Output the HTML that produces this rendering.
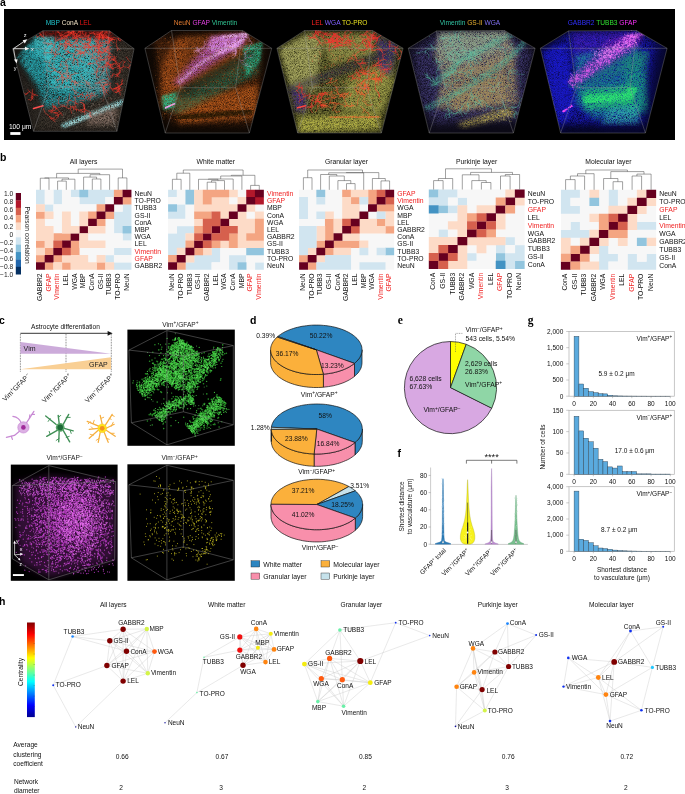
<!DOCTYPE html>
<html><head><meta charset="utf-8"><style>
html,body{margin:0;padding:0;background:#fff;}
body{width:685px;height:794px;overflow:hidden;}
svg{display:block;font-family:"Liberation Sans",sans-serif;opacity:0.999;}
</style></head><body>
<svg width="685" height="794" viewBox="0 0 685 794">
<text x="0" y="5.9" font-size="10.5" font-weight="bold">a</text>
<rect x="4" y="9" width="671" height="131" fill="#000"/>
<defs>
<filter id="b1" x="-20%" y="-20%" width="140%" height="140%"><feGaussianBlur stdDeviation="1"/></filter>
<filter id="b2" x="-20%" y="-20%" width="140%" height="140%"><feGaussianBlur stdDeviation="2"/></filter>
<filter id="b3" x="-30%" y="-30%" width="160%" height="160%"><feGaussianBlur stdDeviation="3.5"/></filter>
<filter id="t1" x="-30%" y="-30%" width="160%" height="160%" color-interpolation-filters="sRGB"><feGaussianBlur in="SourceGraphic" stdDeviation="1.2" result="b"/><feTurbulence type="fractalNoise" baseFrequency="1.6" numOctaves="2" seed="3" result="n"/><feColorMatrix in="n" type="matrix" values="0 0 0 0 1 0 0 0 0 1 0 0 0 0 1 2.2 0 0 0 -0.45" result="m"/><feComposite in="b" in2="m" operator="in"/></filter>
<filter id="t2" x="-10%" y="-10%" width="120%" height="120%" color-interpolation-filters="sRGB"><feGaussianBlur in="SourceGraphic" stdDeviation="2.5" result="b"/><feTurbulence type="fractalNoise" baseFrequency="1.5" numOctaves="2" seed="7" result="n"/><feColorMatrix in="n" type="matrix" values="0 0 0 0 1 0 0 0 0 1 0 0 0 0 1 2.2 0 0 0 -0.45" result="m"/><feComposite in="b" in2="m" operator="in"/></filter>
<filter id="t3" x="-10%" y="-10%" width="120%" height="120%" color-interpolation-filters="sRGB"><feGaussianBlur in="SourceGraphic" stdDeviation="4" result="b"/><feTurbulence type="fractalNoise" baseFrequency="1.4" numOctaves="2" seed="11" result="n"/><feColorMatrix in="n" type="matrix" values="0 0 0 0 1 0 0 0 0 1 0 0 0 0 1 2.0 0 0 0 -0.35" result="m"/><feComposite in="b" in2="m" operator="in"/></filter>
</defs>
<clipPath id="cv0"><polygon points="43.0,30.7 109.4,30.7 134.1,48.7 117.0,131.3 33.5,131.3 12.6,48.7"/></clipPath>
<g clip-path="url(#cv0)"><polygon points="43.0,30.7 109.4,30.7 134.1,48.7 117.0,131.3 33.5,131.3 12.6,48.7" fill="#161310" opacity="1"/>
<polygon points="107.5,36.4 136.0,45.9 122.7,131.3 33.5,131.3 37.3,100.9 111.3,93.3" fill="#3e372f" opacity="1" filter="url(#t3)"/>
<polygon points="16.4,59.2 37.3,87.6 43.0,110.4 35.4,131.3 22.1,100.9" fill="#2e2a25" opacity="1" filter="url(#t3)"/>
<polygon points="33.5,39.2 109.4,37.3 108.4,93.3 84.7,100.9 61.9,104.7 44.9,108.5 37.3,87.6 27.8,72.4 21.1,63.0 22.1,53.5" fill="#2498a2" opacity="1" filter="url(#t2)"/>
<polygon points="77.1,42.1 111.3,40.2 109.4,91.4 84.7,97.1" fill="#7a9ea0" opacity="0.55" filter="url(#t2)"/>
<polygon points="41.1,30.3 111.3,30.3 115.1,39.2 39.2,40.2" fill="#701410" opacity="0.95" filter="url(#t1)"/>
<polygon points="43.0,40.2 96.1,38.3 94.2,81.9 67.6,93.3 48.7,87.6" fill="#38bcc2" opacity="0.9" filter="url(#t2)"/>
<polygon points="33.5,36.4 54.3,36.4 50.5,63.0 35.4,55.4" fill="#46c8cc" opacity="0.8" filter="url(#t1)"/>
<path d="M18.3,57.3 L33.5,42.1" stroke="#2aa8b0" stroke-width="3" fill="none" stroke-linecap="round" stroke-linejoin="round" opacity="0.8" filter="url(#t1)"/>
<path d="M21.7,61.4 L36.1,45.9" stroke="#2aa8b0" stroke-width="3" fill="none" stroke-linecap="round" stroke-linejoin="round" opacity="0.8" filter="url(#t1)"/>
<path d="M25.1,65.6 L38.8,49.7" stroke="#2aa8b0" stroke-width="3" fill="none" stroke-linecap="round" stroke-linejoin="round" opacity="0.8" filter="url(#t1)"/>
<path d="M28.5,69.8 L41.4,53.5" stroke="#2aa8b0" stroke-width="3" fill="none" stroke-linecap="round" stroke-linejoin="round" opacity="0.8" filter="url(#t1)"/>
<path d="M32.0,74.0 L44.1,57.3" stroke="#2aa8b0" stroke-width="3" fill="none" stroke-linecap="round" stroke-linejoin="round" opacity="0.8" filter="url(#t1)"/>
<path d="M35.4,78.1 L46.8,61.1" stroke="#2aa8b0" stroke-width="3" fill="none" stroke-linecap="round" stroke-linejoin="round" opacity="0.8" filter="url(#t1)"/>
<path d="M38.8,82.3 L49.4,64.9" stroke="#2aa8b0" stroke-width="3" fill="none" stroke-linecap="round" stroke-linejoin="round" opacity="0.8" filter="url(#t1)"/>
<path d="M63.8,125.6 L122.7,101.9" stroke="#7cc4c8" stroke-width="5" fill="none" stroke-linecap="round" stroke-linejoin="round" opacity="1" filter="url(#t1)"/>
<path d="M67.6,124.8 L118.9,104.0" stroke="#d0f0f0" stroke-width="1.8" fill="none" stroke-linecap="round" stroke-linejoin="round" opacity="0.8" filter="url(#t1)"/>
<polygon points="86.6,114.2 117.0,105.7 115.1,123.7 88.5,125.6" fill="#a08478" opacity="0.7" filter="url(#t2)"/>
<path d="M77.3 37.1L78.4 36.4L79.3 35.4L80.1 34.4L80.5 33.2L80.4 31.9L80.9 30.6L81.4 29.5L82.0 28.3L82.7 27.2L83.7 26.4L84.5 25.4L85.4 24.5L86.0 23.3M84.5 25.4L85.5 24.6L86.6 23.9L87.3 22.8L88.2 21.8L88.5 20.6L88.3 19.3M88.3 19.3L89.5 18.8L90.3 17.8L91.4 17.1M85.5 24.6L86.5 25.5L87.8 25.8L88.9 26.5M83.7 26.4L83.4 25.2L83.8 23.9L83.6 22.6L82.9 21.6L82.3 20.4L81.3 19.6M82.9 21.6L82.6 20.3L81.7 19.3L80.6 18.6M116.7 39.8L116.6 41.1L116.1 42.3L116.2 43.6L116.6 44.9L116.7 46.2L117.0 47.4M117.0 47.4L118.0 48.3L119.0 49.1L120.0 49.9M118.0 48.3L117.5 49.5L117.5 50.8M105.0 33.5L105.9 34.5L106.3 35.8L106.7 37.0L107.5 38.0L108.4 38.9L108.8 40.2L109.2 41.4L108.9 42.7L108.2 43.7L107.7 45.0L107.7 46.3L108.0 47.5L108.2 48.8L108.4 50.1M108.2 48.8L107.2 49.7L106.0 50.1L104.7 49.9L103.4 49.9L102.3 50.5L101.5 51.5L100.3 52.1M100.3 52.1L99.7 50.9L99.3 49.7L99.6 48.4M101.5 51.5L100.2 51.5L99.0 50.9L98.1 50.0M108.0 47.5L107.1 48.5L106.5 49.7L105.7 50.7L104.5 51.3L103.5 52.0L102.3 52.7L101.1 52.9M101.1 52.9L100.8 54.2L100.4 55.4L100.4 56.7M100.4 56.7L99.4 57.6L98.3 58.1M100.8 54.2L101.2 55.4L101.8 56.6M105.7 50.7L106.6 51.6L107.2 52.7L108.2 53.6M107.7 46.3L106.9 47.3L106.6 48.6L105.8 49.6L104.6 50.2L103.7 51.1L103.1 52.2L102.5 53.4M106.6 48.6L105.3 48.9L104.0 48.7L102.8 48.5M102.8 48.5L101.6 49.2L100.7 50.1M108.9 42.7L107.7 43.0L106.4 43.1L105.2 43.7L104.2 44.5L103.0 45.0L102.1 45.9L101.0 46.6M102.1 45.9L100.8 45.4L99.7 44.9L98.4 44.6M99.7 44.9L98.4 45.3L97.1 45.4M100.8 45.4L99.6 45.9L98.8 46.8M106.7 37.0L107.9 37.6L108.6 38.7L109.2 39.9L109.4 41.1L109.5 42.4L110.0 43.6L109.8 44.9M108.6 38.7L108.2 39.9L108.1 41.2L107.5 42.4M107.9 37.6L108.8 38.6L109.6 39.5L110.5 40.5M110.5 40.5L111.6 39.8L112.9 39.4M78.7 42.1L79.9 41.8L81.2 42.1L82.2 42.9L83.1 43.9L83.9 44.8L84.9 45.7L85.4 46.9L85.4 48.2L85.4 49.5L85.8 50.7L86.2 52.0L87.2 52.9L88.1 53.8L88.7 54.9M83.9 44.8L83.8 46.1L84.4 47.3L85.0 48.5L85.0 49.8L85.1 51.1L84.6 52.3L84.0 53.4M84.0 53.4L82.8 53.0L81.5 53.1L80.2 53.4M81.5 53.1L80.3 52.8L79.0 52.9M82.8 53.0L81.7 53.8L80.6 54.4M85.1 51.1L84.1 51.8L83.0 52.6L81.9 53.3M83.0 52.6L83.6 53.7L84.0 55.0M84.0 55.0L83.3 56.0L82.2 56.7M82.2 42.9L83.4 43.4L84.7 43.5L85.9 43.8L87.2 43.6L88.4 43.2L89.5 42.4L90.6 41.8M90.6 41.8L90.6 40.5L90.4 39.2L90.4 37.9M118.8 40.2L118.6 38.9L118.1 37.7L118.0 36.4L118.5 35.2L119.2 34.1L119.9 33.0L120.5 31.9L120.4 30.6L120.8 29.4L121.2 28.1L121.4 26.8L121.1 25.5L120.2 24.6M119.2 34.1L119.4 32.9L120.0 31.7L120.5 30.5L121.1 29.4L122.0 28.4L123.2 28.0M118.5 35.2L118.5 33.9L118.4 32.6L118.8 31.4L119.6 30.3L120.2 29.2L120.3 27.9M118.6 38.9L119.3 37.8L120.4 37.1L121.6 36.6L122.9 36.3L124.1 36.0L125.4 36.5M120.4 37.1L121.3 38.0L121.6 39.3L122.2 40.4M121.6 39.3L122.9 39.0L124.1 38.6M124.1 38.6L125.4 38.9L126.6 39.1M119.3 37.8L120.4 38.5L121.7 38.6L122.9 39.1M122.9 39.1L124.2 39.1L125.5 39.3M120.4 38.5L120.4 39.8L120.7 41.0M66.7 36.7L65.4 36.8L64.1 36.5L62.9 37.0L62.0 37.9L61.3 39.0L60.6 40.1L60.1 41.3L59.9 42.6L60.1 43.9L60.9 44.9M60.9 44.9L60.3 46.0L59.4 47.0L58.8 48.1L58.3 49.4L57.9 50.6M58.8 48.1L59.0 49.4L58.8 50.7M59.4 47.0L58.3 46.2L57.5 45.2M62.0 37.9L61.0 38.7L59.7 39.1L58.6 39.7L57.3 40.0L56.0 40.3M100.1 32.9L99.6 34.0L99.4 35.3L99.2 36.6L99.4 37.9L99.0 39.1L98.7 40.4L98.5 41.7L98.4 43.0L97.7 44.1M98.5 41.7L99.6 42.4L100.7 43.0L101.4 44.1L102.0 45.3M100.7 43.0L102.0 43.0L103.3 42.7M103.3 42.7L104.6 42.7L105.9 42.7M99.2 36.6L100.4 37.1L101.7 37.0L103.0 37.1L104.2 37.6M103.0 37.1L103.2 38.4L103.2 39.7M99.4 35.3L99.5 36.6L99.7 37.9L99.3 39.2L99.2 40.5M99.6 34.0L99.2 35.3L99.1 36.6L98.8 37.8L99.0 39.1M44.8 38.4L43.9 37.5L42.9 36.7L42.1 35.6L41.1 34.7L40.2 33.8L39.5 32.8L38.3 32.2L37.4 31.2L36.2 30.8M37.4 31.2L36.3 31.8L35.5 32.9L34.8 34.0L34.1 35.1M41.1 34.7L39.9 35.2L38.8 35.9L37.9 36.8L36.7 37.4M37.9 36.8L36.8 36.0L36.1 34.9M42.9 36.7L41.6 36.2L40.7 35.4L40.2 34.1L39.8 32.9M103.9 35.5L102.9 36.4L102.2 37.5L101.5 38.5L100.3 39.2L99.1 39.5L98.0 40.3L96.8 40.6L95.8 41.4M102.9 36.4L101.8 35.7L100.6 35.4L99.3 35.0L98.1 34.6M76.5 40.9L75.4 41.5L74.2 42.0L73.0 42.6L71.7 42.5L70.5 42.0L69.2 41.9L68.0 41.5L67.0 40.6L66.4 39.5L65.7 38.3M67.0 40.6L65.8 41.3L64.8 42.0L64.1 43.1L63.1 43.9L62.6 45.1M63.1 43.9L61.8 44.1L60.6 43.7M60.6 43.7L59.5 44.3L58.8 45.4M69.2 41.9L68.7 40.7L68.4 39.5L67.8 38.3L67.0 37.2L65.9 36.6M70.5 42.0L69.6 42.9L68.6 43.8L67.8 44.8L66.6 45.2L65.7 46.2M65.7 46.2L65.7 47.5L65.0 48.6M68.6 43.8L67.4 43.6L66.1 43.4M67.4 43.6L66.4 42.7L66.0 41.5M97.6 41.0L97.7 42.2L97.3 43.5L96.7 44.6L95.9 45.7L94.7 46.2L93.4 46.4L92.2 46.1L90.9 46.4L89.8 47.0L89.1 48.2L88.3 49.1L87.9 50.4M88.3 49.1L88.8 50.3L89.5 51.5L89.9 52.7L89.9 54.0L90.1 55.3L91.0 56.2M92.2 46.1L91.0 46.8L89.8 47.1L88.5 47.2L87.3 47.6L86.0 48.0L84.8 48.5M88.5 47.2L87.2 47.0L85.9 47.1L84.7 47.5M96.7 44.6L97.0 45.9L97.1 47.2L96.6 48.4L95.8 49.5L95.0 50.5L94.6 51.7M95.0 50.5L95.6 51.7L96.6 52.4L97.8 52.9M77.3 39.0L77.3 40.3L77.0 41.6L76.9 42.9L76.3 44.0L75.6 45.1L75.3 46.3L75.6 47.6L75.2 48.9L75.4 50.2L75.1 51.4L74.7 52.6L73.9 53.7L73.6 54.9L73.2 56.2M73.2 56.2L73.6 57.4L73.9 58.7L74.1 59.9L74.2 61.2L73.9 62.5L73.7 63.8L72.9 64.9M74.1 59.9L73.4 61.0L72.7 62.1L71.9 63.1M73.9 58.7L75.0 59.2L76.3 59.6L77.5 60.0M76.3 59.6L76.9 60.7L78.0 61.5M78.0 61.5L77.7 62.7L77.5 64.0M77.5 64.0L78.2 65.1L78.4 66.4M73.9 53.7L72.6 53.4L71.3 53.3L70.0 53.1L69.0 52.4L67.9 51.7L66.6 51.6L65.3 51.8M69.0 52.4L67.9 53.1L66.6 53.4L65.4 53.9M70.0 53.1L69.0 52.4L67.9 51.7L67.3 50.6M69.0 52.4L68.3 51.3L68.2 50.0M75.6 47.6L76.9 47.5L78.1 47.2L79.2 46.5L80.5 46.5L81.8 46.6L82.9 47.3L83.8 48.3M82.9 47.3L84.1 46.6L85.4 46.5L86.5 47.1M76.9 42.9L77.8 43.8L78.6 44.8L79.0 46.1L79.7 47.2L80.0 48.4L80.8 49.5L81.0 50.7M77.8 43.8L78.4 44.9L79.4 45.7L80.5 46.5M80.5 46.5L81.4 45.6L82.1 44.5M77.3 40.3L76.2 41.0L75.4 42.0L74.2 42.6L73.5 43.7L72.5 44.5L71.3 44.8L70.2 45.5M75.4 42.0L75.3 43.3L74.9 44.5L74.5 45.8M76.2 41.0L75.5 39.9L74.9 38.8L73.9 38.0M55.5 37.6L55.5 38.9L55.3 40.2L55.4 41.5L55.0 42.7L54.9 44.0L54.2 45.1L53.9 46.4L53.2 47.5L52.3 48.4L51.9 49.6L51.5 50.9L51.4 52.1L51.1 53.4M51.4 52.1L50.2 52.7L48.9 52.8L47.6 52.7L46.3 52.8L45.0 52.9L43.7 52.9M51.9 49.6L52.9 50.5L53.6 51.5L53.8 52.8L54.1 54.1L54.9 55.1L55.2 56.4M55.2 56.4L54.4 57.4L53.2 57.9L52.0 58.1M53.8 52.8L54.6 53.8L55.8 54.4L57.0 54.9M57.0 54.9L58.1 54.1L59.2 53.5M59.2 53.5L59.9 54.5L60.6 55.7M53.9 46.4L54.3 47.6L55.1 48.6L55.4 49.9L55.8 51.1L56.6 52.2L57.7 52.8M55.8 51.1L55.6 52.4L55.6 53.7L55.0 54.9M54.2 45.1L53.1 44.5L51.9 43.9L50.6 43.8L49.3 43.5L48.1 43.1L46.8 43.3M46.8 43.3L45.5 42.9L44.2 43.1L43.0 42.7M50.6 43.8L49.4 44.4L48.5 45.3L47.4 46.0M51.9 43.9L51.6 42.7L50.9 41.6L49.8 40.9M74.1 36.1L74.0 34.9L74.1 33.6L73.8 32.3L73.2 31.2L72.4 30.1L72.1 28.8L71.6 27.7L70.7 26.7L69.8 25.8L68.6 25.4L67.4 24.9L66.1 24.9L64.8 25.1L63.6 25.7M69.8 25.8L69.5 24.5L69.3 23.2L68.7 22.1L67.8 21.1L66.7 20.5L65.5 20.1L64.3 19.6M70.7 26.7L69.4 26.4L68.2 26.2L67.1 25.5L66.4 24.3L65.4 23.6L64.7 22.4L64.0 21.4M65.7 38.9L66.2 37.7L67.0 36.7L67.7 35.6L67.9 34.3L68.2 33.0L68.4 31.7L69.1 30.7M90.6 37.8L89.9 38.9L89.4 40.1L89.6 41.4L89.9 42.6L90.7 43.7L91.7 44.4L93.0 44.9L94.2 45.3L95.2 46.2L96.4 46.5L97.6 47.0L98.5 48.0M98.5 48.0L98.4 49.3L98.5 50.6L98.6 51.9L98.8 53.1L98.5 54.4L97.7 55.4M96.4 46.5L97.6 45.9L98.7 45.2L99.7 44.4L100.3 43.2L100.7 42.0L101.0 40.7M95.2 46.2L95.0 47.4L95.2 48.7L95.6 50.0L96.3 51.0L97.4 51.8L98.7 52.0M93.0 44.9L93.6 46.0L94.6 46.8L95.4 47.8L96.5 48.5L97.8 48.8L99.0 49.4M96.5 48.5L97.8 48.4L99.0 47.8L100.2 47.3M99.0 47.8L100.3 48.1L101.3 48.9M97.8 48.4L98.0 47.1L98.7 46.0M98.0 47.1L99.2 46.5L100.5 46.3M93.6 46.0L93.0 47.2L92.3 48.3L92.1 49.6M92.1 49.6L92.6 50.8L93.1 52.0M93.1 52.0L94.3 52.5L95.5 53.0M89.6 41.4L89.3 42.6L88.9 43.9L89.1 45.2L89.9 46.2L91.0 46.9L91.6 48.0M89.1 45.2L88.6 46.4L88.0 47.6L87.9 48.9M89.9 38.9L88.8 38.3L87.5 38.2L86.2 38.4L84.9 38.5L83.8 39.3L82.5 39.4M94.2 33.8L95.5 33.7L96.6 33.0L97.9 32.9L99.1 33.2L100.4 33.3L101.6 33.9L102.3 35.0L102.7 36.2L102.5 37.5L102.5 38.8L102.3 40.1L102.3 41.4L102.5 42.7L102.1 43.9M102.5 37.5L103.7 38.2L104.6 39.1L105.2 40.2L105.7 41.4L106.3 42.6L107.3 43.3L108.6 43.4M108.6 43.4L109.5 42.4L110.1 41.2L111.1 40.5M109.5 42.4L109.5 41.1L110.0 39.9M110.0 39.9L111.3 39.6L112.5 39.1M105.7 41.4L107.0 41.6L108.2 41.7L109.5 41.3M102.3 35.0L101.4 36.0L100.4 36.8L99.4 37.6L98.4 38.4L97.4 39.3L96.3 40.0L95.3 40.9M96.3 40.0L96.9 41.2L97.6 42.3L97.9 43.6M96.9 41.2L96.3 42.3L95.9 43.6M99.4 37.6L98.1 37.9L96.8 38.1L95.6 37.9M97.9 32.9L98.0 34.1L97.7 35.4L96.8 36.3L96.1 37.5L95.6 38.7L94.6 39.5L93.9 40.6M96.8 36.3L97.6 37.3L98.1 38.5L99.0 39.5M107.9 39.5L106.8 38.7L105.7 38.1L104.9 37.1L103.9 36.2L103.1 35.2L101.8 34.8L100.6 34.7M103.1 35.2L104.0 34.4L104.6 33.2L105.2 32.0M105.2 32.0L106.4 32.4L107.6 32.9M106.8 38.7L106.1 37.6L105.1 36.8L103.8 36.6M62.6 34.6L61.4 34.1L60.4 33.3L59.2 32.7L58.0 32.2L57.1 31.3L56.1 30.5L55.6 29.2L55.4 28.0L55.3 26.7L55.7 25.4M58.0 32.2L58.1 30.9L58.1 29.6L58.0 28.3L58.0 27.0L57.4 25.8M64.3 35.7L65.6 35.6L66.9 35.3L68.1 35.5L69.4 35.3L70.6 34.7L71.3 33.6L71.9 32.4L72.6 31.4L73.8 30.8L74.4 29.6M69.4 35.3L70.1 34.2L70.7 33.1L71.5 32.0L72.7 31.5L74.0 31.7M65.6 35.6L66.8 35.1L68.1 34.9L69.2 34.2L70.1 33.3L70.8 32.2M58.9 34.9L60.0 35.5L61.3 35.4L62.6 35.5L63.7 36.2L64.3 37.4L64.4 38.7L64.9 39.8L65.7 40.9L65.9 42.2L66.1 43.5L66.2 44.8L66.9 45.9M66.2 44.8L67.3 45.5L68.6 45.8L69.8 45.5L71.1 45.1L72.3 44.7L73.3 43.8M66.1 43.5L67.3 43.9L68.5 44.2L69.7 44.8L70.5 45.8L71.7 46.3L72.7 47.1M72.7 47.1L74.0 46.8L75.3 46.6L76.6 46.8M71.7 46.3L72.5 45.4L73.4 44.4L74.2 43.4M65.9 42.2L65.3 43.4L64.7 44.5L64.4 45.8L64.4 47.1L64.5 48.4L64.7 49.6M64.7 44.5L65.2 45.7L65.9 46.9L66.1 48.1M65.2 45.7L66.2 46.6L67.4 47.1M66.2 46.6L66.2 47.9L66.7 49.1M66.2 47.9L65.2 48.8L64.0 49.1M106.7 33.1L106.6 31.8L106.4 30.5L105.7 29.4L105.4 28.2L105.2 26.9L104.5 25.8M105.7 29.4L105.6 28.1L105.1 26.9L104.1 26.1M104.1 26.1L102.8 26.5L101.5 26.6M102.8 26.5L101.9 25.5L100.7 25.1M100.1 37.3L101.4 37.2L102.6 37.8L103.9 37.8L105.2 37.8L106.4 37.5L107.7 37.2L109.0 37.2L110.1 37.8L111.0 38.8L111.6 39.9L112.0 41.2L112.8 42.2L114.0 42.7M107.7 37.2L108.8 37.8L110.1 37.9L111.4 37.9L112.6 38.5L113.6 39.4L114.6 40.1M81.8 36.2L80.7 35.4L79.4 35.3L78.2 35.0L77.1 34.3L76.0 33.7L74.8 33.1L73.5 32.9L72.2 33.0M72.2 33.0L71.0 32.4L69.9 31.7L68.6 31.6L67.3 31.7M75.8 37.7L74.9 36.8L74.0 35.8L73.4 34.7L72.4 33.8L71.3 33.2L70.0 33.0L68.9 32.4L67.6 32.4L66.3 32.8L65.1 33.1L64.1 34.0L63.0 34.7M71.3 33.2L71.6 31.9L71.7 30.6L72.1 29.4L73.0 28.4L73.6 27.2L73.5 25.9M73.4 34.7L73.6 33.4L73.4 32.1L72.7 31.1L72.5 29.8L72.8 28.5L73.2 27.3M72.5 29.8L73.4 28.9L74.5 28.1L75.7 27.8M73.4 32.1L73.5 30.8L73.3 29.5L72.8 28.3M71.1 39.0L72.1 38.3L73.4 38.0L74.7 38.4L76.0 38.5L77.3 38.4L78.4 37.8L79.7 37.4L80.9 37.7L82.0 38.5L83.0 39.3L83.9 40.2L84.2 41.5L85.0 42.5L85.8 43.5M85.0 42.5L85.9 43.4L87.1 43.9L88.4 44.1L89.4 44.9L89.9 46.1L90.0 47.4L90.6 48.5M83.0 39.3L84.3 39.4L85.6 39.7L86.6 40.5L87.8 40.7L89.1 40.3L90.3 39.9L91.6 39.9M89.1 40.3L88.7 39.1L88.7 37.8L88.5 36.5M88.7 39.1L87.5 39.7L86.5 40.6M87.8 40.7L88.1 42.0L88.1 43.3L88.4 44.6M86.6 40.5L87.4 39.5L88.0 38.4L88.1 37.1M87.4 39.5L88.7 39.8L90.0 40.1M79.7 37.4L81.0 37.6L82.2 37.1L83.5 37.0L84.5 36.2L85.2 35.1L85.8 34.0L85.9 32.7M76.0 38.5L76.6 37.3L76.7 36.0L76.6 34.7L76.2 33.5L75.4 32.5L74.7 31.4L73.6 30.8M76.7 36.0L78.0 36.2L79.2 35.8L80.2 34.9M78.0 36.2L79.2 35.8L80.5 36.1M73.4 38.0L74.5 37.2L75.2 36.1L76.1 35.2L77.0 34.3L77.5 33.1L78.5 32.2L79.6 31.6M79.6 31.6L80.8 31.3L82.1 31.0L83.4 31.1M78.5 32.2L78.8 31.0L79.7 30.0L81.0 29.6M78.8 31.0L78.0 30.0L77.4 28.8M77.4 28.8L78.6 28.2L79.8 27.8M75.2 36.1L74.4 35.1L74.3 33.8L73.5 32.7M74.5 37.2L75.7 37.7L76.9 38.1L77.8 39.0M77.8 39.0L77.4 40.3L77.1 41.5M75.7 37.7L76.6 36.8L77.0 35.6M89.9 34.9L88.8 35.6L87.6 36.1L86.3 36.1L85.1 35.7L84.1 34.9L83.0 34.1L82.4 33.0L82.5 31.7L82.5 30.4L82.9 29.1L83.5 28.0M88.8 35.6L87.5 35.9L86.5 36.7L85.3 37.1L84.0 37.2L82.7 37.5M107.2 37.2L108.5 37.6L109.6 38.2L110.9 38.6L112.1 38.3L113.3 37.7L114.6 37.5L115.8 37.9L117.1 38.2L118.1 39.0L119.1 39.8L119.7 40.9M69.0 32.9L68.8 34.2L68.1 35.3L67.1 36.1L65.9 36.5L64.8 37.4L64.0 38.4L62.9 38.9L61.6 39.3L60.4 39.8L59.1 39.8L57.9 40.3L56.8 41.0L56.0 42.0M62.9 38.9L61.9 38.1L61.2 37.0L60.8 35.8L60.3 34.6L59.6 33.4L58.5 32.8M80.4 41.2L81.2 42.2L82.0 43.3L83.1 44.0L84.4 44.3L85.7 44.2L87.0 44.3L88.1 45.0L88.7 46.2L89.6 47.1L90.3 48.2L90.7 49.4M84.4 44.3L85.4 45.1L86.3 46.0L87.0 47.1L88.1 47.9L89.3 48.4M86.3 46.0L87.4 45.2L88.6 44.9M87.4 45.2L88.7 45.4L89.7 46.2M112.5 31.6L111.3 31.9L110.0 32.1L108.8 31.8L107.5 31.7L106.4 31.0L105.1 30.7L103.8 31.0L102.6 31.2L101.4 31.8L100.6 32.8L100.3 34.1L99.4 35.1L99.1 36.3M99.1 36.3L97.9 36.7L96.7 36.5L95.5 35.8L94.7 34.8L94.3 33.6L93.4 32.6M100.6 32.8L101.2 34.0L101.9 35.0L102.3 36.3L102.6 37.5L103.2 38.7L103.1 40.0M103.8 31.0L103.5 29.8L102.9 28.6L102.8 27.3L102.1 26.2L101.3 25.3L100.4 24.3M102.1 26.2L102.7 25.1L102.9 23.8L103.2 22.5M102.9 28.6L104.0 27.9L105.0 27.1L106.2 26.8M73.4 38.3L73.0 37.1L72.7 35.9L72.3 34.6L71.6 33.5L70.5 32.8L69.7 31.8L68.7 30.9L67.6 30.3L66.3 30.1L65.2 29.5M115.5 39.2L114.3 39.6L113.0 39.6L111.7 39.4L110.5 38.8L109.4 38.2L108.4 37.3L107.5 36.4L106.3 35.9L105.0 35.6L104.0 34.8L103.1 33.9L102.2 33.0L101.1 32.3M102.2 33.0L102.3 31.7L102.5 30.4L102.8 29.1L102.8 27.8L102.3 26.7L102.0 25.4M102.3 31.7L101.8 30.5L101.0 29.5L100.2 28.4M100.2 28.4L100.4 27.1L100.7 25.9M89.4 33.0L90.6 33.4L91.8 33.8L93.1 33.5L94.4 33.8L95.6 34.3L96.9 34.6L98.2 34.4M90.6 33.4L91.6 32.7L92.9 32.3L94.2 32.0" stroke="#ff3a2e" stroke-width="0.5" fill="none" stroke-linecap="round" stroke-linejoin="round" opacity="0.95"/>
<path d="M105.8 52.2L105.0 51.2L104.6 50.0L103.8 49.0L103.0 47.9L102.3 46.8L101.3 45.9L100.3 45.2L99.2 44.5M99.2 44.5L98.5 43.4L97.5 42.6L96.4 41.9L95.2 41.6M95.2 41.6L94.8 40.4L94.2 39.2M111.0 83.5L109.8 82.9L108.8 82.1L107.8 81.3L106.8 80.4L105.7 79.7L104.5 79.3L103.2 79.6L101.9 79.7L100.8 80.4L99.7 81.1L98.7 82.0L97.6 82.6L96.4 83.0L95.1 83.4M110.3 65.0L109.0 65.2L107.7 64.9L106.4 64.9L105.1 65.1L104.1 65.9L103.0 66.7L101.7 66.9L100.5 67.1L99.2 66.7L98.3 65.8L97.9 64.6L97.2 63.5L96.6 62.3L96.6 61.0M96.6 61.0L95.6 60.2L94.7 59.3L93.8 58.4L93.2 57.2L92.6 56.1L92.2 54.8L92.5 53.5M93.8 58.4L92.6 58.0L91.3 57.9L90.0 58.3M92.6 58.0L91.5 58.7L90.8 59.8M94.7 59.3L95.3 58.2L95.4 56.9L95.9 55.7M96.6 62.3L97.5 61.3L98.6 60.7L99.7 60.1L101.0 60.0L102.3 60.3L103.6 60.0L104.8 59.5M103.6 60.0L104.1 58.8L104.8 57.7L105.6 56.7M105.6 56.7L106.8 56.2L107.8 55.4M106.8 56.2L107.8 57.0L108.3 58.3M97.9 64.6L96.7 64.0L95.7 63.2L94.4 63.0L93.1 62.9L91.9 63.5L90.8 64.2L89.6 64.7M91.9 63.5L90.6 63.3L89.3 63.1L88.0 63.1M89.3 63.1L88.3 63.9L87.5 64.9M90.6 63.3L89.4 63.7L88.4 64.6M99.2 66.7L98.2 67.6L97.5 68.7L97.3 70.0L97.5 71.2L97.1 72.5L96.6 73.6L96.5 74.9M111.5 45.4L110.2 45.7L109.0 46.2L107.8 46.7L106.7 47.4L105.8 48.3L105.3 49.5L104.4 50.4M106.7 47.4L105.5 47.7L104.3 48.3L103.4 49.2M107.8 46.7L107.8 48.0L107.6 49.3L106.8 50.3M109.0 46.2L108.9 47.5L109.3 48.7L109.4 50.0M117.9 68.4L119.1 68.1L120.4 68.1L121.6 67.5L122.8 67.1L124.1 66.7L125.4 67.0L126.7 67.0L127.9 67.5L129.0 68.2L129.7 69.3M127.9 67.5L129.1 67.0L129.9 65.9L130.8 65.0L131.7 64.1L132.4 63.0M131.7 64.1L132.9 64.8L133.6 65.9M129.9 65.9L129.2 64.8L128.3 63.9M122.8 67.1L123.3 65.8L123.2 64.5L123.7 63.4L124.4 62.3L125.5 61.5M124.4 62.3L123.7 61.2L122.8 60.3M109.7 84.6L110.3 85.7L110.5 87.0L111.1 88.2L112.2 88.8L113.5 88.8L114.8 88.6L116.1 88.2L117.2 87.6L118.5 87.3L119.4 86.3M114.8 88.6L115.7 89.5L116.8 90.2L118.1 90.5L119.1 91.3L119.8 92.4M119.8 92.4L120.1 93.7L120.2 95.0M113.5 88.8L114.8 88.3L115.9 87.8L117.2 87.7L118.4 88.2L119.7 88.5M109.4 87.6L110.6 88.0L111.5 89.0L112.3 90.0L113.2 91.0L114.2 91.8L115.4 92.3L116.7 92.3L117.9 91.8L118.8 90.9L119.5 89.8L119.7 88.5L120.4 87.4M119.5 89.8L119.0 88.6L118.9 87.3L119.4 86.1L120.3 85.2L121.4 84.4L122.6 83.8M121.4 84.4L121.5 83.1L121.9 81.9L122.5 80.7M121.9 81.9L122.1 80.6L122.2 79.3M119.4 86.1L120.3 85.1L121.4 84.5L122.5 83.8M116.7 92.3L117.7 91.4L118.2 90.2L118.7 89.0L119.1 87.8L118.9 86.5L118.9 85.2M118.2 90.2L117.3 89.3L116.4 88.3L116.0 87.1M115.4 92.3L116.7 92.0L117.8 91.4L119.1 91.4L120.3 90.8L121.4 90.2L122.4 89.3M112.3 90.0L113.4 89.3L114.7 88.9L115.6 88.0L116.8 87.6L118.0 87.0L119.2 86.5M118.0 87.0L118.0 85.7L117.9 84.4L117.8 83.1M117.9 84.4L116.8 83.8L115.5 83.5M114.7 88.9L115.9 88.8L117.2 89.2L118.5 89.1M118.5 89.1L119.7 88.5L120.6 87.7M112.9 56.6L111.6 56.7L110.3 56.9L109.0 56.7L107.7 57.0L106.7 57.8L106.2 59.0L105.9 60.2L105.8 61.5L106.4 62.7L107.5 63.4L108.7 63.7L110.0 63.9L111.2 64.4M107.5 63.4L107.3 64.7L106.7 65.9L105.7 66.7L104.5 67.2L103.3 67.6L102.0 67.7M104.5 67.2L103.7 68.2L103.6 69.5L104.0 70.8M106.7 65.9L107.9 66.5L108.8 67.5L109.5 68.6M106.2 59.0L104.9 59.1L103.6 59.3L102.3 59.3L101.0 59.2L99.7 59.1L98.4 59.3M102.3 59.3L101.4 60.2L100.3 61.0L99.1 61.5M113.0 68.8L111.9 68.1L111.2 67.0L110.5 65.9L109.5 65.1L108.5 64.2L108.1 62.9L107.8 61.7L107.9 60.4L108.3 59.2L109.3 58.3L110.5 57.9M108.3 59.2L109.4 58.4L110.0 57.3L110.2 56.0L109.6 54.8L109.3 53.6M108.1 62.9L108.7 61.8L109.1 60.5L109.2 59.2L109.8 58.1L110.3 56.9M110.5 65.9L109.9 64.7L108.9 64.0L107.6 63.7L106.4 64.0L105.2 64.6M107.6 63.7L106.9 62.6L105.9 61.8M105.8 63.0L107.1 62.7L108.2 62.0L109.5 61.8L110.5 61.0L111.3 60.0L112.5 59.5L113.8 59.4M113.8 59.4L114.8 58.5L115.7 57.6L116.4 56.5M107.7 84.2L106.4 84.6L105.2 85.2L104.2 85.9L103.6 87.1L103.3 88.3L102.8 89.6L103.0 90.8L103.8 91.9L104.4 93.0L105.3 94.0L106.1 95.0M103.0 90.8L103.6 92.0L103.8 93.3L104.0 94.6L104.2 95.9L103.9 97.1M103.3 88.3L104.5 88.7L105.7 89.1L106.6 90.1L107.9 90.4L108.9 91.3M106.6 90.1L106.2 91.3L106.2 92.6M121.7 61.7L120.6 62.5L119.9 63.6L119.6 64.8L119.4 66.1L119.6 67.4L119.9 68.6L119.9 69.9L120.0 71.2L120.0 72.5L119.5 73.7L118.6 74.6L117.9 75.8M120.0 72.5L118.8 72.9L117.6 73.5L116.6 74.3L115.3 74.5L114.1 74.0L112.8 74.1M112.8 74.1L112.7 75.4L112.2 76.6L111.5 77.7M112.7 75.4L111.4 75.8L110.2 76.1M116.6 74.3L117.2 75.5L118.1 76.3L119.3 76.9M119.9 69.9L120.1 71.2L119.6 72.5L118.8 73.5L117.9 74.4L117.5 75.6L117.2 76.9M117.9 74.4L117.1 75.4L116.1 76.2L114.9 76.8M119.4 66.1L118.2 66.7L116.9 66.9L115.7 67.4L114.5 67.8L113.5 68.6L112.2 69.0M112.2 69.0L111.4 68.0L110.8 66.8L110.1 65.8M110.8 66.8L110.9 65.5L110.3 64.4M111.4 68.0L110.2 67.6L109.0 67.0M113.5 68.6L112.7 67.5L112.7 66.2L111.9 65.1M118.2 66.7L117.2 65.8L116.4 64.9L115.1 64.5M119.9 63.6L118.6 63.2L117.4 62.8L116.4 61.9L115.3 61.2L114.2 60.5L112.9 60.5M114.2 60.5L114.0 59.3L114.2 58.0L113.9 56.7M114.0 59.3L112.8 58.8L111.5 58.6M112.8 58.8L111.7 59.5L110.5 59.9M122.6 69.9L121.7 69.0L120.5 68.4L119.7 67.4L118.9 66.4L118.4 65.2L117.4 64.3L116.5 63.4L116.0 62.2L115.0 61.3L114.1 60.4L113.7 59.2M116.0 62.2L116.1 60.9L115.8 59.6L115.3 58.4L114.5 57.4L114.3 56.1M118.4 65.2L117.6 64.2L116.5 63.5L115.2 63.3L114.0 63.7L112.7 63.8M114.0 63.7L113.0 64.5L112.0 65.3M113.0 64.5L111.7 64.3L110.5 64.8M126.4 57.0L127.2 58.1L127.9 59.2L128.6 60.3L129.5 61.2L130.5 62.0L131.7 62.6L133.0 62.5L134.3 62.8L135.5 63.2L136.6 63.9L137.8 64.4L139.1 64.6M139.1 64.6L139.7 63.5L140.3 62.3L141.4 61.6L142.6 61.2L143.6 60.4L144.2 59.2M143.6 60.4L144.2 59.2L144.4 57.9L144.7 56.7M135.5 63.2L135.9 62.0L136.3 60.7L137.1 59.7L137.5 58.5L137.2 57.2L137.5 55.9M101.1 85.3L101.8 86.4L102.9 87.1L103.7 88.1L104.1 89.4L104.6 90.5L105.7 91.3L106.7 92.0L107.3 93.2L108.1 94.2M112.7 54.9L111.5 54.5L110.5 53.6L109.3 53.3L108.0 53.0L107.0 52.1L105.8 51.8L104.5 51.4M106.3 63.5L105.7 64.7L105.7 66.0L106.4 67.1L106.5 68.4L106.5 69.7L106.6 71.0L106.6 72.3L107.1 73.5L107.4 74.7L108.1 75.8L108.5 77.1L109.1 78.2L109.8 79.3M111.6 48.3L111.0 49.4L110.0 50.2L108.9 50.9L107.8 51.6L106.5 51.5L105.2 51.5L104.0 52.1L102.8 52.6L101.5 52.5L100.3 52.2M101.5 52.5L100.6 51.6L99.8 50.6L99.1 49.5L98.5 48.3L98.1 47.1M98.5 48.3L99.4 47.4L99.7 46.1M99.8 50.6L98.7 51.4L98.0 52.5M98.0 52.5L98.1 53.8L97.5 55.0M108.9 50.9L109.2 52.2L109.0 53.5L108.7 54.7L108.5 56.0L108.8 57.3M109.2 52.2L110.2 53.0L111.1 54.0" stroke="#ff3a2e" stroke-width="0.5" fill="none" stroke-linecap="round" stroke-linejoin="round" opacity="0.95"/>
<path d="M58.0 86.3L58.9 85.4L60.2 85.1L61.3 84.4L62.3 83.5L62.9 82.4L63.2 81.1L63.0 79.8L63.5 78.6L64.4 77.7M62.9 82.4L62.4 81.2L62.1 80.0L61.5 78.8L61.1 77.6M62.3 83.5L62.3 82.2L62.7 81.0L62.4 79.7L62.0 78.5M77.9 73.5L76.6 73.3L75.4 73.0L74.1 73.2L73.1 74.1L71.8 74.4L70.6 74.1L69.4 73.5L68.5 72.6L67.9 71.4L67.5 70.2L67.5 68.9L67.0 67.7L66.5 66.5L65.8 65.4M65.8 65.4L66.3 64.2L66.5 63.0L66.7 61.7L67.1 60.4L68.1 59.6L69.0 58.7L70.1 58.0M68.5 72.6L67.3 73.0L66.1 73.5L64.9 73.9L63.6 74.2L62.3 74.5L61.1 74.0L59.8 74.1M62.3 74.5L61.9 75.7L61.1 76.7L60.9 78.0M61.1 76.7L62.3 77.3L63.1 78.3M61.9 75.7L62.1 77.0L62.8 78.1M67.3 73.0L67.2 74.3L67.6 75.5L68.1 76.8M76.6 73.3L75.4 73.7L74.2 74.3L73.0 74.8L71.8 75.2L70.9 76.2L70.1 77.1L69.6 78.4M71.7 68.0L70.6 67.3L69.6 66.4L68.4 65.9L67.4 65.2L66.2 64.6L65.4 63.5L65.4 62.2L65.5 60.9L66.2 59.9L66.9 58.8M66.9 58.8L68.1 59.3L69.4 59.2L70.5 58.5L71.8 58.2L72.8 57.4M70.5 58.5L71.1 59.7L71.4 60.9M73.7 90.7L72.9 89.8L72.2 88.7L71.4 87.7L70.2 87.1L69.0 86.5L67.8 86.0L66.5 85.8L65.3 86.1L64.2 86.9M85.9 56.9L85.8 55.6L85.4 54.4L84.9 53.2L84.1 52.2L82.9 51.6L81.7 51.4L80.4 51.2L79.1 51.0L78.0 50.3L76.7 50.0M80.4 51.2L79.9 52.4L79.3 53.6L78.2 54.3L77.0 54.7L75.8 55.1M79.9 52.4L80.3 53.6L81.2 54.6M82.9 51.6L81.7 51.4L80.4 51.4L79.1 51.6L77.8 51.4L76.6 50.8M77.8 51.4L77.1 50.3L75.9 49.7M84.1 52.2L82.8 52.4L81.6 52.7L80.3 53.1L79.1 53.5L77.8 53.5M80.7 48.4L80.0 49.6L79.0 50.4L78.7 51.7L78.1 52.9L77.9 54.1L77.3 55.3L76.7 56.5M78.1 52.9L76.9 53.3L75.9 54.1L74.7 54.6M75.9 54.1L75.9 55.4L75.8 56.7M79.0 50.4L77.7 50.4L76.5 50.6L75.4 51.3M97.7 95.5L96.4 95.9L95.1 96.1L93.9 96.4L92.7 97.0L91.4 97.0L90.1 97.3L88.9 97.7M95.1 96.1L94.5 94.9L94.4 93.7L94.8 92.5M72.2 81.1L71.8 82.3L71.4 83.5L71.6 84.8L71.9 86.1L72.7 87.1L72.8 88.4L73.3 89.6L74.0 90.7L74.5 91.9L74.5 93.2M74.5 93.2L75.8 93.5L77.0 94.1L77.7 95.1L78.2 96.3L78.5 97.6M73.3 89.6L74.3 90.4L75.4 91.1L76.3 92.1L77.6 92.5L78.8 92.8M76.3 92.1L75.7 93.2L74.6 93.9M75.4 91.1L76.5 90.3L77.5 89.5M79.8 52.5L80.0 53.8L80.2 55.1L79.9 56.3L79.9 57.6L80.2 58.9L80.8 60.0L81.2 61.3M81.2 61.3L82.3 61.9L83.6 62.3L84.9 62.1M79.9 56.3L79.0 57.3L78.3 58.4L77.7 59.5M96.8 84.1L98.0 83.5L99.1 83.0L100.3 82.3L101.6 82.3L102.8 82.7L104.1 82.5L105.3 82.1L106.5 81.5L107.6 80.8L108.5 80.0L109.4 78.9L110.2 77.9M102.8 82.7L104.1 82.4L105.4 82.6L106.6 83.0L107.7 83.6L109.0 84.1L110.2 84.4M104.1 82.4L105.1 83.2L105.9 84.2L106.5 85.4M99.1 83.0L100.3 83.6L101.3 84.4L102.3 85.2L103.4 85.9L104.2 87.0L104.5 88.2M104.2 87.0L103.9 88.2L104.0 89.5L104.5 90.7M103.4 85.9L104.4 85.1L105.6 84.5L106.9 84.4M105.6 84.5L106.8 84.9L108.1 85.0M104.4 85.1L105.7 85.2L107.0 85.0M101.3 84.4L101.2 85.7L101.4 87.0L102.2 88.0M96.8 76.9L96.5 75.6L96.3 74.3L96.5 73.0L96.3 71.8L96.3 70.5L96.6 69.2L97.5 68.2L98.1 67.1L98.8 66.0L99.4 64.8L99.8 63.6L99.8 62.3M86.7 52.5L88.0 52.6L89.1 53.2L90.2 53.9L91.4 54.4L92.6 54.9L93.5 55.9L94.5 56.7L95.5 57.5L96.8 57.8L98.1 57.7L99.2 57.1L100.4 56.7L101.7 56.9M101.7 56.9L102.6 55.9L103.7 55.2L104.3 54.1L105.2 53.1L105.7 51.9L105.7 50.6M98.1 57.7L98.7 56.6L98.7 55.3L99.1 54.0L98.9 52.8L99.1 51.5L99.6 50.3M99.1 54.0L98.3 53.0L97.4 52.1L96.8 50.9M95.5 57.5L96.8 57.8L97.9 58.5L99.1 58.9L100.4 58.7L101.5 58.0L102.2 56.9M91.4 54.4L92.4 53.6L93.5 52.9L94.6 52.2L95.1 51.0L95.1 49.7L94.9 48.4M54.7 69.0L53.4 68.6L52.2 68.3L51.0 67.8L49.8 67.3L49.1 66.2L48.9 64.9L49.5 63.7L49.7 62.4L50.2 61.2L50.2 59.9L50.4 58.6M49.7 62.4L48.4 62.3L47.3 61.7L46.0 61.3L44.7 61.3L43.5 61.1M103.1 71.9L102.1 72.6L101.3 73.7L100.8 74.9L100.0 75.9L99.1 76.8L98.0 77.5L96.8 78.1M92.3 74.2L93.5 73.9L94.7 73.3L95.5 72.3L96.7 71.8L97.9 71.3L99.1 70.8L100.4 71.0L101.7 71.1L103.0 71.2L104.3 71.1M95.5 72.3L94.7 71.2L94.4 70.0L93.6 69.0L93.3 67.7L92.6 66.6M82.6 85.9L81.3 85.5L80.1 85.1L79.0 84.4L78.0 83.6L76.9 82.9L76.0 81.9L75.0 81.1L74.5 79.9M75.0 81.1L73.7 80.9L72.4 80.9L71.2 81.3L70.1 82.0M78.0 83.6L76.7 83.5L75.5 84.0L74.3 84.6L73.5 85.6M76.7 83.5L75.9 82.5L75.0 81.5M80.1 85.1L78.9 85.8L77.7 86.0L76.4 85.7L75.2 85.3M75.2 85.3L74.8 84.0L74.3 82.9M74.3 82.9L74.8 81.7L75.8 80.8M74.8 84.0L75.5 83.0L75.5 81.7M80.8 74.9L81.3 76.0L82.2 77.0L82.9 78.1L83.5 79.3L84.4 80.2L85.6 80.6L86.6 81.6L87.8 82.0L88.9 82.7L90.2 82.9M88.9 82.7L88.7 84.0L89.1 85.2L89.9 86.3L90.6 87.3L90.7 88.6M85.6 80.6L85.8 81.9L86.4 83.1L87.4 83.9L88.7 84.2L90.0 84.2M86.4 83.1L87.5 83.8L88.2 84.9M86.2 86.2L85.7 85.0L85.2 83.8L84.2 82.9L83.0 82.4L81.8 82.0L80.5 81.9L79.2 81.9L77.9 82.1L76.6 82.4L75.3 82.7L74.1 82.5L72.9 81.8L72.1 80.8L71.7 79.6M74.1 82.5L73.2 81.5L72.1 80.8L71.5 79.7L70.8 78.6L70.4 77.3L70.6 76.0L70.2 74.8M63.3 79.0L63.4 77.7L62.9 76.4L62.2 75.4L61.5 74.2L60.6 73.3L59.5 72.6L58.5 71.8L57.2 71.6L55.9 71.4L54.8 70.7M54.8 70.7L54.6 69.4L53.8 68.4L53.3 67.2L52.7 66.1L52.6 64.8M52.6 64.8L51.8 63.7L51.0 62.7M62.9 76.4L61.7 77.0L60.7 77.7L59.5 78.4L58.8 79.4L57.7 80.1M58.8 79.4L57.5 79.7L56.2 79.7M57.5 79.7L57.8 80.9L58.2 82.2M59.5 78.4L58.5 77.6L57.9 76.5M54.6 68.9L55.2 70.0L56.0 71.1L57.1 71.7L58.2 72.3L59.4 72.8L60.3 73.8L61.3 74.7L62.3 75.5L63.3 76.3L64.0 77.4L64.8 78.4L65.7 79.4L66.6 80.3L67.7 81.0M64.0 77.4L65.2 78.0L66.4 78.1L67.7 78.4L68.9 78.8L70.2 78.8L71.4 78.1L71.9 77.0M67.7 78.4L68.3 77.2L68.3 75.9L68.2 74.6M68.3 77.2L68.0 76.0L67.1 75.0M68.0 76.0L66.7 75.6L65.4 75.6M66.4 78.1L67.1 77.0L67.5 75.8L68.5 74.9M67.1 77.0L68.3 76.6L69.6 76.7M68.3 76.6L69.1 75.6L70.3 75.1M65.2 78.0L66.1 78.9L66.5 80.1L66.6 81.4M59.4 72.8L60.4 71.9L61.1 70.9L61.9 69.8L62.7 68.8L63.8 68.1L65.0 67.9L66.3 68.0M65.0 67.9L65.7 69.0L66.5 70.1L67.6 70.7M58.2 72.3L59.4 71.8L60.7 71.9L61.9 72.5L63.0 73.2L64.2 73.6L65.4 74.0L66.6 74.6M55.2 70.0L54.3 70.9L53.0 71.3L51.8 71.4L50.5 71.7L49.2 71.3L48.0 71.0L46.7 70.6M67.9 64.8L67.4 66.0L67.5 67.3L67.3 68.6L67.3 69.9L66.9 71.1L66.5 72.4L66.0 73.6M66.9 71.1L65.8 71.8L64.9 72.7L63.7 73.4M67.4 66.0L66.1 66.0L64.9 65.4L64.0 64.5M64.0 64.5L64.2 63.2L63.8 61.9M63.8 61.9L62.6 61.5L61.3 61.6M61.3 61.6L61.2 62.9L60.6 64.1M60.6 64.1L60.5 65.4L60.0 66.6M60.5 65.4L61.7 65.8L63.0 66.2M62.6 47.0L63.6 46.1L64.2 45.0L64.8 43.8L65.3 42.6L65.9 41.5L67.1 40.8L68.2 40.3L69.5 40.2L70.8 40.0M67.1 40.8L67.8 41.9L68.3 43.1L69.3 44.0L70.5 44.5M65.3 42.6L66.6 42.8L67.7 43.5L68.9 43.8L70.1 44.4M68.9 43.8L69.8 44.8L70.9 45.5M67.7 43.5L69.0 43.8L70.2 44.1M69.0 43.8L69.8 44.8L70.2 46.0M70.2 46.0L69.9 47.3L70.0 48.6" stroke="#ff5a4a" stroke-width="0.45" fill="none" stroke-linecap="round" stroke-linejoin="round" opacity="0.8"/>
<path d="M37.6 95.5L36.4 95.2L35.2 94.7L33.9 94.4L32.7 94.0L31.8 93.0L30.6 92.5L29.8 91.5L28.8 90.6L27.9 89.7M29.8 91.5L28.6 92.1L27.6 92.9L26.5 93.6L25.4 94.2M25.4 94.2L24.4 93.3L23.4 92.4M27.6 92.9L27.0 94.0L25.9 94.7M32.7 94.0L31.9 95.0L31.7 96.3L31.9 97.6L31.8 98.9M31.9 95.0L32.3 96.3L33.1 97.3M33.9 94.4L33.0 93.5L32.4 92.3L32.3 91.0L32.5 89.7M35.2 94.7L34.2 95.6L33.0 96.1L32.0 97.0L30.8 97.4M32.0 97.0L32.4 98.2L33.1 99.3M32.4 98.2L31.9 99.4L30.8 100.2M30.8 100.2L29.7 99.7L28.4 99.6M48.7 110.6L49.9 110.2L51.2 110.5L52.4 110.8L53.7 110.6L55.0 110.3L56.0 109.4M56.0 109.4L55.8 108.2L55.6 106.9L55.0 105.7M55.6 106.9L54.3 106.7L53.0 106.3M53.0 106.3L52.9 105.0L52.7 103.7M79.8 102.3L81.1 102.4L82.2 102.9L83.4 103.5L84.3 104.4L84.6 105.7L84.6 107.0L84.5 108.3L84.2 109.6L84.2 110.9L84.6 112.1L85.1 113.3L84.8 114.6M84.5 108.3L85.0 109.5L86.0 110.4L87.2 110.8L88.4 111.2L89.4 112.1L90.5 112.6M90.5 112.6L90.0 113.8L89.8 115.1L90.0 116.4M89.8 115.1L90.7 116.0L91.1 117.3M84.3 104.4L83.9 105.7L84.0 107.0L84.6 108.1L85.0 109.4L84.9 110.7L84.2 111.8M84.2 111.8L82.9 111.8L81.7 112.0L80.4 111.8M82.9 111.8L82.1 110.8L81.0 110.2M81.0 110.2L79.7 110.4L78.4 110.7M81.1 102.4L82.3 102.9L83.2 103.8L83.6 105.0L83.9 106.3L84.3 107.5L84.2 108.8M84.2 108.8L83.1 109.4L81.8 109.7L80.5 109.8M75.7 102.4L75.2 103.6L75.0 104.9L75.2 106.2L75.8 107.3L76.3 108.5L76.6 109.8L76.5 111.1M53.8 105.7L53.6 107.0L53.2 108.2L53.0 109.5L52.8 110.8L52.3 112.0L51.5 113.0M53.0 109.5L51.9 110.2L51.2 111.3L51.1 112.6M51.2 111.3L49.9 111.6L48.7 111.2M53.6 107.0L54.8 107.4L55.8 108.3L57.0 108.7M72.5 106.1L72.7 107.4L73.4 108.5L74.5 109.1L75.8 109.5L77.0 109.8L78.3 109.5M80.3 100.3L81.6 100.2L82.8 100.5L84.1 100.2L85.0 99.3L85.5 98.1L85.5 96.8L86.1 95.6L87.1 94.9L87.7 93.7L87.7 92.4M87.1 94.9L87.8 96.0L88.4 97.1L88.6 98.4L89.5 99.4L90.2 100.5M86.1 95.6L87.4 95.4L88.6 95.1L89.8 94.5L90.8 93.7L91.9 93.0M91.9 93.0L92.7 94.0L93.1 95.2M93.1 95.2L91.8 95.6L90.6 96.0M90.6 96.0L90.6 97.3L91.0 98.5M89.8 94.5L90.9 95.0L91.9 95.9M85.5 96.8L84.4 96.1L83.3 95.3L82.2 94.7L81.0 94.2L79.7 94.0M81.0 94.2L80.1 95.1L79.3 96.2M79.3 96.2L78.0 96.3L76.7 96.2M82.2 94.7L82.5 93.4L83.0 92.2M83.3 95.3L82.4 96.3L81.8 97.4M70.1 105.6L70.5 106.9L70.3 108.2L70.4 109.4L70.9 110.7L71.4 111.9L71.5 113.2M70.5 106.9L71.8 106.9L73.1 107.0L74.2 107.7M74.2 107.7L73.9 109.0L73.2 110.1M73.1 107.0L74.3 106.7L75.6 106.5M78.2 104.0L76.9 103.7L75.8 103.1L74.7 102.3L73.6 101.6L72.4 101.2L71.3 100.6L70.0 100.3L68.7 100.6L67.6 101.2L66.6 102.0L65.8 103.0M68.7 100.6L68.1 101.7L67.9 103.0L67.5 104.2L67.2 105.5L66.3 106.5M70.0 100.3L69.7 99.0L69.4 97.7L69.6 96.4L69.8 95.1L69.7 93.9M76.9 103.7L76.0 102.8L75.5 101.6L75.6 100.3L75.2 99.1L75.4 97.8M75.4 97.8L74.7 96.7L73.9 95.7M43.6 108.6L43.7 109.9L44.5 111.0L44.7 112.3L45.6 113.2L46.7 113.9L47.5 114.9L48.7 115.5L49.6 116.4L50.8 117.0L51.8 117.8L52.9 118.5L54.1 119.1L55.3 119.6M49.6 116.4L50.0 117.6L50.7 118.7L51.9 119.3L52.7 120.3L53.9 120.9L55.1 121.5M50.7 118.7L52.0 118.4L53.2 118.0L54.5 117.9M69.5 108.5L68.2 108.4L67.0 107.9L65.8 107.4L64.9 106.4L64.1 105.5L62.8 105.0L61.5 105.1L60.3 104.8L59.2 104.0L58.3 103.1M58.3 103.1L58.5 101.8L58.4 100.5L58.9 99.3L59.2 98.0L59.5 96.7M64.9 106.4L63.7 106.6L62.4 106.5L61.1 106.6L59.9 107.3L58.7 107.6M55.9 107.5L57.0 108.4L57.7 109.4L58.5 110.5L59.3 111.5L60.4 112.2L61.1 113.2L61.8 114.3L62.3 115.5M61.1 113.2L60.1 114.0L58.8 114.3L57.6 113.9L56.7 113.0M57.6 113.9L56.3 113.8L55.0 113.5M58.8 114.3L58.3 115.5L58.2 116.7M58.2 116.7L57.1 117.4L56.3 118.5M58.3 115.5L57.0 115.5L55.8 115.7M59.3 111.5L58.3 112.4L57.0 112.7L55.7 112.7L54.5 112.5M55.7 112.7L54.5 112.6L53.2 112.7" stroke="#ff3a2e" stroke-width="0.5" fill="none" stroke-linecap="round" stroke-linejoin="round" opacity="0.95"/>
<path d="M55.3 79.5h0M72.8 39.5h0M62.2 56.3h0M95.9 86.2h0M106.9 47.1h0M57.4 60.5h0M64.8 49.7h0M94.4 36.7h0M79.7 45.0h0M64.4 55.2h0M74.6 97.0h0M93.3 64.1h0M110.6 52.7h0M55.8 77.4h0M95.6 83.1h0M77.6 83.0h0M65.7 97.6h0M93.5 88.1h0M79.8 95.6h0M75.0 97.8h0M73.3 97.8h0M64.7 69.7h0M81.2 71.9h0M100.6 91.1h0M55.4 81.9h0M78.9 62.5h0M50.9 95.1h0M110.5 83.1h0M82.0 41.7h0M64.9 57.6h0M48.9 60.6h0M68.0 63.0h0M47.7 44.9h0M108.0 72.2h0M58.9 65.4h0M67.8 67.7h0M55.1 84.4h0M106.7 76.9h0M108.5 89.0h0M79.7 70.1h0M90.2 60.1h0M48.2 65.6h0M98.8 79.9h0M45.7 89.7h0M46.2 69.9h0M55.1 55.8h0M58.7 76.1h0M91.5 93.5h0M77.5 40.3h0M45.6 41.9h0M51.7 47.7h0M63.2 46.1h0M101.1 59.6h0M75.7 87.0h0M55.3 68.7h0M45.8 67.7h0M106.4 73.0h0M63.6 77.3h0M77.3 68.5h0M86.4 82.3h0M103.8 99.4h0M108.6 88.7h0M89.6 88.0h0M56.2 49.1h0M100.5 64.5h0M44.4 84.5h0M52.1 54.0h0M105.9 48.6h0M99.4 53.6h0M97.2 61.0h0M81.4 80.5h0M92.0 49.8h0M88.8 47.1h0M59.7 86.6h0M53.4 63.1h0M50.7 74.0h0M54.9 59.7h0M109.8 65.1h0M77.2 38.5h0M60.9 43.2h0M85.3 46.3h0M55.1 45.6h0M93.6 78.5h0M62.9 56.7h0M61.8 71.7h0M81.9 44.9h0M53.4 76.8h0M62.1 79.3h0M55.0 42.7h0M47.7 91.7h0M79.6 37.6h0M67.3 77.1h0M57.9 90.1h0M43.3 70.3h0M82.2 48.6h0M110.4 71.6h0M51.9 85.1h0M44.9 80.4h0M100.0 77.6h0M44.5 40.5h0M99.7 91.0h0M61.4 96.3h0M98.5 43.3h0M103.4 37.3h0M65.1 49.9h0M57.3 68.6h0M46.1 98.7h0M57.3 80.4h0M67.0 95.6h0M81.3 68.4h0M94.9 72.7h0M73.8 47.6h0M97.6 76.9h0M74.6 100.2h0M74.7 84.2h0M54.1 59.6h0M86.1 53.1h0M111.0 100.3h0M87.0 82.8h0M61.5 86.2h0M101.8 66.0h0M81.6 78.6h0M60.0 39.3h0M55.4 70.3h0M86.5 91.6h0M61.3 47.2h0M71.6 46.9h0M60.6 67.9h0M89.7 43.2h0M54.8 66.8h0M78.6 47.7h0M88.1 72.8h0M108.8 97.9h0M85.8 42.1h0M78.6 53.9h0M62.0 41.3h0M90.2 78.7h0M61.7 51.3h0M110.8 72.1h0M90.6 52.3h0M107.3 82.8h0M77.7 43.6h0M72.8 38.0h0M57.3 86.8h0M50.6 49.6h0M66.3 98.8h0M54.2 63.2h0M79.3 39.3h0M81.4 40.9h0M64.8 57.2h0M111.1 64.7h0M63.4 57.6h0M63.5 46.8h0M64.5 81.0h0M67.0 51.2h0M45.6 87.2h0M63.3 53.8h0M100.9 98.9h0M80.6 40.9h0M100.1 85.6h0M44.1 55.0h0M100.0 67.1h0M55.0 99.9h0M57.5 48.0h0M90.4 100.1h0M91.3 37.7h0M44.3 50.2h0M88.4 98.3h0M50.8 79.5h0M89.1 38.3h0M104.6 56.6h0M68.5 87.5h0M80.1 76.8h0M46.9 76.5h0M53.2 89.6h0M95.9 78.3h0M87.0 99.4h0M99.6 82.6h0M67.6 37.2h0M111.3 40.5h0M45.9 74.8h0M110.8 65.1h0M57.2 37.6h0M54.0 59.8h0M66.8 53.7h0M103.0 100.9h0M109.8 49.0h0M90.6 47.0h0M74.5 68.7h0M64.5 87.0h0M58.0 88.2h0M95.3 77.0h0M48.2 44.2h0M98.0 98.2h0M59.3 79.4h0M94.7 92.5h0M52.3 49.6h0M47.2 81.1h0M67.4 81.4h0M54.2 77.6h0M61.6 64.7h0M83.3 97.7h0M56.0 86.9h0M46.4 47.8h0M90.6 41.7h0M100.4 93.7h0M57.9 82.0h0M87.3 99.5h0M76.8 60.1h0M103.0 53.6h0M105.4 59.8h0M70.8 90.3h0M94.7 48.3h0M88.0 100.2h0M70.3 72.4h0M87.8 82.8h0M69.6 60.9h0M55.1 76.8h0M65.5 87.1h0M46.0 85.4h0M53.9 92.4h0M99.2 59.4h0M49.7 50.0h0M57.2 99.5h0M98.1 37.9h0M43.5 72.5h0M74.0 72.0h0M100.4 90.4h0M52.2 98.9h0M74.3 66.7h0M53.3 51.8h0M55.7 54.5h0M80.1 53.0h0M61.4 43.5h0M47.7 95.2h0M72.9 65.6h0M51.9 99.9h0M43.8 87.0h0M45.9 55.0h0M76.2 65.8h0M91.1 73.2h0M90.9 40.7h0M63.0 54.1h0M75.9 63.4h0M50.3 44.7h0M47.1 39.9h0M87.2 98.6h0M83.5 49.1h0M84.7 68.3h0M62.3 88.3h0" stroke="#ff5048" stroke-width="0.6" stroke-linecap="round" opacity="0.7" fill="none"/>
<path d="M33.5,108.5 L43.0,105.7" stroke="#ff5050" stroke-width="1.6" fill="none" stroke-linecap="round" stroke-linejoin="round" opacity="1"/>
<path d="M76.9 106.4h0M64.5 104.5h0M114.5 111.7h0M103.4 112.0h0M77.0 107.9h0M90.9 106.5h0M91.3 97.9h0M84.0 100.6h0M89.2 113.2h0M113.8 123.6h0M112.8 110.6h0M78.7 122.9h0M68.7 108.6h0M65.5 121.8h0M104.4 125.2h0M72.5 122.5h0M101.6 113.7h0M87.2 121.6h0M88.9 125.8h0M114.6 108.3h0M92.6 110.2h0M113.3 123.1h0M84.7 108.3h0M80.0 117.3h0M99.8 116.0h0M91.6 117.5h0M62.3 111.6h0M101.4 119.3h0M108.3 104.0h0M114.7 126.5h0M97.3 122.0h0M73.1 102.8h0M74.3 113.3h0M112.8 107.8h0M115.1 122.3h0M64.5 98.0h0M118.8 112.3h0M106.3 123.3h0M79.2 97.6h0M111.3 125.4h0M84.7 117.2h0M62.6 125.6h0M96.7 126.8h0M101.1 108.0h0M72.2 112.7h0M111.2 113.3h0M92.6 103.8h0M70.3 104.4h0M79.3 111.4h0M115.6 105.4h0M74.9 119.6h0M115.3 104.3h0M78.9 109.7h0M65.4 99.9h0M93.3 104.6h0M75.2 121.6h0M89.4 114.2h0M99.3 119.7h0M114.4 126.6h0M68.3 119.6h0M63.4 100.7h0M76.5 101.1h0M70.6 104.2h0M108.2 121.0h0M90.5 113.8h0M104.5 115.1h0M66.3 111.1h0M73.5 111.4h0M117.6 103.1h0M80.3 114.8h0M99.5 106.4h0M84.4 112.3h0M114.9 98.6h0M112.6 114.0h0M114.1 109.0h0M99.0 97.8h0M74.6 116.8h0M80.7 112.8h0M117.9 114.1h0M100.0 114.3h0M76.3 127.1h0M83.6 97.8h0M86.1 109.7h0M73.7 110.1h0M66.1 125.7h0M91.6 105.8h0M93.1 115.1h0M84.1 121.7h0M87.9 125.1h0M105.6 118.2h0M71.2 118.5h0M117.7 121.8h0M64.4 105.7h0M62.0 117.3h0M112.4 118.0h0M99.7 113.6h0M103.5 113.7h0M107.4 101.9h0M88.7 116.2h0M65.8 114.2h0M114.1 99.8h0M103.7 118.9h0M112.6 126.5h0M98.2 115.3h0M89.0 110.5h0M96.2 107.4h0M107.4 113.7h0M86.7 112.8h0M102.3 122.5h0M108.3 118.6h0M75.8 97.1h0M68.8 99.7h0M90.8 99.5h0M88.9 120.1h0M87.0 123.6h0M82.4 111.8h0M77.0 101.1h0M94.8 100.9h0M70.3 105.9h0M103.4 126.8h0M74.3 104.4h0M117.1 114.7h0M107.3 127.5h0M99.5 104.6h0M117.8 124.2h0M62.1 126.5h0M98.9 104.2h0M88.9 106.3h0M106.1 109.3h0M66.8 124.1h0M80.8 102.4h0M101.8 101.1h0M96.4 110.6h0M68.9 126.1h0M101.4 98.8h0M113.2 116.7h0M108.8 120.6h0M71.6 106.7h0M71.8 121.8h0M115.9 114.5h0M99.9 126.8h0M91.6 110.5h0M77.9 127.1h0M68.9 102.9h0M110.4 97.9h0M73.2 113.2h0M75.4 108.8h0M63.4 117.4h0M66.2 105.9h0M67.7 118.2h0M74.3 114.0h0M63.8 114.3h0M81.4 124.7h0M73.0 106.1h0M111.4 99.0h0M89.9 111.9h0M78.5 102.2h0M90.3 98.0h0M62.5 105.8h0M83.4 105.0h0M102.4 109.7h0M96.6 115.0h0M102.4 125.4h0M93.9 118.2h0M93.6 99.4h0M109.4 113.2h0M64.2 119.7h0M90.5 125.9h0M85.7 111.4h0M112.9 125.3h0M105.8 110.6h0M86.5 119.5h0M113.0 111.0h0M101.9 114.2h0M93.3 103.6h0M78.0 104.9h0M118.0 97.9h0M74.4 103.3h0M108.4 117.5h0M79.5 100.4h0M100.3 119.8h0M98.5 118.8h0M96.0 98.0h0M107.2 123.6h0M71.5 108.7h0M117.9 126.8h0M108.5 122.7h0M70.9 123.7h0M108.8 103.2h0M113.9 121.8h0M114.1 124.4h0M67.2 102.3h0M107.8 102.4h0M81.8 121.1h0M109.2 109.3h0M85.4 118.3h0M118.6 116.2h0M81.7 104.4h0M72.6 115.7h0M102.9 103.9h0" stroke="#d8c8b8" stroke-width="0.6" stroke-linecap="round" opacity="0.5" fill="none"/></g>
<path d="M43.0 30.7L109.4 30.7M43.0 30.7L12.6 48.7M109.4 30.7L134.1 48.7M12.6 48.7L134.1 48.7M12.6 48.7L33.5 131.3M134.1 48.7L117.0 131.3M33.5 131.3L117.0 131.3M43.0 30.7L48.7 87.6M109.4 30.7L101.8 87.6M48.7 87.6L101.8 87.6M48.7 87.6L33.5 131.3M101.8 87.6L117.0 131.3" stroke="#a0a0a0" stroke-width="0.45" opacity="0.75" fill="none"/>
<clipPath id="cv1"><polygon points="171.5,30.5 242.5,30.5 271.7,48.3 249.4,133.0 165.2,133.0 144.9,48.3"/></clipPath>
<g clip-path="url(#cv1)"><polygon points="171.5,30.5 242.5,30.5 271.7,48.3 249.4,133.0 165.2,133.0 144.9,48.3" fill="#0e0804" opacity="1"/>
<polygon points="153.8,36.8 247.4,32.9 261.2,42.7 258.2,119.6 250.4,123.5 175.5,123.5 159.7,107.8 155.8,64.4" fill="#5a2a0e" opacity="1" filter="url(#t3)"/>
<polygon points="155.8,40.8 189.3,36.8 183.4,99.9 161.7,107.8" fill="#a04c18" opacity="1" filter="url(#t2)"/>
<polygon points="175.5,101.9 258.2,84.1 256.3,117.6 179.4,123.5" fill="#aa5218" opacity="1" filter="url(#t2)"/>
<polygon points="189.3,36.8 247.4,32.9 250.4,64.4 199.1,84.1 179.4,84.1" fill="#8a4418" opacity="0.9" filter="url(#t2)"/>
<polygon points="161.7,99.9 250.4,50.6 262.2,42.7 258.2,74.3 179.4,113.7 163.6,109.7" fill="#1e6a50" opacity="0.75" filter="url(#t2)"/>
<polygon points="161.7,95.9 177.4,92.0 173.5,107.8 163.6,109.7" fill="#30b888" opacity="1" filter="url(#t1)"/>
<polygon points="242.5,46.7 262.2,41.8 260.2,60.5 246.4,78.2" fill="#28a078" opacity="1" filter="url(#t1)"/>
<polygon points="247.4,32.9 244.5,43.7 218.8,60.5 181.4,85.1 172.5,84.1 185.3,68.4 203.1,48.6 210.9,36.8" fill="#a850b8" opacity="0.9" filter="url(#t2)"/>
<polygon points="210.9,36.8 247.4,33.3 242.5,44.7 222.8,54.6 207.0,50.6" fill="#d888e8" opacity="0.85" filter="url(#t1)"/>
<path d="M246.4,36.8 L222.8,50.6 L199.1,64.4 L179.4,82.2" stroke="#f0b8f8" stroke-width="3" fill="none" stroke-linecap="round" stroke-linejoin="round" opacity="0.8" filter="url(#t1)"/>
<path d="M234.3 53.5L233.1 53.2L231.8 52.7L230.6 52.3L229.7 51.3L228.7 50.6L227.7 49.8L226.8 48.8L226.1 47.7L225.7 46.5L225.0 45.4L225.0 44.1L225.1 42.8L225.7 41.6L226.2 40.4M226.8 48.8L225.6 49.3L224.7 50.1L223.5 50.6L222.2 50.4L221.1 49.6L220.4 48.5L219.9 47.3M222.2 50.4L221.4 51.5L220.7 52.5L219.7 53.4M224.7 50.1L224.2 51.4L223.4 52.4L222.4 53.1M222.4 53.1L221.2 52.6L219.9 52.4M223.4 52.4L222.1 52.3L220.9 52.1M241.7 46.9L240.4 46.8L239.1 46.8L237.9 46.4L236.6 46.3L235.4 46.0L234.1 46.1L232.8 46.4L231.5 46.6L230.2 46.7L228.9 46.7L227.6 46.7L226.4 46.1L225.4 45.4M237.9 46.4L237.9 45.1L237.8 43.8L238.3 42.6L239.3 41.8L240.5 41.4L241.6 40.7M239.3 41.8L240.6 41.6L241.8 41.3L243.1 41.0M241.8 41.3L242.8 40.4L244.1 40.3M239.1 46.8L237.9 46.5L236.8 45.7L235.5 45.6L234.3 45.7L233.0 46.2L232.0 47.0M234.3 45.7L233.6 46.9L232.6 47.7L231.8 48.8M231.8 48.8L230.6 48.6L229.3 48.7M232.6 47.7L231.3 47.6L230.0 47.8M236.8 45.7L235.7 46.3L234.7 47.1L233.8 48.1M233.8 48.1L234.4 49.2L235.1 50.3M234.7 47.1L234.1 48.3L233.4 49.4M244.0 54.5L244.5 53.3L245.5 52.5L246.3 51.5L247.2 50.6L247.8 49.4L248.7 48.4L249.0 47.2L249.3 45.9L250.1 44.9L251.0 44.0L252.0 43.1M252.0 43.1L251.4 42.0L250.5 41.0L249.7 40.0L249.4 38.8L248.9 37.6M250.5 41.0L249.2 41.3L248.0 40.9M240.1 59.7L240.3 60.9L240.7 62.2L241.5 63.2L242.5 64.0L243.7 64.6L244.8 65.3L246.1 65.3L247.1 66.1L248.4 66.1L249.7 66.2L251.0 66.6M240.2 60.5L241.5 60.5L242.8 60.4L243.9 59.7L244.9 58.8L246.0 58.2L247.2 57.7L248.5 57.5L249.8 57.5L251.1 57.7L252.3 57.4M248.5 57.5L249.1 56.3L250.2 55.7L251.4 55.2L252.5 54.5L253.8 54.5M244.9 58.8L244.8 57.5L245.3 56.3L245.3 55.0L245.1 53.7L245.1 52.4M245.3 55.0L245.8 53.8L246.7 52.8M244.8 57.5L245.6 56.5L246.6 55.7M242.8 60.4L243.5 61.5L244.3 62.5L245.2 63.5L246.3 64.1L247.6 64.2M204.5 41.1L204.5 42.4L205.1 43.5L205.1 44.8L204.6 46.0L204.1 47.2L203.1 48.0L202.2 48.9L201.0 49.5L200.2 50.5L199.0 51.0L197.9 51.7L196.7 52.2M199.0 51.0L199.2 52.3L199.9 53.3L201.0 54.1L202.2 54.5L203.5 54.8L204.8 54.8M203.5 54.8L203.7 56.1L204.1 57.4L204.0 58.7M203.1 48.0L201.8 48.1L200.5 48.3L199.4 49.1L198.3 49.7L197.4 50.6L196.1 51.0M197.4 50.6L196.1 50.6L194.8 50.7L193.5 51.1M196.1 50.6L195.1 51.5L194.4 52.6M199.4 49.1L198.3 48.5L197.1 47.9L195.9 47.6M200.5 48.3L199.5 49.2L198.7 50.2L198.0 51.3M198.7 50.2L197.6 49.4L196.4 49.0M197.6 49.4L197.3 48.2L197.4 46.9M235.7 40.2L235.0 41.3L234.9 42.6L234.8 43.9L234.6 45.2L235.0 46.5L235.4 47.7L235.9 48.9L235.8 50.2L236.0 51.5M236.0 51.5L235.5 52.7L235.5 54.0L235.2 55.3L234.4 56.3M235.8 50.2L234.5 50.5L233.3 50.1L232.0 50.1L230.7 50.2M235.0 46.5L233.9 47.2L233.1 48.2L232.0 48.9L231.2 49.9M234.6 45.2L233.4 45.5L232.2 46.0L231.0 46.6L229.7 46.8M229.7 46.8L228.7 46.0L227.6 45.3M228.7 46.0L227.4 45.9L226.2 46.4M233.4 45.5L232.5 46.5L232.4 47.8M232.5 46.5L233.2 47.6L233.8 48.8M234.9 42.6L235.9 43.5L237.2 43.8L238.2 44.6L239.5 44.8M235.9 43.5L235.0 44.4L234.4 45.6M234.4 45.6L234.8 46.8L235.0 48.1M240.4 42.0L239.1 41.7L237.8 42.0L236.5 42.0L235.3 41.6L234.4 40.7L233.1 40.4M223.9 54.1L223.2 53.0L222.8 51.8L222.7 50.5L222.9 49.2L223.7 48.2L224.6 47.2L225.3 46.1L225.7 44.9L226.2 43.7L226.6 42.5M225.7 44.9L225.4 43.6L224.7 42.5L223.8 41.6L223.3 40.4L222.8 39.2M225.4 43.6L224.3 43.0L223.0 43.0M235.3 46.1L236.0 47.2L236.5 48.4L236.3 49.7L236.3 51.0L236.6 52.2L236.5 53.5L235.8 54.6L235.3 55.8L234.7 56.9L233.6 57.7L232.3 57.9M236.6 52.2L235.5 53.0L234.7 54.0L233.6 54.6L232.5 55.4L231.7 56.4M235.5 53.0L235.5 54.3L236.2 55.4M236.0 47.2L235.6 48.4L235.5 49.7L235.4 51.0L235.0 52.2L235.1 53.5M235.4 51.0L234.2 51.6L232.9 51.6M232.9 51.6L232.4 50.4L231.8 49.3" stroke="#f0b0f8" stroke-width="0.5" fill="none" stroke-linecap="round" stroke-linejoin="round" opacity="0.7"/>
<path d="M165.6,107.8 L174.5,103.8" stroke="#f0a0f0" stroke-width="1.6" fill="none" stroke-linecap="round" stroke-linejoin="round" opacity="1"/>
<path d="M247.4,33.9 L222.8,36.8" stroke="#ffd0ff" stroke-width="2.0" fill="none" stroke-linecap="round" stroke-linejoin="round" opacity="1" filter="url(#t1)"/>
<path d="M179.4,117.6 L250.4,111.7" stroke="#0e0804" stroke-width="6" fill="none" stroke-linecap="round" stroke-linejoin="round" opacity="0.7" filter="url(#b1)"/>
<polygon points="144.9,48.3 171.5,30.5 179.4,32.9 161.7,64.4 157.7,107.8 165.2,133.0" fill="#0a0604" opacity="0.8" filter="url(#t2)"/>
<path d="M179.4,94.0 L214.9,74.3 L250.4,54.6" stroke="#140a06" stroke-width="8" fill="none" stroke-linecap="round" stroke-linejoin="round" opacity="0.6" filter="url(#t2)"/>
<path d="M205.5 98.4h0M231.1 99.1h0M233.6 55.3h0M222.7 105.7h0M232.2 52.3h0M212.1 38.1h0M255.3 93.0h0M180.9 89.0h0M187.8 85.1h0M236.4 111.2h0M256.4 94.0h0M210.9 81.5h0M171.3 39.7h0M246.9 121.3h0M240.8 53.2h0M219.9 53.8h0M188.8 105.4h0M251.2 37.9h0M235.6 98.4h0M227.3 49.6h0M191.7 101.4h0M176.7 51.6h0M204.8 51.6h0M182.7 50.4h0M177.5 45.7h0M198.0 66.2h0M170.1 52.3h0M197.1 43.0h0M186.2 40.7h0M231.5 47.4h0M203.8 48.7h0M225.7 121.2h0M228.0 44.2h0M175.8 51.2h0M246.5 44.1h0M233.9 103.6h0M241.2 73.7h0M198.6 67.3h0M222.7 78.8h0M228.1 74.8h0M242.1 88.8h0M183.5 73.4h0M179.6 116.3h0M160.6 71.6h0M199.8 89.4h0M166.4 95.1h0M169.4 60.9h0M187.8 43.2h0M258.1 42.1h0M248.3 96.3h0M251.0 88.2h0M211.9 75.5h0M212.1 65.5h0M173.9 87.6h0M237.1 121.6h0M248.8 89.3h0M176.7 85.3h0M172.4 111.4h0M233.2 69.4h0M188.9 113.9h0M200.5 43.6h0M224.2 73.4h0M167.8 111.0h0M177.3 53.4h0M209.9 58.4h0M189.9 75.9h0M251.1 88.0h0M200.0 108.9h0M250.8 116.3h0M158.4 106.7h0M235.2 98.6h0M230.3 93.9h0M177.0 117.6h0M237.2 57.7h0M210.4 53.1h0M179.9 91.1h0M170.1 37.5h0M219.1 90.2h0M248.8 39.2h0M187.6 47.2h0M249.5 106.7h0M171.4 77.7h0M226.3 90.6h0M205.2 83.6h0M177.3 42.2h0M171.9 80.9h0M170.5 113.5h0M185.7 37.9h0M222.0 94.4h0M232.0 75.5h0M249.6 95.5h0M251.5 105.8h0M183.8 74.2h0M176.9 91.6h0M195.5 76.8h0M193.4 52.1h0M216.2 99.8h0M191.6 48.0h0M218.8 90.9h0M212.0 108.7h0M252.2 103.0h0M217.1 118.2h0M213.5 81.7h0M176.9 64.8h0M193.1 59.9h0M183.8 52.7h0M166.4 85.1h0M200.4 106.5h0M230.1 117.4h0M249.1 46.4h0M223.2 117.1h0M164.2 48.8h0M157.9 52.3h0M252.8 113.1h0M170.4 37.2h0M166.7 111.9h0M188.9 86.2h0M192.6 73.3h0M220.9 118.4h0M162.4 73.3h0M228.9 105.1h0M220.0 61.2h0M158.5 56.7h0M213.2 114.4h0M216.1 88.6h0M195.0 101.9h0M255.2 78.0h0M221.7 82.9h0M181.8 115.5h0M163.4 73.3h0M250.5 86.5h0M195.7 54.9h0M193.9 101.7h0M225.6 90.6h0M253.1 68.8h0M184.9 90.7h0M251.1 98.1h0M243.6 108.7h0M158.0 92.1h0M181.0 95.9h0M236.5 106.7h0M175.3 69.1h0M171.9 108.6h0M228.0 85.3h0M212.0 100.7h0M202.3 52.4h0M253.5 103.9h0M206.5 85.6h0M177.0 57.1h0M161.3 94.4h0M239.1 59.6h0M175.7 74.3h0M184.8 102.5h0M181.1 59.3h0M197.3 111.3h0M228.8 46.9h0M170.1 41.3h0M224.3 93.5h0M172.8 61.3h0M243.1 41.1h0M230.7 108.7h0M222.8 64.4h0M231.6 116.8h0M212.9 90.7h0M217.4 117.4h0M255.6 94.4h0M205.8 47.6h0M205.7 73.5h0M225.4 78.9h0M180.5 54.1h0M232.6 86.3h0M234.7 53.6h0M201.5 46.9h0M173.5 67.1h0M183.9 119.5h0M166.6 81.3h0M165.3 113.6h0M166.4 111.1h0M188.1 67.9h0M165.8 91.1h0M163.2 94.8h0M210.4 60.7h0M222.4 98.3h0M162.4 116.0h0M245.5 106.1h0M250.4 66.6h0M169.0 74.2h0M249.8 95.7h0M167.0 101.9h0M238.6 76.8h0M222.2 112.4h0M199.2 105.2h0M214.2 104.9h0M242.6 49.6h0M175.1 87.7h0M191.4 62.6h0M155.8 75.3h0M258.0 72.3h0M177.8 69.1h0M217.3 39.1h0M173.2 82.4h0M193.1 97.1h0M169.0 42.3h0M249.3 101.9h0M221.7 89.1h0M175.5 49.7h0M201.4 96.1h0M203.2 80.2h0M163.9 119.1h0M180.3 70.6h0M238.3 118.9h0M193.5 75.9h0M241.8 79.2h0M167.9 55.6h0M190.4 37.1h0M162.3 114.3h0M241.2 108.7h0M186.9 67.0h0M251.9 41.3h0M200.1 68.3h0M232.0 96.2h0M257.6 120.6h0M218.0 116.4h0M217.0 54.7h0M207.9 60.1h0M249.0 106.3h0M166.2 93.1h0M221.8 103.7h0M170.7 87.3h0M167.0 73.8h0M192.8 67.7h0M197.6 81.5h0M167.1 82.6h0M163.5 97.6h0M159.5 78.8h0M156.1 104.6h0M252.4 101.4h0M202.5 76.9h0M233.2 43.5h0M192.2 78.5h0M173.5 76.6h0M191.7 48.9h0M216.1 74.6h0M168.6 83.2h0M178.9 86.1h0M188.5 99.1h0M217.1 37.1h0M190.2 102.6h0M190.3 103.6h0M244.1 117.1h0M232.8 73.8h0M205.0 44.3h0M185.9 59.5h0M237.5 104.9h0M220.4 103.0h0M199.9 92.3h0M192.3 38.0h0M209.4 112.9h0M206.7 115.1h0M195.4 58.8h0M172.1 74.1h0M187.5 46.4h0M187.8 119.5h0M235.7 73.3h0M179.8 79.9h0M189.9 90.5h0M184.5 90.8h0M234.4 61.1h0M178.5 86.0h0M214.5 113.3h0M239.1 76.9h0M206.4 105.1h0M214.7 47.3h0M194.9 46.9h0M224.4 104.5h0M220.9 41.6h0M197.3 38.3h0M225.8 102.1h0M176.3 98.9h0M160.8 49.4h0M250.7 55.6h0M222.3 117.9h0M234.3 76.3h0M199.7 71.7h0M171.6 104.9h0M209.1 103.0h0M204.9 57.3h0M182.2 47.1h0M229.5 80.2h0M195.3 121.4h0M193.1 67.6h0M178.6 60.9h0M181.2 81.2h0M198.8 77.6h0M241.4 67.2h0M218.0 81.2h0M252.9 88.5h0M251.2 68.1h0M175.6 54.8h0M239.7 46.7h0M185.5 110.4h0M162.2 97.8h0M196.0 56.2h0M252.7 111.4h0M177.6 48.3h0M212.6 43.2h0M252.7 65.2h0M188.2 41.6h0M205.8 85.5h0M168.8 97.6h0M208.4 108.0h0M250.0 112.3h0M200.7 66.9h0M221.1 72.1h0M202.4 58.2h0M171.0 45.7h0M220.7 115.9h0M256.4 59.9h0M176.8 44.3h0M166.5 108.0h0M191.2 68.8h0M175.8 97.6h0M175.4 119.5h0M158.2 117.2h0M197.8 75.3h0M207.1 57.4h0M249.7 81.8h0M211.6 112.4h0M223.5 109.5h0M167.9 62.8h0M177.5 81.2h0M182.6 114.6h0M177.2 70.6h0M197.3 64.4h0M228.4 79.5h0M237.3 67.4h0M241.5 109.2h0M197.1 118.1h0M250.8 56.3h0M212.2 112.4h0M179.2 112.1h0M186.8 108.0h0M194.4 118.7h0M245.7 69.7h0M157.1 90.5h0M213.8 62.5h0M249.6 73.1h0M210.0 56.3h0M230.7 83.3h0M170.7 118.3h0M184.2 48.7h0M229.8 73.2h0M238.3 73.7h0M212.6 99.2h0M245.4 51.0h0M167.3 78.5h0M171.5 105.7h0M190.7 67.7h0M164.5 60.5h0M192.9 59.8h0M177.4 61.3h0M230.0 47.5h0M207.5 93.1h0M158.0 107.8h0M233.4 58.1h0M161.8 43.1h0M245.3 40.5h0M218.1 87.6h0M223.2 75.8h0M202.0 77.1h0M233.3 45.6h0M183.3 79.6h0M198.4 89.9h0M196.0 120.8h0M177.7 116.7h0M157.5 107.4h0M166.3 61.8h0M199.3 115.7h0M169.3 81.0h0M236.8 79.1h0M229.8 123.5h0M238.0 58.5h0M189.1 84.4h0M232.7 121.9h0M242.6 104.5h0M218.2 98.5h0M245.1 106.2h0M173.4 56.4h0M197.4 120.5h0M188.0 107.4h0M186.0 98.2h0M245.1 122.6h0M214.3 88.5h0M173.0 110.6h0M177.4 47.8h0M244.0 82.1h0M203.1 53.4h0M250.4 96.4h0M244.4 70.7h0M205.1 81.2h0M165.2 38.5h0M216.7 67.9h0M242.1 103.0h0M224.3 86.7h0M180.5 87.3h0M224.0 59.1h0M203.4 42.9h0M224.7 74.3h0M178.1 98.4h0M237.6 55.7h0M156.5 87.5h0M253.3 44.4h0M238.0 89.4h0M228.0 37.9h0M196.4 40.6h0M252.9 122.5h0M228.8 88.3h0M235.1 48.2h0M256.7 70.3h0M199.7 37.8h0M164.0 117.2h0M175.8 80.4h0M230.1 100.1h0M201.0 96.8h0M241.3 54.5h0M195.2 86.8h0M226.7 86.1h0M159.0 58.0h0M192.4 111.9h0M219.0 60.3h0M213.8 62.5h0M254.9 97.0h0M245.9 70.7h0M169.2 105.2h0M174.3 110.7h0M234.5 111.7h0M214.4 92.6h0M158.7 61.1h0M168.1 42.3h0M210.4 42.2h0M206.5 50.4h0M175.1 106.3h0M256.9 91.6h0M218.7 52.4h0M199.3 114.0h0M163.2 69.7h0M180.7 56.2h0M171.2 100.4h0M190.5 122.3h0M188.7 98.2h0M193.1 103.6h0M161.9 122.1h0M181.2 101.0h0M188.9 38.3h0M211.0 47.7h0M235.9 55.5h0M160.9 83.5h0M215.8 92.5h0M228.9 41.2h0M248.5 106.9h0M232.3 37.3h0M185.6 54.6h0M246.2 60.2h0M196.4 54.9h0M230.7 47.3h0M203.5 102.2h0M192.8 56.4h0M208.3 53.3h0M230.3 107.4h0M179.9 41.2h0M194.0 37.8h0M242.8 119.5h0M216.5 82.2h0M216.1 68.2h0M211.1 90.1h0M242.7 62.5h0M170.8 75.4h0M160.8 63.9h0M208.0 111.0h0M216.1 122.4h0M236.2 122.2h0M246.2 65.3h0M174.2 97.3h0M231.5 72.1h0M239.9 92.7h0M239.7 37.0h0M241.8 113.0h0M179.7 109.7h0M182.8 110.5h0M241.2 108.8h0M165.5 53.7h0M211.9 57.5h0M194.7 120.0h0M249.2 50.9h0M173.0 104.4h0M214.0 37.6h0M254.2 52.7h0M164.5 113.6h0M240.4 45.6h0M214.9 118.6h0M257.8 115.6h0M241.8 118.1h0M196.7 98.4h0M243.4 108.0h0M217.0 109.6h0M233.4 116.8h0M248.7 112.6h0M174.8 66.3h0M206.4 37.2h0M184.8 112.4h0M255.7 79.4h0M208.7 46.5h0M210.8 117.7h0M187.4 93.7h0M239.5 76.3h0M200.0 98.7h0M173.9 66.2h0M179.5 42.4h0M180.7 108.9h0M232.5 71.8h0M167.5 81.3h0M185.1 91.4h0M243.5 68.1h0M189.3 108.5h0M243.6 96.9h0M190.1 117.1h0M162.3 122.5h0M229.8 42.2h0M173.1 105.9h0M251.5 45.4h0M219.2 111.2h0M224.1 117.3h0M245.7 52.2h0M164.5 114.2h0M181.0 112.8h0M253.8 70.4h0M234.3 55.1h0M208.2 47.5h0M220.0 49.2h0M199.4 38.9h0M256.0 90.2h0M190.4 56.3h0M236.1 79.4h0M213.8 40.4h0M193.2 77.3h0M241.9 54.5h0M160.8 83.5h0M178.0 40.1h0M166.9 78.5h0M199.5 59.8h0M227.9 41.2h0M185.9 79.8h0M180.8 120.6h0M190.5 76.4h0M253.2 81.9h0M179.7 78.1h0M257.3 108.9h0M187.6 43.2h0M250.6 62.8h0M164.0 73.2h0M234.0 69.1h0M238.1 118.2h0M224.7 113.3h0M216.1 44.2h0M225.2 59.0h0M238.6 114.6h0M203.5 97.9h0M160.8 86.7h0M223.4 116.5h0M162.9 53.9h0M233.7 90.0h0M201.9 121.1h0M163.0 112.3h0M167.3 57.8h0M223.2 41.3h0M234.2 63.6h0M237.4 88.9h0M182.0 105.4h0M249.9 105.4h0M165.4 75.2h0M162.7 75.7h0M184.7 82.7h0M244.7 101.4h0M237.1 41.7h0M205.5 72.9h0M230.1 113.7h0M156.5 111.6h0M189.7 39.7h0M219.2 83.2h0M254.2 106.5h0M203.8 104.4h0M247.0 81.6h0M188.3 93.5h0M243.0 98.6h0M219.1 51.0h0M230.5 88.8h0M229.9 76.6h0M159.7 58.9h0M216.4 50.3h0M189.1 72.3h0" stroke="#d87a34" stroke-width="0.55" stroke-linecap="round" opacity="0.8" fill="none"/></g>
<path d="M171.5 30.5L242.5 30.5M171.5 30.5L144.9 48.3M242.5 30.5L271.7 48.3M144.9 48.3L271.7 48.3M144.9 48.3L165.2 133.0M271.7 48.3L249.4 133.0M165.2 133.0L249.4 133.0M171.5 30.5L180.4 87.7M242.5 30.5L235.6 87.7M180.4 87.7L235.6 87.7M180.4 87.7L165.2 133.0M235.6 87.7L249.4 133.0" stroke="#a0a0a0" stroke-width="0.45" opacity="0.75" fill="none"/>
<clipPath id="cv2"><polygon points="304.5,30.5 372.5,30.5 403.1,48.3 381.4,133.0 297.6,133.0 276.9,48.3"/></clipPath>
<g clip-path="url(#cv2)"><polygon points="304.5,30.5 372.5,30.5 403.1,48.3 381.4,133.0 297.6,133.0 276.9,48.3" fill="#121206" opacity="1"/>
<polygon points="304.5,30.5 372.5,30.5 403.1,48.3 381.4,133.0 297.6,133.0 276.9,48.3" fill="#6e6e34" opacity="1" filter="url(#t3)"/>
<polygon points="279.9,48.6 311.4,32.9 323.2,40.8 315.4,90.0 291.7,90.0" fill="#a8a862" opacity="1" filter="url(#t2)"/>
<polygon points="321.3,36.8 370.5,32.9 374.5,54.6 331.1,64.4" fill="#909048" opacity="1" filter="url(#t2)"/>
<polygon points="297.6,117.6 380.4,111.7 379.4,129.5 297.6,132.4" fill="#b0ae44" opacity="1" filter="url(#t2)"/>
<polygon points="346.9,80.2 390.2,60.5 394.2,84.1 382.4,111.7 341.0,111.7" fill="#9a9a46" opacity="1" filter="url(#t2)"/>
<polygon points="290.7,88.1 306.5,92.0 305.5,111.7 295.6,111.7" fill="#40248a" opacity="0.9" filter="url(#t2)"/>
<polygon points="376.5,36.8 398.1,44.7 390.2,76.2 378.4,68.4" fill="#32247a" opacity="0.9" filter="url(#t2)"/>
<path d="M289.7,90.0 L331.1,74.3 L382.4,54.6" stroke="#2a2444" stroke-width="9" fill="none" stroke-linecap="round" stroke-linejoin="round" opacity="0.7" filter="url(#t2)"/>
<path d="M320.4 35.3L319.1 35.5L317.9 35.0L316.9 34.1L316.5 32.9L315.7 31.8L315.3 30.6M317.9 35.0L318.1 33.7L318.1 32.4L317.6 31.2M319.1 35.5L318.3 34.4L318.2 33.1L318.0 31.8M328.3 31.6L327.4 32.6L326.2 33.2L325.0 33.7L324.2 34.7L323.4 35.7L323.0 37.0L323.1 38.3L323.5 39.5L324.3 40.6L325.3 41.3L326.0 42.4L326.7 43.5M326.2 33.2L324.9 33.0L323.7 33.4L322.5 33.9L321.6 34.8L321.1 36.0L321.1 37.3M316.4 34.1L315.2 34.7L314.0 35.1L313.0 35.9L312.3 37.0L311.2 37.8L310.2 38.6L308.9 38.8M323.1 45.5L322.1 44.7L321.3 43.7L320.2 42.9L319.5 41.8L318.9 40.7L318.2 39.5L317.1 38.9L316.0 38.2L315.2 37.2L314.6 36.0L313.6 35.2L312.6 34.4L312.0 33.2M314.6 36.0L314.3 34.8L314.6 33.5L315.4 32.4L315.7 31.2L315.9 29.9L315.7 28.6M315.4 32.4L315.9 31.2L316.6 30.1L317.5 29.2M317.5 29.2L317.3 27.9L316.6 26.8M316.6 26.8L316.6 25.5L317.1 24.3M315.9 31.2L317.1 30.7L318.4 30.6M318.4 30.6L319.1 31.6L319.9 32.7M319.9 32.7L321.2 33.0L322.5 33.1M314.6 33.5L315.9 33.3L317.2 33.0L318.0 32.0M315.9 33.3L317.0 34.0L318.2 34.7M315.2 37.2L314.1 37.8L312.8 37.8L311.5 37.7L310.3 37.1L309.2 36.5L308.0 36.0M314.1 37.8L312.8 37.7L311.5 37.6L310.2 38.0M333.6 33.9L333.2 35.1L333.2 36.4L333.3 37.7L334.0 38.8L334.1 40.1L334.7 41.2L335.9 41.8L337.1 42.2L338.4 41.9L339.4 41.1L340.4 40.2M334.7 41.2L333.6 41.8L332.4 42.2L331.1 42.5L329.8 42.4L328.5 42.0M328.5 42.0L328.6 40.7L328.5 39.4M334.1 40.1L333.0 40.9L331.9 41.5L331.2 42.6L330.4 43.7L329.8 44.8M333.2 36.4L332.1 37.0L331.2 37.9L330.4 39.0L329.7 40.1L328.9 41.1M329.7 40.1L328.6 39.5L327.3 39.3M330.4 39.0L331.5 39.7L332.8 39.9M332.8 39.9L333.1 41.1L333.5 42.4M331.5 39.7L330.8 40.8L330.2 41.9M330.8 40.8L329.5 40.9L328.2 40.6M350.0 41.6L349.4 40.4L348.9 39.2L348.2 38.1L347.0 37.5L345.9 36.9L344.7 36.4M349.4 40.4L348.1 40.3L346.8 40.3L345.5 40.2M354.8 43.6L355.2 44.9L355.3 46.1L356.0 47.3L357.0 48.1L358.1 48.7L359.3 49.2L360.6 49.6L361.7 50.2L362.9 50.7L364.2 50.6L365.4 50.1L366.5 49.5L367.5 48.6L368.2 47.5M357.0 48.1L358.0 47.2L358.7 46.2L359.6 45.2L360.5 44.3L361.2 43.2L362.1 42.3L363.0 41.4M362.1 42.3L363.3 42.8L364.2 43.7L365.1 44.7M374.5 44.2L375.4 43.3L376.2 42.3L376.7 41.1L376.9 39.8L377.0 38.5L377.7 37.4L378.7 36.6L379.7 35.7L380.7 35.0M377.0 38.5L376.1 37.6L374.9 37.2L373.6 37.5L372.4 37.1M373.6 37.5L373.0 38.7L373.1 40.0M315.0 36.3L315.4 37.6L316.2 38.6L317.2 39.5L317.9 40.6L318.9 41.4L319.9 42.3L320.8 43.2M319.9 42.3L319.4 43.4L318.5 44.4L317.4 45.2M365.8 39.1L367.0 39.7L367.7 40.8L368.2 42.0L368.9 43.1L369.1 44.4L369.2 45.6L369.9 46.8L370.8 47.7L371.3 48.9L372.2 49.8L373.4 50.4M373.4 50.4L374.7 50.3L376.0 50.1L377.2 49.6L378.5 49.6L379.8 49.6M379.8 49.6L380.9 50.4L381.6 51.4M374.7 50.3L375.8 49.7L377.1 49.3M369.9 46.8L371.1 47.2L372.4 47.4L373.6 46.9L374.8 46.5L376.1 46.3M373.6 46.9L373.8 45.6L374.2 44.4M374.2 44.4L375.2 43.6L376.1 42.7M369.2 45.6L370.4 46.2L371.3 47.2L371.9 48.3L371.9 49.6L371.3 50.8M367.7 40.8L368.3 42.0L369.0 43.0L369.7 44.1L369.9 45.4L370.7 46.4M368.3 42.0L369.4 42.5L370.3 43.4M369.4 42.5L370.2 41.4L371.3 40.7M349.5 44.9L348.4 44.2L347.1 43.8L346.1 43.0L345.3 42.0L344.4 41.1L343.3 40.3L342.1 39.7L341.2 38.9L340.4 37.8L339.4 37.0L338.5 36.1L337.2 35.7M341.2 38.9L340.7 37.7L339.7 36.8L338.5 36.2L337.3 35.7L336.2 35.1L335.2 34.2M337.3 35.7L336.1 35.9L334.8 36.1L333.7 36.9M339.7 36.8L338.6 37.4L337.9 38.5L337.5 39.8M338.6 37.4L338.3 38.7L337.7 39.8M347.1 43.8L345.8 43.9L344.6 43.4L343.3 43.2L342.3 42.3L341.1 41.9L339.8 41.8M342.3 42.3L341.1 42.6L339.8 42.3L338.9 41.4M338.9 41.4L339.1 40.1L339.5 38.9M341.1 42.6L340.1 41.8L338.9 41.4M321.0 35.7L321.9 36.7L323.1 37.1L324.1 37.9L325.3 38.5L326.6 38.6L327.8 38.9L329.1 39.2L330.4 39.0L331.5 38.3L332.2 37.2L333.0 36.1L334.0 35.4L335.2 34.8M359.7 35.7L360.2 36.8L361.1 37.8L361.9 38.8L362.5 40.0L362.6 41.3L363.0 42.5L363.4 43.8L364.1 44.9L365.2 45.6L366.4 46.1M366.4 46.1L367.6 45.7L368.8 45.1L370.0 44.6L371.2 44.2L372.5 44.1M368.0 34.6L367.8 35.9L368.3 37.1L369.3 37.9L369.8 39.1L370.2 40.3L370.1 41.6L370.2 42.9L370.2 44.2L369.7 45.4M370.2 40.3L371.5 40.2L372.8 40.0L374.1 39.7L375.4 39.7M369.3 37.9L370.6 38.1L371.8 38.6L373.0 38.8L374.3 38.6M374.3 38.6L374.8 37.4L375.7 36.4M375.7 36.4L376.3 35.2L376.4 33.9M374.8 37.4L376.1 37.6L377.3 38.1M377.3 38.1L377.3 39.4L377.7 40.6M377.3 39.4L376.9 40.6L377.2 41.9M376.1 37.6L377.4 37.7L378.7 37.9M368.3 37.1L369.6 36.8L370.8 36.5L371.9 35.8L372.6 34.7M370.8 36.5L372.1 36.7L373.2 37.4M373.2 37.4L374.4 37.9L375.3 38.9M333.3 39.3L334.3 40.0L335.1 41.1L336.0 42.0L337.0 42.9L337.9 43.8L339.1 44.3L340.3 44.8L341.6 44.9L342.7 45.6L344.0 45.6L345.3 45.6L346.5 45.1M346.5 45.1L347.6 45.8L348.4 46.8L349.2 47.8L350.3 48.5L351.6 48.9L352.5 49.8M332.4 41.3L331.2 41.0L329.9 41.1L328.8 41.8L327.7 42.5L326.4 42.6L325.1 43.1L323.8 43.0L322.6 42.6M329.9 41.1L329.1 40.1L327.9 39.6L326.6 39.2L325.3 39.0M360.6 34.3L361.8 34.7L363.1 34.5L364.3 34.0L365.6 34.2L366.7 35.0L367.2 36.2L367.6 37.4L368.2 38.6L368.8 39.7L368.9 41.0L368.8 42.3M368.8 42.3L369.5 43.4L370.2 44.5L371.3 45.2L372.0 46.3L372.8 47.3M367.6 37.4L366.9 38.5L365.9 39.4L364.8 40.0L363.7 40.7L362.6 41.3M365.9 39.4L364.6 39.5L363.4 39.3M366.9 38.5L366.5 39.8L365.6 40.7M364.3 34.0L365.3 33.2L365.8 32.0L366.7 31.1L367.7 30.2L368.6 29.3M366.7 31.1L367.3 29.9L368.3 29.1M368.3 29.1L368.6 27.8L369.3 26.7M369.3 26.7L369.0 25.4L368.3 24.3M362.7 35.7L364.0 35.3L365.2 34.9L366.1 33.9L366.5 32.6L367.3 31.7L368.5 31.1L369.8 30.9L371.1 30.6L372.0 29.7L372.5 28.5L373.3 27.5L374.4 26.8L375.6 26.3L376.9 26.4M374.4 26.8L374.2 25.5L373.6 24.3L373.4 23.0L373.0 21.8L372.4 20.7L371.5 19.7L370.4 19.1M374.2 25.5L373.3 24.5L372.9 23.3L372.7 22.0M373.3 24.5L374.1 23.5L375.2 22.8M373.3 27.5L373.5 26.2L374.1 25.0L375.2 24.3L375.9 23.2L377.1 22.7L378.4 22.3L379.4 21.5M378.4 22.3L379.1 21.2L380.3 20.6L381.4 19.9M379.1 21.2L379.5 20.0L380.1 18.8M379.5 20.0L380.4 19.1L381.7 18.7M375.2 24.3L376.5 24.4L377.7 24.9L378.7 25.7M369.8 30.9L370.2 29.7L370.5 28.4L371.2 27.3L371.6 26.1L371.5 24.8L370.9 23.6L370.8 22.3M367.3 31.7L368.3 32.6L369.1 33.6L370.3 34.0L371.5 34.6L372.6 35.2L373.9 35.7L375.1 35.5M371.5 34.6L372.6 34.0L373.4 33.0L374.2 31.9M370.3 34.0L371.0 35.1L371.4 36.3L371.7 37.6M371.0 35.1L372.3 35.3L373.6 35.1M373.6 35.1L374.2 36.2L374.9 37.3M372.3 35.3L372.8 36.5L372.6 37.8M359.9 46.0L358.8 45.4L357.5 45.0L356.4 44.4L355.2 43.8L354.2 43.0L353.0 42.6L352.1 41.7L351.0 41.0L350.0 40.1M350.0 40.1L348.7 40.1L347.5 40.6L346.6 41.6L345.6 42.4M346.6 41.6L347.6 42.5L348.8 42.9M348.8 42.9L349.6 43.9L350.5 44.9M347.5 40.6L346.4 41.3L345.3 42.0M351.0 41.0L351.3 39.7L352.2 38.8L352.7 37.5L352.5 36.3M330.7 34.6L329.5 35.2L328.2 35.3L327.0 34.8L325.8 34.3L324.7 33.7L323.7 32.8L322.6 32.2L321.3 32.0L320.0 32.1M320.0 32.1L319.2 31.1L318.7 29.9L318.0 28.8L316.9 28.1M318.0 28.8L318.8 27.8L320.0 27.2M327.9 41.9L329.2 42.2L330.4 42.4L331.7 42.6L333.0 42.6L334.2 43.2L335.5 43.4L336.8 43.7L338.0 43.8L339.1 44.5L340.4 45.0L341.6 44.7L342.8 44.1L343.7 43.1L344.9 42.8M341.6 44.7L342.0 43.4L342.6 42.3L342.6 41.0L341.9 39.9L341.0 39.0L340.1 38.0L339.8 36.7M336.8 43.7L337.4 42.5L338.0 41.4L339.1 40.7L340.4 40.6L341.5 40.0L342.8 39.9L344.0 39.4M344.0 39.4L344.4 38.2L344.8 36.9L345.8 36.0M341.5 40.0L342.2 38.9L342.7 37.6L343.6 36.7M343.6 36.7L344.9 37.0L346.0 37.7M337.4 42.5L336.8 41.4L336.4 40.2L335.5 39.3M336.8 41.4L336.5 40.1L336.6 38.8M336.5 40.1L337.1 39.0L337.5 37.8M331.7 42.6L332.5 41.5L332.7 40.2L332.5 38.9L332.3 37.6L332.7 36.4L333.1 35.1L333.9 34.2M332.7 36.4L333.6 35.4L334.4 34.4L335.6 33.9M335.6 33.9L336.9 34.1L338.2 34.0M332.5 41.5L332.4 40.2L332.4 38.9L332.4 37.6M329.2 42.2L329.1 43.5L329.7 44.7L329.7 46.0L329.1 47.2L329.0 48.5L329.5 49.7L329.3 51.0M320.4 31.7L320.5 30.4L320.3 29.1L320.6 27.8L321.1 26.6L322.1 25.8L323.3 25.2L324.6 25.2L325.8 25.4L327.1 25.0L327.9 24.0M327.1 25.0L326.9 23.7L327.3 22.5L327.7 21.2L328.7 20.4L329.7 19.6M328.7 20.4L329.3 19.2L330.1 18.1M320.6 27.8L319.9 26.7L318.7 26.1L317.8 25.1L316.9 24.2L316.1 23.2M317.8 25.1L317.5 23.9L317.7 22.6M362.3 37.1L363.4 37.9L364.3 38.8L364.7 40.0L365.0 41.3L365.9 42.2L366.8 43.1L367.8 44.0L369.0 44.5M366.8 43.1L367.0 44.4L366.5 45.7L366.5 47.0L366.3 48.2M367.0 44.4L366.2 45.5L365.3 46.4M366.2 45.5L366.6 46.7L367.5 47.7M367.5 47.7L368.6 47.0L369.9 46.8M369.9 46.8L370.6 45.8L370.9 44.5M370.6 45.8L371.9 45.7L373.1 46.3M371.9 45.7L372.4 46.9L372.4 48.2M365.0 41.3L366.3 41.6L367.5 41.9L368.8 42.4L370.0 42.7M316.3 32.4L315.6 31.3L315.4 30.0L315.0 28.8L314.2 27.8L314.0 26.5L313.2 25.5L312.8 24.2L312.1 23.1L311.2 22.2L310.0 21.8L308.8 21.3L307.7 20.5L306.8 19.6L305.9 18.6M315.4 30.0L316.0 28.9L317.2 28.2L318.3 27.6L319.2 26.6L319.5 25.4L319.2 24.1L318.4 23.1M323.4 34.9L324.7 34.6L325.9 34.2L327.2 33.9L328.5 33.8L329.8 33.7L330.9 33.0L332.1 32.9L333.4 32.9L334.6 33.4L335.9 33.4L337.2 33.0L338.5 32.8L339.7 32.3M334.6 33.4L335.2 34.6L335.8 35.7L335.9 37.0L336.5 38.2L337.0 39.4L337.4 40.6M337.4 40.6L337.1 41.9L337.6 43.2L338.2 44.3M336.5 38.2L335.8 39.2L335.5 40.5L336.0 41.7M335.8 35.7L337.1 35.9L338.4 36.0L339.6 36.3M337.1 35.9L338.3 36.3L339.6 36.6M333.4 32.9L334.0 34.1L335.0 34.9L335.6 36.1L336.4 37.1L337.1 38.2L337.4 39.5M337.1 38.2L336.3 39.2L335.8 40.4L334.8 41.3M334.8 41.3L333.5 41.5L332.3 41.2M332.3 41.2L331.4 40.2L330.8 39.0M333.5 41.5L332.9 40.4L332.7 39.1M332.7 39.1L331.5 38.5L330.8 37.4M335.6 36.1L334.7 37.0L334.0 38.1L333.4 39.2M334.0 34.1L334.3 35.3L334.5 36.6L335.2 37.7M324.7 34.6L325.9 35.1L327.1 35.6L328.4 35.6L329.6 35.1L330.9 35.1L332.1 35.6M366.7 35.2L367.8 35.8L368.9 36.5L369.8 37.4L370.4 38.6L370.7 39.8L370.6 41.1L370.9 42.4M351.9 32.2L350.6 32.7L349.7 33.6L348.8 34.5L348.1 35.6L348.0 36.9L347.7 38.2L347.3 39.4M348.1 35.6L346.9 35.3L345.6 35.3L344.3 35.2M350.6 32.7L350.0 31.5L349.1 30.6L348.0 30.0M349.1 30.6L347.9 30.3L346.6 30.7M346.6 30.7L345.9 31.8L344.8 32.5M344.8 32.5L345.0 33.8L344.8 35.1M370.6 38.9L371.9 38.8L373.2 38.6L374.5 38.8L375.8 38.9L376.9 38.3L377.9 37.4L379.0 36.8L380.1 36.2L380.9 35.1L381.8 34.2L383.0 33.6L383.9 32.7L384.7 31.7M383.9 32.7L383.5 31.5L383.4 30.2L383.2 28.9L382.4 27.9L382.0 26.7L381.8 25.4M371.9 38.8L372.3 37.6L373.0 36.5L373.3 35.2L373.9 34.0L374.8 33.1L376.0 32.6M373.9 34.0L374.8 33.1L375.4 31.9L375.4 30.6M354.7 40.1L353.4 40.5L352.2 41.0L351.0 41.4L349.7 41.6L348.4 41.9L347.2 42.4L346.0 42.7L344.7 43.2M349.7 41.6L349.8 42.9L350.3 44.1L350.2 45.4L350.7 46.6M349.8 42.9L350.8 43.7L351.7 44.7M342.8 45.8L341.5 45.9L340.3 45.5L339.0 45.4L337.7 45.2L336.6 44.5L335.3 44.2L334.0 44.1L332.8 44.6L331.6 45.0L330.5 45.8M334.0 44.1L332.9 43.5L331.7 42.9L330.6 42.3L329.4 41.7L328.1 41.8M340.3 45.5L339.0 45.8L337.8 46.2L336.5 46.5L335.2 46.3L333.9 46.6M341.5 45.9L340.3 45.6L339.0 45.2L337.7 45.2L336.4 45.0L335.2 45.4M335.2 45.4L335.0 46.7L334.5 47.9M335.0 46.7L333.7 46.9L332.6 47.5M332.6 47.5L331.9 48.6L331.5 49.9M337.7 45.2L336.8 46.1L335.7 46.8M335.7 46.8L335.4 48.0L334.7 49.1M336.8 46.1L337.8 47.0L338.8 47.8" stroke="#ff3030" stroke-width="0.5" fill="none" stroke-linecap="round" stroke-linejoin="round" opacity="0.95"/>
<path d="M364.0 59.2L362.7 59.1L361.4 59.2L360.2 59.8L359.0 60.1L357.8 60.6L356.5 60.8L355.2 60.6L354.1 59.8L353.3 58.9L352.2 58.1L351.4 57.1M352.2 58.1L351.0 58.4L349.9 59.2L348.9 60.0L348.2 61.1L347.4 62.1M357.8 60.6L356.9 59.7L356.0 58.7L355.6 57.5L354.9 56.3L354.8 55.1M354.8 55.1L353.5 55.3L352.2 55.2M387.3 49.4L386.2 50.0L384.9 50.1L383.6 50.0L382.3 50.1L381.0 50.1L379.7 50.1L378.5 49.6L377.5 48.8M381.0 50.1L380.0 49.2L379.3 48.1L378.6 47.1L377.6 46.1M389.0 46.8L390.2 46.1L391.5 46.1L392.8 46.2L394.0 46.3L395.2 46.9L396.3 47.6L397.6 47.9L398.7 48.6L399.6 49.4L400.2 50.6L401.2 51.4L401.9 52.5M401.2 51.4L401.6 52.6L401.3 53.9L401.1 55.2L400.9 56.5L401.4 57.7L401.3 59.0M401.3 59.0L402.4 59.8L402.9 61.0L402.9 62.3M402.9 62.3L403.5 63.4L404.6 64.1M401.4 57.7L400.3 58.4L399.0 58.5L397.8 59.0M400.9 56.5L400.1 57.4L399.3 58.5L398.4 59.4M396.3 47.6L397.2 46.7L398.4 46.1L399.2 45.2L399.8 44.0L400.0 42.7L399.6 41.5M395.2 46.9L395.1 48.2L395.3 49.5L395.6 50.7L396.4 51.8L396.9 53.0L397.3 54.2M397.3 54.2L397.8 55.4L398.4 56.5L399.4 57.4M395.6 50.7L394.5 51.5L393.2 51.6L392.0 51.4M395.3 49.5L395.3 50.8L395.3 52.1L395.4 53.4M365.4 75.1L364.8 74.0L364.7 72.7L364.1 71.6L363.1 70.7L362.6 69.5L362.3 68.2L361.7 67.1L360.6 66.4L359.8 65.3L359.2 64.2L358.3 63.3L357.2 62.6M364.8 74.0L363.6 74.3L362.3 74.5L361.2 75.2L360.2 75.9L358.9 76.3L357.9 77.1M358.9 76.3L357.8 75.7L357.0 74.6L356.0 73.8M389.3 68.2L388.2 68.9L387.1 69.7L386.4 70.8L385.9 72.0L385.1 73.0L384.0 73.7L382.7 73.9L381.6 74.6L380.9 75.7M372.2 65.4L373.4 64.9L374.7 64.7L375.8 64.0L377.0 63.7L378.2 63.2L379.3 62.5L380.2 61.5L380.7 60.3L381.4 59.3M378.2 63.2L378.3 61.9L378.5 60.6L378.4 59.3L378.5 58.0M374.7 64.7L375.8 65.4L377.0 65.5L378.3 65.4L379.6 65.5M379.6 65.5L380.2 64.3L381.0 63.3M360.2 72.4L361.5 72.3L362.7 72.7L363.9 73.0L365.2 73.1L366.4 73.8L367.7 73.9L368.9 74.1L370.2 73.7L371.5 73.5L372.7 73.2L374.0 72.8M368.9 74.1L369.0 75.4L368.6 76.7L368.9 77.9L369.0 79.2L369.6 80.4M368.9 77.9L367.9 78.8L367.3 79.9M365.2 73.1L366.3 72.4L367.2 71.5L368.3 70.7L369.1 69.7L369.9 68.7M367.2 71.5L368.4 71.0L369.5 70.2M368.4 71.0L369.6 71.5L370.6 72.3M362.7 72.7L363.6 71.7L364.7 71.0L365.5 69.9L366.1 68.8L366.2 67.5M366.2 67.5L367.4 66.9L368.2 65.9M364.7 71.0L366.0 71.0L367.2 71.5M361.5 72.3L362.4 73.2L363.6 73.6L364.9 73.4L366.2 73.4L367.5 73.5M364.9 73.4L365.7 74.4L366.7 75.3M381.8 62.7L381.5 64.0L381.4 65.3L381.7 66.5L382.1 67.8L382.2 69.0L382.0 70.3L381.3 71.4L380.8 72.7L380.8 74.0L380.5 75.2L380.2 76.5L379.6 77.6L379.0 78.8L378.7 80.0M380.2 76.5L379.6 77.6L379.5 78.9L379.1 80.2L378.7 81.4L378.6 82.7L378.0 83.8L378.0 85.1M379.6 77.6L378.5 78.3L377.2 78.7L376.0 78.4M382.2 69.0L383.3 69.7L384.6 69.8L385.9 69.7L387.2 69.4L388.4 68.9L389.7 69.1L391.0 69.1M389.7 69.1L390.7 68.3L391.3 67.1L392.3 66.3M387.2 69.4L387.8 70.5L387.8 71.8L387.7 73.1M384.6 69.8L385.4 68.7L386.5 68.1L387.7 67.7M383.3 69.7L384.6 69.9L385.9 69.5L386.9 68.8M381.7 66.5L383.0 66.9L384.0 67.8L384.5 69.0L384.5 70.3L384.0 71.5L383.1 72.5L382.3 73.5M381.5 64.0L380.4 64.6L379.1 64.9L378.0 65.6L376.8 66.1L375.5 66.2L374.2 66.1L373.1 65.4M360.3 75.4L359.0 75.2L358.0 74.4L357.6 73.2L356.7 72.2L356.2 71.0L356.1 69.7M359.9 79.1L358.6 79.0L357.3 78.8L356.1 78.3L354.8 78.2L353.8 77.5L352.8 76.6L351.7 75.9M351.7 75.9L350.5 76.5L349.2 76.7L348.0 77.1M386.3 60.1L385.2 59.5L383.9 59.4L382.7 59.8L381.6 60.5L380.3 60.7L379.1 61.1L378.1 62.0L377.3 63.0L376.9 64.2L376.0 65.2L375.1 66.0L373.9 66.5L372.6 67.0L371.6 67.8M377.3 63.0L378.2 63.9L379.2 64.6L379.8 65.8L379.7 67.1L380.0 68.4L380.6 69.5L380.7 70.8M383.9 59.4L383.3 58.3L383.1 57.0L382.6 55.8L382.8 54.5L382.8 53.2L382.3 52.0L381.3 51.2M382.6 55.8L383.6 54.9L384.8 54.4L385.9 53.7M373.1 73.0L374.2 73.6L375.3 74.4L376.1 75.4L376.9 76.5L377.2 77.7L377.0 79.0L376.6 80.2L376.3 81.5L375.8 82.7L375.4 84.0L375.0 85.2L375.2 86.5L375.5 87.7L375.5 89.0M375.5 89.0L376.3 90.1L376.9 91.2L377.9 92.0L378.5 93.1L379.1 94.3L379.1 95.6L379.6 96.8M377.9 92.0L378.4 93.2L379.1 94.3L379.3 95.6M379.3 95.6L379.1 96.8L378.8 98.1M366.3 79.4L365.0 79.6L363.9 80.3L363.2 81.4L362.3 82.3L361.7 83.4L361.1 84.6L360.8 85.8L360.4 87.1L360.0 88.3L359.3 89.4L358.8 90.6L358.3 91.8L357.9 93.1L357.5 94.3M361.7 83.4L362.8 84.1L363.7 85.0L364.9 85.4L366.1 86.1L367.0 87.0L368.2 87.5L369.5 87.6M368.2 87.5L368.5 88.8L368.5 90.1L367.9 91.3M366.1 86.1L366.1 87.4L365.6 88.6L364.7 89.6M366.1 87.4L367.4 87.6L368.7 87.6M381.8 82.5L381.6 81.2L381.5 79.9L381.8 78.7L382.1 77.4L382.9 76.3L383.3 75.1L384.1 74.1L385.3 73.6M382.9 76.3L384.1 76.8L385.4 76.8L386.5 77.4L387.2 78.5M381.5 79.9L380.2 79.8L379.1 79.2L377.8 78.8L376.7 78.3M383.1 64.4L384.4 64.5L385.7 64.6L387.0 64.4L388.3 64.4L389.6 64.7L390.9 64.6M390.9 64.6L391.2 63.4L390.9 62.1L390.4 60.9M359.3 73.1L358.8 74.3L357.9 75.2L356.7 75.8L355.8 76.7L355.3 77.9L354.3 78.7L353.0 78.9L351.9 79.6L350.8 80.2M367.5 49.3L366.2 49.4L365.0 49.6L363.7 49.6L362.4 49.7L361.1 50.0L360.1 50.8L359.1 51.6L357.9 52.3L356.8 52.9L355.9 53.9L355.5 55.1L355.7 56.4L356.2 57.6L356.5 58.9M389.6 49.0L389.7 47.7L389.6 46.4L390.0 45.1L390.3 43.9L390.2 42.6L390.2 41.3L389.8 40.1L389.6 38.8M389.6 38.8L388.8 37.8L387.6 37.3L386.3 37.4L385.0 37.1M385.0 37.1L384.3 36.0L383.1 35.5M389.6 46.4L389.2 45.2L389.3 43.9L389.1 42.6L389.0 41.3M358.0 80.6L359.1 79.8L359.9 78.8L360.2 77.6L360.0 76.3L359.3 75.2L358.7 74.0L357.9 73.0L356.7 72.5M356.7 72.5L355.4 72.7L354.4 73.5L353.6 74.5L352.8 75.5M352.8 75.5L352.8 76.8L352.6 78.1M352.6 78.1L353.8 78.7L355.0 79.1M357.9 73.0L358.4 71.8L359.4 71.0L360.6 70.4L361.9 70.1M360.6 70.4L361.3 71.5L361.4 72.8M359.4 71.0L359.2 69.7L358.4 68.7M358.6 63.2L359.9 63.5L361.1 63.6L362.4 63.2L363.6 63.0L364.9 63.0L366.2 63.0M362.4 63.2L363.6 63.7L364.9 63.6L366.1 64.1M361.1 63.6L361.8 62.5L362.5 61.4L363.0 60.2M361.8 62.5L363.1 62.7L364.4 62.5M359.9 63.5L360.5 64.6L361.1 65.8L361.0 67.1" stroke="#ff3a30" stroke-width="0.5" fill="none" stroke-linecap="round" stroke-linejoin="round" opacity="0.95"/>
<path d="M330.7 107.7L329.5 107.2L328.3 106.9L327.0 106.8L325.7 107.2L324.4 107.3L323.2 107.0M359.0 97.8L358.6 99.0L357.9 100.1L357.6 101.4L357.6 102.7L357.6 104.0L357.1 105.1M322.1 95.1L322.1 96.4L321.7 97.6L321.7 98.9L321.4 100.2L320.7 101.3L320.0 102.4L319.2 103.4L318.4 104.5L317.9 105.6L317.5 106.9M317.9 105.6L318.1 106.9L318.0 108.2L317.2 109.2L316.5 110.3L316.0 111.5M362.4 100.5L363.3 101.4L364.4 102.1L365.4 103.0L366.1 104.1L367.1 104.8L368.4 105.0L369.7 105.3L371.0 105.1L372.2 104.5M364.6 81.1L365.1 82.3L365.1 83.6L365.0 84.9L364.7 86.2L364.9 87.5L364.7 88.8L364.7 90.1M364.7 86.2L363.5 86.7L362.3 87.1L361.0 86.9M363.5 99.5L364.0 98.3L364.8 97.3L364.9 96.0L364.8 94.7L365.0 93.4L365.6 92.3M364.8 94.7L363.5 94.4L362.2 94.7L361.0 94.5M361.0 94.5L359.8 93.9L358.8 93.1M363.5 94.4L362.8 93.3L361.9 92.3M362.8 93.3L361.6 92.8L360.6 92.0M364.9 96.0L364.0 95.1L363.0 94.2L361.8 93.8M336.8 96.9L335.6 97.5L334.6 98.2L333.3 98.4L332.1 98.9L331.1 99.8L330.4 100.8L330.2 102.1L329.8 103.4L329.0 104.4L328.1 105.3L326.9 105.9L325.6 105.9L324.4 105.5M326.9 105.9L325.6 105.6L324.4 105.8L323.1 105.6L321.8 105.3L320.5 105.6L319.2 105.8M321.8 105.3L321.0 104.3L320.1 103.4L318.9 102.8M325.6 105.6L324.3 105.6L323.1 105.1L321.9 104.6M324.3 105.6L323.7 104.5L322.8 103.5M323.7 104.5L322.4 104.5L321.2 105.1M334.6 98.2L333.4 97.6L332.1 97.4L330.9 97.9L329.6 98.2L328.5 98.8L327.3 99.2M328.5 98.8L327.2 99.0L325.9 98.6L325.0 97.7M325.9 98.6L325.1 99.6L324.6 100.8M324.6 100.8L323.3 100.7L322.0 100.7M332.1 97.4L331.5 96.3L330.7 95.3L329.8 94.4M329.8 94.4L328.5 94.6L327.4 95.3M335.6 97.5L334.5 96.9L333.5 96.0L332.6 95.1L331.9 94.0L331.7 92.7L331.9 91.4M354.0 87.0L354.5 88.2L355.3 89.2L356.1 90.3L356.8 91.4L358.0 92.0L359.3 92.0L360.4 92.6M324.5 92.4L325.8 92.4L327.1 92.7L328.3 92.7L329.6 92.2L330.9 92.1L332.1 91.6M348.0 93.1L347.0 93.9L345.9 94.6L344.6 94.8L343.3 94.7L342.0 95.1L340.8 94.8L339.6 94.3L338.3 94.0L337.0 94.2L336.0 95.0L334.8 95.3L333.5 95.0M338.3 94.0L337.8 92.8L337.6 91.5L337.4 90.2L336.9 89.0L336.7 87.7L336.7 86.4M336.7 87.7L335.7 86.9L334.6 86.3L333.8 85.3M336.9 89.0L337.8 88.1L338.9 87.5L339.8 86.5M339.6 94.3L338.7 93.4L337.6 92.6L337.0 91.5L335.9 90.8L334.7 90.3L333.7 89.5M347.0 93.9L345.8 93.3L344.5 93.2L343.2 93.3L342.1 94.0L341.0 94.5L339.9 95.2M341.0 94.5L340.4 95.7L339.8 96.8L338.8 97.7M342.1 94.0L341.5 95.1L341.0 96.3L340.0 97.2M344.5 93.2L344.1 94.4L343.3 95.5L342.5 96.5M342.5 96.5L341.2 96.5L339.9 96.6M329.2 103.8L330.2 103.0L331.5 102.7L332.7 102.4L334.0 102.6L335.2 103.1L336.2 103.9L337.5 104.1L338.8 104.0L340.1 104.2L341.4 104.1L342.6 104.5L343.7 105.2L344.7 106.1L345.9 106.7M344.7 106.1L345.9 105.8L347.2 105.5L348.5 105.6L349.7 106.1L350.9 106.4L352.2 105.9L353.4 105.6M350.9 106.4L351.5 105.2L351.6 103.9L351.8 102.6M351.5 105.2L352.8 105.3L354.1 105.6M336.2 103.9L336.4 105.2L335.9 106.4L335.3 107.6L334.8 108.8L334.9 110.1L335.6 111.2L336.4 112.2M336.4 112.2L337.6 111.9L338.9 111.8L340.1 111.2M332.7 102.4L333.6 103.4L334.2 104.6L334.1 105.9L334.0 107.2L333.4 108.3L333.3 109.6L332.6 110.7M330.2 103.0L331.5 103.2L332.8 102.9L334.1 102.9L335.4 102.9L336.6 103.2L337.9 103.2L339.2 103.2M370.5 90.1L369.4 89.5L368.6 88.4L368.1 87.2L367.5 86.1L367.6 84.8L368.3 83.7L368.8 82.5L368.7 81.2M361.2 107.0L362.3 107.8L363.2 108.7L364.3 109.4L364.9 110.5L365.7 111.5L366.7 112.4L367.9 112.7M367.9 112.7L368.6 113.9L369.1 115.0L369.6 116.2M369.6 116.2L369.0 117.4L368.5 118.6M364.3 109.4L363.8 110.6L363.5 111.8L362.6 112.8M363.1 80.5L364.3 80.2L365.6 79.8L366.8 80.0L368.1 79.6L369.2 79.0L370.0 78.0L370.8 76.9L371.5 75.8L371.7 74.5L371.9 73.2L372.7 72.2L373.3 71.1L373.7 69.8L374.2 68.6M371.9 73.2L373.2 73.0L374.4 72.4L375.6 71.9L376.7 71.2L377.9 70.9L379.0 70.2L379.7 69.1M374.4 72.4L375.6 72.9L376.4 73.9L377.4 74.7M376.4 73.9L376.1 75.1L375.5 76.3M370.8 76.9L370.1 75.7L369.1 74.9L367.9 74.3L366.7 73.9L365.4 74.2L364.1 74.1L363.1 73.4M363.1 73.4L363.1 72.1L363.2 70.8L362.9 69.6M370.0 78.0L371.2 78.6L372.5 78.8L373.6 79.3L374.9 79.2L376.1 79.7L377.4 79.7L378.7 80.0M374.9 79.2L375.4 78.0L376.1 76.9L376.2 75.6M372.5 78.8L373.8 78.8L374.9 78.2L375.8 77.2M374.9 78.2L376.2 78.0L377.5 78.3M369.2 79.0L370.5 79.3L371.8 79.4L373.0 79.0L374.3 79.0L375.6 79.4L376.9 79.4L378.1 78.9M378.1 78.9L378.8 80.0L380.0 80.5L381.1 81.3M374.3 79.0L375.1 80.1L375.3 81.4L375.1 82.6M373.0 79.0L374.3 79.2L375.5 79.6L376.4 80.6M374.3 79.2L374.7 80.4L375.5 81.4M375.5 81.4L376.8 81.7L378.0 82.1M376.8 81.7L377.0 80.4L376.6 79.1M350.9 106.4L349.6 106.5L348.4 106.2L347.2 105.6L346.5 104.5L346.4 103.2L345.7 102.1L345.3 100.9L344.5 99.9L344.2 98.6L343.5 97.5L342.7 96.5L342.4 95.2M343.5 97.5L344.6 96.8L345.2 95.7L346.1 94.7L347.2 94.1L348.0 93.0L348.8 92.0M347.2 94.1L348.0 95.0L349.2 95.6L350.5 95.7M350.5 95.7L350.6 94.4L351.0 93.2M344.6 96.8L345.8 97.2L347.1 96.9L348.4 97.0M327.3 103.7L326.0 103.7L324.7 104.1L323.5 103.8L322.4 103.0L321.2 102.6L319.9 102.4L318.8 101.7L317.7 101.0M317.7 101.0L317.5 99.7L317.6 98.4L317.5 97.2L317.1 95.9M317.5 99.7L316.2 99.8L314.9 99.5M316.2 99.8L315.7 101.0L315.0 102.1M319.9 102.4L319.1 101.4L318.4 100.3L318.2 99.0L317.5 97.9M317.5 97.9L318.1 96.7L318.1 95.4M318.1 96.7L319.4 97.1L320.5 97.7M326.0 103.7L324.9 104.4L324.2 105.5L323.5 106.6L322.5 107.5M327.6 93.6L326.5 94.2L325.2 94.3L323.9 94.6L322.6 94.8L321.4 95.1L320.2 95.6M323.9 94.6L322.8 94.0L321.7 93.3L320.7 92.5M321.7 93.3L320.4 93.4L319.1 93.6M320.4 93.4L319.5 94.4L318.6 95.3M326.5 94.2L325.3 93.7L324.0 93.6L322.8 93.2M322.8 93.2L321.6 93.8L320.5 94.5M363.6 89.6L364.2 88.5L364.5 87.2L364.6 85.9L365.0 84.7L364.8 83.4L364.2 82.3L363.2 81.4M363.2 81.4L362.0 81.8L361.0 82.6L360.0 83.5M364.6 85.9L365.6 85.1L366.8 84.7L368.1 84.8M366.8 84.7L367.8 85.5L368.7 86.4M364.5 87.2L365.4 86.3L366.0 85.1L366.6 84.0M365.4 86.3L365.1 85.0L365.2 83.7M361.3 87.6L362.3 88.4L363.6 88.6L364.9 88.5L366.2 88.7L367.3 89.3L368.6 89.6M367.3 89.3L367.5 90.6L368.3 91.7L368.4 93.0M368.4 93.0L367.2 93.4L366.0 93.8M362.3 88.4L363.6 88.2L364.9 88.5L366.1 88.1M360.7 94.1L361.4 93.0L361.8 91.8L361.6 90.5L361.5 89.2L360.8 88.1L359.9 87.1L359.5 85.9L358.9 84.7L357.9 84.0L357.0 83.0L356.4 81.9M356.4 92.1L356.4 90.8L356.6 89.5L356.5 88.2L356.6 86.9L357.4 85.9L358.3 84.9L359.4 84.4L360.5 83.6L361.7 83.1L362.7 82.3L363.7 81.4M326.3 83.5L327.6 83.5L328.7 82.8L330.0 82.6L331.3 82.6L332.5 82.2L333.7 81.6L334.9 81.2L336.1 80.7L337.3 80.1M330.0 82.6L330.2 81.3L330.9 80.2L331.3 79.0L332.2 78.1M330.9 80.2L331.4 79.0L332.3 78.1M331.4 79.0L330.2 78.3L328.9 78.3" stroke="#ff5a30" stroke-width="0.5" fill="none" stroke-linecap="round" stroke-linejoin="round" opacity="0.95"/>
<path d="M302.9 109.0L304.0 108.3L305.1 107.6L306.4 107.5L307.6 107.9L308.9 107.6L310.1 107.4L311.4 107.2L312.6 106.7L313.5 105.8L314.6 105.0L315.5 104.1L316.4 103.1M307.3 95.3L308.2 96.3L309.0 97.3L309.4 98.5L310.2 99.6L311.3 100.3L312.6 100.5L313.8 101.0L314.9 101.7L316.1 102.0L317.4 101.8L318.7 101.7L320.0 101.4M318.7 101.7L319.7 102.5L320.6 103.5L321.0 104.7L321.0 106.0L321.3 107.3L322.2 108.3M321.0 106.0L322.3 106.1L323.6 106.4L324.9 106.2M321.0 104.7L322.1 105.3L323.4 105.3L324.7 105.5M300.6 100.2L301.8 99.9L302.7 98.9L303.6 97.9L303.8 96.6L303.5 95.4L302.8 94.3L302.2 93.2L301.8 91.9L302.0 90.6L302.3 89.3L302.2 88.0M302.2 88.0L301.0 87.7L299.7 87.6L298.6 86.8L297.4 86.5L296.1 86.7M301.8 91.9L301.7 90.6L301.8 89.3L301.9 88.0L302.0 86.7L301.8 85.4M303.8 96.6L305.1 96.5L306.2 95.9L307.4 95.3L308.7 95.2L309.8 94.6M306.2 95.9L305.7 94.7L304.7 93.9M304.7 93.9L303.5 94.2L302.3 94.8M299.3 102.3L299.9 101.1L299.8 99.8L300.1 98.5L299.9 97.3L299.6 96.0L299.1 94.8L298.9 93.5L298.3 92.3L297.3 91.5L296.6 90.4M296.6 90.4L297.8 89.8L298.8 88.9L299.2 87.7L299.4 86.4L298.9 85.2M298.9 85.2L299.6 84.1L300.0 82.9M299.2 87.7L300.5 87.6L301.7 87.3M298.8 88.9L298.3 87.7L297.9 86.5M314.8 96.3L314.4 97.5L313.4 98.4L313.0 99.6L312.3 100.7L312.0 102.0L311.3 103.1L310.9 104.3M311.3 103.1L311.7 104.3L312.5 105.4L313.2 106.5M311.7 104.3L310.9 105.4L310.5 106.6M307.2 98.2L308.5 98.1L309.7 97.4L310.6 96.5L311.7 95.8L313.0 95.6L314.2 95.4L315.5 95.0M310.6 96.5L310.4 95.2L309.8 94.1L308.8 93.3M312.0 105.5L311.6 106.8L311.6 108.1L311.1 109.3L311.0 110.6L311.6 111.7L312.6 112.5M311.6 106.8L310.4 107.0L309.1 106.9L307.9 106.3M315.2 104.0L315.3 102.7L316.0 101.6L316.8 100.6L317.5 99.5L317.7 98.2L317.9 96.9L318.4 95.7L318.4 94.4L319.0 93.2M318.4 95.7L319.6 95.1L320.7 94.5L321.9 94.0L323.2 93.9M323.2 93.9L324.2 93.1L325.1 92.1M317.9 96.9L316.7 96.5L315.4 96.7L314.2 97.2L313.4 98.3M317.5 99.5L318.8 99.5L320.0 99.0L321.2 98.4L321.9 97.3M321.9 97.3L321.2 96.1L320.8 94.9M321.2 96.1L322.4 95.5L323.6 95.0M323.6 95.0L323.1 93.8L322.3 92.8M323.1 93.8L324.1 93.0L325.4 92.5M325.4 92.5L326.2 93.5L327.3 94.3M316.0 101.6L317.3 101.6L318.6 101.5L319.9 101.3L321.2 101.3" stroke="#ff3030" stroke-width="0.5" fill="none" stroke-linecap="round" stroke-linejoin="round" opacity="0.95"/>
<path d="M371.1 74.3h0M336.6 59.8h0M370.9 68.5h0M311.6 76.5h0M333.3 84.0h0M312.2 60.0h0M316.1 39.4h0M348.7 38.8h0M312.7 61.5h0M348.3 75.5h0M355.1 96.2h0M377.8 68.0h0M315.6 47.3h0M340.1 50.6h0M381.7 79.3h0M338.5 65.0h0M337.5 37.0h0M355.8 54.0h0M326.5 45.9h0M362.3 69.0h0M364.1 35.5h0M347.2 63.8h0M354.7 64.1h0M321.7 105.6h0M377.5 58.5h0M329.0 63.8h0M334.8 65.1h0M341.3 61.1h0M381.2 34.9h0M343.4 35.2h0M370.1 89.5h0M330.3 93.8h0M321.9 85.8h0M381.2 44.6h0M322.8 95.4h0M354.6 88.9h0M366.1 101.5h0M336.8 79.8h0M349.9 61.8h0M343.0 81.0h0M359.3 96.2h0M371.8 69.6h0M315.0 56.4h0M333.9 65.3h0M320.0 53.2h0M366.1 47.7h0M355.0 96.7h0M336.4 57.7h0M314.6 86.7h0M364.1 90.6h0M319.5 99.0h0M319.3 93.8h0M345.2 72.3h0M344.4 98.0h0M336.7 81.9h0M347.9 67.2h0M380.0 85.3h0M367.4 37.4h0M317.7 36.7h0M374.9 37.5h0M342.4 34.6h0M368.8 36.8h0M330.7 84.2h0M359.9 39.0h0M355.6 102.3h0M370.3 66.9h0M380.4 72.0h0M378.7 77.9h0M353.4 75.1h0M374.9 70.4h0M360.3 67.8h0M332.6 59.6h0M381.2 35.8h0M363.2 46.7h0M361.3 69.9h0M340.8 96.9h0M381.7 40.4h0M327.7 57.7h0M327.9 97.3h0M324.3 102.6h0M321.8 38.3h0M343.7 55.4h0M374.8 60.5h0M320.3 54.2h0M348.3 79.8h0M342.2 92.9h0M363.5 53.7h0M327.4 99.2h0M376.7 75.4h0M364.6 45.2h0M339.6 56.2h0M354.1 62.6h0M331.2 53.4h0M368.4 41.3h0M369.2 85.1h0M364.8 80.7h0M325.6 79.5h0M339.8 59.9h0M325.0 41.4h0M363.7 96.8h0M380.0 48.5h0M379.8 40.9h0M355.7 106.7h0M337.4 83.1h0M321.5 75.5h0M320.8 56.4h0M366.2 44.6h0M347.8 35.1h0M367.8 101.0h0M348.8 45.6h0M333.4 63.4h0M356.6 91.2h0M318.6 34.4h0M357.5 52.0h0M336.1 84.5h0M359.1 43.6h0M357.7 63.8h0M323.7 49.0h0M315.4 35.0h0M344.8 43.2h0M347.9 58.3h0M320.2 72.9h0M315.7 101.9h0M360.8 106.4h0M331.6 64.7h0M319.5 85.0h0M364.0 40.4h0M355.8 85.0h0M351.0 57.3h0M373.7 77.5h0M343.9 98.5h0M381.2 78.6h0M357.4 86.0h0M375.4 90.9h0M351.7 67.0h0M355.8 64.7h0M341.0 56.7h0M370.2 67.0h0M348.3 59.3h0M369.2 72.1h0M370.1 94.7h0M316.8 85.5h0M318.9 63.2h0M323.4 36.1h0M373.6 97.6h0M329.2 68.4h0M333.6 55.9h0M369.7 51.4h0M364.8 53.4h0M350.3 59.6h0M378.1 67.5h0M350.0 76.3h0M312.1 98.4h0M348.4 93.2h0M363.0 64.0h0M365.1 100.6h0M366.0 102.7h0M326.1 35.9h0M367.0 105.7h0M371.3 104.6h0M373.7 37.8h0M372.6 62.3h0M369.7 48.4h0M339.9 74.8h0M335.2 59.1h0M374.9 89.2h0M377.9 36.1h0M334.9 106.9h0M380.9 101.5h0M325.3 66.4h0M382.0 57.8h0M337.6 89.6h0M376.9 52.5h0M338.9 42.2h0M359.7 84.5h0M351.5 94.0h0M344.8 106.7h0M357.0 38.5h0M337.1 38.8h0M342.6 38.8h0M322.3 83.7h0M367.5 62.5h0M374.5 62.8h0M332.0 72.3h0M371.4 41.6h0M381.9 37.8h0M332.2 47.6h0M378.1 69.1h0M346.7 87.3h0M381.5 49.8h0M346.1 83.5h0M346.9 103.7h0M361.7 83.9h0M318.8 59.1h0M315.4 38.6h0M343.5 102.5h0M379.5 103.8h0M316.0 100.9h0M381.5 51.8h0M342.1 68.4h0M329.3 47.3h0M322.6 92.0h0M345.1 93.4h0M379.8 78.8h0M349.5 57.1h0M313.9 37.9h0M382.3 51.6h0M316.3 37.8h0M364.9 88.4h0M372.0 67.1h0M376.3 107.6h0M348.8 34.6h0M380.7 64.9h0M351.9 59.6h0M366.4 80.0h0M319.2 51.7h0M362.7 61.1h0M373.0 39.0h0M372.6 51.1h0M343.5 82.3h0M334.5 97.7h0M371.9 98.5h0M324.9 67.8h0M314.9 55.6h0M359.5 82.0h0M352.0 69.3h0M354.5 34.1h0M313.2 91.2h0M344.0 46.7h0M340.8 72.0h0M359.6 90.2h0M314.1 77.9h0M339.3 58.1h0M373.6 78.3h0M363.7 68.4h0M361.8 63.2h0M348.8 48.2h0M318.7 33.5h0M331.5 66.0h0M317.5 99.6h0M353.6 53.2h0M368.0 48.2h0M357.5 93.9h0M369.7 85.7h0M352.9 105.4h0M314.5 37.6h0M333.1 54.9h0M351.8 81.0h0M375.6 38.6h0M344.0 97.1h0" stroke="#ff4a30" stroke-width="0.6" stroke-linecap="round" opacity="0.7" fill="none"/>
<path d="M297.6,107.8 L305.5,105.8" stroke="#ff4040" stroke-width="1.6" fill="none" stroke-linecap="round" stroke-linejoin="round" opacity="1"/>
<path d="M331.1,117.6 L378.4,116.6" stroke="#ff6030" stroke-width="3" fill="none" stroke-linecap="round" stroke-linejoin="round" opacity="0.8" filter="url(#t1)"/>
<path d="M335.0 48.7h0M327.8 50.1h0M280.7 64.9h0M295.7 72.1h0M379.8 96.5h0M350.2 131.3h0M345.7 81.9h0M364.6 73.3h0M306.5 84.5h0M340.6 63.9h0M372.0 71.5h0M358.5 43.2h0M331.0 66.8h0M302.3 69.8h0M351.8 73.5h0M386.5 98.2h0M302.7 58.0h0M373.2 60.8h0M383.5 63.3h0M291.3 83.6h0M349.8 105.7h0M296.6 89.3h0M356.8 53.6h0M316.2 118.9h0M391.8 44.2h0M382.4 60.6h0M350.7 111.0h0M365.0 115.3h0M361.2 116.0h0M356.5 76.0h0M379.2 97.7h0M311.1 37.5h0M375.3 129.6h0M365.8 107.1h0M380.5 126.9h0M350.6 123.2h0M340.3 81.3h0M377.9 114.6h0M390.1 71.7h0M371.9 128.4h0M367.8 54.3h0M305.9 113.5h0M339.6 52.0h0M382.6 49.6h0M283.7 72.5h0M315.2 121.7h0M317.6 94.6h0M385.2 42.2h0M299.2 105.2h0M384.2 71.3h0M386.6 95.8h0M352.1 50.5h0M367.3 78.4h0M297.2 49.6h0M306.1 82.6h0M292.2 55.1h0M368.7 111.4h0M374.6 95.5h0M350.4 53.4h0M370.1 113.8h0M347.5 87.6h0M287.1 40.6h0M320.2 123.7h0M319.1 122.8h0M387.4 62.0h0M333.1 117.2h0M353.6 91.5h0M309.1 49.0h0M343.8 86.5h0M361.9 57.6h0M332.5 53.9h0M357.4 99.1h0M312.5 52.4h0M286.6 37.1h0M389.0 105.6h0M330.7 115.1h0M294.5 128.6h0M302.8 96.8h0M344.6 85.0h0M302.7 88.1h0M392.7 106.5h0M351.2 123.9h0M306.5 41.9h0M305.3 65.1h0M349.5 116.8h0M360.1 105.3h0M352.8 87.4h0M302.2 90.1h0M299.3 54.2h0M341.5 52.5h0M334.2 92.5h0M308.4 123.5h0M335.5 40.2h0M293.7 53.5h0M347.6 111.5h0M297.4 66.7h0M378.8 117.0h0M363.1 99.5h0M392.3 108.2h0M302.7 82.9h0M390.2 60.3h0M377.4 108.7h0M355.9 47.5h0M280.3 97.3h0M371.5 85.5h0M303.0 121.8h0M346.1 57.4h0M369.3 97.0h0M357.9 74.0h0M313.8 72.1h0M356.2 96.2h0M322.3 54.0h0M320.2 88.9h0M292.3 53.6h0M379.1 69.2h0M326.8 45.2h0M340.1 51.8h0M285.1 86.6h0M334.8 93.0h0M325.0 58.9h0M379.7 117.3h0M293.6 121.1h0M361.4 120.4h0M340.1 58.0h0M379.8 105.2h0M305.9 64.8h0M299.6 72.9h0M393.1 78.3h0M338.0 117.4h0M327.6 64.4h0M334.8 69.2h0M311.5 95.2h0M280.4 54.2h0M286.9 64.3h0M334.1 55.0h0M280.8 93.6h0M392.3 47.8h0M328.0 56.9h0M342.5 85.5h0M374.9 49.9h0M331.9 46.1h0M347.6 61.8h0M352.6 91.6h0M311.0 128.7h0M369.7 123.6h0M363.9 60.8h0M324.5 85.1h0M366.5 89.0h0M387.7 86.8h0M281.0 119.3h0M353.0 128.2h0M368.4 79.6h0M334.3 50.4h0M332.1 116.4h0M326.6 73.2h0M389.6 54.3h0M289.7 47.2h0M355.6 98.6h0M380.3 94.5h0M388.5 38.6h0M299.0 107.7h0M320.0 110.5h0M289.6 62.5h0M298.7 60.1h0M300.9 62.8h0M349.2 129.3h0M372.6 117.9h0M282.0 66.2h0M341.1 109.1h0M389.1 44.4h0M352.3 82.6h0M357.4 74.7h0M289.3 60.5h0M390.8 53.8h0M388.5 127.8h0M335.0 50.7h0M383.4 70.9h0M304.9 48.3h0M322.5 114.4h0M380.4 48.9h0M360.1 62.8h0M368.9 59.2h0M382.3 52.5h0M304.0 46.5h0M318.2 125.1h0M358.2 96.1h0M326.3 125.8h0M328.4 119.7h0M297.9 91.4h0M323.6 106.0h0M296.2 43.7h0M359.6 41.3h0M310.4 107.7h0M370.8 107.7h0M307.4 129.8h0M311.7 109.8h0M364.9 43.4h0M313.4 87.1h0M387.7 77.3h0M314.1 128.3h0M391.3 44.9h0M378.3 102.7h0M339.7 78.1h0M315.9 63.2h0M306.4 38.0h0M286.8 61.2h0M295.3 84.1h0M298.3 77.0h0M314.2 51.0h0M333.3 106.5h0M310.4 70.6h0M314.0 77.3h0M302.0 54.7h0M321.8 68.6h0M366.9 74.0h0M373.9 56.0h0M350.4 70.2h0M295.6 91.5h0M316.4 81.4h0M363.4 65.3h0M347.6 123.9h0M382.0 41.9h0M357.1 99.2h0M376.8 110.6h0M287.3 125.2h0M341.7 120.7h0M384.4 56.4h0M289.1 44.1h0M377.3 69.3h0M308.6 49.0h0M303.1 96.4h0M305.1 96.0h0M362.6 53.6h0M310.1 69.0h0M331.5 90.3h0M343.5 101.1h0M335.5 79.7h0M334.8 83.3h0M286.7 106.8h0M316.4 128.5h0M345.7 51.3h0M392.9 126.0h0M346.9 36.9h0M394.2 119.8h0M330.2 85.7h0M380.1 39.4h0M294.6 44.9h0M365.8 54.8h0M387.1 64.6h0M309.0 128.2h0M331.1 55.2h0M355.0 80.5h0M355.5 54.5h0M333.8 52.5h0M299.9 54.5h0M375.4 60.8h0M289.8 65.5h0M324.9 102.5h0M362.6 89.7h0M340.8 89.1h0M331.6 56.5h0M283.1 67.4h0M356.8 41.3h0M318.8 130.6h0M327.9 57.4h0M343.3 40.5h0M298.2 87.2h0M355.4 71.6h0M326.4 53.0h0M288.9 79.3h0M364.8 55.1h0M363.2 115.2h0M386.9 49.7h0M392.2 41.7h0M341.1 103.7h0M331.2 61.0h0M352.4 43.1h0M301.5 112.2h0M319.2 80.6h0M376.7 83.4h0M334.7 125.2h0M340.7 82.3h0M327.5 88.3h0M295.1 130.9h0M287.1 53.8h0M376.5 100.7h0M393.4 103.5h0M375.2 71.2h0M368.9 82.7h0M280.8 64.8h0M330.4 119.9h0M384.9 130.8h0M335.3 93.4h0M377.4 54.7h0M287.9 72.0h0M347.3 66.7h0M294.2 85.2h0M340.6 121.2h0M387.9 127.9h0M285.7 47.9h0M327.5 41.2h0M330.0 74.4h0M384.5 126.0h0M386.6 70.2h0M303.6 82.1h0M352.8 39.6h0M287.2 62.2h0M325.1 62.2h0M352.6 101.2h0M308.1 47.4h0M343.4 94.1h0M371.8 62.0h0M316.3 98.6h0M288.2 62.1h0M350.5 87.5h0M377.2 75.8h0M324.1 47.2h0M381.7 122.1h0M286.4 128.7h0M343.1 71.5h0M324.0 50.2h0M344.6 87.2h0M358.8 72.3h0M288.9 110.2h0M336.4 94.1h0M367.9 70.8h0M386.9 108.8h0M376.4 81.6h0M322.7 52.4h0M373.3 118.8h0M347.6 115.3h0M335.2 128.5h0M289.5 125.3h0M366.3 45.6h0M362.1 96.9h0M372.0 52.2h0M296.9 78.9h0M347.7 73.5h0M387.2 76.8h0M322.7 67.9h0M317.8 115.0h0M370.2 42.4h0M295.9 70.8h0M328.4 52.9h0M336.8 81.0h0M376.9 82.3h0M285.2 41.6h0M377.8 124.8h0M354.7 102.4h0M311.8 92.5h0M283.3 124.2h0M349.9 126.0h0M356.2 128.4h0M380.9 75.9h0M300.6 107.3h0M296.9 46.4h0M339.3 119.4h0M369.1 116.4h0M384.0 120.9h0M294.7 74.0h0M313.6 91.7h0M327.8 70.0h0M351.0 38.1h0M339.6 114.0h0M294.2 46.6h0M359.7 100.4h0M328.1 121.9h0M370.8 52.2h0M353.7 79.6h0M358.1 51.9h0M349.4 125.7h0M370.1 47.7h0M314.4 41.5h0M360.5 116.3h0M344.7 40.9h0M296.5 114.5h0M344.6 77.7h0M301.0 67.5h0M348.1 129.0h0M322.0 42.1h0M364.4 46.2h0M313.2 126.7h0M382.6 44.9h0M352.4 70.9h0M330.4 107.6h0M298.1 68.4h0M286.3 99.9h0M313.5 43.5h0M282.3 96.6h0M325.8 91.4h0M329.8 43.9h0M342.7 82.1h0M310.7 64.2h0M291.0 112.2h0M370.5 79.4h0M338.6 63.7h0M320.0 102.3h0M379.0 45.7h0M393.7 63.6h0M362.2 99.9h0M315.0 113.9h0M385.7 97.4h0M367.6 122.5h0M379.0 47.6h0M284.1 49.8h0M296.8 42.5h0M341.3 76.3h0M291.4 51.2h0M309.3 130.0h0M351.6 104.6h0M383.9 128.7h0M305.7 120.0h0M349.7 106.5h0M300.6 98.1h0M351.2 105.2h0M298.1 44.8h0M332.4 125.7h0M315.3 129.5h0M305.5 92.8h0M358.9 60.8h0M306.8 68.7h0M386.8 109.1h0M301.7 117.5h0M290.9 110.5h0M359.8 45.9h0M312.5 130.9h0M389.3 55.7h0M366.6 68.9h0M336.4 118.2h0M300.9 65.2h0M390.0 57.1h0M315.4 112.3h0M378.9 111.2h0M283.0 45.4h0M375.2 83.3h0M332.3 82.5h0M386.6 62.2h0M342.1 121.0h0M357.7 128.9h0M295.4 55.9h0M280.0 61.1h0M345.2 61.4h0M390.6 87.2h0M380.8 104.8h0M304.5 92.9h0M391.4 110.1h0M317.3 129.4h0M385.8 113.4h0M331.1 68.9h0M377.5 83.3h0M330.0 37.0h0M296.0 50.4h0M361.7 61.4h0M319.6 41.0h0M353.0 125.4h0M377.6 126.0h0M373.9 52.1h0M314.5 55.6h0M393.8 60.2h0M343.6 80.3h0M374.7 98.7h0M392.1 71.3h0M356.1 118.7h0M280.9 104.7h0M325.8 80.8h0M317.2 79.5h0M391.9 93.9h0M282.4 66.7h0M348.8 64.5h0M337.1 79.7h0M339.7 44.5h0M314.8 105.7h0M336.2 120.3h0M382.1 50.5h0M391.8 73.0h0M332.4 120.5h0M375.5 66.0h0M375.4 49.7h0M372.0 92.9h0M289.2 103.0h0M383.6 60.2h0M378.3 55.2h0M347.4 105.1h0M332.4 102.8h0M380.0 102.0h0M382.5 59.2h0M366.7 76.4h0M289.0 114.7h0M280.0 69.4h0M292.9 82.5h0M380.5 81.3h0M374.1 80.4h0M352.9 55.9h0M294.9 88.2h0M305.8 109.1h0M297.9 71.0h0M348.6 73.7h0M291.5 100.6h0M313.0 126.4h0M374.6 50.4h0" stroke="#c0c060" stroke-width="0.5" stroke-linecap="round" opacity="0.6" fill="none"/></g>
<path d="M304.5 30.5L372.5 30.5M304.5 30.5L276.9 48.3M372.5 30.5L403.1 48.3M276.9 48.3L403.1 48.3M276.9 48.3L297.6 133.0M403.1 48.3L381.4 133.0M297.6 133.0L381.4 133.0M304.5 30.5L312.4 87.7M372.5 30.5L366.2 87.7M312.4 87.7L366.2 87.7M312.4 87.7L297.6 133.0M366.2 87.7L381.4 133.0" stroke="#a0a0a0" stroke-width="0.45" opacity="0.75" fill="none"/>
<clipPath id="cv3"><polygon points="436.5,30.9 504.5,30.5 535.1,48.3 513.4,133.0 429.2,133.0 408.3,48.3"/></clipPath>
<g clip-path="url(#cv3)"><polygon points="436.5,30.9 504.5,30.5 535.1,48.3 513.4,133.0 429.2,133.0 408.3,48.3" fill="#0c0a16" opacity="1"/>
<polygon points="411.9,50.6 437.5,32.9 506.5,30.9 532.1,50.6 522.2,119.6 433.6,123.5 419.8,103.8" fill="#3a3468" opacity="1" filter="url(#t3)"/>
<polygon points="439.5,32.9 506.5,31.9 518.3,56.5 486.8,74.3 443.4,76.2 433.6,54.6" fill="#9a9274" opacity="1" filter="url(#t2)"/>
<polygon points="443.4,72.3 514.4,54.6 518.3,103.8 463.1,111.7 435.5,107.8" fill="#9a8660" opacity="1" filter="url(#t2)"/>
<polygon points="449.3,90.0 502.5,74.3 506.5,99.9 455.2,111.7" fill="#a08a5c" opacity="0.9" filter="url(#t2)"/>
<polygon points="457.2,123.5 510.4,106.8 515.4,114.7 463.1,127.1" fill="#b0a048" opacity="1" filter="url(#t2)"/>
<polygon points="439.5,32.9 506.5,31.9 492.7,52.6 453.3,64.4 439.5,54.6" fill="#8aa890" opacity="0.8" filter="url(#t2)"/>
<path d="M433.6,84.1 L463.1,58.5 L512.4,33.9" stroke="#50b898" stroke-width="6" fill="none" stroke-linecap="round" stroke-linejoin="round" opacity="0.55" filter="url(#t1)"/>
<path d="M427.6,107.8 L463.1,90.0 L502.5,64.4 L524.2,42.7" stroke="#48b49a" stroke-width="6" fill="none" stroke-linecap="round" stroke-linejoin="round" opacity="0.55" filter="url(#t1)"/>
<path d="M438.2 46.6L437.5 47.7L436.4 48.5L435.4 49.3L434.2 49.7L432.9 50.0L431.6 50.2L430.4 49.8L429.1 49.8L427.8 49.6L426.6 50.0L425.8 51.0L425.4 52.3L425.1 53.6M425.4 52.3L426.6 52.9L427.7 53.5L428.6 54.4L428.8 55.7L429.0 57.0L428.5 58.2M425.8 51.0L424.6 51.6L423.3 51.9L422.0 51.7L420.8 52.1L419.7 52.8L418.5 53.3M419.7 52.8L418.4 52.9L417.1 52.9L415.8 52.9M436.4 48.5L435.1 48.6L433.8 48.8L432.6 48.5L431.3 48.7L430.0 48.8L428.7 48.8M428.7 48.8L427.4 48.3L426.1 48.3L424.9 48.7M435.1 48.6L434.2 47.7L432.9 47.5L431.7 47.0M431.7 47.0L430.8 46.0L430.1 44.9M432.9 47.5L432.2 46.4L431.3 45.4M432.2 46.4L431.7 45.2L431.2 44.0M434.2 47.7L434.8 46.6L435.8 45.8M477.5 91.2L477.2 92.4L476.4 93.4L475.7 94.5L475.2 95.8L474.4 96.7L473.3 97.4L472.2 98.2L471.1 98.8L470.0 99.6L469.0 100.3L468.2 101.3L467.6 102.5L467.3 103.8L467.2 105.1M467.2 105.1L468.5 105.1L469.8 105.3L471.1 105.6L472.4 105.4L473.4 104.6L474.5 103.9L475.8 103.6M467.3 103.8L468.0 104.9L468.4 106.1L468.2 107.4L468.4 108.7L468.0 109.9L467.4 111.1L466.7 112.2M468.4 106.1L469.5 106.8L470.8 106.9L472.0 107.5M468.0 104.9L468.3 106.1L468.3 107.4L468.1 108.7M468.1 108.7L468.7 109.9L468.9 111.2M471.1 98.8L471.7 100.0L472.5 101.0L473.6 101.7L474.9 101.8L475.9 102.6L477.1 103.1L478.4 103.5M473.3 97.4L472.6 96.3L471.6 95.4L471.0 94.2L470.7 93.0L471.1 91.7L471.6 90.5L472.5 89.6M472.6 96.3L472.6 95.0L472.1 93.8L471.1 93.0M472.6 95.0L471.3 94.9L470.1 95.3M475.2 95.8L475.8 97.0L476.7 97.8L477.4 98.9L478.1 100.0L479.2 100.7L480.5 101.0L481.7 101.5M479.2 100.7L479.2 102.0L479.2 103.3L478.7 104.5M476.7 97.8L477.9 97.3L478.7 96.3L479.6 95.3M459.1 72.7L460.2 72.2L461.5 72.2L462.8 72.5L464.1 72.7L465.4 72.5L466.6 72.0L467.4 71.0L468.5 70.3L469.7 69.8M468.5 70.3L469.8 70.5L471.0 70.7L472.3 70.4L473.6 70.3M437.2 82.7L436.0 82.3L434.7 82.1L433.5 81.6L432.2 81.2L431.2 80.5L430.5 79.4L429.6 78.4L428.4 77.9L427.1 77.7M427.1 77.7L426.8 76.5L426.1 75.4L425.3 74.3L424.4 73.5M428.4 77.9L428.2 76.7L427.7 75.5L427.4 74.2L426.8 73.0M427.7 75.5L426.5 74.9L425.8 73.8M430.5 79.4L429.6 78.5L428.3 78.1L427.1 77.6L425.9 77.2M431.2 80.5L430.4 79.4L429.8 78.3L428.7 77.5L427.7 76.7M429.8 78.3L430.0 77.0L430.2 75.7M433.5 81.6L433.5 80.3L433.1 79.1L432.8 77.8L433.2 76.6M434.7 82.1L434.5 80.9L433.7 79.8L433.1 78.7L432.2 77.6M475.7 48.0L475.5 49.3L475.5 50.6L475.3 51.9L474.8 53.1L474.1 54.2L473.7 55.4L473.1 56.6L473.0 57.9L472.4 59.0L471.5 60.0M472.4 59.0L471.1 58.9L469.8 58.9L468.6 59.5L467.3 59.5L466.1 59.0M466.1 59.0L465.5 57.8L464.8 56.8M473.7 55.4L474.0 56.7L474.6 57.8L474.8 59.1L474.7 60.4L474.0 61.5M474.0 61.5L474.7 62.6L475.8 63.3M474.7 62.6L474.8 63.9L475.4 65.0M474.1 54.2L475.2 54.9L476.2 55.7L476.9 56.8L478.0 57.5L479.0 58.3M478.0 57.5L479.1 56.8L480.3 56.5M480.3 56.5L480.6 57.8L481.2 59.0M481.2 59.0L480.2 59.8L479.7 61.0M480.2 59.8L481.2 60.7L482.2 61.5M474.8 53.1L475.7 54.0L476.9 54.4L478.2 54.4L479.4 53.9L480.2 52.9M475.5 50.6L474.3 51.2L473.4 52.1L472.1 52.4L470.8 52.7L469.9 53.6M470.8 52.7L469.8 52.0L469.2 50.8M474.3 51.2L474.2 52.5L474.0 53.8M474.0 53.8L474.8 54.8L475.8 55.7M464.3 68.8L465.2 67.8L465.9 66.8L466.8 65.8L467.3 64.6L467.4 63.3L468.2 62.3L468.5 61.0L469.0 59.8L469.1 58.5L468.6 57.3L468.6 56.0L468.4 54.7L467.6 53.7L466.6 52.9M466.6 52.9L465.4 53.3L464.1 53.1L462.8 53.4L461.7 54.0L460.5 54.4L459.2 54.4L458.0 53.9M460.5 54.4L459.2 54.0L458.0 53.6L456.7 53.3M468.6 57.3L469.3 56.3L469.6 55.0L470.3 53.9L470.4 52.6L469.9 51.4L469.4 50.2L468.9 49.0M468.2 62.3L469.4 61.9L470.5 61.2L471.7 60.8L472.7 60.0L474.0 59.6L475.3 59.8L476.4 60.4M476.4 60.4L476.6 61.7L477.2 62.9L478.2 63.7M477.2 62.9L478.5 63.3L479.6 63.9M471.7 60.8L472.3 59.6L473.2 58.7L474.3 58.0M472.3 59.6L472.0 58.3L471.5 57.2M472.0 58.3L470.9 57.7L469.9 56.9M470.9 57.7L471.4 56.5L471.3 55.2M471.3 55.2L470.3 54.3L469.5 53.3M469.4 61.9L470.0 63.1L470.8 64.2L471.6 65.2M471.6 65.2L470.9 66.3L469.8 67.0M470.8 64.2L470.6 65.4L470.6 66.7M446.7 101.6L446.7 102.9L446.8 104.2L447.0 105.5L447.9 106.5L448.1 107.8L448.7 108.9L448.8 110.2L449.0 111.5L449.2 112.8L449.7 114.0L449.7 115.3L449.2 116.5L448.8 117.7M449.0 111.5L447.7 112.0L446.7 112.8L446.0 113.9L445.7 115.1L445.0 116.2L444.9 117.5M445.7 115.1L446.3 116.3L446.3 117.6L446.8 118.8M446.0 113.9L447.1 114.5L448.4 114.7L449.6 115.1M449.6 115.1L450.1 116.3L450.2 117.6M448.4 114.7L449.2 113.6L450.3 112.9M446.7 102.9L447.6 103.7L448.7 104.6L449.4 105.6L450.3 106.6L451.5 107.1L452.3 108.1M448.7 104.6L449.8 104.0L451.0 103.6L452.3 103.5M447.6 103.7L448.5 102.8L449.1 101.6L449.6 100.4M482.3 106.5L481.2 106.0L480.2 105.1L479.3 104.2L478.1 103.6L477.3 102.6L476.0 102.2L474.9 101.5L474.1 100.5L473.1 99.6L472.3 98.6L471.5 97.6L471.0 96.4L470.1 95.5M478.1 103.6L477.2 104.5L476.0 105.0L475.2 106.0L474.5 107.1L473.7 108.1L472.9 109.1M476.0 105.0L475.4 103.9L475.1 102.6L475.4 101.3M481.2 106.0L480.9 104.7L480.9 103.4L480.5 102.2L479.9 101.0L479.3 99.9L479.0 98.6M480.9 103.4L479.9 102.6L479.1 101.5L478.4 100.4M458.4 44.8L457.9 46.0L457.2 47.1L456.1 47.8L454.9 48.3L454.1 49.3L453.5 50.5L452.6 51.4L451.3 51.8L450.4 52.7L449.6 53.7L448.5 54.3L447.8 55.5L447.2 56.6L446.0 57.3M446.0 57.3L445.5 58.5L444.4 59.2L443.9 60.4L443.1 61.4L441.9 62.0L440.6 61.9L439.4 62.3M441.9 62.0L441.1 61.0L440.3 60.0L439.9 58.7M450.4 52.7L450.9 53.9L451.7 54.9L452.3 56.1L452.9 57.2L452.8 58.5L452.3 59.7L451.9 61.0M452.8 58.5L453.1 59.8L453.6 61.0L453.8 62.3M453.8 62.3L455.0 62.7L455.9 63.7M455.9 63.7L456.8 62.8L457.8 61.9M457.8 61.9L459.1 61.8L460.3 62.2M453.1 59.8L454.4 59.9L455.7 60.0M451.7 54.9L453.0 54.6L454.0 53.9L454.7 52.7M453.0 54.6L453.8 55.7L454.3 56.8M451.3 51.8L450.9 53.0L450.1 54.0L449.6 55.2L449.2 56.5L448.8 57.7L448.9 59.0L448.9 60.3M448.8 57.7L449.5 58.8L449.8 60.1L450.3 61.3M449.5 58.8L450.8 58.9L452.1 59.0M454.1 49.3L454.5 50.5L455.0 51.8L455.6 52.9L456.0 54.2L456.9 55.1L458.1 55.6L459.3 56.1M459.3 56.1L459.4 57.4L460.2 58.4L461.1 59.5M505.7 109.4L505.0 108.3L504.8 107.0L504.3 105.8L504.1 104.5L503.6 103.4L503.2 102.1L503.1 100.8L502.5 99.7L501.8 98.6M505.0 108.3L504.7 107.0L504.4 105.8L503.8 104.6L503.9 103.3M480.8 100.2L482.0 100.6L483.3 100.8L484.4 101.5L485.2 102.5L486.0 103.5L486.7 104.6L487.0 105.9L487.0 107.2L486.7 108.5L486.3 109.7L485.4 110.7M487.0 105.9L488.2 106.4L489.3 107.0L490.6 107.4L491.9 107.4L493.2 107.4M491.9 107.4L492.7 108.4L493.2 109.6M488.2 106.4L489.5 106.1L490.7 106.5M458.9 93.3L457.7 92.7L456.4 92.8L455.1 92.5L454.0 91.9L453.2 90.8L453.0 89.5L452.6 88.3L452.4 87.0L452.5 85.7L452.3 84.4L452.8 83.2L453.6 82.2L454.4 81.1L455.6 80.7M455.2 41.1L455.1 39.8L454.8 38.5L455.0 37.2L455.3 36.0L455.1 34.7L454.3 33.6L454.0 32.4L453.9 31.1L453.5 29.9L453.4 28.6L453.0 27.3M452.1 72.9L453.1 73.7L454.2 74.3L455.4 74.9L456.6 75.3L457.6 76.1L458.9 76.5M511.3 82.5L510.5 81.5L509.4 80.8L508.5 79.9L507.9 78.7L507.8 77.4L508.1 76.1L508.0 74.8L508.5 73.6L508.6 72.3L509.1 71.2L510.2 70.4L511.4 69.9L512.4 69.1L513.2 68.1M509.1 71.2L510.4 70.8L511.7 70.8L513.0 70.8L514.3 70.8L515.6 70.7L516.9 71.0L517.9 71.8M503.7 104.2L503.1 105.3L502.6 106.5L501.5 107.3L500.3 107.5L499.1 108.0L497.9 108.7L496.6 108.7L495.4 108.3M448.2 55.3L447.8 54.0L447.7 52.7L447.1 51.6L446.3 50.5L445.7 49.4L445.6 48.1L445.2 46.8L445.2 45.5M454.1 51.8L455.3 52.2L456.6 52.0L457.9 51.6L459.1 51.4L460.4 51.0L461.7 50.8L463.0 50.8L464.1 50.2L465.4 50.1L466.7 50.3M464.1 50.2L465.1 51.0L466.4 51.3L467.7 51.6L468.9 51.3L470.2 51.3M470.2 51.3L470.9 52.4L471.8 53.3M471.8 53.3L471.8 54.6L471.2 55.8M471.8 54.6L471.1 55.7L471.1 57.0M461.7 50.8L462.7 50.0L463.2 48.8L463.2 47.5L462.7 46.3L461.6 45.6M462.7 50.0L463.0 48.8L463.5 47.6M457.9 51.6L458.8 50.7L459.5 49.6L459.7 48.3L460.4 47.2L460.6 46.0M479.1 75.7L480.1 74.9L481.4 74.6L482.6 74.1L483.9 74.0L485.2 74.1L486.4 74.4L487.7 74.4L489.0 74.7L490.1 75.4M490.1 75.4L489.6 76.6L489.0 77.8L488.1 78.6L487.1 79.5M489.6 76.6L490.4 77.6L490.6 78.9M490.4 77.6L491.7 77.8L493.0 77.6M493.0 77.6L494.1 78.2L495.4 78.3M495.4 78.3L496.0 77.2L496.5 76.0M494.1 78.2L495.2 77.5L496.4 76.9M480.1 74.9L481.4 74.5L482.7 74.6L483.9 75.0L485.0 75.6M457.1 52.5L456.8 53.7L456.5 55.0L456.7 56.3L457.2 57.5L457.2 58.8L457.7 60.0L458.6 60.9L459.4 61.9L460.3 62.8M463.5 59.1L462.4 59.9L461.2 60.2L460.1 60.9L459.1 61.8L458.5 62.9L457.5 63.8L457.0 65.0L456.5 66.2L455.9 67.3L455.7 68.6L455.1 69.8L454.4 70.8L453.2 71.4L452.3 72.4M453.2 71.4L452.9 72.7L453.3 74.0L453.5 75.2L454.0 76.5L454.1 77.7L454.5 79.0L454.8 80.2M454.8 80.2L456.1 80.3L457.4 80.5L458.7 80.8M457.4 80.5L458.5 79.8L459.8 79.7M459.8 79.7L461.0 80.2L462.2 80.6M452.9 72.7L451.6 72.8L450.4 73.0L449.1 73.1M449.1 73.1L448.3 74.2L447.9 75.4M447.9 75.4L446.7 76.1L445.4 76.1M446.7 76.1L445.8 75.1L444.7 74.4M444.7 74.4L443.5 74.9L442.2 75.1M455.1 69.8L455.9 70.8L456.7 71.9L457.8 72.4L459.1 72.5L460.3 72.0L461.3 71.1L462.5 70.8M455.9 70.8L456.0 72.1L455.8 73.4L455.2 74.5M455.7 68.6L454.8 69.5L453.7 70.2L452.7 71.1L451.8 72.0L451.0 73.0L450.9 74.3L450.7 75.6M453.7 70.2L452.6 69.5L451.8 68.4L451.1 67.4M454.8 69.5L453.6 70.1L452.3 70.1L451.1 69.7M451.1 69.7L450.7 68.4L451.0 67.1M458.5 62.9L457.3 63.5L456.3 64.4L455.8 65.5L455.4 66.8L455.4 68.1L455.6 69.4L456.0 70.6M456.0 70.6L454.8 71.1L453.9 72.0L453.3 73.2M453.9 72.0L452.6 72.3L451.6 73.1M452.6 72.3L451.5 71.7L450.2 71.2M465.5 80.1L465.4 81.4L465.1 82.7L464.3 83.7L463.6 84.8L462.7 85.8L462.1 86.9L461.8 88.2M487.9 82.4L489.0 83.2L489.7 84.2L490.9 84.9L491.9 85.7L493.0 86.4L493.7 87.5L493.8 88.8L494.3 90.0L494.4 91.3L495.0 92.4M494.4 91.3L493.1 91.6L491.8 91.8L490.5 91.6L489.3 91.1L488.4 90.2M491.8 91.8L491.2 90.6L490.7 89.4M493.0 86.4L494.3 86.4L495.5 85.9L496.7 85.7L497.7 84.8L498.8 84.1M497.7 84.8L498.4 83.7L498.8 82.5M498.8 82.5L500.1 82.7L501.4 82.5M496.7 85.7L497.6 86.7L498.7 87.2M434.3 85.0L435.2 84.2L436.5 83.7L437.6 83.1L438.6 82.3L439.7 81.5L440.9 81.2L442.1 80.6L443.1 79.8L444.0 78.9L444.6 77.8M439.7 81.5L440.8 82.2L442.0 82.7L443.1 83.4L444.1 84.2L445.3 84.7M436.5 83.7L437.0 82.5L437.3 81.3L437.1 80.0L436.5 78.8L436.5 77.5M435.2 84.2L436.5 84.3L437.7 85.0L438.9 85.4L440.0 86.1L441.0 86.8M446.6 46.6L447.2 45.4L448.3 44.7L449.2 43.7L449.5 42.5L450.1 41.3L450.3 40.0L450.6 38.8L451.4 37.7L452.5 37.0L453.7 36.5L454.6 35.6L455.6 34.7M450.6 38.8L449.5 38.2L448.3 37.7L447.0 37.7L445.7 37.6L444.4 38.0L443.3 38.6M443.3 38.6L442.0 38.9L440.8 38.7L439.5 38.3M444.4 38.0L443.3 37.3L442.1 36.8L440.8 36.6M445.7 37.6L444.7 38.4L443.4 38.5L442.1 38.5M450.3 40.0L450.2 38.7L450.6 37.5L450.4 36.2L449.6 35.2L449.4 33.9L449.3 32.6M450.1 41.3L451.3 41.8L452.3 42.7L452.9 43.8L453.0 45.1L453.8 46.2L454.3 47.4M452.9 43.8L452.5 45.1L451.6 46.0L450.5 46.8M451.6 46.0L450.3 45.7L449.0 45.5M461.6 105.8L461.6 107.1L461.6 108.4L461.1 109.6L460.4 110.7L459.6 111.8L458.5 112.3L457.2 112.5L456.1 113.3L454.9 113.7L453.6 113.7L452.3 114.1M457.2 112.5L456.6 113.7L455.6 114.6L454.5 115.2L453.7 116.2L452.6 116.8M459.6 111.8L458.4 112.3L457.2 112.8L456.0 113.3L454.7 113.4L453.5 113.7M453.5 113.7L452.4 112.9L451.2 112.4M451.2 112.4L451.2 111.1L450.5 110.0M450.5 110.0L449.3 110.3L448.0 110.0M449.3 110.3L448.5 109.2L447.4 108.6M447.4 108.6L446.3 109.4L445.2 110.0M452.4 112.9L451.1 113.1L449.9 113.5M460.4 110.7L461.1 111.7L461.3 113.0L461.4 114.3L462.0 115.5L462.7 116.6M461.1 111.7L460.2 112.6L459.8 113.9M461.1 109.6L461.9 110.6L462.8 111.6L463.9 112.3L464.6 113.4L465.6 114.2M464.6 113.4L465.8 113.7L467.1 114.0M511.6 72.5L512.9 73.0L514.1 73.3L515.3 73.8L516.5 74.2L517.8 74.2L519.1 74.5L520.4 74.2L521.7 74.3L523.0 74.4L524.2 74.2M463.8 90.5L463.4 91.8L462.5 92.8L461.4 93.4L460.1 93.3L458.8 93.4L457.7 94.0L456.4 94.2L455.1 94.6L453.9 94.2L452.8 93.5L452.1 92.4L451.0 91.7L449.8 91.3M504.2 59.5L503.2 60.4L502.4 61.5L501.4 62.3L500.2 62.6L499.1 63.3L497.9 63.9L497.1 64.9L495.9 65.4M520.6 104.7L520.9 106.0L521.6 107.0L522.1 108.2L522.2 109.5L522.8 110.7L522.9 112.0L522.4 113.2L521.6 114.2L521.5 115.5L522.0 116.7M522.4 113.2L521.1 113.3L519.8 113.2L518.5 113.1L517.3 112.6L516.0 112.2M516.0 112.2L515.0 112.9L514.0 113.8M522.8 110.7L522.0 111.7L520.8 112.3L520.1 113.3L519.2 114.3L518.0 114.8M519.2 114.3L517.9 114.3L516.7 113.8M516.7 113.8L515.4 114.0L514.1 113.7M515.4 114.0L514.4 114.8L513.1 115.0M514.4 114.8L514.3 116.0L513.9 117.3M514.3 116.0L514.7 117.3L515.3 118.5M522.0 111.7L521.8 112.9L521.6 114.2M522.1 108.2L523.2 108.9L524.4 109.5L525.3 110.4L526.3 111.2L527.5 111.6M523.2 108.9L523.5 110.2L523.1 111.4M456.9 38.9L456.2 37.8L455.7 36.6L455.1 35.5L455.2 34.2L455.8 33.0L456.4 31.8L457.4 31.0L458.4 30.2L459.5 29.5M458.4 30.2L458.4 28.9L458.9 27.7L459.7 26.7L460.7 25.8M459.7 26.7L461.0 27.1L462.3 27.0M458.4 28.9L459.1 27.8L460.0 26.8M462.5 43.2L461.2 43.1L460.2 42.4L459.4 41.3L458.5 40.4L458.1 39.1L458.3 37.9L458.9 36.7L458.9 35.4L458.4 34.2M458.4 34.2L459.3 33.3L459.9 32.1L460.7 31.1L461.7 30.3M460.7 31.1L461.9 30.7L463.2 30.4M463.2 30.4L464.0 31.4L464.5 32.6M458.9 36.7L460.2 37.0L461.5 37.0L462.7 37.5L463.7 38.2M460.2 42.4L459.8 41.1L459.1 40.0L458.4 38.9L458.5 37.6M474.8 68.8L473.5 68.9L472.3 69.3L471.4 70.2L470.9 71.4L471.2 72.7L471.0 74.0L471.6 75.2L471.9 76.4L472.7 77.5M472.7 77.5L473.2 78.7L474.1 79.6L475.2 80.2L476.3 80.9M473.2 78.7L474.4 78.8L475.7 79.0M474.4 78.8L475.5 79.5L476.8 79.9M471.2 72.7L470.5 73.8L469.8 74.9L468.6 75.4L467.3 75.6M467.3 75.6L466.4 74.6L465.8 73.4M436.3 79.5L437.2 78.5L437.7 77.3L437.7 76.0L437.2 74.8L436.5 73.7L436.2 72.4L436.6 71.2L437.2 70.1L438.0 69.0L438.2 67.7L438.8 66.6L439.4 65.4L439.9 64.2M439.4 65.4L438.4 64.6L437.4 63.8L436.4 62.9L436.0 61.7L436.2 60.4L435.9 59.1M436.4 62.9L436.7 61.6L436.9 60.4L436.7 59.1M436.7 59.1L435.8 58.2L435.1 57.1M436.7 61.6L437.9 61.4L439.2 61.6M439.2 61.6L440.0 62.6L440.7 63.7M438.0 69.0L438.4 67.8L439.3 66.8L440.3 66.0L441.0 64.9L442.1 64.2L443.3 63.6M437.2 70.1L438.5 70.2L439.8 69.9L441.1 70.1L442.4 70.4L443.6 70.1L444.7 69.4M465.7 76.3L466.8 76.9L468.1 77.1L469.2 77.8L470.5 78.2L471.7 78.0L473.0 78.3L474.0 79.1M473.0 78.3L474.0 77.5L474.5 76.3L475.4 75.3M468.1 77.1L468.3 75.8L468.5 74.5L468.2 73.3M449.5 91.5L448.4 90.8L447.3 90.0L446.5 89.0L446.2 87.8L445.7 86.5L445.0 85.5L444.5 84.3L444.5 83.0L444.3 81.7L444.0 80.4L443.9 79.1L443.7 77.9M443.7 77.9L444.9 77.5L445.9 76.6L447.0 76.0L448.2 75.4L449.5 75.0L450.7 75.1M445.9 76.6L447.2 76.5L448.4 76.1L449.5 75.4M449.5 75.4L448.9 74.3L448.9 73.0M448.9 74.3L447.6 74.1L446.6 73.3M447.2 76.5L447.7 75.3L448.0 74.1M444.9 77.5L445.9 78.4L447.0 79.0L448.0 79.9M444.5 84.3L445.6 83.7L446.7 82.9L448.0 82.7L449.0 82.0L450.1 81.2L450.8 80.1M450.1 81.2L449.2 80.3L448.7 79.1L447.6 78.3M449.2 80.3L449.4 79.0L450.0 77.8M450.0 77.8L449.3 76.7L449.0 75.5M445.0 85.5L445.8 84.5L447.1 84.1L448.3 84.4L449.6 84.4L450.8 83.8L451.5 82.7M511.9 46.0L512.4 47.2L512.6 48.5L513.1 49.7L514.1 50.6L515.2 51.1L516.5 51.0L517.7 50.4L518.8 49.8M518.8 49.8L519.6 48.8L520.7 48.1L521.5 47.1L522.0 45.8M506.9 56.3L506.5 55.1L505.6 54.2L504.8 53.1L504.4 51.9L504.6 50.6L504.6 49.3L504.2 48.1L503.2 47.3L502.0 46.8L500.7 46.4L499.4 46.2L498.1 46.1L497.0 46.7L496.1 47.7M499.4 46.2L499.1 45.0L499.2 43.7L498.7 42.5L497.7 41.6L496.8 40.6L495.7 40.1L494.4 39.9M495.7 40.1L494.4 40.2L493.1 39.8L492.0 39.0M494.4 40.2L493.4 39.4L492.4 38.5M503.2 47.3L501.9 47.4L500.6 47.6L499.3 47.4L498.0 47.6L497.0 48.3L495.8 49.0L494.6 49.4M501.9 47.4L501.2 48.5L500.6 49.6L500.4 50.9M505.6 54.2L505.6 52.9L505.8 51.6L505.9 50.3L506.6 49.2L507.6 48.4L508.5 47.5L509.7 46.9M509.7 46.9L510.5 45.9L511.2 44.8L512.4 44.2M511.2 44.8L512.4 44.2L513.1 43.1M457.8 111.0L458.8 110.3L460.0 109.7L460.8 108.7L461.8 107.8L462.6 106.8L462.8 105.5L463.6 104.5L464.6 103.6L465.6 102.8M521.4 98.5L520.9 99.7L520.0 100.7L519.7 102.0L519.1 103.1L518.8 104.4L518.4 105.6L517.5 106.6L516.5 107.3L515.2 107.8L514.0 108.0L512.7 107.8L511.4 108.1M516.5 107.3L515.2 107.2L513.9 107.2L512.6 107.4L511.3 107.2L510.0 107.4L508.8 107.9M518.4 105.6L519.0 106.7L519.9 107.6L520.8 108.6L521.5 109.7L522.5 110.6L523.7 111.0M521.5 109.7L522.7 110.1L524.0 110.5L525.0 111.2M520.8 108.6L520.6 109.9L519.8 110.9L518.9 111.8" stroke="#60d0b0" stroke-width="0.45" fill="none" stroke-linecap="round" stroke-linejoin="round" opacity="0.7"/>
<path d="M511.7 71.5h0M487.0 50.5h0M442.5 102.1h0M489.3 65.6h0M447.4 86.4h0M473.0 97.4h0M516.8 80.4h0M428.8 85.0h0M491.7 36.2h0M507.8 100.2h0M496.4 65.9h0M497.3 36.5h0M462.7 106.0h0M498.3 91.2h0M453.1 104.0h0M467.7 36.1h0M519.8 97.8h0M459.7 72.4h0M471.9 92.4h0M507.7 104.7h0M513.8 40.3h0M511.8 106.4h0M521.3 57.5h0M490.4 108.4h0M470.4 80.7h0M465.4 48.4h0M460.9 89.3h0M512.4 102.6h0M453.0 40.2h0M496.9 107.3h0M512.8 73.8h0M446.8 86.7h0M446.0 78.3h0M454.6 67.3h0M477.3 36.4h0M429.0 47.2h0M513.9 92.0h0M468.8 58.3h0M472.6 66.8h0M470.2 73.1h0M439.4 40.0h0M517.2 54.4h0M490.7 67.9h0M502.6 37.4h0M521.0 78.1h0M500.9 62.2h0M438.2 52.0h0M438.4 62.4h0M470.7 80.1h0M481.7 85.5h0M516.5 90.9h0M498.2 73.6h0M482.2 108.7h0M444.9 35.0h0M450.8 72.6h0M495.2 63.5h0M440.5 83.9h0M442.9 60.1h0M496.1 72.3h0M467.9 103.4h0M460.4 92.9h0M506.9 62.8h0M437.0 59.1h0M455.0 107.2h0M479.8 89.9h0M493.0 53.7h0M504.2 94.3h0M437.9 97.5h0M460.0 44.0h0M458.4 107.2h0M503.5 47.9h0M455.3 108.6h0M461.3 42.4h0M492.3 109.2h0M501.7 61.6h0M449.2 53.0h0M507.6 86.9h0M489.2 52.6h0M478.6 37.3h0M443.9 41.6h0M485.1 35.7h0M444.5 98.5h0M500.9 58.2h0M438.1 41.6h0M465.3 89.9h0M512.6 51.5h0M491.8 45.7h0M448.5 40.7h0M462.7 63.3h0M498.3 93.9h0M429.0 43.4h0M520.7 86.1h0M502.7 61.6h0M506.8 101.2h0M460.3 96.6h0M451.5 69.5h0M507.0 90.2h0M505.2 59.2h0M460.2 50.7h0M467.5 38.5h0M506.4 59.1h0M502.9 59.9h0M476.2 77.6h0M449.6 85.6h0M464.7 50.6h0M463.2 59.5h0M521.7 105.8h0M438.2 97.7h0M481.4 88.2h0M521.7 41.8h0M434.9 89.7h0M464.5 76.0h0M482.8 44.8h0M502.8 50.7h0M441.7 49.2h0M485.4 39.4h0M443.2 39.3h0M463.7 44.8h0M519.7 64.2h0M472.4 51.6h0M434.0 111.6h0M458.5 37.9h0M437.8 67.1h0M471.3 71.8h0M479.0 88.6h0M505.0 56.1h0M441.7 106.9h0M489.6 66.2h0M431.0 80.7h0M501.9 55.4h0M498.6 111.1h0M445.3 47.4h0M521.7 47.0h0M508.0 68.9h0M433.4 101.7h0M519.8 103.8h0M517.8 51.1h0M503.4 76.2h0M500.9 69.4h0M501.3 101.7h0M448.9 68.4h0M481.4 94.8h0M445.2 80.4h0M433.7 42.2h0M487.6 97.7h0M439.3 69.6h0M484.6 90.4h0M514.0 104.7h0M446.3 66.4h0M508.0 85.5h0M486.6 46.2h0M495.4 64.0h0M455.4 95.1h0M430.1 90.0h0M519.9 44.6h0M432.5 109.3h0M455.8 108.4h0M497.8 104.9h0M434.4 65.4h0M476.6 35.2h0M432.9 85.5h0M488.5 47.1h0M505.7 62.7h0M493.6 39.6h0M474.0 47.2h0M511.0 65.6h0M517.1 61.7h0M446.3 65.1h0M454.0 38.3h0M520.3 81.2h0M467.3 56.1h0M496.4 102.2h0M505.7 86.6h0M459.9 64.5h0M486.0 42.2h0M480.7 59.8h0M437.7 53.5h0M515.6 51.9h0M453.0 37.9h0M497.1 82.9h0M445.2 53.3h0M468.8 103.4h0M473.3 97.5h0M451.7 93.6h0M515.8 107.3h0M480.5 71.3h0M510.7 43.4h0M436.1 96.2h0M473.4 48.5h0M464.8 73.4h0M438.8 39.0h0M518.1 37.8h0M515.7 64.0h0M502.1 51.8h0M452.9 50.6h0M486.5 105.1h0M504.0 75.4h0M455.5 44.4h0M483.6 50.2h0M484.0 70.6h0M436.8 72.8h0M435.8 83.8h0M430.2 83.2h0M516.9 52.0h0M448.6 59.5h0M482.4 52.0h0M448.7 86.3h0M428.4 51.2h0M463.9 103.6h0M494.9 100.7h0M490.4 41.6h0M500.0 50.2h0M501.2 62.8h0M468.7 56.9h0M457.2 89.1h0M499.7 89.4h0M493.4 93.0h0M497.8 38.2h0M429.5 36.5h0M510.2 91.2h0M460.8 90.1h0M493.6 60.6h0M486.4 64.6h0M449.3 96.4h0M432.3 108.6h0M516.4 55.7h0M464.8 74.5h0M485.6 37.7h0M502.5 102.6h0M496.3 76.4h0M445.5 64.1h0M507.3 49.5h0M432.6 61.4h0M517.1 52.3h0M496.7 36.6h0M511.8 74.8h0M455.5 37.9h0M513.8 69.6h0M483.6 39.6h0M445.8 56.5h0M482.4 112.9h0M502.4 107.2h0M468.4 85.3h0M442.9 46.3h0M499.6 49.6h0M511.6 96.0h0M504.5 60.3h0M445.2 88.2h0M514.0 110.7h0M520.9 56.0h0M497.9 113.5h0M506.6 73.1h0M482.6 81.8h0M458.4 109.6h0M498.8 40.8h0M463.5 78.3h0M517.2 70.0h0M451.9 51.8h0M475.0 105.0h0M476.1 84.9h0M490.0 43.3h0M519.6 111.5h0M444.6 86.2h0M509.0 73.1h0M508.5 77.1h0M465.6 73.8h0M506.5 68.2h0M434.2 55.9h0M482.0 96.3h0M521.9 83.7h0M521.6 51.1h0M519.7 53.7h0M445.2 92.7h0M491.0 35.7h0M488.9 77.1h0M516.1 92.0h0M437.2 94.9h0M493.2 51.2h0M447.4 79.0h0M515.0 70.7h0M479.7 37.4h0M434.2 107.3h0M470.1 102.2h0M483.2 103.2h0M509.2 83.2h0M468.7 95.0h0M491.2 41.3h0M459.5 67.4h0M441.0 91.7h0M470.7 66.2h0M458.4 53.9h0M520.1 82.0h0M463.0 69.8h0M477.9 36.4h0M488.0 87.4h0M474.1 81.4h0M436.8 84.9h0M474.0 77.1h0M439.8 54.6h0M457.7 78.6h0M504.9 87.7h0M473.8 37.5h0M494.9 72.0h0M506.8 85.6h0M475.1 83.9h0M499.5 86.4h0M512.8 106.3h0M461.5 101.9h0M458.4 97.7h0M476.2 97.0h0M517.1 72.6h0M467.6 92.6h0M516.0 96.1h0M506.7 107.0h0M486.6 103.9h0M446.6 60.9h0M484.4 75.9h0M471.3 85.2h0M487.3 62.1h0M443.6 110.7h0M459.8 72.8h0M440.4 59.0h0M483.5 50.7h0M505.1 111.5h0M480.0 42.8h0M438.9 90.6h0M494.5 81.7h0M486.1 36.8h0M461.4 99.4h0M510.7 37.1h0M465.5 83.8h0M487.3 46.3h0M457.5 42.6h0M483.1 37.5h0M455.3 83.1h0M513.9 78.8h0M461.3 91.8h0M514.1 90.9h0M515.6 111.5h0M455.9 88.2h0M470.0 103.3h0M450.0 100.2h0M491.6 95.2h0M454.2 42.5h0M463.2 100.8h0M436.5 49.9h0M479.7 73.7h0M498.5 56.3h0M445.7 73.5h0M461.0 104.2h0" stroke="#58c8a8" stroke-width="0.6" stroke-linecap="round" opacity="0.7" fill="none"/>
<path d="M483.7 110.9h0M509.0 115.4h0M488.6 117.7h0M504.1 113.5h0M503.8 119.0h0M494.3 113.1h0M505.9 114.1h0M503.1 111.8h0M504.9 115.5h0M507.2 110.0h0M508.7 114.7h0M491.6 110.3h0M510.5 116.7h0M498.0 110.1h0M501.6 119.9h0M492.2 111.9h0M484.1 116.4h0M504.0 111.9h0M503.9 117.5h0M504.9 114.9h0M505.8 112.4h0M508.5 111.2h0M511.8 116.4h0M509.3 121.1h0M501.2 110.5h0M490.9 118.8h0M484.0 115.8h0M494.2 111.9h0M485.2 119.5h0M492.8 109.9h0M512.0 117.9h0M506.0 114.0h0M502.5 115.9h0M502.0 111.0h0M490.8 118.8h0M495.0 119.4h0M504.9 119.3h0M502.1 111.5h0M485.5 120.6h0M487.4 120.0h0M485.2 121.0h0M497.1 117.5h0M506.1 120.4h0M494.2 109.8h0M483.0 120.7h0M492.1 114.3h0M499.3 121.2h0M503.4 110.3h0M511.9 111.3h0M499.2 115.7h0M511.0 121.3h0M495.2 115.0h0M498.8 115.4h0M504.0 120.3h0M503.2 119.7h0M502.6 111.0h0M511.7 114.1h0M493.6 120.5h0M487.7 113.4h0M507.5 116.5h0" stroke="#e0d070" stroke-width="0.7" stroke-linecap="round" opacity="0.9" fill="none"/></g>
<path d="M436.5 30.9L504.5 30.5M436.5 30.9L408.3 48.3M504.5 30.5L535.1 48.3M408.3 48.3L535.1 48.3M408.3 48.3L429.2 133.0M535.1 48.3L513.4 133.0M429.2 133.0L513.4 133.0M436.5 30.9L444.4 87.7M504.5 30.5L498.2 87.7M444.4 87.7L498.2 87.7M444.4 87.7L429.2 133.0M498.2 87.7L513.4 133.0" stroke="#a0a0a0" stroke-width="0.45" opacity="0.75" fill="none"/>
<clipPath id="cv4"><polygon points="568.5,30.9 636.5,30.5 667.1,48.3 645.4,133.0 560.6,133.0 540.3,48.3"/></clipPath>
<g clip-path="url(#cv4)"><polygon points="568.5,30.9 636.5,30.5 667.1,48.3 645.4,133.0 560.6,133.0 540.3,48.3" fill="#06062a" opacity="1"/>
<polygon points="547.8,48.6 569.5,32.9 638.5,30.9 662.1,48.6 646.4,123.5 565.6,125.5 551.8,103.8" fill="#1818b0" opacity="1" filter="url(#t3)"/>
<polygon points="541.9,50.6 565.6,44.7 575.4,103.8 561.6,131.4 547.8,103.8" fill="#1a1ad0" opacity="0.9" filter="url(#t2)"/>
<polygon points="571.5,32.9 638.5,30.9 634.5,48.6 575.4,64.4" fill="#4a20c0" opacity="0.7" filter="url(#t2)"/>
<polygon points="575.4,54.6 638.5,44.7 646.4,107.8 595.1,119.6 575.4,103.8" fill="#1a8a9a" opacity="0.9" filter="url(#t2)"/>
<polygon points="622.7,60.5 646.4,50.6 648.3,111.7 628.6,117.6" fill="#1aa07a" opacity="0.8" filter="url(#t2)"/>
<polygon points="581.3,90.0 630.6,84.1 634.5,107.8 585.3,109.7" fill="#20c070" opacity="1" filter="url(#t2)"/>
<path d="M587.2,99.9 L628.6,95.9 L632.6,90.0" stroke="#30f070" stroke-width="9" fill="none" stroke-linecap="round" stroke-linejoin="round" opacity="0.9" filter="url(#t1)"/>
<polygon points="610.9,107.8 638.5,105.8 638.5,123.5 601.0,123.5" fill="#30b0a8" opacity="0.9" filter="url(#t2)"/>
<path d="M575.4,84.1 L642.4,54.6" stroke="#207a7a" stroke-width="18" fill="none" stroke-linecap="round" stroke-linejoin="round" opacity="0.6" filter="url(#t2)"/>
<polygon points="643.4,32.9 638.5,46.7 575.4,86.1 567.5,82.2 587.2,62.4 610.9,38.8" fill="#8020b0" opacity="0.75" filter="url(#t2)"/>
<path d="M597.5 61.1h0M570.0 83.2h0M582.8 71.0h0M591.4 73.1h0M583.9 74.0h0M627.0 35.7h0M613.3 58.5h0M618.0 50.8h0M613.6 49.1h0M593.7 69.2h0M626.8 43.0h0M618.7 49.8h0M624.3 39.8h0M571.8 77.8h0M578.6 75.4h0M618.4 47.1h0M577.4 86.3h0M617.7 44.5h0M577.6 78.9h0M571.9 85.2h0M592.2 69.3h0M570.7 73.6h0M606.6 61.6h0M619.5 47.2h0M596.7 62.7h0M604.1 57.0h0M598.5 61.4h0M630.0 44.4h0M614.1 51.9h0M619.4 47.2h0M576.4 75.0h0M608.2 60.7h0M611.6 52.1h0M583.0 67.6h0M576.3 78.1h0M590.1 68.2h0M599.6 62.5h0M575.8 75.3h0M596.6 60.2h0M580.9 81.3h0M601.7 67.2h0M582.4 76.0h0M587.3 71.5h0M572.9 84.8h0M596.8 68.8h0M609.4 62.7h0M607.1 58.1h0M590.1 61.9h0M606.3 49.0h0M598.6 66.1h0M605.0 58.0h0M590.1 63.5h0M610.4 55.9h0M608.7 60.8h0M616.7 51.4h0M621.7 44.4h0M591.0 75.1h0M615.1 59.2h0M600.6 63.8h0M637.2 37.7h0M586.3 74.3h0M588.8 69.8h0M596.9 60.5h0M610.1 56.3h0M621.3 50.5h0M582.9 77.0h0M616.9 53.6h0M616.8 54.4h0M599.3 59.1h0M636.9 38.1h0M570.0 81.9h0M592.7 70.0h0M581.9 79.8h0M617.6 50.1h0M634.2 35.3h0M630.6 46.3h0M630.7 37.5h0M590.6 73.3h0M571.3 78.4h0M605.3 52.0h0M575.1 84.3h0M616.8 52.1h0M613.1 54.6h0M616.4 54.0h0M634.1 39.6h0M600.9 62.3h0M635.7 40.7h0M592.7 67.8h0M630.3 41.5h0M613.6 52.2h0M627.6 49.2h0M605.7 53.6h0M579.1 78.4h0M586.6 74.6h0M616.1 52.5h0M635.1 36.7h0M629.6 35.9h0M605.3 65.4h0M634.7 37.7h0M588.9 71.5h0M625.3 42.6h0M598.0 61.5h0M617.0 49.1h0M616.0 49.6h0M593.9 71.9h0M608.3 61.2h0M616.5 53.2h0M603.6 62.0h0M587.5 61.8h0M587.4 70.5h0M617.6 48.0h0M615.8 58.2h0M609.2 60.6h0M581.2 82.9h0M629.3 41.8h0M601.6 61.0h0M614.4 48.3h0M596.0 66.5h0M581.6 80.5h0M578.1 75.2h0M628.0 48.3h0M580.7 76.3h0M603.5 68.1h0M590.8 65.3h0M604.6 55.4h0M586.3 64.9h0M570.5 84.2h0M632.5 40.4h0M579.6 87.4h0M638.0 36.0h0M572.9 79.4h0M604.9 51.8h0M636.4 42.7h0M614.6 55.5h0M629.2 40.1h0M619.1 47.1h0M600.4 65.2h0M618.7 48.5h0M617.9 51.3h0M617.1 49.8h0M605.9 59.8h0M617.3 48.8h0M633.4 39.6h0M575.9 80.0h0M610.5 56.3h0M601.3 69.0h0M613.8 57.3h0M577.2 81.7h0M610.5 51.4h0M624.1 46.5h0M588.8 68.4h0M599.5 63.6h0M626.2 40.5h0M570.7 80.1h0M598.3 62.6h0M576.5 72.7h0M612.4 47.3h0M623.8 46.8h0M572.1 85.1h0M634.5 41.3h0M606.5 54.4h0M614.3 48.3h0M569.4 80.0h0M630.7 34.8h0M630.8 44.5h0M583.1 75.3h0M597.0 67.2h0M576.1 77.0h0M576.1 79.7h0M585.1 75.7h0M611.1 50.9h0M574.8 80.1h0M599.9 61.3h0M580.1 75.1h0M586.4 68.1h0M584.9 71.2h0M592.9 64.6h0M621.0 47.6h0M597.6 68.3h0M576.1 79.8h0M620.5 47.2h0M571.4 80.6h0M630.5 41.0h0M590.5 67.0h0M631.6 30.5h0M626.0 46.7h0M603.6 57.4h0M632.2 44.1h0M587.0 70.6h0M610.7 57.7h0M619.2 57.7h0M587.1 74.3h0M590.4 64.3h0M582.1 77.9h0M638.0 37.4h0M626.8 41.6h0M584.9 70.2h0M614.0 57.9h0M589.1 71.4h0M614.4 50.4h0M628.4 46.3h0M595.2 65.9h0M637.1 44.5h0M593.7 71.2h0M632.8 34.4h0M586.7 70.4h0M611.1 52.4h0M623.4 41.9h0M580.6 78.9h0M572.8 87.5h0M571.7 79.9h0M619.9 54.8h0M595.2 64.2h0M630.3 39.5h0M586.7 71.7h0M609.3 61.0h0M608.3 63.9h0M581.4 77.6h0M617.1 49.4h0M592.4 74.6h0M629.1 45.7h0M586.3 71.4h0M600.3 64.7h0M573.0 80.9h0M630.3 44.6h0M631.3 42.7h0M600.5 65.1h0M626.9 47.1h0M579.0 78.7h0M630.2 45.6h0M572.2 85.7h0M609.8 64.2h0M617.5 43.6h0M569.8 80.5h0M575.7 77.0h0M619.4 53.7h0M636.2 34.6h0M573.1 80.3h0M604.1 57.0h0M583.3 71.5h0M628.1 52.7h0M623.5 44.7h0M609.0 61.2h0M576.7 76.4h0M597.4 65.1h0M573.0 85.4h0M627.3 42.3h0M615.3 51.4h0M610.5 57.6h0M603.9 57.1h0M589.2 71.2h0M619.0 50.7h0M577.2 76.9h0M629.4 38.4h0M606.0 62.7h0M613.9 55.8h0M604.7 61.5h0M602.6 60.7h0M603.0 59.1h0M636.5 37.0h0M622.8 49.1h0M582.0 75.0h0M605.9 59.3h0M582.0 81.6h0M590.3 74.9h0M597.1 67.3h0M583.0 79.9h0M572.8 86.8h0M619.2 50.1h0M616.9 49.0h0M594.4 66.3h0M575.6 78.5h0M615.4 55.8h0M579.9 74.5h0M577.7 77.5h0M626.8 40.9h0M627.2 38.4h0M608.8 51.0h0M617.5 54.4h0M619.1 47.7h0M607.3 59.6h0M621.4 47.0h0M599.5 56.9h0M626.4 41.6h0M634.6 40.0h0M598.9 63.8h0M601.5 59.4h0M589.0 65.3h0M601.4 64.9h0M632.1 44.9h0M602.7 65.8h0M620.4 51.4h0M625.6 41.7h0M574.4 78.1h0M584.9 71.4h0M635.0 37.7h0M573.2 87.8h0M585.6 75.5h0M629.2 41.9h0M584.7 67.8h0M623.3 47.7h0M576.5 75.2h0M623.2 44.9h0M620.3 50.3h0M592.7 69.3h0M611.6 56.4h0M625.0 41.6h0M582.9 88.1h0M622.6 53.5h0M610.7 51.8h0M623.5 40.0h0M603.7 56.4h0M609.7 56.8h0M595.8 64.3h0M606.8 51.9h0M621.8 53.7h0M613.3 51.9h0M604.0 57.0h0M606.3 62.1h0M630.9 46.4h0M611.5 54.9h0M628.5 45.4h0M585.2 76.9h0M600.6 62.5h0M624.5 44.6h0M634.0 41.6h0M629.3 42.2h0M635.6 33.0h0M580.9 70.9h0M618.9 51.4h0M578.9 80.3h0M619.8 45.6h0M585.4 64.3h0M603.4 63.1h0M612.7 60.8h0M591.9 70.6h0M633.6 43.2h0M587.0 74.2h0M629.2 40.4h0M587.5 66.4h0M637.7 35.0h0M632.3 37.3h0M600.8 60.0h0M608.1 56.7h0M592.8 62.7h0M612.5 55.4h0M639.3 39.6h0M629.6 43.6h0M588.3 72.5h0M578.4 78.6h0M610.2 56.8h0M631.3 36.5h0M592.7 65.8h0M598.4 61.8h0M618.5 56.9h0M624.3 52.7h0M600.6 67.4h0M593.1 72.7h0M615.0 50.0h0M575.7 78.8h0M584.1 70.5h0M625.9 52.7h0M620.2 48.6h0M581.0 68.6h0M579.3 79.7h0M569.8 83.4h0M592.8 72.3h0M628.4 38.9h0M584.9 66.7h0M613.9 46.2h0M609.2 57.1h0M612.3 56.6h0M617.1 47.3h0M621.2 51.1h0M603.8 53.6h0M633.8 36.7h0M624.5 37.8h0M613.3 51.0h0M592.6 59.2h0M635.9 35.9h0M627.9 35.8h0M594.4 57.4h0M629.5 50.7h0M577.9 74.1h0M588.0 76.8h0M585.8 75.6h0M576.8 78.5h0M625.1 50.9h0M633.7 43.7h0M620.3 47.3h0M627.4 41.2h0M606.4 57.2h0M634.2 41.2h0M589.8 70.1h0M597.7 62.7h0M628.3 41.2h0M596.6 67.9h0M610.9 59.1h0M635.2 42.6h0M617.1 49.4h0M635.8 37.1h0M627.0 47.5h0M572.3 84.6h0M599.3 59.1h0M609.2 66.6h0M619.2 43.8h0M621.8 47.5h0M575.0 84.7h0M597.4 64.9h0M618.9 56.4h0M572.5 75.0h0M587.8 73.8h0M611.1 53.5h0M590.6 67.4h0M588.1 70.4h0M614.7 57.3h0M570.7 78.5h0M627.9 46.8h0M589.1 77.5h0M609.7 55.2h0M594.7 63.1h0M594.3 66.1h0M577.3 76.5h0M618.3 45.7h0M632.5 35.4h0M608.0 54.3h0M570.3 76.4h0M631.2 44.9h0M588.7 67.9h0M605.9 59.7h0M606.9 51.1h0M570.4 80.3h0M581.2 80.8h0M570.3 81.7h0M603.7 53.4h0M584.1 75.4h0M609.6 53.7h0M586.9 69.0h0M589.3 69.9h0M584.9 76.6h0M629.1 40.9h0M593.2 59.0h0M603.8 62.7h0M608.8 57.5h0M630.7 39.4h0M600.0 67.1h0M593.5 72.6h0M632.4 46.7h0M634.2 36.7h0M571.6 81.2h0M612.6 54.4h0M604.2 60.9h0M608.8 49.5h0M604.4 50.7h0M632.9 44.2h0M638.8 37.8h0M600.8 60.9h0M632.1 44.2h0M573.5 77.0h0M610.0 55.0h0M621.7 53.2h0M578.6 67.0h0M620.0 41.4h0M602.8 65.1h0M621.1 48.9h0M596.2 62.4h0M614.3 51.7h0M623.6 42.0h0M617.6 47.7h0M588.9 74.6h0M617.0 49.8h0M588.3 70.7h0M633.1 41.7h0M634.5 36.5h0M610.7 56.8h0M573.5 82.2h0M631.8 39.2h0M622.0 44.7h0M596.2 60.3h0M571.6 74.6h0M578.5 81.1h0M577.4 74.3h0M587.8 72.1h0M586.6 76.9h0M626.6 52.7h0M622.7 52.8h0M575.3 82.2h0M629.0 39.6h0M601.2 56.6h0M612.3 57.7h0M599.6 64.9h0M622.2 51.4h0M588.5 70.2h0M600.7 60.3h0M618.0 52.1h0M587.8 75.0h0M607.9 61.4h0M603.5 52.1h0M634.4 45.1h0M574.0 72.4h0M611.8 57.9h0M582.1 71.9h0M630.8 44.7h0M610.7 51.6h0M588.5 63.2h0M627.6 43.5h0M586.3 70.4h0M578.1 78.2h0M576.3 75.1h0M572.2 81.0h0M581.8 74.9h0M620.3 47.0h0M571.3 77.6h0M598.8 54.8h0M614.0 54.1h0M612.8 54.5h0M591.5 64.6h0M617.2 50.2h0M627.9 44.4h0M602.1 57.2h0M581.3 82.0h0M568.2 81.5h0M624.1 42.5h0M614.7 53.1h0M631.3 42.1h0M635.0 40.8h0M593.0 72.1h0M609.8 60.0h0M587.1 71.1h0M600.8 58.9h0M586.3 69.0h0M590.0 72.7h0M632.9 41.2h0M606.3 64.8h0M581.5 75.9h0M604.3 60.7h0M609.3 52.0h0M618.0 49.2h0M601.5 62.4h0M606.0 60.7h0M585.9 79.8h0M576.7 78.1h0M616.6 48.7h0M591.2 70.7h0M580.1 69.7h0M618.9 40.2h0M592.1 72.1h0M610.9 62.3h0M576.4 79.8h0M628.1 45.5h0M622.5 55.6h0M607.1 48.8h0M575.5 82.3h0M623.0 46.9h0M584.6 75.3h0M582.9 75.2h0M601.3 58.4h0M608.4 62.3h0M608.6 59.0h0M632.3 39.6h0M609.0 62.3h0M639.0 41.1h0M600.6 63.7h0M579.1 75.9h0M622.2 48.3h0M632.2 37.4h0M631.1 40.1h0M629.7 44.4h0M608.0 52.9h0M605.4 57.4h0M614.1 51.3h0M593.0 76.6h0M609.7 53.0h0M605.7 56.1h0M586.9 73.2h0M635.0 38.1h0M598.3 66.3h0M572.5 81.2h0M629.9 45.3h0M632.3 33.2h0M594.5 70.8h0M632.1 36.4h0M611.2 52.4h0M587.5 66.0h0M586.1 73.2h0M593.3 62.6h0M630.1 41.2h0M586.0 73.9h0M580.5 80.0h0M596.2 70.0h0M581.4 79.6h0M576.9 71.4h0M618.9 41.7h0M577.7 78.8h0M616.0 54.7h0M595.7 65.6h0M638.8 39.1h0M602.3 62.3h0M606.4 59.2h0M568.4 82.1h0M618.2 50.4h0M586.5 76.5h0M574.2 85.5h0M586.1 68.0h0M628.6 49.3h0M589.8 69.3h0M572.2 75.8h0M595.8 69.1h0M592.4 64.4h0M584.3 73.8h0M619.0 52.5h0M588.4 77.0h0M573.5 77.2h0M588.1 69.0h0M578.0 70.4h0M623.1 47.1h0M635.2 38.5h0M588.9 62.2h0M630.2 47.5h0M577.1 79.1h0M573.7 89.0h0M630.5 53.0h0M590.5 69.7h0M619.1 51.5h0M622.0 42.4h0M610.5 57.9h0M628.0 44.1h0M584.3 77.5h0M597.6 68.5h0M608.3 55.7h0M611.8 55.3h0M613.0 48.5h0M604.6 61.4h0M601.6 63.0h0M630.6 35.9h0M576.7 81.3h0M629.8 43.8h0M596.9 69.5h0M591.6 65.1h0M618.8 45.6h0M609.7 63.0h0M618.4 51.8h0M633.6 38.7h0M619.5 51.1h0M629.1 44.1h0M621.9 49.3h0M587.0 69.6h0M591.5 64.5h0M606.0 60.7h0M576.9 81.9h0" stroke="#f060f8" stroke-width="0.9" stroke-linecap="round" opacity="0.85" fill="none"/>
<path d="M627.9 42.4h0M615.6 49.1h0M615.1 45.7h0M607.4 51.3h0M631.8 42.4h0M601.4 53.8h0M613.3 47.2h0M605.5 46.4h0M636.1 43.0h0M605.2 57.9h0M599.0 58.5h0M606.5 50.3h0M624.6 41.0h0M610.2 46.7h0M633.6 37.5h0M598.7 49.2h0M625.9 38.7h0M600.6 55.3h0M617.6 45.0h0M609.9 57.9h0M613.4 47.8h0M627.0 42.7h0M621.9 46.5h0M604.7 48.5h0M625.9 35.6h0M598.8 54.3h0M627.7 42.5h0M607.8 55.8h0M622.4 45.2h0M606.4 61.3h0M625.7 42.0h0M600.2 58.4h0M606.7 55.4h0M595.7 55.6h0M625.7 41.6h0M606.7 54.4h0M613.4 50.0h0M622.9 45.4h0M619.2 42.6h0M604.5 51.0h0M610.2 57.2h0M626.3 43.1h0M611.9 47.4h0M632.0 34.8h0M611.8 54.3h0M618.2 56.6h0M625.5 46.7h0M627.0 44.4h0M607.0 50.7h0M632.2 37.1h0M611.6 52.0h0M610.2 49.6h0M611.4 50.6h0M637.6 46.0h0M610.7 55.7h0M622.6 41.7h0M605.5 49.2h0M618.7 44.9h0M612.5 48.6h0M615.3 56.7h0M601.8 50.3h0M599.6 51.2h0M602.5 50.9h0M618.0 53.3h0M615.5 54.5h0M629.9 38.0h0M617.1 47.1h0M594.7 53.5h0M613.8 52.7h0M602.4 47.0h0M630.4 43.7h0M630.2 40.6h0M609.1 49.6h0M598.2 60.3h0M607.1 57.2h0M634.6 41.1h0M627.3 35.0h0M617.3 48.0h0M606.6 46.9h0M634.3 45.8h0M629.7 41.5h0M626.2 43.2h0M618.4 44.5h0M604.7 58.1h0M629.8 38.4h0M598.9 54.0h0M604.9 53.5h0M614.2 46.3h0M599.1 55.9h0M609.0 52.1h0M626.1 41.9h0M601.8 49.9h0M627.7 35.2h0M615.7 46.0h0M594.4 54.6h0M628.8 34.0h0M602.8 50.1h0M602.8 50.6h0M636.3 42.5h0M614.1 47.5h0M631.1 40.4h0M604.8 56.0h0M613.9 49.4h0M605.2 55.7h0M614.9 48.9h0M607.6 55.7h0M605.1 53.7h0M603.9 53.1h0M595.7 53.4h0M631.8 40.1h0M625.6 44.0h0M604.5 57.8h0M607.2 47.9h0M602.9 58.4h0M618.7 44.8h0M609.1 55.5h0M627.5 46.0h0M619.0 45.1h0M595.0 51.5h0M623.6 44.0h0M609.6 52.8h0M629.2 45.7h0M615.5 41.9h0M609.0 50.3h0M609.0 56.0h0M614.3 50.3h0M601.5 63.0h0M629.2 42.8h0M608.4 52.7h0M601.9 57.4h0M597.0 61.4h0M615.0 45.0h0M603.8 55.2h0M628.0 45.8h0M628.2 36.0h0M620.1 50.9h0M627.1 40.6h0M609.9 51.2h0M635.7 42.3h0M613.0 52.4h0M628.7 35.9h0M614.0 51.1h0M624.9 39.3h0M624.4 43.6h0M599.7 49.6h0M595.9 58.6h0M594.7 52.8h0M621.1 47.8h0M622.0 44.5h0M624.8 44.7h0M608.9 46.4h0M627.5 46.7h0M611.1 57.0h0M605.3 53.7h0M630.9 36.7h0M628.3 35.7h0M605.0 52.6h0M605.8 47.7h0M616.7 46.9h0M611.9 46.4h0M615.1 48.0h0M611.6 54.7h0M608.6 49.6h0M624.2 52.3h0M623.0 43.7h0M597.2 60.2h0M609.2 49.7h0M603.5 45.0h0M629.9 40.1h0M606.8 50.4h0M609.7 49.7h0M610.3 55.5h0M625.8 43.3h0M598.5 52.6h0M614.2 47.8h0M608.9 55.3h0M601.0 55.3h0M624.7 50.5h0M627.3 40.4h0M633.4 37.1h0M600.5 53.4h0M604.3 52.5h0M601.8 58.7h0M635.1 40.1h0M604.7 55.7h0M616.3 49.3h0M601.6 50.9h0M617.7 46.5h0M619.2 42.4h0M602.8 52.8h0M619.8 47.3h0M625.1 37.3h0M629.5 44.1h0M608.7 48.2h0M599.8 54.8h0M624.9 42.0h0M608.5 54.7h0M605.8 55.8h0M601.8 55.3h0M635.5 42.3h0M624.2 47.3h0M628.4 45.5h0M614.6 45.0h0M608.8 51.9h0M625.5 43.8h0M610.0 51.5h0M626.2 47.1h0M626.5 39.1h0M606.4 49.4h0M597.3 55.9h0M603.0 56.3h0M615.4 44.5h0M599.8 54.9h0M616.4 44.8h0M605.8 56.1h0M613.3 58.1h0M620.1 41.8h0M631.0 34.1h0M623.8 48.4h0M619.9 48.1h0M633.1 41.0h0M619.6 45.3h0M614.5 46.9h0M615.5 45.4h0M601.2 55.7h0M600.5 58.1h0M606.1 51.9h0M615.5 43.1h0M623.8 48.8h0M631.4 36.5h0M633.9 37.6h0M606.1 57.5h0M621.9 48.9h0M604.2 51.4h0M596.0 60.2h0M618.5 43.7h0M609.4 40.3h0M622.2 39.6h0M611.9 51.4h0M607.5 50.7h0M602.5 59.7h0M603.4 56.6h0M608.4 54.3h0M591.6 50.8h0M608.8 50.3h0M621.5 49.9h0M596.4 51.3h0M632.8 35.4h0M611.4 54.2h0M621.2 41.9h0M627.9 33.0h0M622.3 45.5h0M598.2 62.6h0M593.2 49.4h0M597.9 60.9h0M607.2 54.9h0M629.2 45.2h0M605.0 53.0h0M623.4 51.0h0M607.6 47.6h0M636.2 44.2h0M606.2 51.4h0M615.7 48.7h0M609.3 48.2h0M620.4 47.6h0M624.7 39.2h0M617.5 49.3h0M631.9 46.9h0M610.2 57.8h0M611.0 44.8h0M633.1 40.5h0M609.2 55.5h0M624.6 34.3h0M613.4 46.9h0M612.6 49.5h0M616.0 46.6h0M622.5 49.0h0M620.1 38.3h0M627.3 46.0h0M630.4 51.4h0M615.6 57.6h0M630.1 46.5h0M632.6 43.3h0M619.5 42.9h0M599.5 55.3h0M628.6 43.2h0M612.7 52.1h0M595.1 55.4h0M626.4 43.6h0M596.3 51.9h0M603.9 58.0h0M599.8 51.8h0M631.0 35.3h0M632.9 47.2h0M606.8 43.3h0M620.9 50.2h0M633.2 39.2h0M610.3 50.6h0M613.0 47.5h0M623.7 42.3h0" stroke="#ff90ff" stroke-width="0.8" stroke-linecap="round" opacity="0.8" fill="none"/>
<path d="M642.4,33.9 L622.7,38.8" stroke="#ff70ff" stroke-width="3" fill="none" stroke-linecap="round" stroke-linejoin="round" opacity="0.9" filter="url(#t1)"/>
<path d="M570.4 107.5h0M568.6 107.8h0M563.7 112.0h0M565.1 110.8h0M571.4 105.1h0M564.8 111.3h0M570.3 106.9h0M565.9 109.9h0M568.8 107.4h0M564.8 110.4h0M563.8 111.4h0M565.1 109.4h0M571.6 106.3h0M562.8 111.6h0M564.6 110.2h0M564.4 111.6h0M563.5 110.7h0M570.6 107.2h0M563.5 111.0h0M563.9 111.3h0M572.6 106.1h0M566.8 109.2h0M568.7 107.7h0M571.9 106.6h0M566.2 109.0h0M564.2 110.8h0M571.9 106.6h0M571.6 105.9h0M566.7 109.5h0M562.6 111.1h0M570.3 106.4h0M569.6 107.1h0M563.5 111.1h0M565.3 109.6h0M571.6 105.6h0M563.6 111.0h0M565.9 110.9h0M565.8 109.9h0M567.8 109.1h0M567.2 109.0h0" stroke="#ff50ff" stroke-width="0.9" stroke-linecap="round" opacity="0.9" fill="none"/>
<polygon points="654.2,46.7 668.0,48.3 646.4,133.0 642.4,127.5" fill="#04041a" opacity="0.7" filter="url(#t3)"/>
<polygon points="561.6,123.5 601.0,127.5 601.0,133.0 560.6,133.0" fill="#04041a" opacity="0.6" filter="url(#t2)"/></g>
<path d="M568.5 30.9L636.5 30.5M568.5 30.9L540.3 48.3M636.5 30.5L667.1 48.3M540.3 48.3L667.1 48.3M540.3 48.3L560.6 133.0M667.1 48.3L645.4 133.0M560.6 133.0L645.4 133.0M568.5 30.9L576.4 87.7M636.5 30.5L630.2 87.7M576.4 87.7L630.2 87.7M576.4 87.7L560.6 133.0M630.2 87.7L645.4 133.0" stroke="#a0a0a0" stroke-width="0.45" opacity="0.75" fill="none"/>
<text x="68.5" y="24.9" font-size="6.6" text-anchor="middle"><tspan fill="#20c4cc">MBP</tspan> <tspan fill="#eadcc0">ConA</tspan> <tspan fill="#e81414">LEL</tspan></text>
<text x="205.5" y="24.9" font-size="6.6" text-anchor="middle"><tspan fill="#e07a30">NeuN</tspan> <tspan fill="#e040e0">GFAP</tspan> <tspan fill="#30c090">Vimentin</tspan></text>
<text x="339.5" y="24.9" font-size="6.6" text-anchor="middle"><tspan fill="#ff2020">LEL</tspan> <tspan fill="#8060ff">WGA</tspan> <tspan fill="#e8e020">TO-PRO</tspan></text>
<text x="470" y="24.9" font-size="6.6" text-anchor="middle"><tspan fill="#30c0a0">Vimentin</tspan> <tspan fill="#e8b030">GS-II</tspan> <tspan fill="#8070f0">WGA</tspan></text>
<text x="602.3" y="24.9" font-size="6.6" text-anchor="middle"><tspan fill="#3030ff">GABBR2</tspan> <tspan fill="#30e030">TUBB3</tspan> <tspan fill="#ff30ff">GFAP</tspan></text>
<g stroke="#f4f4f4" stroke-width="0.75"><line x1="13.5" y1="48.7" x2="26" y2="48.7"/><line x1="13.5" y1="48.7" x2="24.5" y2="41"/><line x1="13.5" y1="48.7" x2="15.6" y2="60.5"/></g>
<g fill="#f4f4f4"><polygon points="29.2,48.7 25,46.8 25,50.6"/><polygon points="27.3,39.2 22.6,40.2 24.8,43.5"/><polygon points="16.7,63.4 14,59.6 17.6,59.2"/></g>
<text x="32.30" y="50.60" font-size="5.6" text-anchor="middle" fill="#eee" >x</text><text x="25.20" y="37.40" font-size="5.6" text-anchor="middle" fill="#eee" >z</text><text x="15.20" y="70.30" font-size="5.6" text-anchor="middle" fill="#eee" >y</text>
<text x="8.90" y="129.40" font-size="6.7" text-anchor="start" fill="#fff" >100 μm</text>
<rect x="10.3" y="132.1" width="10.2" height="2.8" fill="#fff"/>
<text x="0.1" y="161.1" font-size="10.5" font-weight="bold">b</text>
<rect x="15.8" y="193.00" width="5.2" height="7.68" fill="#67001f"/>
<rect x="15.8" y="200.38" width="5.2" height="7.68" fill="#b2182b"/>
<rect x="15.8" y="207.76" width="5.2" height="7.68" fill="#d6604d"/>
<rect x="15.8" y="215.15" width="5.2" height="7.68" fill="#f4a582"/>
<rect x="15.8" y="222.53" width="5.2" height="7.68" fill="#fddbc7"/>
<rect x="15.8" y="229.91" width="5.2" height="7.68" fill="#f7f7f7"/>
<rect x="15.8" y="237.29" width="5.2" height="7.68" fill="#d1e5f0"/>
<rect x="15.8" y="244.67" width="5.2" height="7.68" fill="#92c5de"/>
<rect x="15.8" y="252.05" width="5.2" height="7.68" fill="#4393c3"/>
<rect x="15.8" y="259.44" width="5.2" height="7.68" fill="#2166ac"/>
<rect x="15.8" y="266.82" width="5.2" height="7.68" fill="#053061"/>
<text x="13.30" y="196.10" font-size="6.7" text-anchor="end" fill="#222" >1.0</text>
<text x="13.30" y="204.22" font-size="6.7" text-anchor="end" fill="#222" >0.8</text>
<text x="13.30" y="212.34" font-size="6.7" text-anchor="end" fill="#222" >0.6</text>
<text x="13.30" y="220.46" font-size="6.7" text-anchor="end" fill="#222" >0.4</text>
<text x="13.30" y="228.58" font-size="6.7" text-anchor="end" fill="#222" >0.2</text>
<text x="13.30" y="236.70" font-size="6.7" text-anchor="end" fill="#222" >0</text>
<text x="13.30" y="244.82" font-size="6.7" text-anchor="end" fill="#222" >−0.2</text>
<text x="13.30" y="252.94" font-size="6.7" text-anchor="end" fill="#222" >−0.4</text>
<text x="13.30" y="261.06" font-size="6.7" text-anchor="end" fill="#222" >−0.6</text>
<text x="13.30" y="269.18" font-size="6.7" text-anchor="end" fill="#222" >−0.8</text>
<text x="13.30" y="277.30" font-size="6.7" text-anchor="end" fill="#222" >−1.0</text>
<text transform="translate(24.6,235) rotate(90)" font-size="6.6" text-anchor="middle" fill="#222">Pearson correlation</text>
<path d="M36.00 189.80h8.90v7.49h-8.90zM53.31 189.80h8.90v7.49h-8.90zM70.62 189.80h8.90v7.49h-8.90zM87.93 189.80h8.90v7.49h-8.90zM96.58 189.80h8.90v7.49h-8.90zM105.24 189.80h8.90v7.49h-8.90zM36.00 197.04h8.90v7.49h-8.90zM53.31 197.04h8.90v7.49h-8.90zM79.27 197.04h8.90v7.49h-8.90zM87.93 197.04h8.90v7.49h-8.90zM96.58 197.04h8.90v7.49h-8.90zM44.65 204.27h8.90v7.49h-8.90zM122.55 204.27h8.90v7.49h-8.90zM113.89 211.51h8.90v7.49h-8.90zM122.55 211.51h8.90v7.49h-8.90zM113.89 218.75h8.90v7.49h-8.90zM122.55 218.75h8.90v7.49h-8.90zM113.89 225.98h8.90v7.49h-8.90zM122.55 233.22h8.90v7.49h-8.90zM113.89 247.69h8.90v7.49h-8.90zM122.55 247.69h8.90v7.49h-8.90zM105.24 254.93h8.90v7.49h-8.90zM113.89 262.16h8.90v7.49h-8.90zM122.55 262.16h8.90v7.49h-8.90z" fill="#d1e5f0"/>
<path d="M44.65 189.80h8.90v7.49h-8.90zM61.96 189.80h8.90v7.49h-8.90zM44.65 197.04h8.90v7.49h-8.90zM61.96 197.04h8.90v7.49h-8.90zM70.62 197.04h8.90v7.49h-8.90zM105.24 197.04h8.90v7.49h-8.90zM53.31 204.27h8.90v7.49h-8.90zM61.96 204.27h8.90v7.49h-8.90zM70.62 204.27h8.90v7.49h-8.90zM79.27 204.27h8.90v7.49h-8.90zM87.93 204.27h8.90v7.49h-8.90zM113.89 204.27h8.90v7.49h-8.90zM53.31 211.51h8.90v7.49h-8.90zM70.62 211.51h8.90v7.49h-8.90zM44.65 218.75h8.90v7.49h-8.90zM53.31 218.75h8.90v7.49h-8.90zM70.62 218.75h8.90v7.49h-8.90zM105.24 218.75h8.90v7.49h-8.90zM53.31 225.98h8.90v7.49h-8.90zM105.24 225.98h8.90v7.49h-8.90zM87.93 233.22h8.90v7.49h-8.90zM96.58 233.22h8.90v7.49h-8.90zM105.24 233.22h8.90v7.49h-8.90zM113.89 233.22h8.90v7.49h-8.90zM105.24 240.45h8.90v7.49h-8.90zM113.89 240.45h8.90v7.49h-8.90zM122.55 240.45h8.90v7.49h-8.90zM79.27 247.69h8.90v7.49h-8.90zM87.93 247.69h8.90v7.49h-8.90zM96.58 247.69h8.90v7.49h-8.90zM105.24 247.69h8.90v7.49h-8.90zM87.93 254.93h8.90v7.49h-8.90zM113.89 254.93h8.90v7.49h-8.90zM122.55 254.93h8.90v7.49h-8.90z" fill="#f7f7f7"/>
<path d="M79.27 189.80h8.90v7.49h-8.90zM122.55 225.98h8.90v7.49h-8.90z" fill="#92c5de"/>
<path d="M113.89 189.80h8.90v7.49h-8.90zM122.55 197.04h8.90v7.49h-8.90zM96.58 204.27h8.90v7.49h-8.90zM36.00 211.51h8.90v7.49h-8.90zM87.93 211.51h8.90v7.49h-8.90zM105.24 211.51h8.90v7.49h-8.90zM96.58 218.75h8.90v7.49h-8.90zM53.31 233.22h8.90v7.49h-8.90zM61.96 233.22h8.90v7.49h-8.90zM36.00 240.45h8.90v7.49h-8.90zM70.62 240.45h8.90v7.49h-8.90zM44.65 247.69h8.90v7.49h-8.90zM70.62 247.69h8.90v7.49h-8.90zM36.00 254.93h8.90v7.49h-8.90zM53.31 254.93h8.90v7.49h-8.90zM44.65 262.16h8.90v7.49h-8.90zM61.96 262.16h8.90v7.49h-8.90zM96.58 262.16h8.90v7.49h-8.90z" fill="#f4a582"/>
<path d="M122.55 189.80h8.90v7.49h-8.90zM113.89 197.04h8.90v7.49h-8.90zM105.24 204.27h8.90v7.49h-8.90zM96.58 211.51h8.90v7.49h-8.90zM87.93 218.75h8.90v7.49h-8.90zM79.27 225.98h8.90v7.49h-8.90zM70.62 233.22h8.90v7.49h-8.90zM61.96 240.45h8.90v7.49h-8.90zM53.31 247.69h8.90v7.49h-8.90zM44.65 254.93h8.90v7.49h-8.90zM36.00 262.16h8.90v7.49h-8.90z" fill="#67001f"/>
<path d="M36.00 204.27h8.90v7.49h-8.90zM44.65 211.51h8.90v7.49h-8.90zM61.96 211.51h8.90v7.49h-8.90zM79.27 211.51h8.90v7.49h-8.90zM36.00 218.75h8.90v7.49h-8.90zM61.96 218.75h8.90v7.49h-8.90zM79.27 218.75h8.90v7.49h-8.90zM36.00 225.98h8.90v7.49h-8.90zM44.65 225.98h8.90v7.49h-8.90zM61.96 225.98h8.90v7.49h-8.90zM70.62 225.98h8.90v7.49h-8.90zM87.93 225.98h8.90v7.49h-8.90zM96.58 225.98h8.90v7.49h-8.90zM36.00 233.22h8.90v7.49h-8.90zM44.65 233.22h8.90v7.49h-8.90zM79.27 233.22h8.90v7.49h-8.90zM44.65 240.45h8.90v7.49h-8.90zM79.27 240.45h8.90v7.49h-8.90zM87.93 240.45h8.90v7.49h-8.90zM96.58 240.45h8.90v7.49h-8.90zM36.00 247.69h8.90v7.49h-8.90zM61.96 254.93h8.90v7.49h-8.90zM70.62 254.93h8.90v7.49h-8.90zM79.27 254.93h8.90v7.49h-8.90zM96.58 254.93h8.90v7.49h-8.90zM53.31 262.16h8.90v7.49h-8.90zM70.62 262.16h8.90v7.49h-8.90zM79.27 262.16h8.90v7.49h-8.90zM87.93 262.16h8.90v7.49h-8.90zM105.24 262.16h8.90v7.49h-8.90z" fill="#fddbc7"/>
<path d="M53.31 240.45h8.90v7.49h-8.90zM61.96 247.69h8.90v7.49h-8.90z" fill="#d6604d"/>
<text x="134.60" y="195.82" font-size="6.8" text-anchor="start" fill="#111" >NeuN</text>
<text x="134.60" y="203.05" font-size="6.8" text-anchor="start" fill="#111" >TO-PRO</text>
<text x="134.60" y="210.29" font-size="6.8" text-anchor="start" fill="#111" >TUBB3</text>
<text x="134.60" y="217.53" font-size="6.8" text-anchor="start" fill="#111" >GS-II</text>
<text x="134.60" y="224.76" font-size="6.8" text-anchor="start" fill="#111" >ConA</text>
<text x="134.60" y="232.00" font-size="6.8" text-anchor="start" fill="#111" >MBP</text>
<text x="134.60" y="239.24" font-size="6.8" text-anchor="start" fill="#111" >WGA</text>
<text x="134.60" y="246.47" font-size="6.8" text-anchor="start" fill="#111" >LEL</text>
<text x="134.60" y="253.71" font-size="6.8" text-anchor="start" fill="#f02222" >Vimentin</text>
<text x="134.60" y="260.95" font-size="6.8" text-anchor="start" fill="#f02222" >GFAP</text>
<text x="134.60" y="268.18" font-size="6.8" text-anchor="start" fill="#111" >GABBR2</text>
<text transform="translate(42.13,273.40) rotate(-90)" font-size="6.8" text-anchor="end" fill="#111">GABBR2</text>
<text transform="translate(50.78,273.40) rotate(-90)" font-size="6.8" text-anchor="end" fill="#f02222">GFAP</text>
<text transform="translate(59.44,273.40) rotate(-90)" font-size="6.8" text-anchor="end" fill="#f02222">Vimentin</text>
<text transform="translate(68.09,273.40) rotate(-90)" font-size="6.8" text-anchor="end" fill="#111">LEL</text>
<text transform="translate(76.75,273.40) rotate(-90)" font-size="6.8" text-anchor="end" fill="#111">WGA</text>
<text transform="translate(85.40,273.40) rotate(-90)" font-size="6.8" text-anchor="end" fill="#111">MBP</text>
<text transform="translate(94.05,273.40) rotate(-90)" font-size="6.8" text-anchor="end" fill="#111">ConA</text>
<text transform="translate(102.71,273.40) rotate(-90)" font-size="6.8" text-anchor="end" fill="#111">GS-II</text>
<text transform="translate(111.36,273.40) rotate(-90)" font-size="6.8" text-anchor="end" fill="#111">TUBB3</text>
<text transform="translate(120.02,273.40) rotate(-90)" font-size="6.8" text-anchor="end" fill="#111">TO-PRO</text>
<text transform="translate(128.67,273.40) rotate(-90)" font-size="6.8" text-anchor="end" fill="#111">NeuN</text>
<text x="83.60" y="163.80" font-size="6.8" text-anchor="middle" fill="#111" >All layers</text>
<path d="M168.10 189.80h8.93v7.49h-8.93zM176.78 204.27h8.93v7.49h-8.93zM168.10 211.51h8.93v7.49h-8.93zM176.78 211.51h8.93v7.49h-8.93zM176.78 225.98h8.93v7.49h-8.93zM185.46 225.98h8.93v7.49h-8.93zM168.10 233.22h8.93v7.49h-8.93zM176.78 233.22h8.93v7.49h-8.93zM168.10 240.45h8.93v7.49h-8.93zM176.78 240.45h8.93v7.49h-8.93zM168.10 247.69h8.93v7.49h-8.93zM211.51 247.69h8.93v7.49h-8.93zM194.15 254.93h8.93v7.49h-8.93zM202.83 254.93h8.93v7.49h-8.93zM211.51 254.93h8.93v7.49h-8.93zM228.87 254.93h8.93v7.49h-8.93zM237.55 254.93h8.93v7.49h-8.93zM185.46 262.16h8.93v7.49h-8.93zM194.15 262.16h8.93v7.49h-8.93zM202.83 262.16h8.93v7.49h-8.93zM228.87 262.16h8.93v7.49h-8.93zM254.92 262.16h8.93v7.49h-8.93z" fill="#d1e5f0"/>
<path d="M176.78 189.80h8.93v7.49h-8.93zM237.55 189.80h8.93v7.49h-8.93zM168.10 197.04h8.93v7.49h-8.93zM176.78 197.04h8.93v7.49h-8.93zM228.87 197.04h8.93v7.49h-8.93zM185.46 204.27h8.93v7.49h-8.93zM254.92 204.27h8.93v7.49h-8.93zM185.46 211.51h8.93v7.49h-8.93zM246.24 211.51h8.93v7.49h-8.93zM168.10 218.75h8.93v7.49h-8.93zM176.78 218.75h8.93v7.49h-8.93zM185.46 218.75h8.93v7.49h-8.93zM168.10 225.98h8.93v7.49h-8.93zM220.19 247.69h8.93v7.49h-8.93zM228.87 247.69h8.93v7.49h-8.93zM237.55 247.69h8.93v7.49h-8.93zM220.19 254.93h8.93v7.49h-8.93zM246.24 254.93h8.93v7.49h-8.93zM254.92 254.93h8.93v7.49h-8.93zM211.51 262.16h8.93v7.49h-8.93zM220.19 262.16h8.93v7.49h-8.93zM246.24 262.16h8.93v7.49h-8.93z" fill="#f7f7f7"/>
<path d="M185.46 189.80h8.93v7.49h-8.93zM185.46 197.04h8.93v7.49h-8.93zM168.10 204.27h8.93v7.49h-8.93zM246.24 247.69h8.93v7.49h-8.93zM254.92 247.69h8.93v7.49h-8.93zM237.55 262.16h8.93v7.49h-8.93z" fill="#92c5de"/>
<path d="M194.15 189.80h8.93v7.49h-8.93zM228.87 189.80h8.93v7.49h-8.93zM194.15 197.04h8.93v7.49h-8.93zM211.51 197.04h8.93v7.49h-8.93zM220.19 197.04h8.93v7.49h-8.93zM237.55 197.04h8.93v7.49h-8.93zM194.15 204.27h8.93v7.49h-8.93zM202.83 204.27h8.93v7.49h-8.93zM211.51 204.27h8.93v7.49h-8.93zM220.19 204.27h8.93v7.49h-8.93zM228.87 204.27h8.93v7.49h-8.93zM246.24 204.27h8.93v7.49h-8.93zM220.19 211.51h8.93v7.49h-8.93zM237.55 211.51h8.93v7.49h-8.93zM254.92 211.51h8.93v7.49h-8.93zM194.15 218.75h8.93v7.49h-8.93zM228.87 218.75h8.93v7.49h-8.93zM237.55 218.75h8.93v7.49h-8.93zM246.24 218.75h8.93v7.49h-8.93zM237.55 225.98h8.93v7.49h-8.93zM246.24 225.98h8.93v7.49h-8.93zM185.46 233.22h8.93v7.49h-8.93zM237.55 233.22h8.93v7.49h-8.93zM220.19 240.45h8.93v7.49h-8.93zM237.55 240.45h8.93v7.49h-8.93zM246.24 240.45h8.93v7.49h-8.93zM254.92 240.45h8.93v7.49h-8.93zM176.78 247.69h8.93v7.49h-8.93zM202.83 247.69h8.93v7.49h-8.93zM185.46 254.93h8.93v7.49h-8.93z" fill="#fddbc7"/>
<path d="M202.83 189.80h8.93v7.49h-8.93zM211.51 189.80h8.93v7.49h-8.93zM220.19 189.80h8.93v7.49h-8.93zM202.83 197.04h8.93v7.49h-8.93zM194.15 211.51h8.93v7.49h-8.93zM202.83 211.51h8.93v7.49h-8.93zM254.92 218.75h8.93v7.49h-8.93zM194.15 225.98h8.93v7.49h-8.93zM254.92 225.98h8.93v7.49h-8.93zM228.87 233.22h8.93v7.49h-8.93zM246.24 233.22h8.93v7.49h-8.93zM254.92 233.22h8.93v7.49h-8.93zM185.46 240.45h8.93v7.49h-8.93zM211.51 240.45h8.93v7.49h-8.93zM228.87 240.45h8.93v7.49h-8.93zM194.15 247.69h8.93v7.49h-8.93zM168.10 254.93h8.93v7.49h-8.93zM176.78 262.16h8.93v7.49h-8.93z" fill="#f4a582"/>
<path d="M246.24 189.80h8.93v7.49h-8.93zM254.92 197.04h8.93v7.49h-8.93z" fill="#b2182b"/>
<path d="M254.92 189.80h8.93v7.49h-8.93zM246.24 197.04h8.93v7.49h-8.93zM237.55 204.27h8.93v7.49h-8.93zM228.87 211.51h8.93v7.49h-8.93zM220.19 218.75h8.93v7.49h-8.93zM211.51 225.98h8.93v7.49h-8.93zM202.83 233.22h8.93v7.49h-8.93zM194.15 240.45h8.93v7.49h-8.93zM185.46 247.69h8.93v7.49h-8.93zM176.78 254.93h8.93v7.49h-8.93zM168.10 262.16h8.93v7.49h-8.93z" fill="#67001f"/>
<path d="M211.51 211.51h8.93v7.49h-8.93zM202.83 218.75h8.93v7.49h-8.93zM211.51 218.75h8.93v7.49h-8.93zM202.83 225.98h8.93v7.49h-8.93zM220.19 225.98h8.93v7.49h-8.93zM228.87 225.98h8.93v7.49h-8.93zM194.15 233.22h8.93v7.49h-8.93zM211.51 233.22h8.93v7.49h-8.93zM220.19 233.22h8.93v7.49h-8.93zM202.83 240.45h8.93v7.49h-8.93z" fill="#d6604d"/>
<text x="267.00" y="195.82" font-size="6.8" text-anchor="start" fill="#f02222" >Vimentin</text>
<text x="267.00" y="203.05" font-size="6.8" text-anchor="start" fill="#f02222" >GFAP</text>
<text x="267.00" y="210.29" font-size="6.8" text-anchor="start" fill="#111" >MBP</text>
<text x="267.00" y="217.53" font-size="6.8" text-anchor="start" fill="#111" >ConA</text>
<text x="267.00" y="224.76" font-size="6.8" text-anchor="start" fill="#111" >WGA</text>
<text x="267.00" y="232.00" font-size="6.8" text-anchor="start" fill="#111" >LEL</text>
<text x="267.00" y="239.24" font-size="6.8" text-anchor="start" fill="#111" >GABBR2</text>
<text x="267.00" y="246.47" font-size="6.8" text-anchor="start" fill="#111" >GS-II</text>
<text x="267.00" y="253.71" font-size="6.8" text-anchor="start" fill="#111" >TUBB3</text>
<text x="267.00" y="260.95" font-size="6.8" text-anchor="start" fill="#111" >TO-PRO</text>
<text x="267.00" y="268.18" font-size="6.8" text-anchor="start" fill="#111" >NeuN</text>
<text transform="translate(174.24,273.40) rotate(-90)" font-size="6.8" text-anchor="end" fill="#111">NeuN</text>
<text transform="translate(182.92,273.40) rotate(-90)" font-size="6.8" text-anchor="end" fill="#111">TO-PRO</text>
<text transform="translate(191.60,273.40) rotate(-90)" font-size="6.8" text-anchor="end" fill="#111">TUBB3</text>
<text transform="translate(200.29,273.40) rotate(-90)" font-size="6.8" text-anchor="end" fill="#111">GS-II</text>
<text transform="translate(208.97,273.40) rotate(-90)" font-size="6.8" text-anchor="end" fill="#111">GABBR2</text>
<text transform="translate(217.65,273.40) rotate(-90)" font-size="6.8" text-anchor="end" fill="#111">LEL</text>
<text transform="translate(226.33,273.40) rotate(-90)" font-size="6.8" text-anchor="end" fill="#111">WGA</text>
<text transform="translate(235.01,273.40) rotate(-90)" font-size="6.8" text-anchor="end" fill="#111">ConA</text>
<text transform="translate(243.70,273.40) rotate(-90)" font-size="6.8" text-anchor="end" fill="#111">MBP</text>
<text transform="translate(252.38,273.40) rotate(-90)" font-size="6.8" text-anchor="end" fill="#f02222">GFAP</text>
<text transform="translate(261.06,273.40) rotate(-90)" font-size="6.8" text-anchor="end" fill="#f02222">Vimentin</text>
<text x="215.85" y="163.80" font-size="6.8" text-anchor="middle" fill="#111" >White matter</text>
<path d="M299.10 189.80h8.87v7.49h-8.87zM307.72 189.80h8.87v7.49h-8.87zM324.95 189.80h8.87v7.49h-8.87zM333.57 189.80h8.87v7.49h-8.87zM307.72 197.04h8.87v7.49h-8.87zM324.95 197.04h8.87v7.49h-8.87zM333.57 197.04h8.87v7.49h-8.87zM307.72 204.27h8.87v7.49h-8.87zM316.34 204.27h8.87v7.49h-8.87zM324.95 204.27h8.87v7.49h-8.87zM333.57 204.27h8.87v7.49h-8.87zM359.43 204.27h8.87v7.49h-8.87zM307.72 211.51h8.87v7.49h-8.87zM333.57 211.51h8.87v7.49h-8.87zM368.05 211.51h8.87v7.49h-8.87zM299.10 218.75h8.87v7.49h-8.87zM307.72 218.75h8.87v7.49h-8.87zM316.34 218.75h8.87v7.49h-8.87zM359.43 233.22h8.87v7.49h-8.87zM368.05 233.22h8.87v7.49h-8.87zM376.66 233.22h8.87v7.49h-8.87zM385.28 233.22h8.87v7.49h-8.87zM368.05 240.45h8.87v7.49h-8.87zM376.66 240.45h8.87v7.49h-8.87zM385.28 240.45h8.87v7.49h-8.87zM350.81 247.69h8.87v7.49h-8.87zM368.05 247.69h8.87v7.49h-8.87zM350.81 254.93h8.87v7.49h-8.87zM359.43 254.93h8.87v7.49h-8.87zM368.05 254.93h8.87v7.49h-8.87zM376.66 254.93h8.87v7.49h-8.87zM385.28 254.93h8.87v7.49h-8.87zM350.81 262.16h8.87v7.49h-8.87zM385.28 262.16h8.87v7.49h-8.87z" fill="#f7f7f7"/>
<path d="M316.34 189.80h8.87v7.49h-8.87zM385.28 247.69h8.87v7.49h-8.87z" fill="#92c5de"/>
<path d="M342.19 189.80h8.87v7.49h-8.87zM368.05 189.80h8.87v7.49h-8.87zM350.81 197.04h8.87v7.49h-8.87zM368.05 197.04h8.87v7.49h-8.87zM376.66 204.27h8.87v7.49h-8.87zM385.28 204.27h8.87v7.49h-8.87zM324.95 218.75h8.87v7.49h-8.87zM376.66 218.75h8.87v7.49h-8.87zM324.95 225.98h8.87v7.49h-8.87zM385.28 225.98h8.87v7.49h-8.87zM324.95 233.22h8.87v7.49h-8.87zM316.34 240.45h8.87v7.49h-8.87zM333.57 240.45h8.87v7.49h-8.87zM342.19 240.45h8.87v7.49h-8.87zM350.81 240.45h8.87v7.49h-8.87zM324.95 247.69h8.87v7.49h-8.87zM299.10 254.93h8.87v7.49h-8.87zM307.72 262.16h8.87v7.49h-8.87z" fill="#f4a582"/>
<path d="M350.81 189.80h8.87v7.49h-8.87zM359.43 189.80h8.87v7.49h-8.87zM342.19 197.04h8.87v7.49h-8.87zM342.19 204.27h8.87v7.49h-8.87zM350.81 204.27h8.87v7.49h-8.87zM324.95 211.51h8.87v7.49h-8.87zM342.19 211.51h8.87v7.49h-8.87zM350.81 211.51h8.87v7.49h-8.87zM385.28 211.51h8.87v7.49h-8.87zM333.57 218.75h8.87v7.49h-8.87zM359.43 218.75h8.87v7.49h-8.87zM368.05 218.75h8.87v7.49h-8.87zM385.28 218.75h8.87v7.49h-8.87zM316.34 225.98h8.87v7.49h-8.87zM333.57 225.98h8.87v7.49h-8.87zM359.43 225.98h8.87v7.49h-8.87zM368.05 225.98h8.87v7.49h-8.87zM376.66 225.98h8.87v7.49h-8.87zM316.34 233.22h8.87v7.49h-8.87zM342.19 233.22h8.87v7.49h-8.87zM350.81 233.22h8.87v7.49h-8.87zM359.43 240.45h8.87v7.49h-8.87zM307.72 247.69h8.87v7.49h-8.87zM333.57 247.69h8.87v7.49h-8.87zM342.19 247.69h8.87v7.49h-8.87zM316.34 254.93h8.87v7.49h-8.87z" fill="#fddbc7"/>
<path d="M376.66 189.80h8.87v7.49h-8.87zM385.28 197.04h8.87v7.49h-8.87zM342.19 218.75h8.87v7.49h-8.87zM350.81 225.98h8.87v7.49h-8.87z" fill="#d6604d"/>
<path d="M385.28 189.80h8.87v7.49h-8.87zM376.66 197.04h8.87v7.49h-8.87zM368.05 204.27h8.87v7.49h-8.87zM359.43 211.51h8.87v7.49h-8.87zM350.81 218.75h8.87v7.49h-8.87zM342.19 225.98h8.87v7.49h-8.87zM333.57 233.22h8.87v7.49h-8.87zM324.95 240.45h8.87v7.49h-8.87zM316.34 247.69h8.87v7.49h-8.87zM307.72 254.93h8.87v7.49h-8.87zM299.10 262.16h8.87v7.49h-8.87z" fill="#67001f"/>
<path d="M299.10 197.04h8.87v7.49h-8.87zM316.34 197.04h8.87v7.49h-8.87zM359.43 197.04h8.87v7.49h-8.87zM299.10 204.27h8.87v7.49h-8.87zM299.10 211.51h8.87v7.49h-8.87zM316.34 211.51h8.87v7.49h-8.87zM376.66 211.51h8.87v7.49h-8.87zM299.10 225.98h8.87v7.49h-8.87zM307.72 225.98h8.87v7.49h-8.87zM299.10 233.22h8.87v7.49h-8.87zM307.72 233.22h8.87v7.49h-8.87zM299.10 240.45h8.87v7.49h-8.87zM307.72 240.45h8.87v7.49h-8.87zM299.10 247.69h8.87v7.49h-8.87zM359.43 247.69h8.87v7.49h-8.87zM376.66 247.69h8.87v7.49h-8.87zM324.95 254.93h8.87v7.49h-8.87zM333.57 254.93h8.87v7.49h-8.87zM342.19 254.93h8.87v7.49h-8.87zM316.34 262.16h8.87v7.49h-8.87zM324.95 262.16h8.87v7.49h-8.87zM333.57 262.16h8.87v7.49h-8.87zM342.19 262.16h8.87v7.49h-8.87zM359.43 262.16h8.87v7.49h-8.87zM368.05 262.16h8.87v7.49h-8.87zM376.66 262.16h8.87v7.49h-8.87z" fill="#d1e5f0"/>
<text x="397.30" y="195.82" font-size="6.8" text-anchor="start" fill="#f02222" >GFAP</text>
<text x="397.30" y="203.05" font-size="6.8" text-anchor="start" fill="#f02222" >Vimentin</text>
<text x="397.30" y="210.29" font-size="6.8" text-anchor="start" fill="#111" >WGA</text>
<text x="397.30" y="217.53" font-size="6.8" text-anchor="start" fill="#111" >MBP</text>
<text x="397.30" y="224.76" font-size="6.8" text-anchor="start" fill="#111" >LEL</text>
<text x="397.30" y="232.00" font-size="6.8" text-anchor="start" fill="#111" >GABBR2</text>
<text x="397.30" y="239.24" font-size="6.8" text-anchor="start" fill="#111" >ConA</text>
<text x="397.30" y="246.47" font-size="6.8" text-anchor="start" fill="#111" >GS-II</text>
<text x="397.30" y="253.71" font-size="6.8" text-anchor="start" fill="#111" >TUBB3</text>
<text x="397.30" y="260.95" font-size="6.8" text-anchor="start" fill="#111" >TO-PRO</text>
<text x="397.30" y="268.18" font-size="6.8" text-anchor="start" fill="#111" >NeuN</text>
<text transform="translate(305.21,273.40) rotate(-90)" font-size="6.8" text-anchor="end" fill="#111">NeuN</text>
<text transform="translate(313.83,273.40) rotate(-90)" font-size="6.8" text-anchor="end" fill="#111">TO-PRO</text>
<text transform="translate(322.45,273.40) rotate(-90)" font-size="6.8" text-anchor="end" fill="#111">TUBB3</text>
<text transform="translate(331.06,273.40) rotate(-90)" font-size="6.8" text-anchor="end" fill="#111">GS-II</text>
<text transform="translate(339.68,273.40) rotate(-90)" font-size="6.8" text-anchor="end" fill="#111">ConA</text>
<text transform="translate(348.30,273.40) rotate(-90)" font-size="6.8" text-anchor="end" fill="#111">GABBR2</text>
<text transform="translate(356.92,273.40) rotate(-90)" font-size="6.8" text-anchor="end" fill="#111">LEL</text>
<text transform="translate(365.54,273.40) rotate(-90)" font-size="6.8" text-anchor="end" fill="#111">MBP</text>
<text transform="translate(374.15,273.40) rotate(-90)" font-size="6.8" text-anchor="end" fill="#111">WGA</text>
<text transform="translate(382.77,273.40) rotate(-90)" font-size="6.8" text-anchor="end" fill="#f02222">Vimentin</text>
<text transform="translate(391.39,273.40) rotate(-90)" font-size="6.8" text-anchor="end" fill="#f02222">GFAP</text>
<text x="346.50" y="163.80" font-size="6.8" text-anchor="middle" fill="#111" >Granular layer</text>
<path d="M428.80 189.50h9.81v8.18h-9.81zM438.36 205.36h9.81v8.18h-9.81zM495.72 252.94h9.81v8.18h-9.81zM514.84 260.87h9.81v8.18h-9.81z" fill="#92c5de"/>
<path d="M438.36 189.50h9.81v8.18h-9.81zM447.92 189.50h9.81v8.18h-9.81zM428.80 197.43h9.81v8.18h-9.81zM438.36 197.43h9.81v8.18h-9.81zM457.48 197.43h9.81v8.18h-9.81zM447.92 205.36h9.81v8.18h-9.81zM438.36 229.15h9.81v8.18h-9.81zM505.28 237.08h9.81v8.18h-9.81zM495.72 245.01h9.81v8.18h-9.81zM514.84 245.01h9.81v8.18h-9.81zM467.04 252.94h9.81v8.18h-9.81zM505.28 252.94h9.81v8.18h-9.81zM514.84 252.94h9.81v8.18h-9.81zM505.28 260.87h9.81v8.18h-9.81z" fill="#d1e5f0"/>
<path d="M457.48 189.50h9.81v8.18h-9.81zM467.04 189.50h9.81v8.18h-9.81zM476.60 189.50h9.81v8.18h-9.81zM486.16 189.50h9.81v8.18h-9.81zM495.72 189.50h9.81v8.18h-9.81zM447.92 197.43h9.81v8.18h-9.81zM467.04 197.43h9.81v8.18h-9.81zM476.60 197.43h9.81v8.18h-9.81zM486.16 197.43h9.81v8.18h-9.81zM467.04 205.36h9.81v8.18h-9.81zM514.84 205.36h9.81v8.18h-9.81zM428.80 213.29h9.81v8.18h-9.81zM438.36 213.29h9.81v8.18h-9.81zM447.92 213.29h9.81v8.18h-9.81zM505.28 213.29h9.81v8.18h-9.81zM514.84 213.29h9.81v8.18h-9.81zM428.80 221.22h9.81v8.18h-9.81zM438.36 221.22h9.81v8.18h-9.81zM505.28 221.22h9.81v8.18h-9.81zM514.84 221.22h9.81v8.18h-9.81zM428.80 229.15h9.81v8.18h-9.81zM447.92 229.15h9.81v8.18h-9.81zM495.72 229.15h9.81v8.18h-9.81zM505.28 229.15h9.81v8.18h-9.81zM514.84 229.15h9.81v8.18h-9.81zM514.84 237.08h9.81v8.18h-9.81zM467.04 245.01h9.81v8.18h-9.81zM486.16 245.01h9.81v8.18h-9.81zM505.28 245.01h9.81v8.18h-9.81zM476.60 252.94h9.81v8.18h-9.81zM486.16 252.94h9.81v8.18h-9.81zM467.04 260.87h9.81v8.18h-9.81zM476.60 260.87h9.81v8.18h-9.81zM486.16 260.87h9.81v8.18h-9.81z" fill="#f7f7f7"/>
<path d="M505.28 189.50h9.81v8.18h-9.81zM514.84 197.43h9.81v8.18h-9.81zM457.48 205.36h9.81v8.18h-9.81zM476.60 205.36h9.81v8.18h-9.81zM486.16 205.36h9.81v8.18h-9.81zM457.48 213.29h9.81v8.18h-9.81zM495.72 213.29h9.81v8.18h-9.81zM447.92 221.22h9.81v8.18h-9.81zM457.48 221.22h9.81v8.18h-9.81zM495.72 221.22h9.81v8.18h-9.81zM457.48 229.15h9.81v8.18h-9.81zM428.80 237.08h9.81v8.18h-9.81zM438.36 237.08h9.81v8.18h-9.81zM447.92 237.08h9.81v8.18h-9.81zM467.04 237.08h9.81v8.18h-9.81zM476.60 237.08h9.81v8.18h-9.81zM486.16 237.08h9.81v8.18h-9.81zM495.72 237.08h9.81v8.18h-9.81zM428.80 245.01h9.81v8.18h-9.81zM457.48 245.01h9.81v8.18h-9.81zM476.60 245.01h9.81v8.18h-9.81zM457.48 252.94h9.81v8.18h-9.81zM447.92 260.87h9.81v8.18h-9.81zM457.48 260.87h9.81v8.18h-9.81z" fill="#fddbc7"/>
<path d="M514.84 189.50h9.81v8.18h-9.81zM505.28 197.43h9.81v8.18h-9.81zM495.72 205.36h9.81v8.18h-9.81zM486.16 213.29h9.81v8.18h-9.81zM476.60 221.22h9.81v8.18h-9.81zM467.04 229.15h9.81v8.18h-9.81zM457.48 237.08h9.81v8.18h-9.81zM447.92 245.01h9.81v8.18h-9.81zM438.36 252.94h9.81v8.18h-9.81zM428.80 260.87h9.81v8.18h-9.81z" fill="#67001f"/>
<path d="M495.72 197.43h9.81v8.18h-9.81zM505.28 205.36h9.81v8.18h-9.81zM467.04 213.29h9.81v8.18h-9.81zM486.16 229.15h9.81v8.18h-9.81z" fill="#f4a582"/>
<path d="M428.80 205.36h9.81v8.18h-9.81zM495.72 260.87h9.81v8.18h-9.81z" fill="#4393c3"/>
<path d="M476.60 213.29h9.81v8.18h-9.81zM467.04 221.22h9.81v8.18h-9.81zM486.16 221.22h9.81v8.18h-9.81zM476.60 229.15h9.81v8.18h-9.81zM438.36 245.01h9.81v8.18h-9.81zM428.80 252.94h9.81v8.18h-9.81zM447.92 252.94h9.81v8.18h-9.81zM438.36 260.87h9.81v8.18h-9.81z" fill="#d6604d"/>
<text x="527.80" y="195.87" font-size="6.8" text-anchor="start" fill="#111" >NeuN</text>
<text x="527.80" y="203.80" font-size="6.8" text-anchor="start" fill="#111" >TO-PRO</text>
<text x="527.80" y="211.72" font-size="6.8" text-anchor="start" fill="#f02222" >GFAP</text>
<text x="527.80" y="219.66" font-size="6.8" text-anchor="start" fill="#111" >LEL</text>
<text x="527.80" y="227.59" font-size="6.8" text-anchor="start" fill="#f02222" >Vimentin</text>
<text x="527.80" y="235.52" font-size="6.8" text-anchor="start" fill="#111" >WGA</text>
<text x="527.80" y="243.45" font-size="6.8" text-anchor="start" fill="#111" >GABBR2</text>
<text x="527.80" y="251.38" font-size="6.8" text-anchor="start" fill="#111" >TUBB3</text>
<text x="527.80" y="259.31" font-size="6.8" text-anchor="start" fill="#111" >GS-II</text>
<text x="527.80" y="267.24" font-size="6.8" text-anchor="start" fill="#111" >ConA</text>
<text transform="translate(435.38,272.80) rotate(-90)" font-size="6.8" text-anchor="end" fill="#111">ConA</text>
<text transform="translate(444.94,272.80) rotate(-90)" font-size="6.8" text-anchor="end" fill="#111">GS-II</text>
<text transform="translate(454.50,272.80) rotate(-90)" font-size="6.8" text-anchor="end" fill="#111">TUBB3</text>
<text transform="translate(464.06,272.80) rotate(-90)" font-size="6.8" text-anchor="end" fill="#111">GABBR2</text>
<text transform="translate(473.62,272.80) rotate(-90)" font-size="6.8" text-anchor="end" fill="#111">WGA</text>
<text transform="translate(483.18,272.80) rotate(-90)" font-size="6.8" text-anchor="end" fill="#f02222">Vimentin</text>
<text transform="translate(492.74,272.80) rotate(-90)" font-size="6.8" text-anchor="end" fill="#111">LEL</text>
<text transform="translate(502.30,272.80) rotate(-90)" font-size="6.8" text-anchor="end" fill="#f02222">GFAP</text>
<text transform="translate(511.86,272.80) rotate(-90)" font-size="6.8" text-anchor="end" fill="#111">TO-PRO</text>
<text transform="translate(521.42,272.80) rotate(-90)" font-size="6.8" text-anchor="end" fill="#111">NeuN</text>
<text x="476.60" y="163.80" font-size="6.8" text-anchor="middle" fill="#111" >Purkinje layer</text>
<path d="M560.90 189.80h9.75v8.23h-9.75zM570.40 189.80h9.75v8.23h-9.75zM608.40 189.80h9.75v8.23h-9.75zM560.90 197.78h9.75v8.23h-9.75zM608.40 197.78h9.75v8.23h-9.75zM560.90 205.76h9.75v8.23h-9.75zM570.40 205.76h9.75v8.23h-9.75zM570.40 221.72h9.75v8.23h-9.75zM636.90 221.72h9.75v8.23h-9.75zM646.40 221.72h9.75v8.23h-9.75zM560.90 229.70h9.75v8.23h-9.75zM570.40 229.70h9.75v8.23h-9.75zM579.90 229.70h9.75v8.23h-9.75zM598.90 245.66h9.75v8.23h-9.75zM598.90 253.64h9.75v8.23h-9.75zM608.40 253.64h9.75v8.23h-9.75zM627.40 253.64h9.75v8.23h-9.75zM646.40 253.64h9.75v8.23h-9.75zM598.90 261.62h9.75v8.23h-9.75zM627.40 261.62h9.75v8.23h-9.75zM636.90 261.62h9.75v8.23h-9.75zM646.40 261.62h9.75v8.23h-9.75z" fill="#d1e5f0"/>
<path d="M579.90 189.80h9.75v8.23h-9.75zM598.90 189.80h9.75v8.23h-9.75zM617.90 189.80h9.75v8.23h-9.75zM627.40 189.80h9.75v8.23h-9.75zM570.40 197.78h9.75v8.23h-9.75zM579.90 197.78h9.75v8.23h-9.75zM598.90 197.78h9.75v8.23h-9.75zM617.90 197.78h9.75v8.23h-9.75zM579.90 205.76h9.75v8.23h-9.75zM589.40 205.76h9.75v8.23h-9.75zM598.90 205.76h9.75v8.23h-9.75zM646.40 205.76h9.75v8.23h-9.75zM560.90 213.74h9.75v8.23h-9.75zM570.40 213.74h9.75v8.23h-9.75zM579.90 213.74h9.75v8.23h-9.75zM636.90 213.74h9.75v8.23h-9.75zM646.40 213.74h9.75v8.23h-9.75zM560.90 221.72h9.75v8.23h-9.75zM579.90 221.72h9.75v8.23h-9.75zM589.40 221.72h9.75v8.23h-9.75zM627.40 229.70h9.75v8.23h-9.75zM636.90 229.70h9.75v8.23h-9.75zM646.40 229.70h9.75v8.23h-9.75zM570.40 237.68h9.75v8.23h-9.75zM608.40 237.68h9.75v8.23h-9.75zM627.40 237.68h9.75v8.23h-9.75zM608.40 245.66h9.75v8.23h-9.75zM617.90 245.66h9.75v8.23h-9.75zM627.40 245.66h9.75v8.23h-9.75zM636.90 245.66h9.75v8.23h-9.75zM646.40 245.66h9.75v8.23h-9.75zM589.40 253.64h9.75v8.23h-9.75zM617.90 253.64h9.75v8.23h-9.75zM636.90 253.64h9.75v8.23h-9.75zM608.40 261.62h9.75v8.23h-9.75zM617.90 261.62h9.75v8.23h-9.75z" fill="#f7f7f7"/>
<path d="M589.40 189.80h9.75v8.23h-9.75zM636.90 189.80h9.75v8.23h-9.75zM627.40 197.78h9.75v8.23h-9.75zM646.40 197.78h9.75v8.23h-9.75zM608.40 205.76h9.75v8.23h-9.75zM617.90 205.76h9.75v8.23h-9.75zM636.90 205.76h9.75v8.23h-9.75zM589.40 213.74h9.75v8.23h-9.75zM627.40 213.74h9.75v8.23h-9.75zM627.40 221.72h9.75v8.23h-9.75zM589.40 229.70h9.75v8.23h-9.75zM560.90 237.68h9.75v8.23h-9.75zM579.90 237.68h9.75v8.23h-9.75zM598.90 237.68h9.75v8.23h-9.75zM617.90 237.68h9.75v8.23h-9.75zM646.40 237.68h9.75v8.23h-9.75zM560.90 245.66h9.75v8.23h-9.75zM589.40 245.66h9.75v8.23h-9.75zM579.90 261.62h9.75v8.23h-9.75zM589.40 261.62h9.75v8.23h-9.75z" fill="#fddbc7"/>
<path d="M646.40 189.80h9.75v8.23h-9.75zM636.90 197.78h9.75v8.23h-9.75zM627.40 205.76h9.75v8.23h-9.75zM617.90 213.74h9.75v8.23h-9.75zM608.40 221.72h9.75v8.23h-9.75zM598.90 229.70h9.75v8.23h-9.75zM589.40 237.68h9.75v8.23h-9.75zM579.90 245.66h9.75v8.23h-9.75zM570.40 253.64h9.75v8.23h-9.75zM560.90 261.62h9.75v8.23h-9.75z" fill="#67001f"/>
<path d="M589.40 197.78h9.75v8.23h-9.75zM636.90 237.68h9.75v8.23h-9.75z" fill="#92c5de"/>
<path d="M598.90 213.74h9.75v8.23h-9.75zM598.90 221.72h9.75v8.23h-9.75zM608.40 229.70h9.75v8.23h-9.75zM617.90 229.70h9.75v8.23h-9.75zM570.40 245.66h9.75v8.23h-9.75zM560.90 253.64h9.75v8.23h-9.75zM579.90 253.64h9.75v8.23h-9.75zM570.40 261.62h9.75v8.23h-9.75z" fill="#f4a582"/>
<path d="M608.40 213.74h9.75v8.23h-9.75zM617.90 221.72h9.75v8.23h-9.75z" fill="#d6604d"/>
<text x="659.30" y="196.19" font-size="6.8" text-anchor="start" fill="#111" >NeuN</text>
<text x="659.30" y="204.17" font-size="6.8" text-anchor="start" fill="#111" >TO-PRO</text>
<text x="659.30" y="212.15" font-size="6.8" text-anchor="start" fill="#f02222" >GFAP</text>
<text x="659.30" y="220.13" font-size="6.8" text-anchor="start" fill="#111" >LEL</text>
<text x="659.30" y="228.11" font-size="6.8" text-anchor="start" fill="#f02222" >Vimentin</text>
<text x="659.30" y="236.09" font-size="6.8" text-anchor="start" fill="#111" >WGA</text>
<text x="659.30" y="244.07" font-size="6.8" text-anchor="start" fill="#111" >GABBR2</text>
<text x="659.30" y="252.05" font-size="6.8" text-anchor="start" fill="#111" >TUBB3</text>
<text x="659.30" y="260.03" font-size="6.8" text-anchor="start" fill="#111" >GS-II</text>
<text x="659.30" y="268.01" font-size="6.8" text-anchor="start" fill="#111" >ConA</text>
<text transform="translate(567.45,273.60) rotate(-90)" font-size="6.8" text-anchor="end" fill="#111">ConA</text>
<text transform="translate(576.95,273.60) rotate(-90)" font-size="6.8" text-anchor="end" fill="#111">GS-II</text>
<text transform="translate(586.45,273.60) rotate(-90)" font-size="6.8" text-anchor="end" fill="#111">TUBB3</text>
<text transform="translate(595.95,273.60) rotate(-90)" font-size="6.8" text-anchor="end" fill="#111">GABBR2</text>
<text transform="translate(605.45,273.60) rotate(-90)" font-size="6.8" text-anchor="end" fill="#111">WGA</text>
<text transform="translate(614.95,273.60) rotate(-90)" font-size="6.8" text-anchor="end" fill="#f02222">Vimentin</text>
<text transform="translate(624.45,273.60) rotate(-90)" font-size="6.8" text-anchor="end" fill="#111">LEL</text>
<text transform="translate(633.95,273.60) rotate(-90)" font-size="6.8" text-anchor="end" fill="#f02222">GFAP</text>
<text transform="translate(643.45,273.60) rotate(-90)" font-size="6.8" text-anchor="end" fill="#111">TO-PRO</text>
<text transform="translate(652.95,273.60) rotate(-90)" font-size="6.8" text-anchor="end" fill="#111">NeuN</text>
<text x="608.40" y="163.80" font-size="6.8" text-anchor="middle" fill="#111" >Molecular layer</text>
<path d="M40.3 189.8V178.2H49.0V189.8M57.6 189.8V181.1H66.3V189.8M62.0 181.1V179.2H74.9V189.8M44.7 178.2V177.9H68.5V179.2M92.3 189.8V179.0H100.9V189.8M83.6 189.8V177.1H96.6V179.0M90.1 177.1V174.7H109.6V189.8M56.6 177.9V173.4H99.8V174.7M118.2 189.8V177.9H126.9V189.8M78.2 173.4V169.1H122.5V177.9" stroke="#444" stroke-width="0.5" fill="none"/>
<path d="M172.4 189.8V179.3H181.1V189.8M176.8 179.3V173.2H189.8V189.8M207.2 189.8V182.2H215.9V189.8M211.5 182.2V180.6H224.5V189.8M198.5 189.8V179.3H218.0V180.6M208.3 179.3V179.0H233.2V189.8M220.7 179.0V176.0H241.9V189.8M250.6 189.8V185.4H259.3V189.8M231.3 176.0V175.3H254.9V185.4M183.3 173.2V170.0H243.1V175.3" stroke="#444" stroke-width="0.5" fill="none"/>
<path d="M303.4 189.8V177.7H312.0V189.8M346.5 189.8V183.6H355.1V189.8M337.9 189.8V180.6H350.8V183.6M329.3 189.8V176.0H344.3V180.6M320.6 189.8V174.5H336.8V176.0M328.7 174.5V172.8H363.7V189.8M381.0 189.8V180.9H389.6V189.8M372.4 189.8V178.5H385.3V180.9M346.2 172.8V172.6H378.8V178.5M307.7 177.7V170.0H362.5V172.6" stroke="#444" stroke-width="0.5" fill="none"/>
<path d="M433.6 189.5V180.6H443.1V189.5M438.4 180.6V178.5H452.7V189.5M481.4 189.5V182.5H490.9V189.5M471.8 189.5V180.6H486.2V182.5M462.3 189.5V174.8H479.0V180.6M500.5 189.5V176.0H510.1V189.5M505.3 176.0V174.5H519.6V189.5M470.6 174.8V172.4H512.5V174.5M445.5 178.5V168.8H491.5V172.4" stroke="#444" stroke-width="0.5" fill="none"/>
<path d="M565.6 189.8V179.6H575.1V189.8M570.4 179.6V176.0H584.6V189.8M577.5 176.0V173.7H594.1V189.8M613.1 189.8V181.7H622.6V189.8M603.6 189.8V178.5H617.9V181.7M632.1 189.8V176.0H641.6V189.8M636.9 176.0V174.1H651.1V189.8M610.8 178.5V171.6H644.0V174.1M585.8 173.7V170.0H627.4V171.6" stroke="#444" stroke-width="0.5" fill="none"/>
<text x="-0.9" y="324" font-size="10.5" font-weight="bold">c</text>
<text x="65.50" y="329.20" font-size="6.6" text-anchor="middle" fill="#111" >Astrocyte differentiation</text>
<line x1="20.4" y1="333.3" x2="109" y2="333.3" stroke="#111" stroke-width="0.85"/>
<polygon points="112.6,333.3 107.6,330.9 107.6,335.7" fill="#111"/>
<line x1="20.4" y1="334" x2="20.4" y2="372" stroke="#222" stroke-width="0.6" stroke-dasharray="0.8,0.8"/>
<line x1="66" y1="334" x2="66" y2="372" stroke="#222" stroke-width="0.6" stroke-dasharray="0.8,0.8"/>
<line x1="111.3" y1="334" x2="111.3" y2="372" stroke="#222" stroke-width="0.6" stroke-dasharray="0.8,0.8"/>
<polygon points="20.4,342 111,353.8 20.4,353.8" fill="#c9a6d8" opacity="0.95"/>
<polygon points="20.4,369.3 111,357.2 111,369.3" fill="#f9cf94"/>
<text x="23.60" y="351.40" font-size="7" text-anchor="start" fill="#222" >Vim</text>
<text x="107.80" y="367.40" font-size="7" text-anchor="end" fill="#222" >GFAP</text>
<text transform="translate(30.6,376.4) rotate(-45)" font-size="6.9" text-anchor="end" fill="#222">Vim<tspan font-size="4.97" dy="-2.35">+</tspan><tspan dy="2.35">GFAP</tspan><tspan font-size="4.97" dy="-2.35">−</tspan></text>
<text transform="translate(71.6,376.4) rotate(-45)" font-size="6.9" text-anchor="end" fill="#222">Vim<tspan font-size="4.97" dy="-2.35">+</tspan><tspan dy="2.35">/GFAP</tspan><tspan font-size="4.97" dy="-2.35">+</tspan></text>
<text transform="translate(114.6,376.4) rotate(-45)" font-size="6.9" text-anchor="end" fill="#222">Vim<tspan font-size="4.97" dy="-2.35">−</tspan><tspan dy="2.35">/GFAP</tspan><tspan font-size="4.97" dy="-2.35">+</tspan></text>
<path d="M25.4,424.4 L29.4,418.4 L33.9,411.4" stroke="#c88ad4" stroke-width="1.25" fill="none" stroke-linecap="round" stroke-linejoin="round"/>
<path d="M29.4,418.4 L29.9,414.9" stroke="#c88ad4" stroke-width="1.25" fill="none" stroke-linecap="round" stroke-linejoin="round"/>
<path d="M31.9,414.4 L34.4,414.4" stroke="#c88ad4" stroke-width="1.25" fill="none" stroke-linecap="round" stroke-linejoin="round"/>
<path d="M21.4,423.4 Q19.4,417.4 12.899999999999999,416.4" stroke="#c88ad4" stroke-width="1.25" fill="none" stroke-linecap="round" stroke-linejoin="round"/>
<path d="M20.4,430.4 L14.399999999999999,435.4 L6.399999999999999,437.4" stroke="#c88ad4" stroke-width="1.25" fill="none" stroke-linecap="round" stroke-linejoin="round"/>
<path d="M11.399999999999999,436.4 L12.399999999999999,439.4" stroke="#c88ad4" stroke-width="1.25" fill="none" stroke-linecap="round" stroke-linejoin="round"/>
<circle cx="23.4" cy="427.4" r="5.6" fill="#dcb0e4" stroke="#c88ad4" stroke-width="0.7"/>
<circle cx="23.4" cy="427.4" r="2.3" fill="#a02a9a"/>
<path d="M56.2,424.4 L45.7,415.9" stroke="#3f8f55" stroke-width="1.35" stroke-linecap="round"/>
<path d="M59.2,423.4 L58.2,415.4" stroke="#3f8f55" stroke-width="1.35" stroke-linecap="round"/>
<path d="M63.2,424.4 L68.7,414.4" stroke="#3f8f55" stroke-width="1.35" stroke-linecap="round"/>
<path d="M64.2,428.4 L73.2,430.9" stroke="#3f8f55" stroke-width="1.35" stroke-linecap="round"/>
<path d="M63.2,430.4 L69.7,441.9" stroke="#3f8f55" stroke-width="1.35" stroke-linecap="round"/>
<path d="M59.2,431.4 L58.7,441.9" stroke="#3f8f55" stroke-width="1.35" stroke-linecap="round"/>
<path d="M57.2,430.4 L46.7,436.4" stroke="#3f8f55" stroke-width="1.35" stroke-linecap="round"/>
<path d="M50.2,418.4 L48.2,421.4" stroke="#3f8f55" stroke-width="0.95" stroke-linecap="round"/>
<path d="M66.2,417.4 L70.2,417.4" stroke="#3f8f55" stroke-width="0.95" stroke-linecap="round"/>
<path d="M70.2,430.4 L71.2,433.4" stroke="#3f8f55" stroke-width="0.95" stroke-linecap="round"/>
<path d="M66.2,437.4 L69.2,436.4" stroke="#3f8f55" stroke-width="0.95" stroke-linecap="round"/>
<path d="M59.2,438.4 L56.2,440.4" stroke="#3f8f55" stroke-width="0.95" stroke-linecap="round"/>
<path d="M50.2,434.4 L49.2,431.4" stroke="#3f8f55" stroke-width="0.95" stroke-linecap="round"/>
<path d="M58.7,417.4 L60.7,415.4" stroke="#3f8f55" stroke-width="0.95" stroke-linecap="round"/>
<circle cx="60.2" cy="427.4" r="4.4" fill="#5aa46a"/>
<circle cx="60.2" cy="427.4" r="2.8" fill="#1c6a36"/>
<path d="M99.2,426.3 L87.2,421.3" stroke="#f6ae3e" stroke-width="1.25" stroke-linecap="round"/>
<path d="M102.2,424.3 L100.2,415.3" stroke="#f6ae3e" stroke-width="1.25" stroke-linecap="round"/>
<path d="M105.2,425.3 L112.2,414.3" stroke="#f6ae3e" stroke-width="1.25" stroke-linecap="round"/>
<path d="M106.2,428.3 L114.2,424.3" stroke="#f6ae3e" stroke-width="1.25" stroke-linecap="round"/>
<path d="M106.2,430.3 L115.2,436.3" stroke="#f6ae3e" stroke-width="1.25" stroke-linecap="round"/>
<path d="M104.2,432.3 L108.2,442.3" stroke="#f6ae3e" stroke-width="1.25" stroke-linecap="round"/>
<path d="M100.2,432.3 L98.2,442.3" stroke="#f6ae3e" stroke-width="1.25" stroke-linecap="round"/>
<path d="M98.2,430.3 L89.2,438.3" stroke="#f6ae3e" stroke-width="1.25" stroke-linecap="round"/>
<path d="M98.2,428.3 L89.2,429.3" stroke="#f6ae3e" stroke-width="1.25" stroke-linecap="round"/>
<path d="M93.2,423.3 L94.2,420.3" stroke="#f6ae3e" stroke-width="0.95" stroke-linecap="round"/>
<path d="M101.2,418.3 L103.7,417.3" stroke="#f6ae3e" stroke-width="0.95" stroke-linecap="round"/>
<path d="M109.2,418.3 L111.2,419.3" stroke="#f6ae3e" stroke-width="0.95" stroke-linecap="round"/>
<path d="M111.2,426.3 L113.2,422.3" stroke="#f6ae3e" stroke-width="0.95" stroke-linecap="round"/>
<path d="M111.2,433.3 L114.2,433.3" stroke="#f6ae3e" stroke-width="0.95" stroke-linecap="round"/>
<path d="M106.2,438.3 L109.2,439.3" stroke="#f6ae3e" stroke-width="0.95" stroke-linecap="round"/>
<path d="M99.2,438.3 L96.2,440.3" stroke="#f6ae3e" stroke-width="0.95" stroke-linecap="round"/>
<path d="M93.2,435.3 L90.2,434.3" stroke="#f6ae3e" stroke-width="0.95" stroke-linecap="round"/>
<path d="M93.2,428.8 L91.2,426.8" stroke="#f6ae3e" stroke-width="0.95" stroke-linecap="round"/>
<path d="M90.2,421.8 L88.2,423.8" stroke="#f6ae3e" stroke-width="0.95" stroke-linecap="round"/>
<path d="M112.2,415.3 L114.2,416.3" stroke="#f6ae3e" stroke-width="0.95" stroke-linecap="round"/>
<circle cx="102.2" cy="428.3" r="4.4" fill="#ffe41a" stroke="#f6c030" stroke-width="0.4"/>
<circle cx="102.2" cy="428.3" r="2.4" fill="#f39020"/>
<text x="180.40" y="326.60" font-size="6.6" text-anchor="middle" fill="#222" >Vim<tspan font-size="4.75" dy="-2.24">+</tspan><tspan dy="2.24">/GFAP</tspan><tspan font-size="4.75" dy="-2.24">+</tspan></text>
<text x="64.60" y="459.80" font-size="6.6" text-anchor="middle" fill="#222" >Vim<tspan font-size="4.75" dy="-2.24">+</tspan><tspan dy="2.24">/GFAP</tspan><tspan font-size="4.75" dy="-2.24">−</tspan></text>
<text x="179.60" y="459.80" font-size="6.6" text-anchor="middle" fill="#222" >Vim<tspan font-size="4.75" dy="-2.24">−</tspan><tspan dy="2.24">/GFAP</tspan><tspan font-size="4.75" dy="-2.24">+</tspan></text>
<rect x="127.4" y="329.6" width="107.4" height="116.2" fill="#000"/>
<rect x="10.8" y="464.6" width="106.8" height="116.2" fill="#000"/>
<rect x="127.4" y="464.3" width="107.4" height="116.5" fill="#000"/>
<path d="M156.5 378.4h0M160.5 365.0h0M160.6 377.1h0M152.0 381.6h0M162.0 367.0h0M137.3 382.7h0M152.5 382.1h0M159.0 384.7h0M140.1 392.2h0M167.3 375.7h0M163.6 379.5h0M147.6 394.8h0M156.7 379.0h0M163.8 373.7h0M146.9 389.8h0M171.9 384.4h0M150.9 390.5h0M157.4 376.4h0M149.2 393.1h0M164.7 369.3h0M163.5 371.9h0M146.6 391.9h0M145.6 391.8h0M157.2 380.5h0M138.2 390.2h0M145.6 382.1h0M159.7 371.2h0M153.1 382.1h0M166.5 387.0h0M142.7 395.1h0M160.6 376.5h0M160.9 374.6h0M149.2 383.7h0M140.4 390.6h0M146.2 390.5h0M159.9 375.2h0M167.9 375.7h0M148.3 383.1h0M154.2 381.1h0M158.9 374.2h0M162.1 375.8h0M165.2 371.1h0M139.6 387.0h0M168.4 377.1h0M152.1 389.1h0M146.3 383.0h0M148.7 385.9h0M144.5 390.1h0M160.3 379.7h0M140.6 390.8h0M164.0 367.2h0M145.3 386.0h0M157.4 381.3h0M148.2 379.1h0M141.5 391.5h0M152.7 380.9h0M166.0 378.5h0M169.4 376.5h0M157.3 379.0h0M150.1 380.9h0M144.8 390.5h0M149.9 379.6h0M172.1 377.2h0M145.5 373.7h0M152.5 381.0h0M144.1 381.3h0M152.3 385.7h0M169.3 374.1h0M163.8 368.4h0M146.3 381.4h0M141.1 389.0h0M168.7 380.4h0M150.5 385.8h0M153.8 370.6h0M158.1 378.1h0M156.2 373.3h0M142.1 379.2h0M159.1 377.9h0M151.5 391.0h0M154.1 377.7h0M137.5 388.7h0M157.4 376.8h0M154.0 384.4h0M157.7 369.9h0M146.0 380.5h0M158.7 369.4h0M152.4 388.8h0M153.6 370.7h0M170.1 375.9h0M153.1 379.4h0M147.5 393.1h0M146.7 373.9h0M157.8 376.1h0M139.4 382.0h0M157.3 370.3h0M148.9 380.2h0M157.4 379.6h0M155.3 371.2h0M141.7 393.5h0M160.2 381.7h0M143.8 385.1h0M136.6 385.9h0M152.6 382.1h0M144.0 390.3h0M149.0 386.2h0M142.0 393.4h0M149.4 378.1h0M158.6 383.1h0M146.0 386.9h0M150.6 383.2h0M145.8 384.3h0M163.4 375.4h0M153.7 389.2h0M142.8 391.1h0M152.5 377.6h0M169.4 376.1h0M157.5 368.3h0M159.9 381.8h0M152.1 387.4h0M158.2 384.1h0M170.1 377.0h0M148.3 383.4h0M165.7 374.9h0M155.1 379.9h0M159.1 382.4h0M167.5 377.4h0M147.9 381.4h0M148.3 386.9h0M161.1 364.1h0M170.0 379.5h0M155.5 378.6h0M161.5 392.4h0M147.3 378.3h0M160.7 391.7h0M145.8 383.8h0M156.9 379.0h0M150.3 380.7h0M167.4 381.0h0M137.3 388.5h0M165.0 371.5h0M161.3 375.5h0M145.9 391.7h0M165.9 369.6h0M156.5 387.0h0M153.5 373.1h0M139.6 385.4h0M159.4 374.3h0M152.1 389.4h0M144.4 381.3h0M148.8 383.4h0M159.5 375.3h0M145.9 385.9h0M157.4 389.4h0M151.5 376.2h0M140.2 392.3h0M152.3 375.6h0M156.8 373.9h0M162.3 369.3h0M145.6 377.8h0M148.4 392.5h0M148.1 386.3h0M161.8 373.0h0M156.5 374.3h0M162.1 376.7h0M166.9 375.5h0M157.3 383.8h0M152.4 380.3h0M157.2 381.5h0M164.0 377.3h0M163.1 375.8h0M161.1 374.7h0M159.0 375.9h0M171.3 377.4h0M140.6 390.7h0M163.7 375.2h0M170.1 377.4h0M160.9 379.0h0M166.8 375.0h0M141.1 385.6h0M141.8 385.8h0M158.1 380.6h0M150.3 384.4h0M144.9 395.1h0M161.4 378.0h0M166.0 376.1h0M150.4 388.3h0M149.2 370.0h0M150.2 384.6h0M140.3 389.9h0M155.4 376.4h0M156.6 385.4h0M154.7 376.1h0M144.5 383.4h0M159.6 375.1h0M155.2 382.9h0M151.3 386.2h0M161.9 379.0h0M161.8 383.7h0M141.0 389.2h0M141.6 387.7h0M156.4 379.9h0M158.7 389.7h0M148.5 385.3h0M158.9 375.7h0M145.0 396.3h0M164.3 385.4h0M151.4 395.0h0M163.2 384.9h0M164.9 378.1h0M152.4 388.6h0M143.8 384.2h0M152.6 389.2h0M153.7 388.6h0M161.6 383.8h0M156.6 367.9h0M156.1 384.1h0M151.6 373.6h0M148.2 380.7h0M143.9 392.4h0M140.8 391.5h0M159.3 366.5h0M139.9 392.6h0M155.6 386.1h0M148.7 379.3h0M153.7 383.9h0M144.7 389.8h0M145.2 377.9h0M147.5 394.0h0M146.1 386.1h0M149.0 388.1h0M145.1 385.9h0M165.3 372.5h0M153.8 389.6h0M156.5 375.4h0M153.9 383.8h0M157.5 377.1h0M145.3 382.8h0M139.6 382.8h0M147.0 390.4h0M141.8 390.6h0M153.3 387.1h0M147.5 384.7h0M151.4 380.7h0M164.1 383.0h0M144.1 388.7h0M170.0 377.9h0M150.1 368.6h0M142.8 396.2h0M141.5 391.3h0M137.6 386.9h0M158.2 385.0h0M148.8 384.2h0M147.6 397.4h0M155.8 385.1h0M167.6 374.9h0M141.4 391.7h0M152.5 386.3h0M151.5 384.4h0M148.6 386.4h0M166.8 371.7h0M163.0 367.1h0M177.8 359.9h0M165.7 374.1h0M181.1 361.8h0M178.2 339.6h0M163.1 365.3h0M158.3 372.0h0M177.4 357.5h0M167.3 360.0h0M180.9 342.1h0M161.6 359.3h0M174.0 373.1h0M166.6 373.2h0M186.7 354.0h0M184.2 349.6h0M169.7 377.4h0M176.5 373.9h0M182.6 361.1h0M179.7 376.4h0M169.5 378.9h0M168.4 370.1h0M173.0 378.9h0M171.4 360.8h0M188.2 366.5h0M181.6 343.5h0M170.7 352.2h0M179.6 365.9h0M180.8 339.8h0M181.7 352.5h0M180.7 347.3h0M175.9 366.3h0M170.6 373.4h0M169.1 367.4h0M161.8 372.3h0M182.7 351.4h0M165.5 375.7h0M160.4 367.7h0M198.3 353.5h0M181.0 358.0h0M180.3 370.7h0M181.2 373.0h0M186.3 350.8h0M189.4 358.4h0M173.3 375.4h0M169.0 343.8h0M189.7 355.0h0M162.1 369.6h0M188.8 371.9h0M165.9 355.9h0M192.2 349.5h0M186.3 366.3h0M165.7 373.2h0M183.6 349.4h0M190.5 346.0h0M159.3 372.0h0M183.8 346.0h0M175.7 365.5h0M174.6 374.8h0M172.6 354.2h0M178.8 375.9h0M173.8 366.3h0M203.4 363.1h0M181.7 346.0h0M164.1 369.9h0M184.1 348.8h0M169.1 372.3h0M164.5 372.5h0M156.9 361.3h0M180.8 348.1h0M194.9 355.4h0M182.4 358.5h0M159.3 373.2h0M174.3 358.2h0M172.5 363.3h0M178.0 371.2h0M175.3 365.8h0M175.0 360.6h0M183.7 340.6h0M193.7 357.0h0M177.4 352.2h0M180.1 361.3h0M174.2 353.8h0M177.0 351.4h0M166.0 374.7h0M161.9 371.1h0M190.3 357.4h0M177.9 350.3h0M184.9 378.8h0M192.1 361.0h0M186.2 358.9h0M196.4 351.7h0M180.3 345.6h0M180.2 350.8h0M175.1 358.6h0M188.6 348.9h0M195.1 372.4h0M180.8 369.4h0M169.3 372.0h0M192.1 364.4h0M172.3 351.3h0M181.8 370.5h0M184.7 363.9h0M173.9 347.1h0M179.2 377.7h0M171.5 366.9h0M196.0 354.4h0M161.9 366.9h0M162.6 364.4h0M155.7 367.7h0M182.3 345.0h0M177.6 349.3h0M181.3 362.7h0M186.1 346.5h0M184.8 361.3h0M189.8 346.1h0M169.0 375.0h0M175.9 356.7h0M167.1 369.7h0M174.1 353.7h0M175.7 347.9h0M154.7 366.9h0M190.1 346.8h0M178.0 371.2h0M181.1 341.5h0M166.6 367.2h0M165.7 353.5h0M168.5 375.4h0M170.4 377.3h0M166.4 371.1h0M182.0 351.1h0M187.9 356.7h0M172.7 346.4h0M196.4 353.4h0M186.9 343.9h0M169.1 375.7h0M171.3 372.0h0M165.2 358.5h0M185.9 354.9h0M160.5 370.2h0M178.6 368.7h0M162.8 370.2h0M178.6 352.5h0M191.6 372.3h0M163.1 372.8h0M183.1 351.8h0M162.6 370.1h0M170.7 357.2h0M196.0 353.3h0M172.6 363.7h0M189.3 359.9h0M180.2 348.1h0M170.9 364.8h0M184.3 348.1h0M175.1 363.6h0M169.5 369.0h0M169.5 367.2h0M149.6 361.2h0M180.9 361.7h0M176.9 366.8h0M172.6 365.1h0M195.7 358.8h0M174.2 366.1h0M165.1 377.2h0M181.2 370.2h0M181.9 363.7h0M190.8 346.5h0M173.4 361.1h0M172.2 368.9h0M186.1 343.9h0M159.3 370.9h0M175.8 365.6h0M173.3 353.1h0M182.3 343.7h0M158.7 371.4h0M166.1 377.6h0M180.6 343.9h0M190.8 354.3h0M187.0 342.2h0M186.6 354.7h0M182.3 350.2h0M194.8 378.5h0M166.7 368.0h0M174.5 363.1h0M178.8 373.5h0M184.3 357.7h0M178.9 364.6h0M157.0 368.0h0M196.0 355.1h0M181.1 380.0h0M190.4 346.8h0M182.8 360.1h0M191.5 349.8h0M192.3 349.5h0M176.3 364.1h0M171.6 369.0h0M178.4 347.5h0M152.0 360.1h0M180.6 353.0h0M173.7 380.0h0M179.9 369.6h0M166.0 359.4h0M190.3 346.5h0M166.4 366.5h0M176.5 358.1h0M187.9 357.0h0M187.8 358.3h0M165.7 378.2h0M171.2 356.2h0M180.7 357.9h0M175.4 359.6h0M161.4 373.3h0M168.9 379.9h0M163.7 361.4h0M190.9 349.1h0M164.6 358.2h0M186.7 345.2h0M194.0 350.2h0M168.5 372.0h0M194.3 351.3h0M186.5 355.7h0M167.4 352.1h0M181.2 374.7h0M180.3 360.7h0M170.7 363.9h0M173.4 358.4h0M174.5 361.4h0M171.0 379.5h0M171.3 375.3h0M188.8 345.3h0M189.5 355.5h0M182.6 352.5h0M192.1 365.8h0M171.4 362.5h0M168.0 366.5h0M174.8 339.4h0M174.1 375.7h0M177.7 380.5h0M182.2 361.6h0M175.9 385.9h0M180.3 363.7h0M194.7 354.9h0M169.7 375.4h0M176.5 348.9h0M164.9 366.3h0M190.5 347.5h0M183.5 356.1h0M173.2 379.5h0M183.9 358.3h0M186.9 347.8h0M178.7 354.7h0M193.6 355.4h0M178.3 374.6h0M182.6 375.8h0M177.9 360.7h0M184.1 345.1h0M170.9 371.2h0M175.3 372.0h0M165.6 373.8h0M179.3 370.4h0M183.5 359.5h0M182.7 357.3h0M180.1 363.7h0M174.6 349.2h0M190.5 349.4h0M167.6 372.4h0M185.4 365.4h0M179.1 341.4h0M172.3 361.5h0M187.2 353.7h0M163.0 370.9h0M163.2 363.0h0M181.4 376.7h0M170.9 349.4h0M155.8 364.9h0M182.8 351.1h0M183.2 358.6h0M184.4 348.4h0M188.4 344.7h0M168.0 360.1h0M163.9 363.5h0M173.7 363.2h0M168.7 377.5h0M172.4 346.0h0M172.9 380.8h0M178.6 372.5h0M198.1 361.6h0M184.6 345.8h0M175.1 363.9h0M178.2 376.2h0M173.4 369.2h0M153.2 363.4h0M187.7 345.5h0M184.9 368.7h0M173.9 378.8h0M194.0 371.9h0M187.5 366.7h0M174.7 362.4h0M197.1 351.3h0M177.4 365.0h0M195.1 352.7h0M165.2 358.1h0M162.7 359.2h0M182.0 348.3h0M165.4 375.6h0M182.0 341.6h0M189.4 348.3h0M174.2 354.9h0M183.6 353.0h0M161.0 361.5h0M181.9 359.1h0M170.8 375.5h0M192.2 360.4h0M170.6 376.9h0M168.9 372.2h0M158.9 368.7h0M189.3 351.4h0M167.9 371.7h0M176.7 356.4h0M169.8 368.5h0M184.6 355.0h0M168.3 374.1h0M174.2 353.9h0M168.5 347.1h0M188.9 347.9h0M165.5 363.6h0M178.9 381.7h0M160.9 352.8h0M176.5 380.1h0M181.8 356.3h0M154.8 370.2h0M184.1 342.9h0M192.6 364.3h0M180.2 367.5h0M165.5 360.5h0M173.6 346.1h0M180.0 357.1h0M188.8 354.3h0M170.7 382.4h0M186.3 352.7h0M154.2 367.5h0M175.2 357.7h0M170.2 371.4h0M192.1 347.5h0M182.1 347.5h0M174.6 351.1h0M176.3 374.6h0M180.6 375.5h0M180.0 358.9h0M177.0 348.1h0M172.3 367.5h0M177.6 348.9h0M189.8 357.1h0M175.1 362.4h0M169.3 367.6h0M187.3 350.8h0M166.7 378.6h0M189.5 356.4h0M180.0 366.4h0M177.7 345.5h0M166.4 377.8h0M185.8 352.1h0M177.4 343.5h0M177.7 355.4h0M168.7 348.3h0M179.0 387.7h0M157.5 361.7h0M164.8 374.5h0M176.4 367.3h0M167.0 374.9h0M176.1 363.9h0M171.5 367.2h0M162.9 367.7h0M196.3 351.7h0M164.4 366.2h0M168.9 359.8h0M167.2 378.4h0M177.3 363.4h0M177.2 342.0h0M183.0 355.8h0M175.6 337.9h0M187.0 356.5h0M191.6 366.8h0M193.2 356.5h0M173.1 377.2h0M180.6 375.7h0M197.4 365.4h0M169.9 374.7h0M179.9 373.2h0M171.9 381.2h0M173.8 380.1h0M181.9 378.6h0M183.1 372.5h0M180.1 386.8h0M196.2 354.8h0M188.9 355.8h0M182.5 389.8h0M177.6 382.6h0M187.4 366.6h0M184.1 356.2h0M184.6 372.3h0M191.3 353.2h0M173.7 378.6h0M176.2 367.3h0M180.9 380.9h0M180.4 377.2h0M184.3 367.7h0M175.2 377.3h0M170.3 380.1h0M187.6 360.1h0M195.5 359.5h0M189.5 359.1h0M181.1 386.5h0M190.2 372.9h0M197.8 358.1h0M192.7 368.8h0M185.3 371.8h0M185.3 373.2h0M186.2 373.5h0M173.0 383.2h0M177.1 375.0h0M171.8 381.4h0M188.4 383.2h0M169.5 379.4h0M182.6 389.4h0M182.5 376.3h0M189.7 375.5h0M177.3 385.0h0M186.7 361.8h0M184.6 372.2h0M177.2 378.3h0M178.9 376.6h0M192.2 375.2h0M173.4 369.4h0M186.2 367.4h0M180.6 369.3h0M178.0 369.7h0M185.9 374.5h0M197.2 359.6h0M176.5 373.8h0M191.1 369.9h0M170.8 376.3h0M175.7 386.8h0M175.5 383.2h0M165.6 378.0h0M172.3 382.2h0M186.4 363.0h0M171.1 383.8h0M181.3 376.0h0M181.8 357.8h0M192.7 358.2h0M189.2 367.0h0M182.2 369.3h0M179.0 374.9h0M192.9 356.1h0M183.6 375.7h0M186.4 348.5h0M190.5 379.8h0M165.2 374.5h0M190.3 361.2h0M175.0 374.1h0M169.0 375.1h0M187.2 376.7h0M175.7 375.8h0M184.7 364.0h0M183.5 371.3h0M193.7 360.1h0M188.9 364.8h0M191.4 370.7h0M190.5 373.9h0M176.1 373.4h0M179.1 374.0h0M194.0 354.4h0M170.5 382.7h0M185.5 369.1h0M175.6 386.5h0M203.6 369.0h0M177.0 378.5h0M175.8 382.7h0M180.7 382.7h0M178.3 378.1h0M184.1 391.8h0M199.0 368.0h0M198.7 358.5h0M172.9 373.7h0M176.5 380.8h0M178.3 381.8h0M189.6 362.2h0M180.1 376.5h0M197.2 361.1h0M185.4 358.4h0M191.3 353.5h0M185.3 366.5h0M182.5 379.4h0M184.5 371.9h0M178.1 384.5h0M183.0 375.4h0M188.5 349.2h0M191.4 362.2h0M185.4 365.6h0M183.9 378.6h0M192.4 368.6h0M174.3 372.7h0M181.5 385.4h0M178.4 379.2h0M171.8 385.7h0M180.3 381.7h0M186.1 362.4h0M188.9 361.1h0M179.4 381.0h0M186.1 366.2h0M189.3 362.7h0M189.4 354.2h0M187.4 365.2h0M175.6 379.3h0M182.3 369.8h0M190.3 361.5h0M176.3 371.5h0M193.9 359.2h0M175.0 372.8h0M186.7 363.3h0M179.4 375.6h0M191.7 369.8h0M191.2 367.2h0M189.5 370.3h0M184.6 385.5h0M178.5 389.9h0M184.5 369.8h0M180.1 378.3h0M169.5 376.0h0M179.6 387.7h0M179.3 373.5h0M167.9 382.0h0M176.5 377.8h0M191.6 377.9h0M174.4 374.7h0M176.8 382.0h0M188.1 363.8h0M181.3 365.4h0M196.7 364.8h0M172.2 384.0h0M183.1 368.4h0M186.3 361.6h0M177.5 371.3h0M185.4 361.6h0M193.6 354.6h0M183.8 358.7h0M174.1 375.8h0M170.4 381.9h0M191.7 362.0h0M190.0 372.5h0M190.7 362.8h0M191.2 352.0h0M172.3 363.6h0M175.6 372.1h0M191.7 364.0h0M191.2 360.4h0M181.8 359.9h0M191.9 356.7h0M170.7 377.7h0M190.2 363.7h0M198.5 356.5h0M167.1 379.3h0M191.2 378.4h0M186.2 357.8h0M181.3 375.9h0M184.1 360.8h0M192.3 368.4h0M191.7 350.8h0M178.9 365.9h0M186.6 368.0h0M177.1 387.4h0M183.9 369.3h0M176.9 387.6h0M187.8 383.6h0M181.0 377.5h0M186.2 362.4h0M190.1 370.3h0M177.9 373.6h0M178.9 377.9h0M175.5 382.6h0M173.5 379.7h0M201.9 359.8h0M181.3 374.8h0M191.3 368.1h0M187.9 373.3h0M182.4 380.0h0M176.5 382.1h0M181.5 370.6h0M183.6 355.4h0M178.2 374.4h0M203.8 361.0h0M185.2 374.1h0M171.9 386.0h0M201.9 371.4h0M190.8 362.2h0M179.7 376.1h0M191.2 376.4h0M171.6 378.2h0M193.6 351.4h0M173.5 383.0h0M178.7 369.2h0M179.6 375.8h0M192.5 352.6h0M192.2 361.1h0M176.9 377.2h0M179.3 379.3h0M193.5 350.8h0M185.8 361.7h0M185.3 361.4h0M175.7 381.3h0M176.2 387.7h0M175.6 388.3h0M187.6 363.0h0M182.7 377.9h0M186.6 371.6h0M191.9 376.0h0M181.4 389.6h0M191.0 370.4h0M179.4 376.7h0M193.2 356.1h0M194.9 354.9h0M181.9 371.6h0M190.8 357.1h0M176.8 377.7h0M171.6 382.6h0M183.1 371.5h0M198.3 359.5h0M189.1 358.5h0M183.3 387.6h0M181.8 368.6h0M179.5 340.7h0M181.8 356.7h0M185.3 344.9h0M174.5 340.2h0M171.0 353.4h0M185.7 345.6h0M181.5 347.6h0M175.6 350.7h0M173.4 353.1h0M178.5 352.6h0M168.6 346.5h0M181.5 349.6h0M180.6 345.0h0M181.3 342.5h0M173.4 355.0h0M184.1 348.1h0M174.2 342.8h0M176.7 349.6h0M173.4 352.5h0M172.5 355.6h0M184.8 343.7h0M175.1 348.6h0M174.8 351.7h0M169.9 350.0h0M182.4 343.3h0M176.1 348.3h0M171.9 350.5h0M172.6 349.2h0M172.1 348.7h0M174.8 346.5h0M172.9 340.0h0M177.3 349.8h0M183.8 346.9h0M176.5 345.4h0M180.1 343.6h0M174.2 347.7h0M176.7 356.3h0M175.4 350.9h0M174.5 352.0h0M179.1 345.7h0M171.6 346.8h0M183.5 343.7h0M180.9 346.5h0M180.8 359.3h0M176.6 345.7h0M180.0 341.1h0M177.9 346.2h0M179.6 342.2h0M171.2 348.2h0M171.8 348.0h0M170.5 348.2h0M185.3 351.4h0M173.0 345.3h0M172.6 350.1h0M174.4 356.3h0M180.4 348.6h0M179.1 338.1h0M179.4 338.1h0M174.3 345.8h0M176.8 351.1h0M178.9 343.3h0M181.9 341.1h0M177.2 347.6h0M174.7 343.9h0M178.9 347.9h0M180.7 345.6h0M178.4 353.1h0M183.5 347.6h0M179.1 343.4h0M181.0 345.2h0M171.4 350.3h0M170.6 348.1h0M166.9 351.6h0M175.5 344.6h0M183.5 341.7h0M180.4 352.6h0M177.3 346.4h0M179.3 348.9h0M181.3 349.2h0M175.0 346.3h0M200.5 377.2h0M214.0 361.4h0M198.2 377.4h0M215.2 355.5h0M210.4 364.8h0M207.7 371.8h0M194.0 383.4h0M193.3 378.1h0M202.3 380.7h0M218.4 348.1h0M199.7 368.3h0M218.7 360.1h0M198.8 386.8h0M211.3 363.4h0M202.9 380.2h0M215.4 367.7h0M205.4 362.8h0M216.6 349.6h0M190.9 383.1h0M187.1 387.0h0M204.1 369.4h0M215.3 360.8h0M207.1 362.8h0M190.1 386.3h0M191.5 385.9h0M197.7 380.4h0M191.3 387.4h0M201.2 374.8h0M189.2 389.3h0M215.3 357.9h0M199.4 374.8h0M208.5 364.3h0M213.5 360.3h0M202.0 371.9h0M199.2 377.8h0M200.2 368.1h0M197.0 384.0h0M203.4 373.5h0M191.8 382.0h0M190.6 384.0h0M187.3 378.9h0M200.0 373.8h0M192.3 384.8h0M219.8 355.5h0M195.5 381.0h0M214.7 362.3h0M206.4 361.8h0M215.3 358.4h0M185.6 388.3h0M214.9 357.2h0M198.1 380.7h0M195.9 375.6h0M213.4 361.3h0M214.8 358.8h0M207.1 375.3h0M214.4 352.9h0M189.7 386.8h0M215.7 351.4h0M208.3 360.0h0M192.6 383.6h0M187.9 389.5h0M207.9 367.9h0M215.8 355.8h0M213.6 353.9h0M199.8 378.6h0M213.0 359.6h0M214.7 353.1h0M217.3 350.5h0M203.4 370.5h0M208.1 356.4h0M186.4 379.7h0M215.5 359.9h0M194.0 391.3h0M204.5 367.3h0M202.9 371.4h0M204.7 360.6h0M191.3 385.9h0M223.0 352.3h0M214.2 361.7h0M200.0 371.9h0M226.4 353.3h0M187.2 387.3h0M198.7 378.3h0M189.6 392.6h0M196.6 383.8h0M188.0 387.0h0M204.0 373.1h0M199.5 377.3h0M195.4 361.3h0M190.1 392.8h0M187.4 387.3h0M209.5 362.7h0M194.4 384.4h0M218.7 353.6h0M211.9 358.4h0M194.6 378.8h0M213.2 355.4h0M214.1 351.8h0M195.3 385.7h0M200.2 382.2h0M196.3 379.2h0M205.8 362.4h0M205.7 363.2h0M195.0 383.0h0M198.1 373.7h0M200.5 372.0h0M193.8 381.2h0M206.6 362.9h0M210.3 371.9h0M197.7 371.7h0M213.5 361.7h0M213.6 353.5h0M204.7 362.3h0M189.8 383.4h0M192.1 387.6h0M203.3 373.1h0M200.8 370.6h0M201.5 367.1h0M219.0 360.7h0M197.5 373.9h0M209.8 362.2h0M198.9 368.8h0M213.6 363.2h0M199.2 374.4h0M192.9 386.8h0M199.8 370.2h0M198.2 376.3h0M187.5 385.3h0M217.3 355.6h0M206.1 370.6h0M205.7 367.4h0M186.6 387.1h0M217.8 348.4h0M205.5 361.6h0M213.7 356.0h0M221.0 363.2h0M203.5 383.7h0M195.6 369.2h0M190.9 386.3h0M207.2 368.0h0M196.3 377.4h0M186.0 389.0h0M189.8 387.4h0M197.8 378.4h0M186.2 389.0h0M209.9 370.2h0M196.9 372.8h0M220.3 353.0h0M212.9 351.8h0M190.0 388.4h0M213.6 352.6h0M204.4 364.6h0M204.9 367.6h0M190.2 377.6h0M198.7 380.9h0M206.6 364.2h0M206.5 369.1h0M185.5 386.5h0M191.2 379.9h0M190.2 380.4h0M205.2 359.4h0M222.8 354.9h0M201.7 376.3h0M200.6 369.9h0M194.9 387.2h0M216.6 362.3h0M194.9 382.7h0M192.5 381.2h0M200.6 372.0h0M199.4 364.9h0M195.9 374.8h0M202.8 371.5h0M203.1 372.0h0M184.9 386.2h0M197.5 377.9h0M196.4 371.2h0M209.8 365.0h0M196.3 382.8h0M207.1 364.1h0M217.4 357.5h0M206.6 359.5h0M183.2 386.9h0M206.7 365.8h0M186.8 379.7h0M214.0 359.8h0M214.3 352.1h0M215.2 358.4h0M215.8 354.2h0M202.1 375.2h0M182.9 384.2h0M198.8 377.0h0M205.7 359.4h0M194.4 387.5h0M193.6 378.4h0M197.0 377.8h0M218.5 357.0h0M208.1 363.5h0M211.9 360.7h0M215.3 365.5h0M213.8 354.5h0M215.8 351.3h0M195.9 378.6h0M207.5 369.0h0M211.3 365.7h0M201.6 360.8h0M194.4 377.8h0M217.0 351.9h0M199.8 366.4h0M195.4 379.7h0M194.1 383.9h0M212.0 355.0h0M190.0 379.9h0M213.9 363.9h0M208.7 358.8h0M204.8 366.1h0M188.6 387.8h0M188.7 383.9h0M214.7 357.1h0M203.7 364.7h0M196.8 368.3h0M194.9 386.0h0M188.0 388.1h0M216.5 353.4h0M196.3 369.2h0M190.1 377.6h0M200.4 374.1h0M196.9 381.2h0M210.6 362.6h0M189.8 387.5h0M199.2 375.4h0M188.8 391.5h0M207.6 369.4h0M201.6 376.6h0M191.8 387.7h0M189.8 384.8h0M200.2 381.7h0M216.6 358.6h0M214.3 357.2h0M187.8 387.6h0M188.0 379.5h0M205.9 364.3h0M198.8 375.3h0M198.7 379.8h0M213.3 353.4h0M197.7 375.3h0M206.0 375.6h0M199.6 370.9h0M207.3 365.6h0M213.7 347.3h0M195.0 374.8h0M203.7 373.6h0M203.9 378.9h0M211.6 370.7h0M184.2 384.8h0M214.9 353.9h0M212.7 365.7h0M197.9 378.0h0M198.1 368.6h0M196.2 368.9h0M186.3 386.7h0M167.9 406.4h0M161.9 420.1h0M164.1 408.9h0M163.3 416.2h0M156.5 415.5h0M160.2 416.3h0M162.3 413.8h0M172.5 404.8h0M159.4 419.3h0M157.3 414.9h0M162.8 411.3h0M165.3 410.5h0M155.9 416.9h0M173.3 409.8h0M155.4 410.8h0M164.6 416.9h0M158.7 416.5h0M166.4 418.0h0M170.0 411.8h0M158.8 414.1h0M163.3 410.1h0M168.6 411.9h0M171.2 403.4h0M167.3 404.1h0M165.9 412.2h0M164.0 417.6h0M158.3 413.1h0M158.9 419.4h0M164.9 415.8h0M162.0 412.3h0M163.2 410.8h0M160.8 409.8h0M165.4 409.4h0M166.6 415.7h0M166.2 406.3h0M162.3 418.1h0M164.1 410.9h0M158.8 416.4h0M164.4 412.1h0M166.3 402.0h0M170.9 408.3h0M158.9 415.7h0M159.3 416.6h0M160.5 412.2h0M160.2 417.5h0M159.7 413.9h0M166.0 409.6h0M165.4 409.3h0M162.8 408.0h0M168.5 406.0h0M171.0 407.9h0M156.0 415.9h0M167.2 414.8h0M164.9 411.9h0M170.3 409.6h0M164.8 405.1h0M161.6 412.9h0M157.3 411.7h0M168.0 403.1h0M160.3 415.8h0M166.5 402.6h0M170.6 406.9h0M163.0 408.6h0M159.3 413.4h0M169.9 407.5h0M157.0 417.3h0M166.2 413.7h0M163.3 414.5h0M161.0 415.2h0M168.6 402.1h0M157.7 413.0h0M171.0 409.5h0M164.3 413.0h0M167.7 412.3h0M169.7 401.9h0M166.7 402.7h0M159.6 407.6h0M168.0 407.8h0M164.4 413.9h0M164.6 417.6h0M160.9 414.4h0M170.2 412.6h0M169.5 402.7h0M169.5 404.3h0M153.7 410.3h0M158.8 409.7h0M159.6 416.4h0M168.7 408.2h0M165.0 414.2h0M153.6 413.7h0M161.5 413.7h0M158.9 419.5h0M159.6 413.2h0M167.1 412.9h0M173.2 405.3h0M171.7 406.2h0M159.6 412.1h0M170.5 405.1h0M170.7 404.1h0M162.3 412.5h0M166.3 406.5h0M162.4 411.8h0M154.5 413.6h0M165.1 415.2h0M165.8 413.4h0M166.2 415.5h0M163.1 413.0h0M156.3 415.1h0M166.9 409.1h0M161.5 412.5h0M190.4 396.3h0M175.3 403.2h0M177.2 396.8h0M185.6 397.1h0M192.7 398.0h0M179.9 402.9h0M180.6 403.3h0M191.8 399.7h0M191.6 400.2h0M193.4 399.9h0M175.9 402.5h0M177.5 405.1h0M171.9 398.8h0M174.4 405.0h0M183.8 405.1h0M192.6 403.3h0M190.5 397.8h0M187.5 400.0h0M174.1 404.1h0M190.7 396.9h0M178.5 402.4h0M176.7 399.3h0M182.5 399.9h0M184.2 402.0h0M183.5 400.4h0M184.8 398.2h0M176.2 400.8h0M189.0 399.6h0M176.5 402.8h0M179.1 403.6h0M184.0 401.5h0M191.7 400.9h0M179.2 403.1h0M191.0 402.7h0M189.0 403.3h0M179.0 400.1h0M184.2 405.8h0M190.6 401.3h0M192.3 401.4h0M188.5 396.0h0M178.3 400.9h0M192.1 398.5h0M184.3 405.3h0M187.6 408.7h0M177.6 405.4h0M184.8 397.3h0M190.8 398.5h0M185.1 403.4h0M176.6 401.9h0M175.9 399.7h0M175.7 405.5h0M192.6 402.7h0M189.9 402.2h0M188.6 396.7h0M178.4 397.9h0M179.2 407.6h0M185.4 399.9h0M184.4 400.7h0M189.9 402.3h0M190.9 397.3h0M174.3 407.7h0M189.0 397.3h0M180.8 396.9h0M176.5 399.9h0M176.4 403.3h0M175.8 396.6h0M183.4 398.6h0M190.3 399.5h0M178.6 403.2h0M174.9 400.2h0M193.0 399.9h0M173.5 405.1h0M180.4 404.0h0M192.4 399.4h0M177.8 402.3h0M172.3 402.0h0M174.1 409.5h0M183.5 406.9h0M178.9 407.0h0M179.5 403.7h0M175.2 398.7h0M180.2 404.2h0M184.7 402.6h0M174.4 407.5h0M192.9 402.9h0M182.1 399.9h0M180.9 402.0h0M186.5 396.3h0M180.9 397.8h0M177.1 406.0h0M179.8 402.4h0M191.2 401.6h0M179.1 402.4h0M191.8 398.3h0M182.4 401.6h0M184.9 399.5h0M189.5 399.5h0M180.9 403.4h0M188.8 400.1h0M179.1 401.3h0M191.7 399.0h0M191.1 400.8h0M188.7 395.3h0M188.7 401.7h0M190.6 401.5h0M193.1 403.8h0M188.4 396.9h0M193.0 398.5h0M193.7 400.1h0M190.5 396.0h0M201.2 418.4h0M198.6 422.8h0M190.6 427.2h0M199.4 426.9h0M201.3 424.9h0M189.9 421.3h0M202.6 417.7h0M202.4 423.1h0M200.1 414.2h0M201.5 420.1h0M190.9 422.4h0M187.1 426.4h0M193.7 431.0h0M194.0 423.0h0M200.1 419.4h0M195.4 426.5h0M199.2 419.3h0M188.3 428.1h0M205.5 419.8h0M201.9 421.6h0M202.4 418.0h0M198.7 419.1h0M196.2 418.5h0M196.1 421.6h0M197.4 423.6h0M195.2 433.2h0M191.0 428.7h0M201.9 419.1h0M191.2 426.2h0M197.2 424.8h0M199.6 423.8h0M206.2 421.2h0M192.4 428.8h0M192.9 430.6h0M195.4 436.1h0M189.3 428.3h0M200.5 418.7h0M201.8 418.8h0M189.7 426.7h0M197.5 419.1h0M195.1 429.4h0M196.6 429.5h0M198.5 422.9h0M199.7 420.9h0M201.6 415.8h0M196.2 428.1h0M202.6 419.8h0M198.1 425.3h0M195.0 423.5h0M202.5 418.3h0M194.9 420.8h0M192.8 432.4h0M203.8 420.0h0M195.0 423.2h0M192.1 431.6h0M193.0 416.9h0M199.7 413.7h0M202.6 420.9h0M200.7 416.3h0M191.2 430.7h0M205.7 421.4h0M200.0 424.6h0M191.5 427.1h0M191.6 431.9h0M193.3 422.7h0M202.1 424.4h0M204.5 420.0h0M197.5 421.6h0M200.1 422.2h0M193.6 425.0h0M196.8 420.7h0M200.1 430.1h0M204.0 426.3h0M205.6 420.6h0M201.5 416.1h0M207.2 422.1h0M194.3 432.2h0M205.3 419.8h0M192.1 431.8h0M194.1 421.6h0M189.6 425.8h0M192.8 427.8h0M202.6 419.2h0M197.5 421.3h0M203.9 429.2h0M200.3 416.9h0M189.8 428.5h0M201.2 421.8h0M192.6 430.9h0M196.5 419.6h0M205.6 421.4h0M196.4 419.8h0M197.2 423.1h0M192.8 427.9h0M197.8 419.7h0M203.1 421.3h0M195.0 425.0h0M198.0 415.9h0M191.5 425.4h0M196.8 421.5h0M191.9 430.0h0M202.5 422.4h0M199.0 418.4h0M198.2 427.1h0M197.4 423.6h0M205.4 420.8h0M203.2 420.4h0M202.9 420.6h0M194.5 422.9h0M196.4 420.5h0M205.1 421.9h0M197.1 431.1h0M190.4 428.6h0M203.7 423.3h0M199.5 424.8h0M195.1 425.4h0M195.4 420.3h0M195.4 422.2h0M192.2 430.0h0M187.5 425.4h0M223.2 408.0h0M215.0 407.5h0M210.3 415.8h0M216.2 408.5h0M213.8 409.8h0M213.2 405.7h0M210.3 415.6h0M205.1 418.1h0M213.4 424.5h0M211.5 414.5h0M214.5 401.5h0M209.1 416.5h0M223.2 402.6h0M225.4 411.5h0M226.9 409.6h0M220.5 411.7h0M211.1 405.2h0M220.2 399.3h0M223.7 401.7h0M212.5 408.7h0M219.0 408.3h0M223.2 410.4h0M203.5 416.1h0M224.4 406.4h0M221.5 398.8h0M219.7 413.6h0M209.7 412.7h0M204.4 420.6h0M212.5 412.6h0M210.2 414.8h0M205.8 417.8h0M224.2 402.4h0M208.1 408.6h0M219.2 398.0h0M224.4 408.6h0M214.5 402.3h0M218.0 400.2h0M212.5 416.7h0M219.6 399.9h0M219.1 427.0h0M209.0 412.8h0M202.8 411.7h0M206.3 418.7h0M211.2 408.2h0M215.8 399.6h0M205.9 416.9h0M217.7 397.5h0M207.6 409.3h0M215.3 404.2h0M210.8 414.0h0M220.0 406.9h0M212.9 403.9h0M216.4 396.3h0M200.9 408.2h0M219.9 402.3h0M210.4 404.1h0M206.5 417.2h0M220.4 402.0h0M207.8 409.3h0M218.1 400.2h0M214.2 402.0h0M209.7 418.6h0M224.8 404.4h0M218.7 414.6h0M207.3 418.9h0M215.8 406.0h0M211.1 418.1h0M224.2 405.8h0M218.3 399.9h0M201.7 412.9h0M220.5 397.8h0M206.6 423.1h0M205.4 410.2h0M210.2 411.1h0M214.3 416.4h0M210.0 413.2h0M201.6 414.6h0M220.6 408.1h0M213.8 414.6h0M217.2 410.6h0M214.9 412.9h0M212.3 408.8h0M204.3 420.6h0M207.6 417.5h0M211.0 421.5h0M218.4 412.2h0M210.0 407.7h0M218.9 401.5h0M216.6 404.5h0M202.6 420.1h0M202.9 419.0h0M210.7 410.1h0M211.1 407.7h0M223.1 402.7h0M221.7 400.7h0M217.8 397.0h0M216.7 405.9h0M206.9 418.5h0M201.3 414.6h0M209.1 418.3h0M202.3 416.5h0M222.9 405.0h0M221.3 402.9h0M216.9 401.2h0M204.8 411.0h0M205.2 413.3h0M212.8 408.5h0M212.4 420.4h0M218.2 404.3h0M211.5 411.4h0M218.6 400.6h0M210.8 408.0h0M207.7 411.9h0M203.6 414.4h0M224.0 401.3h0M209.2 413.8h0M205.8 409.9h0M204.3 415.6h0M218.6 402.7h0M203.9 414.6h0M200.4 413.4h0M216.5 405.1h0M211.4 419.3h0M207.1 405.5h0M206.9 419.6h0M207.9 422.7h0M214.8 407.2h0M204.7 416.3h0M201.8 409.6h0M220.6 406.0h0M213.9 415.7h0M206.6 416.2h0M210.4 416.3h0M209.3 410.9h0M216.8 407.3h0M213.8 407.5h0M216.6 407.5h0M210.0 414.1h0M206.7 410.5h0M208.3 399.1h0M217.9 418.1h0M211.1 410.9h0M210.4 409.0h0M215.2 406.7h0M212.8 401.6h0M221.2 402.2h0M212.6 405.0h0M211.4 399.4h0M218.5 417.6h0M202.0 416.3h0M225.5 402.8h0M220.6 412.2h0M216.7 402.7h0M207.9 418.3h0M206.2 418.8h0M220.1 404.5h0M218.7 414.5h0M204.4 404.2h0M207.1 417.5h0M211.8 408.6h0M221.0 404.5h0M217.1 408.4h0M207.6 421.2h0M209.8 405.0h0M221.7 407.9h0M217.6 413.4h0M211.4 413.4h0M200.2 416.0h0M220.1 409.5h0M207.6 416.3h0M206.6 407.5h0M217.4 409.2h0M210.1 413.4h0M208.8 423.7h0M213.5 407.5h0M198.7 415.2h0M200.7 414.9h0M211.0 403.0h0M221.2 399.1h0M218.6 397.6h0M209.4 417.3h0M204.8 421.2h0M211.9 406.5h0M214.2 407.2h0M210.1 408.8h0M213.4 398.8h0M219.3 409.2h0M218.1 408.7h0M203.8 413.4h0M210.4 417.0h0M203.3 417.5h0M220.9 407.3h0M225.8 403.6h0M217.0 394.9h0M212.1 409.0h0M216.4 404.9h0M216.9 400.7h0M207.6 421.3h0M218.3 398.0h0M208.2 416.8h0M214.9 424.6h0M178.8 387.7h0M168.9 403.1h0M195.1 415.4h0M147.7 386.0h0M222.7 344.9h0M195.6 375.1h0M155.4 368.5h0M222.2 361.2h0M183.7 417.2h0M154.9 344.7h0M193.8 396.3h0M149.2 414.7h0M206.8 393.9h0M165.4 422.0h0M163.7 428.6h0M189.7 420.8h0M189.3 394.8h0M220.5 380.3h0M171.0 425.8h0M224.7 353.7h0M214.0 408.1h0M162.8 362.8h0M150.9 414.6h0M152.7 414.6h0M209.0 427.5h0M155.1 412.3h0M152.8 352.3h0M213.0 354.8h0M204.4 427.5h0M184.3 379.0h0M216.9 397.4h0M223.9 402.1h0M181.5 346.7h0M216.6 407.5h0M157.2 402.1h0M167.6 380.5h0M158.8 349.9h0M183.1 404.1h0M202.3 415.8h0M218.2 406.8h0M166.0 409.3h0M204.2 352.7h0M147.4 421.0h0M159.8 417.5h0M220.9 378.8h0M187.9 349.0h0M152.3 415.8h0M195.4 365.0h0M161.4 349.3h0M206.6 366.1h0M150.5 413.5h0M171.0 357.3h0M190.9 374.3h0M187.7 382.1h0M188.9 365.7h0M185.8 424.8h0M162.9 378.7h0M182.7 381.4h0M173.3 396.7h0" stroke="#2a9a2a" stroke-width="1.6" stroke-linecap="round" opacity="0.9" fill="none"/>
<path d="M167.3 374.7h0M169.3 374.7h0M138.3 390.5h0M150.8 377.7h0M159.6 376.5h0M158.3 379.8h0M160.3 362.2h0M155.6 383.6h0M155.7 374.0h0M153.2 372.5h0M158.0 376.7h0M161.8 370.4h0M152.2 373.5h0M148.9 384.5h0M147.7 389.1h0M148.3 382.9h0M154.6 377.7h0M146.9 386.1h0M162.9 378.6h0M144.9 392.9h0M144.6 394.4h0M152.0 381.4h0M143.2 392.8h0M168.3 376.3h0M162.7 368.3h0M147.5 390.0h0M164.3 376.5h0M146.6 390.4h0M162.1 379.1h0M146.2 381.8h0M169.0 378.0h0M151.1 389.0h0M164.5 372.4h0M169.1 381.9h0M149.2 386.8h0M145.4 395.6h0M153.9 377.6h0M146.3 395.1h0M158.2 376.8h0M163.4 381.8h0M141.8 385.5h0M162.7 382.9h0M167.1 376.9h0M149.6 385.2h0M161.4 369.7h0M143.7 388.5h0M151.4 382.1h0M157.4 379.3h0M161.5 369.6h0M165.7 375.7h0M170.8 378.1h0M143.2 386.4h0M146.6 380.4h0M165.8 381.3h0M163.4 376.2h0M168.8 373.3h0M146.2 381.2h0M157.6 374.4h0M141.7 394.8h0M152.7 369.2h0M148.4 383.5h0M159.0 373.1h0M157.6 369.6h0M156.0 373.6h0M164.9 381.1h0M162.0 368.9h0M160.9 379.1h0M165.8 374.0h0M144.9 394.2h0M139.7 384.3h0M163.7 372.6h0M146.9 381.9h0M155.6 373.9h0M160.5 370.2h0M152.9 391.4h0M157.1 366.0h0M151.6 382.8h0M153.9 388.1h0M160.1 380.6h0M143.1 391.6h0M141.4 387.4h0M164.9 379.7h0M152.4 387.5h0M163.9 368.7h0M147.9 383.8h0M163.0 377.3h0M159.1 383.8h0M159.6 374.3h0M144.9 389.8h0M144.1 387.2h0M173.7 380.0h0M170.3 375.2h0M136.5 384.4h0M169.0 374.8h0M157.0 383.9h0M158.5 373.9h0M140.1 388.9h0M157.8 374.4h0M150.4 390.1h0M146.3 387.7h0M156.6 385.4h0M145.6 387.4h0M145.7 379.3h0M149.7 377.6h0M150.3 381.6h0M164.0 381.5h0M149.2 391.1h0M150.0 390.6h0M159.3 374.3h0M148.5 384.0h0M167.6 375.1h0M163.5 365.9h0M168.4 372.7h0M147.4 373.5h0M162.7 370.9h0M173.6 380.4h0M166.6 380.4h0M157.2 376.1h0M142.2 389.2h0M163.3 371.3h0M165.3 379.5h0M143.7 381.5h0M150.1 371.2h0M156.4 379.8h0M149.7 381.8h0M152.1 371.8h0M147.7 381.5h0M138.9 385.2h0M149.0 389.0h0M145.2 393.2h0M159.3 374.0h0M158.1 375.9h0M166.0 381.6h0M153.5 383.2h0M168.0 377.7h0M159.5 372.4h0M144.2 387.5h0M155.7 370.0h0M152.2 382.7h0M146.8 392.1h0M156.0 375.6h0M157.7 370.4h0M143.2 380.3h0M153.7 374.2h0M143.6 387.4h0M150.5 388.6h0M157.0 375.5h0M167.3 373.8h0M158.2 383.1h0M140.9 387.1h0M141.8 391.1h0M141.0 389.8h0M155.3 378.3h0M149.3 385.3h0M157.2 381.4h0M148.6 389.9h0M156.4 385.2h0M157.9 372.6h0M163.5 376.4h0M162.3 374.8h0M148.0 374.7h0M149.3 390.4h0M154.1 383.6h0M136.8 384.5h0M149.2 389.8h0M147.3 379.4h0M158.4 365.0h0M145.9 384.7h0M156.3 378.7h0M157.9 378.2h0M152.5 379.4h0M153.2 386.1h0M161.7 384.7h0M164.8 370.7h0M149.5 387.7h0M163.1 374.5h0M142.6 390.4h0M152.4 363.3h0M154.6 383.7h0M150.0 395.0h0M132.9 382.9h0M168.1 372.1h0M156.9 385.3h0M152.4 383.7h0M155.5 375.2h0M165.3 376.7h0M161.6 375.1h0M144.2 395.8h0M157.5 386.8h0M150.5 384.1h0M163.6 369.9h0M160.4 375.8h0M145.8 377.7h0M148.9 381.2h0M156.5 383.9h0M142.1 391.3h0M151.2 378.7h0M149.6 384.5h0M145.2 399.1h0M146.1 382.8h0M166.6 370.4h0M144.4 380.7h0M161.4 380.4h0M147.3 376.3h0M164.8 374.9h0M171.9 378.0h0M142.7 393.9h0M162.0 382.7h0M149.9 397.8h0M167.9 372.2h0M169.3 378.7h0M153.6 385.0h0M148.1 382.1h0M154.8 389.3h0M144.8 389.6h0M151.3 383.2h0M152.8 367.5h0M160.6 368.6h0M160.9 368.4h0M157.9 376.1h0M158.7 380.8h0M155.4 386.6h0M149.6 376.8h0M156.5 379.4h0M153.7 392.8h0M168.5 386.9h0M149.6 389.2h0M144.0 378.8h0M147.4 386.1h0M146.8 387.3h0M168.9 378.1h0M165.8 370.3h0M133.3 380.8h0M144.4 383.2h0M172.9 382.9h0M185.0 344.0h0M170.8 378.1h0M179.6 343.6h0M181.2 373.9h0M174.9 367.6h0M170.2 373.7h0M182.3 359.3h0M187.7 354.5h0M187.8 352.1h0M167.5 367.1h0M183.4 349.0h0M184.2 362.0h0M184.6 357.7h0M174.9 373.1h0M169.7 380.5h0M170.0 378.8h0M188.8 353.3h0M179.4 342.0h0M191.8 355.1h0M191.0 346.6h0M196.8 355.1h0M194.8 361.5h0M187.3 354.6h0M182.3 359.8h0M165.5 378.1h0M176.4 357.6h0M184.2 348.8h0M180.3 368.2h0M177.6 373.8h0M172.7 372.7h0M177.7 382.5h0M176.5 374.4h0M188.8 360.6h0M176.3 364.1h0M189.3 347.7h0M188.1 363.9h0M189.1 352.5h0M173.4 373.7h0M174.6 362.2h0M182.6 368.5h0M181.8 352.0h0M181.6 352.7h0M183.0 367.6h0M174.3 367.7h0M193.3 347.6h0M198.6 354.9h0M189.9 379.1h0M177.2 347.3h0M176.9 364.7h0M160.9 373.2h0M187.4 346.7h0M178.4 355.0h0M190.9 367.1h0M180.0 356.1h0M160.3 363.1h0M186.2 348.5h0M173.2 345.2h0M180.4 377.5h0M186.8 346.4h0M167.5 365.0h0M201.9 353.6h0M185.4 356.9h0M182.5 362.8h0M160.8 374.4h0M195.0 352.1h0M185.4 357.3h0M184.2 346.8h0M170.1 370.5h0M179.9 376.5h0M164.3 376.9h0M178.8 354.9h0M154.2 364.4h0M174.8 363.5h0M180.5 379.1h0M168.1 355.4h0M183.5 353.3h0M171.6 371.3h0M180.6 358.5h0M164.9 370.6h0M171.9 367.6h0M189.4 357.2h0M173.6 365.4h0M179.0 340.6h0M185.5 362.7h0M177.5 358.8h0M171.4 372.4h0M191.8 353.6h0M182.1 343.6h0M174.5 368.1h0M160.4 344.7h0M187.0 358.6h0M167.5 361.0h0M186.3 343.8h0M171.0 372.9h0M169.9 361.1h0M165.7 376.5h0M176.8 373.1h0M184.5 359.6h0M182.1 362.5h0M175.0 357.6h0M169.3 367.7h0M187.9 355.0h0M166.6 374.8h0M193.3 353.3h0M189.1 345.7h0M181.2 359.2h0M164.2 376.3h0M183.1 347.7h0M184.9 352.5h0M168.2 380.4h0M193.0 360.3h0M171.4 355.9h0M166.0 365.2h0M170.4 363.7h0M181.6 349.2h0M185.4 345.3h0M169.2 366.3h0M173.8 353.8h0M167.2 378.7h0M172.4 363.2h0M191.9 346.6h0M188.8 355.5h0M181.0 354.3h0M183.1 354.0h0M191.3 360.0h0M175.2 354.7h0M170.1 368.0h0M166.5 362.3h0M169.9 370.9h0M171.9 380.3h0M186.9 348.1h0M189.5 349.6h0M173.9 372.7h0M166.3 378.9h0M190.8 360.8h0M160.4 365.4h0M181.6 352.6h0M182.2 355.1h0M165.4 371.5h0M174.0 346.7h0M186.3 356.0h0M182.8 351.0h0M181.3 343.0h0M170.3 346.8h0M174.7 367.4h0M159.2 355.4h0M159.9 364.2h0M179.1 373.6h0M182.2 366.0h0M173.2 359.1h0M184.0 362.0h0M165.3 369.9h0M178.1 361.2h0M172.8 357.8h0M187.8 353.3h0M155.0 358.0h0M171.3 363.6h0M172.4 361.6h0M178.0 346.8h0M187.9 348.8h0M183.9 367.6h0M173.7 360.6h0M168.8 366.2h0M166.0 365.9h0M174.4 369.5h0M184.8 343.3h0M163.5 371.8h0M174.4 351.8h0M161.1 372.7h0M182.4 359.4h0M174.1 349.8h0M170.2 363.4h0M187.3 354.9h0M176.5 347.6h0M170.3 366.6h0M197.1 351.3h0M174.4 369.0h0M193.0 357.2h0M181.3 352.5h0M176.6 376.1h0M186.4 348.4h0M160.7 373.4h0M177.3 378.4h0M160.5 374.1h0M195.0 355.5h0M159.2 363.7h0M177.2 347.2h0M176.5 353.3h0M171.9 368.8h0M175.9 356.7h0M180.0 376.4h0M182.8 358.8h0M196.2 355.3h0M175.1 338.8h0M175.0 378.4h0M173.3 363.7h0M172.0 380.5h0M165.4 359.4h0M170.2 358.6h0M183.5 343.6h0M177.0 343.1h0M174.3 366.5h0M165.0 362.9h0M181.2 355.1h0M180.9 352.6h0M203.4 357.1h0M178.6 366.0h0M183.0 342.8h0M185.5 359.2h0M173.3 368.5h0M182.2 373.4h0M162.0 374.5h0M196.0 363.0h0M159.8 367.0h0M168.6 371.6h0M194.4 357.2h0M183.2 350.5h0M175.0 364.4h0M196.1 355.7h0M195.8 362.9h0M205.0 360.9h0M183.0 355.5h0M171.3 376.7h0M167.1 338.4h0M163.5 367.7h0M171.6 364.1h0M195.9 361.3h0M178.3 349.9h0M174.9 364.7h0M165.6 372.5h0M170.3 353.6h0M192.6 353.3h0M173.8 379.1h0M166.9 366.1h0M180.8 344.2h0M166.6 367.4h0M176.8 371.5h0M178.6 352.9h0M189.9 355.7h0M162.5 372.1h0M169.2 359.6h0M177.4 364.3h0M185.8 356.1h0M172.9 367.0h0M184.8 360.0h0M181.4 353.7h0M175.0 362.5h0M179.8 367.5h0M184.0 371.3h0M181.6 346.3h0M186.9 349.1h0M162.8 373.3h0M172.2 377.8h0M176.2 353.0h0M201.7 358.1h0M168.7 378.8h0M191.2 360.8h0M161.3 363.1h0M203.7 358.3h0M169.1 362.0h0M165.8 344.1h0M182.7 369.5h0M178.6 352.9h0M190.4 349.9h0M167.3 376.4h0M181.3 375.9h0M172.2 364.4h0M173.4 352.8h0M176.1 368.3h0M188.1 347.0h0M178.0 355.9h0M186.1 344.8h0M168.1 377.8h0M173.0 355.8h0M187.6 359.3h0M169.3 358.4h0M174.0 354.9h0M179.0 361.5h0M186.5 359.0h0M190.1 347.8h0M177.4 363.7h0M191.8 348.9h0M177.3 355.1h0M167.3 376.0h0M186.5 344.8h0M171.6 364.4h0M172.8 378.0h0M174.1 366.2h0M178.1 363.4h0M186.2 350.4h0M160.1 367.9h0M176.1 362.5h0M193.9 353.7h0M162.9 366.2h0M174.5 362.0h0M177.6 384.0h0M163.6 365.6h0M175.0 340.1h0M175.9 370.1h0M171.9 380.4h0M165.3 376.1h0M164.5 366.0h0M199.3 353.3h0M173.9 370.4h0M191.9 346.6h0M180.3 364.8h0M181.6 363.7h0M170.3 349.1h0M173.8 361.2h0M182.7 347.3h0M159.5 368.7h0M170.6 365.6h0M199.1 358.2h0M181.1 353.4h0M162.1 375.0h0M161.9 371.6h0M191.5 346.1h0M163.3 371.7h0M165.7 368.9h0M188.4 353.1h0M170.7 356.9h0M159.5 367.7h0M181.1 343.7h0M186.9 351.6h0M184.3 344.3h0M167.6 375.3h0M190.4 360.0h0M173.6 351.0h0M168.5 359.5h0M164.0 375.0h0M190.8 359.9h0M163.6 355.6h0M176.6 354.5h0M174.5 360.1h0M175.8 366.6h0M182.6 340.2h0M181.1 355.6h0M166.2 366.9h0M179.6 361.5h0M180.6 363.2h0M164.0 358.2h0M193.3 351.0h0M175.0 380.0h0M169.6 383.6h0M183.5 380.7h0M173.7 380.8h0M178.3 379.5h0M184.2 369.5h0M185.9 361.1h0M184.9 379.3h0M193.8 369.0h0M188.5 364.6h0M169.5 380.9h0M170.6 377.5h0M172.0 384.3h0M195.1 365.6h0M191.5 355.1h0M184.6 370.3h0M184.7 368.1h0M193.1 363.3h0M173.9 366.7h0M173.3 384.7h0M184.2 346.7h0M199.7 362.2h0M196.0 356.5h0M176.0 373.7h0M178.4 371.2h0M197.1 357.5h0M192.2 362.7h0M183.4 355.3h0M178.2 380.8h0M185.9 383.7h0M181.8 377.9h0M182.6 362.6h0M179.8 377.9h0M176.9 383.5h0M177.0 372.0h0M192.1 373.2h0M182.8 376.7h0M180.4 375.7h0M191.6 363.1h0M190.4 365.5h0M189.5 354.8h0M175.4 367.9h0M178.4 375.2h0M183.3 370.3h0M197.3 355.2h0M193.4 358.5h0M194.2 355.9h0M178.9 384.6h0M170.9 384.5h0M198.4 366.7h0M177.0 383.0h0M194.8 360.4h0M190.0 364.1h0M187.1 366.0h0M184.4 366.3h0M196.3 360.4h0M182.5 358.1h0M188.1 356.1h0M187.1 366.3h0M193.9 360.2h0M195.9 361.0h0M183.5 382.5h0M201.4 357.5h0M180.3 385.6h0M187.8 368.4h0M185.1 362.4h0M172.1 380.9h0M169.8 366.1h0M186.6 371.5h0M185.4 362.8h0M184.4 360.8h0M175.7 383.2h0M185.7 374.2h0M181.3 377.5h0M172.9 383.8h0M191.9 362.7h0M179.4 378.3h0M176.9 369.7h0M190.9 361.6h0M195.0 355.6h0M186.3 377.0h0M170.0 375.1h0M175.2 377.1h0M180.0 383.8h0M199.1 354.8h0M196.0 371.1h0M184.8 384.6h0M174.8 365.2h0M187.9 353.1h0M186.2 378.8h0M191.3 358.3h0M175.8 373.1h0M192.3 350.1h0M192.0 357.4h0M189.3 361.9h0M184.5 389.0h0M189.8 354.8h0M170.6 379.8h0M188.4 358.1h0M195.5 359.2h0M174.6 387.8h0M191.4 349.9h0M194.4 358.0h0M174.5 378.3h0M186.0 378.9h0M186.4 358.7h0M188.9 370.4h0M189.1 379.3h0M178.3 376.3h0M183.8 366.5h0M174.7 380.0h0M176.5 367.9h0M182.1 365.4h0M183.7 369.2h0M180.5 376.3h0M190.4 360.2h0M193.0 356.1h0M198.1 360.3h0M175.3 371.7h0M176.1 375.7h0M176.8 387.0h0M174.4 377.9h0M167.2 379.1h0M177.2 381.0h0M191.6 376.2h0M174.9 373.2h0M182.5 364.3h0M188.6 367.9h0M183.5 361.8h0M189.1 376.9h0M179.6 362.9h0M189.1 367.2h0M179.8 374.0h0M175.0 371.1h0M183.4 364.3h0M187.0 368.3h0M185.3 361.6h0M184.9 356.2h0M174.3 387.0h0M186.8 365.4h0M169.1 378.6h0M181.2 366.3h0M191.2 351.5h0M176.6 383.8h0M179.3 389.4h0M188.7 375.8h0M189.8 366.8h0M177.4 384.6h0M183.0 378.4h0M181.6 368.1h0M171.2 384.5h0M175.6 385.7h0M193.6 353.7h0M185.5 374.2h0M178.9 387.3h0M175.4 376.0h0M172.5 382.3h0M188.5 364.8h0M187.4 387.6h0M175.1 379.9h0M201.0 362.5h0M193.0 360.1h0M189.7 371.5h0M191.7 373.6h0M182.2 367.7h0M188.3 390.9h0M192.4 359.0h0M190.9 361.5h0M181.6 354.7h0M181.6 363.4h0M172.4 383.7h0M194.2 370.8h0M179.8 386.4h0M179.4 377.2h0M175.0 378.5h0M194.6 377.6h0M170.6 380.7h0M176.3 388.4h0M194.7 369.6h0M188.9 355.6h0M192.7 358.8h0M183.9 375.9h0M170.5 379.6h0M169.7 383.0h0M197.1 354.1h0M167.3 380.2h0M181.1 376.7h0M187.1 362.4h0M176.2 385.5h0M184.6 365.2h0M176.4 372.1h0M178.6 385.8h0M189.0 379.2h0M188.8 367.5h0M176.8 386.2h0M196.5 353.4h0M180.7 384.3h0M187.1 374.8h0M172.0 385.9h0M179.8 370.9h0M171.2 383.6h0M181.5 358.2h0M199.7 356.7h0M188.0 366.6h0M168.0 379.3h0M188.2 367.2h0M180.1 362.0h0M193.3 363.6h0M171.2 373.8h0M198.0 354.7h0M178.7 375.7h0M172.5 382.1h0M183.0 371.7h0M178.3 372.6h0M173.6 381.6h0M175.8 388.9h0M186.1 363.6h0M178.8 387.4h0M190.3 366.9h0M194.5 355.1h0M204.5 360.1h0M180.2 373.0h0M188.2 363.7h0M194.7 362.0h0M171.7 347.6h0M169.2 350.2h0M172.9 355.9h0M177.1 352.4h0M179.3 339.7h0M170.3 351.7h0M178.5 346.0h0M178.3 337.6h0M175.2 340.0h0M175.3 353.8h0M175.5 342.7h0M185.1 344.9h0M184.6 345.9h0M168.1 352.6h0M174.7 347.5h0M177.5 352.8h0M183.2 344.5h0M183.9 347.1h0M175.5 350.5h0M182.7 343.4h0M171.6 349.2h0M169.7 353.4h0M181.0 344.8h0M175.9 346.9h0M172.3 353.2h0M173.8 353.0h0M175.9 351.4h0M174.7 345.0h0M176.8 347.8h0M168.2 351.4h0M173.2 356.6h0M185.1 351.1h0M179.1 338.3h0M174.3 350.3h0M172.6 355.1h0M178.2 345.0h0M179.8 344.9h0M179.4 341.7h0M172.9 348.6h0M171.1 354.2h0M189.1 350.0h0M173.2 353.0h0M172.6 352.1h0M177.5 351.7h0M184.8 347.8h0M177.4 341.7h0M179.7 340.0h0M175.7 339.4h0M161.9 347.1h0M171.8 345.1h0M172.0 352.8h0M172.8 345.5h0M179.6 343.3h0M178.2 349.9h0M181.0 342.6h0M178.8 347.7h0M175.4 338.3h0M179.9 341.6h0M177.0 349.8h0M172.9 344.8h0M181.3 341.0h0M172.7 355.6h0M176.8 351.2h0M176.8 351.6h0M173.5 352.3h0M176.0 346.0h0M175.7 359.2h0M176.4 342.5h0M177.1 355.0h0M182.7 342.4h0M183.2 343.7h0M179.5 345.8h0M192.0 388.9h0M188.0 384.6h0M192.9 390.6h0M215.6 354.6h0M199.6 377.2h0M213.6 361.3h0M216.1 353.0h0M201.5 369.3h0M216.9 357.7h0M193.4 382.2h0M218.8 350.0h0M193.5 374.7h0M202.4 373.3h0M196.7 378.0h0M206.7 381.4h0M212.6 352.1h0M207.7 365.3h0M188.3 384.3h0M208.4 367.4h0M212.6 352.3h0M199.8 376.9h0M214.2 358.0h0M197.1 389.5h0M202.5 365.3h0M218.0 349.5h0M211.4 370.7h0M192.7 377.3h0M220.7 356.8h0M214.0 359.8h0M197.5 369.8h0M199.7 372.2h0M187.7 385.3h0M220.8 352.1h0M200.1 377.5h0M214.1 365.0h0M206.2 364.7h0M215.0 362.9h0M218.1 354.0h0M190.8 389.0h0M193.8 384.8h0M220.2 349.4h0M203.0 371.2h0M207.7 367.3h0M211.7 367.0h0M205.2 367.1h0M196.7 377.0h0M200.9 365.4h0M204.9 376.3h0M191.0 392.0h0M221.9 350.1h0M202.1 377.7h0M215.7 360.6h0M206.4 365.0h0M190.4 387.3h0M217.5 348.7h0M210.0 362.6h0M213.7 353.4h0M212.8 362.1h0M202.9 366.2h0M201.0 376.6h0M209.0 368.1h0M204.8 371.2h0M188.9 391.1h0M192.6 381.5h0M215.0 358.9h0M198.2 372.9h0M195.1 384.0h0M194.1 368.2h0M189.5 386.3h0M207.7 364.0h0M200.5 376.7h0M202.8 378.4h0M214.2 351.6h0M218.8 359.3h0M222.4 351.2h0M197.4 376.4h0M201.2 367.1h0M199.3 382.1h0M208.5 359.5h0M189.3 388.7h0M209.2 361.2h0M189.4 388.3h0M219.8 355.0h0M197.7 377.5h0M210.1 365.0h0M197.7 386.4h0M204.3 377.6h0M219.4 359.2h0M186.9 390.3h0M208.0 359.3h0M193.0 375.2h0M223.0 359.3h0M205.2 366.4h0M197.0 366.4h0M204.7 360.9h0M204.3 372.8h0M201.5 361.4h0M197.2 374.3h0M208.1 373.1h0M193.0 383.9h0M206.5 370.9h0M205.5 374.6h0M208.4 367.2h0M191.6 382.2h0M196.0 381.2h0M218.5 358.0h0M217.5 347.5h0M186.5 388.2h0M197.0 368.5h0M200.8 369.3h0M189.0 389.1h0M198.4 381.7h0M193.2 382.1h0M219.5 350.8h0M194.8 375.9h0M189.8 387.6h0M192.8 385.3h0M186.8 388.8h0M196.1 382.9h0M220.7 356.8h0M204.5 372.6h0M213.3 364.9h0M207.1 368.4h0M209.3 359.0h0M183.1 382.8h0M215.8 353.3h0M190.1 380.3h0M198.9 371.2h0M207.5 365.8h0M215.4 355.7h0M214.9 360.3h0M188.3 385.9h0M189.6 382.7h0M211.7 358.7h0M184.9 382.0h0M210.6 364.7h0M197.6 383.3h0M196.1 374.1h0M213.2 353.1h0M191.3 381.8h0M203.3 369.0h0M194.3 384.0h0M214.4 353.6h0M198.1 378.0h0M219.0 348.0h0M212.2 358.7h0M213.2 356.8h0M197.6 387.9h0M202.4 372.0h0M207.8 372.0h0M215.7 359.1h0M214.8 361.5h0M206.6 372.0h0M205.7 366.2h0M218.9 354.4h0M197.9 375.8h0M190.0 390.3h0M211.4 361.1h0M198.2 369.3h0M219.6 349.2h0M208.8 362.8h0M220.7 349.9h0M205.3 375.0h0M209.2 357.1h0M201.0 363.6h0M214.1 363.6h0M189.5 385.0h0M203.3 370.7h0M190.3 383.7h0M193.7 382.7h0M192.2 386.8h0M204.6 369.3h0M204.3 370.5h0M192.5 380.0h0M210.5 370.1h0M209.5 356.3h0M193.0 390.5h0M202.9 370.2h0M190.4 385.9h0M214.1 356.0h0M196.4 373.7h0M210.8 358.5h0M197.2 368.8h0M205.8 366.6h0M193.0 389.5h0M207.3 364.7h0M197.6 375.6h0M207.5 359.7h0M199.6 373.0h0M190.2 387.0h0M187.4 384.8h0M196.5 375.6h0M213.3 354.8h0M197.9 379.2h0M222.5 352.8h0M203.7 369.8h0M210.9 355.6h0M216.5 349.7h0M195.0 384.6h0M192.6 368.7h0M211.4 357.8h0M220.9 350.4h0M206.6 364.6h0M200.2 379.6h0M187.3 389.5h0M201.5 365.4h0M208.2 366.9h0M191.2 383.8h0M188.3 384.9h0M212.5 366.6h0M188.4 386.2h0M198.6 368.6h0M200.5 375.7h0M200.0 374.5h0M208.8 354.0h0M189.9 386.8h0M218.5 357.0h0M196.1 383.1h0M219.3 360.0h0M214.6 354.9h0M192.5 377.8h0M206.5 362.2h0M204.4 365.7h0M190.0 380.2h0M212.1 360.4h0M214.2 356.5h0M215.4 356.2h0M216.7 362.1h0M188.4 382.5h0M196.2 387.5h0M193.7 392.5h0M217.0 364.5h0M182.4 385.8h0M209.5 363.2h0M161.7 421.3h0M173.1 405.5h0M170.0 413.5h0M165.2 412.8h0M166.8 406.9h0M160.8 415.2h0M164.4 405.5h0M166.4 403.6h0M170.4 407.5h0M170.6 404.8h0M163.7 410.9h0M170.5 405.1h0M167.7 406.0h0M169.4 408.6h0M166.5 411.0h0M164.4 419.5h0M171.8 405.7h0M172.0 404.7h0M163.3 423.1h0M167.4 405.7h0M174.3 406.7h0M166.2 405.5h0M165.9 415.5h0M171.0 417.2h0M159.8 419.9h0M156.9 418.1h0M171.8 411.3h0M157.9 415.7h0M173.8 407.8h0M161.3 416.2h0M161.1 417.5h0M172.2 405.3h0M167.1 408.5h0M165.4 416.5h0M164.0 417.1h0M157.0 418.0h0M163.2 420.1h0M169.0 400.3h0M167.7 404.8h0M168.3 406.9h0M169.5 404.7h0M155.0 413.5h0M172.7 411.7h0M164.0 417.8h0M157.4 416.5h0M163.4 408.1h0M162.2 421.5h0M165.6 411.3h0M162.1 419.3h0M160.8 417.0h0M161.3 409.2h0M160.2 420.3h0M162.7 415.3h0M170.8 406.4h0M175.9 410.0h0M154.9 415.3h0M167.4 409.5h0M176.0 409.5h0M164.6 413.1h0M161.9 412.2h0M156.7 414.7h0M163.0 424.1h0M161.1 417.9h0M163.7 403.4h0M161.8 417.1h0M159.8 416.7h0M159.4 420.2h0M160.4 409.0h0M169.6 408.2h0M170.6 406.9h0M176.2 408.9h0M170.8 404.2h0M163.2 418.9h0M168.6 404.3h0M159.0 415.2h0M172.8 405.3h0M171.7 406.5h0M174.0 409.7h0M171.6 406.0h0M173.2 410.1h0M161.8 419.7h0M155.8 412.2h0M166.3 414.1h0M175.2 411.1h0M168.5 408.4h0M172.1 405.7h0M165.5 412.3h0M158.3 413.5h0M169.3 401.8h0M155.4 408.5h0M165.6 406.8h0M162.3 416.4h0M166.3 406.3h0M160.6 412.3h0M163.9 398.9h0M165.3 409.4h0M166.7 411.4h0M161.8 415.6h0M161.2 412.0h0M181.4 404.8h0M174.4 400.6h0M173.2 405.2h0M186.4 404.7h0M183.7 399.9h0M182.0 399.4h0M194.0 403.9h0M177.4 399.7h0M193.1 399.1h0M173.8 403.7h0M178.6 404.9h0M183.9 398.4h0M178.5 405.6h0M191.3 402.8h0M187.0 400.5h0M179.5 401.6h0M193.5 402.2h0M182.5 399.5h0M191.3 404.2h0M190.6 408.6h0M185.2 396.6h0M192.5 400.8h0M181.4 398.9h0M190.7 399.2h0M181.6 399.7h0M193.0 400.0h0M193.1 399.2h0M175.8 399.9h0M174.3 406.2h0M186.8 404.3h0M191.8 400.3h0M193.6 406.0h0M189.1 398.6h0M182.1 399.6h0M188.6 394.6h0M191.0 401.9h0M188.0 401.6h0M174.4 407.9h0M176.3 405.0h0M181.1 403.0h0M176.5 400.8h0M177.2 405.6h0M177.0 405.0h0M193.1 398.8h0M180.0 396.6h0M174.2 401.2h0M191.3 398.1h0M178.9 402.9h0M188.4 395.9h0M192.0 404.1h0M189.7 396.0h0M188.0 396.4h0M191.2 400.4h0M192.8 398.7h0M192.4 395.2h0M191.1 402.0h0M190.5 404.4h0M178.8 406.4h0M187.0 398.1h0M180.0 408.0h0M174.0 400.9h0M175.7 404.4h0M194.1 403.4h0M189.3 398.7h0M185.2 398.3h0M177.1 405.6h0M173.4 405.6h0M183.7 397.5h0M182.0 402.1h0M185.7 395.1h0M188.8 401.6h0M190.2 393.8h0M183.0 400.5h0M181.9 407.2h0M175.9 409.7h0M174.1 407.4h0M190.3 392.0h0M180.8 403.4h0M182.4 399.6h0M186.0 402.1h0M179.6 400.7h0M188.8 400.2h0M172.9 403.6h0M172.7 401.7h0M183.6 404.2h0M173.5 401.6h0M180.0 400.4h0M171.7 393.0h0M185.1 404.0h0M190.9 401.3h0M185.3 398.7h0M186.9 398.1h0M183.6 394.3h0M183.1 398.9h0M179.4 401.9h0M192.8 402.2h0M183.0 408.6h0M189.1 401.8h0M190.1 398.0h0M187.8 423.6h0M207.2 425.9h0M194.4 428.8h0M189.1 425.2h0M202.0 420.1h0M198.4 425.6h0M189.7 428.8h0M194.6 427.3h0M205.5 422.2h0M200.9 419.4h0M198.1 422.6h0M199.8 421.6h0M192.5 427.1h0M193.8 418.7h0M200.3 416.0h0M197.2 417.6h0M197.6 425.8h0M190.5 426.0h0M191.5 425.5h0M189.4 425.6h0M202.6 422.6h0M191.9 431.1h0M194.7 426.5h0M195.2 425.0h0M201.6 423.0h0M197.3 420.7h0M198.9 425.9h0M194.1 424.2h0M189.2 428.5h0M194.7 433.9h0M199.2 423.7h0M197.3 421.3h0M200.5 425.7h0M194.6 427.9h0M196.4 425.9h0M199.0 420.7h0M195.5 424.2h0M185.7 423.1h0M194.2 422.8h0M196.5 421.7h0M195.8 424.1h0M196.5 425.0h0M200.8 425.5h0M193.3 424.2h0M193.3 419.1h0M204.6 425.0h0M197.9 420.4h0M202.4 418.0h0M192.0 429.6h0M204.1 418.3h0M193.4 430.5h0M195.0 430.5h0M198.9 425.9h0M202.2 422.5h0M193.4 424.4h0M193.7 422.9h0M202.4 418.7h0M196.0 421.0h0M201.9 427.7h0M198.0 425.0h0M198.8 426.4h0M202.1 420.0h0M191.7 428.4h0M193.3 425.8h0M203.5 421.3h0M202.9 420.5h0M194.5 428.6h0M193.8 428.2h0M203.1 419.8h0M192.4 422.2h0M200.3 415.2h0M198.2 418.5h0M193.2 428.5h0M195.5 426.9h0M203.5 418.4h0M193.1 428.0h0M201.3 416.5h0M194.3 424.3h0M196.7 423.5h0M191.4 427.4h0M188.0 426.8h0M193.7 431.6h0M190.2 426.9h0M190.0 428.8h0M197.9 433.2h0M202.6 420.1h0M196.7 423.3h0M197.0 432.8h0M197.6 424.4h0M191.5 431.2h0M202.6 422.6h0M199.9 419.0h0M197.1 427.2h0M194.5 424.8h0M194.4 431.5h0M207.0 428.1h0M200.3 428.0h0M195.9 422.6h0M192.7 429.0h0M191.0 429.6h0M198.2 425.1h0M203.7 425.5h0M195.4 427.2h0M201.9 416.1h0M190.8 430.5h0M200.7 419.7h0M192.7 433.1h0M200.5 423.0h0M203.5 420.9h0M207.8 412.6h0M200.4 416.3h0M219.8 397.4h0M211.9 401.4h0M211.1 421.4h0M213.6 404.1h0M203.3 404.0h0M210.7 414.2h0M221.2 399.3h0M203.3 412.8h0M217.7 406.6h0M202.0 413.4h0M207.6 407.4h0M208.7 403.3h0M209.7 403.9h0M209.0 407.6h0M205.5 421.1h0M217.6 406.6h0M221.4 414.4h0M205.6 410.9h0M216.5 400.1h0M212.7 400.0h0M216.1 412.6h0M200.4 411.9h0M220.8 400.3h0M201.2 418.5h0M209.7 413.4h0M219.2 397.0h0M200.7 417.1h0M211.0 405.6h0M213.7 408.2h0M208.3 418.9h0M209.0 410.2h0M220.7 401.1h0M216.9 409.6h0M205.6 419.0h0M213.3 404.6h0M211.5 415.1h0M206.0 417.9h0M205.2 414.8h0M215.3 408.6h0M212.9 408.4h0M214.8 403.6h0M209.8 403.1h0M219.6 399.5h0M215.2 403.4h0M203.5 415.6h0M203.9 419.8h0M216.4 408.7h0M204.0 414.2h0M213.5 403.6h0M212.2 403.9h0M196.3 412.3h0M211.7 415.8h0M221.1 401.7h0M208.1 417.6h0M213.6 411.6h0M213.9 398.9h0M219.6 412.4h0M204.7 411.1h0M207.7 419.7h0M205.8 416.9h0M213.2 409.1h0M208.0 422.2h0M205.3 413.0h0M219.9 412.4h0M219.8 399.6h0M204.8 403.3h0M208.6 417.4h0M223.8 412.4h0M214.4 409.9h0M198.0 413.8h0M207.9 419.8h0M206.4 418.6h0M212.4 401.2h0M218.8 408.5h0M211.4 416.2h0M201.0 417.5h0M212.3 413.9h0M218.3 406.3h0M207.5 424.3h0M208.2 406.0h0M214.7 405.0h0M202.3 413.5h0M219.2 402.1h0M219.6 397.3h0M218.8 406.7h0M220.6 403.0h0M215.8 404.1h0M212.8 413.0h0M206.5 411.9h0M204.8 417.1h0M202.8 418.3h0M201.4 413.8h0M210.6 412.5h0M220.0 407.5h0M210.1 413.2h0M212.5 402.5h0M214.4 392.4h0M205.4 415.1h0M215.9 406.0h0M216.6 404.3h0M206.8 407.7h0M216.7 402.1h0M196.5 412.2h0M216.2 408.8h0M209.6 408.9h0M205.6 420.4h0M205.6 420.2h0M217.2 404.9h0M204.9 412.8h0M216.1 403.9h0M224.8 402.5h0M207.8 405.7h0M213.2 404.8h0M218.0 401.2h0M205.0 413.7h0M216.6 407.0h0M203.7 418.1h0M215.4 400.3h0M220.6 409.0h0M202.4 416.9h0M216.1 404.0h0M205.6 417.6h0M208.8 409.9h0M202.8 405.8h0M222.2 401.1h0M207.9 408.8h0M228.9 409.3h0M207.0 423.4h0M214.2 397.5h0M218.7 401.9h0M215.5 408.9h0M208.0 406.8h0M215.6 401.7h0M211.4 414.8h0M215.5 410.2h0M199.3 415.4h0M199.9 414.9h0M203.9 417.0h0M206.8 419.8h0M208.1 416.2h0M215.4 404.6h0M207.7 412.7h0M210.3 408.0h0M207.4 409.9h0M207.0 423.5h0M221.3 405.3h0M212.1 400.0h0M204.2 416.1h0M222.1 407.6h0M213.6 411.5h0M209.2 410.5h0M209.2 403.2h0M215.4 409.2h0M203.0 420.1h0M210.0 411.3h0M209.3 416.6h0M206.5 421.2h0M223.0 403.5h0M215.8 406.4h0M211.9 408.8h0M222.4 401.1h0M207.9 413.1h0M208.3 415.4h0M208.7 416.7h0M200.8 413.5h0M226.3 408.5h0M219.6 405.8h0M212.0 407.1h0M207.5 413.9h0M217.5 406.3h0M211.1 413.1h0M213.2 415.9h0M210.6 420.0h0M205.2 416.0h0M210.2 421.8h0M198.1 408.8h0M212.5 408.0h0M196.9 368.2h0M196.2 395.5h0M192.0 378.9h0M152.2 424.9h0M149.6 355.6h0M178.4 422.6h0M189.0 371.2h0M153.0 363.0h0M195.9 427.7h0M221.8 421.7h0M221.8 366.5h0M151.6 399.6h0M147.4 386.7h0M210.9 365.8h0M164.1 362.7h0M190.1 395.2h0M168.0 412.0h0M185.7 380.8h0M148.0 381.9h0M173.5 356.7h0M214.6 415.4h0M165.7 359.9h0M206.8 386.0h0M218.2 422.8h0M197.7 371.5h0M187.4 393.7h0M213.1 368.0h0M179.5 373.8h0M207.7 368.3h0M176.9 344.9h0M213.8 356.7h0M222.5 347.6h0M147.4 371.4h0M175.8 420.6h0M221.3 354.0h0M180.3 364.2h0M193.2 360.6h0M167.8 384.7h0M210.9 425.0h0M195.3 405.8h0M163.8 379.0h0M185.1 362.8h0M158.4 343.8h0M193.1 391.2h0M179.6 399.2h0M206.0 365.0h0M196.7 410.6h0M164.7 412.9h0M157.9 364.1h0M167.5 392.7h0M174.6 383.5h0M211.7 355.3h0M199.2 347.4h0M150.7 420.0h0" stroke="#44d044" stroke-width="1.1" stroke-linecap="round" opacity="1" fill="none"/>
<path d="M147.7 388.8h0M164.9 381.2h0M161.8 373.1h0M166.0 370.5h0M154.4 368.9h0M161.3 371.0h0M163.4 382.5h0M164.9 377.5h0M166.5 374.6h0M160.4 374.8h0M160.2 369.4h0M150.4 385.1h0M157.3 381.0h0M141.3 393.1h0M143.3 388.0h0M163.3 382.9h0M152.1 383.4h0M158.1 379.6h0M158.3 372.2h0M154.7 382.9h0M152.5 379.2h0M163.6 367.8h0M143.0 384.7h0M149.7 387.6h0M156.7 384.0h0M148.3 393.3h0M155.0 380.9h0M151.5 384.9h0M147.7 387.2h0M164.7 375.0h0M142.2 391.4h0M137.3 386.1h0M161.1 372.9h0M162.7 374.1h0M164.6 379.5h0M151.3 381.5h0M139.8 390.9h0M150.7 386.2h0M149.1 390.4h0M155.7 380.5h0M165.5 375.7h0M161.0 369.9h0M152.0 381.1h0M161.0 370.5h0M168.0 372.0h0M148.2 385.4h0M153.2 381.6h0M156.8 374.7h0M153.0 401.2h0M169.3 374.7h0M166.8 370.7h0M139.9 386.9h0M161.3 380.8h0M158.9 384.9h0M150.7 386.7h0M154.6 365.6h0M167.6 373.6h0M153.7 374.8h0M147.7 385.6h0M156.3 369.9h0M146.2 383.0h0M153.0 382.4h0M142.6 382.7h0M149.3 377.1h0M141.6 384.9h0M137.1 380.8h0M147.0 388.1h0M162.2 372.7h0M150.5 392.5h0M145.2 399.6h0M150.6 381.7h0M167.2 378.4h0M156.9 381.6h0M146.6 392.6h0M154.9 380.3h0M149.6 381.3h0M147.1 385.9h0M155.0 375.4h0M158.9 374.5h0M142.8 394.5h0M139.8 392.2h0M159.8 386.3h0M139.4 389.1h0M156.5 383.6h0M158.3 368.2h0M141.6 384.1h0M140.2 386.4h0M164.7 377.8h0M153.0 386.4h0M150.5 389.2h0M142.3 393.7h0M190.7 346.6h0M181.5 363.1h0M181.3 363.0h0M184.7 345.6h0M179.7 351.0h0M197.8 352.5h0M190.8 347.5h0M158.6 371.9h0M173.3 368.7h0M183.0 378.1h0M183.0 353.2h0M175.0 350.9h0M180.0 345.5h0M181.5 346.6h0M171.3 345.9h0M182.2 346.3h0M180.1 371.2h0M180.2 353.5h0M178.5 363.9h0M185.8 349.3h0M179.7 381.3h0M161.7 375.5h0M180.3 375.0h0M184.5 357.1h0M160.5 369.5h0M167.7 371.0h0M179.8 366.9h0M166.8 374.2h0M177.2 352.8h0M172.1 382.5h0M180.5 351.9h0M181.2 341.9h0M205.7 361.0h0M175.3 338.4h0M166.2 375.8h0M175.3 333.7h0M184.1 378.7h0M173.7 351.9h0M174.9 353.2h0M175.4 367.8h0M181.5 348.8h0M177.1 351.7h0M184.7 354.3h0M189.8 352.1h0M171.7 376.3h0M180.0 378.2h0M189.2 359.7h0M173.5 359.1h0M179.9 378.1h0M169.1 363.3h0M183.1 363.3h0M168.7 363.0h0M182.2 363.8h0M159.1 366.1h0M182.7 365.9h0M182.3 340.0h0M178.2 351.9h0M176.3 364.8h0M178.1 351.0h0M170.4 381.9h0M192.1 355.1h0M174.8 371.8h0M183.3 359.3h0M180.6 360.2h0M187.1 364.3h0M188.5 355.5h0M179.9 352.3h0M178.0 360.7h0M173.4 362.4h0M167.0 376.5h0M170.8 353.6h0M168.3 370.7h0M181.0 377.5h0M175.2 371.7h0M172.0 370.6h0M173.5 360.2h0M188.8 349.2h0M171.8 365.1h0M163.2 362.1h0M169.6 352.7h0M186.9 353.3h0M181.1 362.7h0M176.0 354.4h0M188.5 344.4h0M175.6 343.7h0M178.7 350.2h0M176.3 356.5h0M191.0 360.7h0M179.3 373.8h0M174.3 368.9h0M187.5 350.9h0M187.9 345.5h0M176.8 366.3h0M178.6 357.4h0M190.0 348.8h0M189.6 346.1h0M168.4 361.7h0M163.9 363.7h0M164.2 375.4h0M182.5 381.6h0M177.1 374.7h0M176.3 354.6h0M175.8 371.1h0M192.1 355.9h0M162.7 366.0h0M177.4 355.1h0M171.8 367.2h0M182.4 346.6h0M182.5 347.9h0M180.2 364.7h0M178.6 352.9h0M175.9 346.6h0M177.5 360.1h0M169.9 371.4h0M184.0 363.8h0M166.4 349.7h0M174.5 355.4h0M182.9 375.1h0M180.3 352.4h0M179.8 362.0h0M178.5 376.6h0M179.4 358.7h0M183.7 374.7h0M183.2 342.5h0M177.0 371.4h0M169.1 363.7h0M174.2 371.6h0M171.0 362.6h0M197.4 361.9h0M184.4 359.6h0M175.0 356.9h0M191.0 347.7h0M165.6 366.3h0M176.2 380.4h0M184.9 368.9h0M174.0 380.8h0M188.6 370.5h0M186.2 377.7h0M175.8 384.2h0M192.3 353.5h0M185.0 353.2h0M175.3 372.7h0M187.4 360.1h0M184.0 375.7h0M196.2 361.0h0M199.9 360.6h0M193.2 366.2h0M186.8 359.1h0M181.8 378.8h0M189.8 357.4h0M191.6 367.0h0M176.2 363.2h0M180.6 378.3h0M198.5 362.8h0M175.4 376.5h0M190.9 372.6h0M172.9 383.7h0M188.0 363.3h0M168.3 382.3h0M179.1 380.9h0M185.9 376.9h0M203.9 358.9h0M199.0 356.9h0M190.1 353.3h0M197.1 353.5h0M190.2 365.5h0M179.7 371.0h0M181.8 369.1h0M192.3 376.0h0M176.8 383.3h0M178.0 379.9h0M182.5 368.6h0M192.5 351.1h0M173.5 381.6h0M195.6 365.6h0M175.3 374.8h0M190.5 367.7h0M191.6 357.9h0M197.2 354.8h0M187.3 361.0h0M191.1 358.9h0M193.1 357.8h0M189.7 357.5h0M185.6 371.6h0M204.0 363.9h0M186.6 358.1h0M188.9 369.7h0M179.5 384.0h0M194.1 371.1h0M193.2 351.5h0M178.0 388.1h0M184.8 379.7h0M176.4 385.2h0M186.1 375.8h0M190.8 355.9h0M173.1 367.0h0M201.3 366.2h0M184.8 364.6h0M173.0 383.0h0M186.7 356.9h0M188.5 354.8h0M186.6 364.4h0M184.3 371.0h0M194.6 358.4h0M200.4 359.3h0M190.1 364.9h0M191.3 365.5h0M175.8 373.7h0M188.6 369.9h0M178.7 376.6h0M169.8 381.9h0M182.4 389.1h0M175.4 377.7h0M183.8 382.3h0M189.6 365.3h0M195.0 361.6h0M196.4 358.5h0M179.7 375.5h0M178.8 383.0h0M189.4 378.1h0M176.4 352.3h0M180.2 340.0h0M171.7 349.4h0M181.7 347.5h0M181.6 343.2h0M173.7 348.6h0M182.4 346.6h0M178.8 344.4h0M176.0 353.9h0M181.4 341.1h0M178.6 348.7h0M181.9 340.1h0M178.8 350.3h0M177.5 350.3h0M182.4 343.9h0M176.6 344.3h0M169.9 353.2h0M178.8 354.0h0M178.6 350.8h0M180.7 343.9h0M179.6 348.0h0M176.2 354.1h0M184.1 343.9h0M174.5 352.0h0M180.1 340.2h0M177.4 338.7h0M171.1 352.3h0M180.5 345.1h0M203.3 366.3h0M191.3 390.4h0M195.4 377.9h0M212.6 356.6h0M215.5 361.8h0M200.9 376.4h0M214.4 360.5h0M200.7 382.0h0M188.3 390.1h0M193.5 381.9h0M220.0 350.5h0M198.2 383.8h0M203.7 372.8h0M199.4 370.0h0M210.6 362.4h0M222.2 349.8h0M197.2 381.0h0M207.8 368.3h0M209.7 363.7h0M190.1 381.4h0M198.3 369.2h0M212.0 363.3h0M201.5 372.5h0M203.5 372.8h0M188.7 382.7h0M191.9 381.0h0M199.7 370.6h0M216.6 359.6h0M187.0 386.4h0M192.0 392.2h0M196.0 368.8h0M215.9 364.3h0M194.4 372.7h0M213.6 359.1h0M205.4 367.5h0M200.1 370.0h0M205.5 367.1h0M195.7 386.0h0M201.6 371.2h0M217.8 350.3h0M219.9 352.8h0M197.2 375.7h0M195.5 386.2h0M186.4 386.4h0M190.0 387.5h0M192.4 386.7h0M196.5 377.6h0M217.8 357.2h0M207.1 360.1h0M210.1 353.6h0M202.8 369.1h0M222.1 354.2h0M199.2 367.7h0M204.9 367.0h0M194.3 375.8h0M209.6 365.2h0M212.3 356.1h0M194.2 388.9h0M193.8 382.0h0M203.7 366.4h0M196.9 383.8h0M212.0 354.6h0M207.8 370.2h0M206.8 359.7h0M189.8 383.4h0M184.5 387.2h0M217.3 357.1h0M204.3 365.5h0M194.6 385.2h0M210.7 366.7h0M220.4 358.1h0M202.1 368.9h0M195.8 371.6h0M188.8 382.2h0M209.3 361.0h0M216.2 355.0h0M213.5 348.8h0M210.3 367.0h0M189.7 386.2h0M207.5 369.7h0M219.2 351.5h0M207.6 368.9h0M215.7 353.7h0M198.4 380.8h0M216.3 355.8h0M208.4 367.0h0M208.2 359.9h0M206.6 367.6h0M210.2 360.9h0M191.2 386.9h0M187.0 388.0h0M161.7 419.6h0M168.2 411.8h0M162.8 421.4h0M166.4 409.3h0M157.6 418.7h0M170.0 406.9h0M163.2 410.8h0M161.8 420.8h0M176.3 409.6h0M164.0 411.5h0M170.5 409.0h0M165.6 411.4h0M166.9 414.1h0M169.5 408.0h0M161.7 403.9h0M172.7 404.8h0M162.3 415.7h0M163.2 408.8h0M161.7 411.4h0M169.0 406.0h0M155.1 416.0h0M154.3 410.0h0M156.7 415.2h0M160.5 413.4h0M169.7 404.1h0M167.9 406.5h0M159.1 419.9h0M159.5 414.3h0M159.7 412.1h0M165.9 409.8h0M169.4 407.9h0M155.3 415.9h0M160.9 416.9h0M161.2 418.3h0M162.7 414.4h0M168.7 403.9h0M161.5 412.8h0M157.4 409.5h0M191.7 401.1h0M174.5 405.4h0M192.7 398.0h0M179.7 405.3h0M179.2 403.9h0M191.0 396.4h0M181.2 403.2h0M187.9 392.0h0M189.9 404.0h0M175.7 405.1h0M176.0 405.0h0M190.7 400.8h0M193.3 404.2h0M181.7 399.4h0M194.4 402.2h0M178.8 398.4h0M192.1 402.0h0M189.0 400.4h0M191.6 401.1h0M174.9 402.7h0M190.8 397.5h0M176.8 406.6h0M178.7 402.2h0M172.2 401.5h0M175.9 407.1h0M174.8 402.9h0M184.5 398.8h0M173.0 401.9h0M187.9 401.6h0M173.7 402.3h0M184.6 406.8h0M180.9 401.8h0M176.2 407.2h0M180.8 407.6h0M186.3 401.0h0M172.9 405.1h0M180.2 407.4h0M180.0 402.5h0M197.1 421.7h0M191.9 431.4h0M204.2 419.5h0M200.8 415.4h0M194.0 418.4h0M191.8 431.4h0M196.3 426.7h0M198.1 429.3h0M203.2 421.7h0M196.2 423.9h0M196.0 423.9h0M199.9 419.4h0M200.7 423.5h0M199.4 418.2h0M193.3 430.5h0M200.9 420.5h0M194.3 429.3h0M196.8 426.2h0M190.3 426.5h0M197.6 425.9h0M206.0 421.4h0M196.7 431.6h0M188.9 428.3h0M189.3 426.7h0M192.8 425.5h0M187.4 423.9h0M196.2 420.9h0M194.2 425.2h0M193.2 429.4h0M196.6 424.7h0M202.2 419.3h0M192.4 426.5h0M198.8 431.0h0M197.9 426.9h0M195.4 426.6h0M195.8 432.8h0M193.3 425.8h0M195.1 435.1h0M193.9 427.3h0M188.4 426.6h0M190.8 430.4h0M201.3 424.7h0M223.2 408.3h0M212.4 401.9h0M214.8 423.3h0M206.7 415.9h0M210.1 410.3h0M210.8 406.5h0M214.6 412.3h0M214.0 417.4h0M225.6 406.2h0M213.8 407.4h0M214.1 410.9h0M201.6 418.2h0M222.2 400.9h0M215.0 410.7h0M218.7 399.9h0M208.2 415.3h0M207.2 406.7h0M211.9 406.5h0M200.0 408.7h0M215.8 409.8h0M204.7 419.9h0M220.9 402.9h0M209.2 411.2h0M205.8 411.4h0M198.8 405.6h0M205.4 418.0h0M206.1 421.6h0M215.1 408.0h0M219.8 400.3h0M218.1 399.4h0M208.0 412.5h0M202.8 410.0h0M213.3 412.5h0M210.4 413.9h0M223.1 409.8h0M214.9 402.4h0M218.6 399.4h0M213.6 410.4h0M209.5 417.1h0M211.7 407.8h0M213.9 404.6h0M224.9 408.8h0M201.7 419.1h0M213.8 409.4h0M218.8 401.4h0M218.7 414.1h0M219.1 401.8h0M216.2 406.7h0M217.1 401.9h0M218.9 400.0h0M218.4 404.5h0M209.9 406.9h0M206.1 422.5h0M214.7 406.0h0M206.6 414.0h0M217.5 397.4h0M204.7 404.8h0M208.4 411.5h0M226.5 412.4h0M202.3 415.0h0M210.3 415.0h0M217.3 398.6h0M219.1 400.8h0M221.3 404.7h0M217.4 402.4h0M212.9 414.9h0M206.1 413.4h0M211.5 407.6h0M209.8 420.3h0M220.4 404.7h0M212.8 364.9h0M179.8 400.6h0M198.1 362.4h0M150.3 425.4h0M210.0 413.6h0M178.4 377.4h0M148.8 397.7h0M210.7 428.5h0M204.2 387.1h0M182.2 377.4h0M188.8 358.7h0M203.3 394.1h0M154.7 390.1h0M147.4 352.5h0M153.3 382.8h0M185.8 348.3h0M177.6 387.2h0M196.5 346.1h0M214.1 405.6h0M153.2 368.6h0M173.7 405.3h0" stroke="#7af07a" stroke-width="0.7" stroke-linecap="round" opacity="0.9" fill="none"/>
<line x1="128.9" y1="350.1" x2="166.9" y2="330.6" stroke="#8a8a8a" stroke-width="0.45"/>
<line x1="166.9" y1="330.6" x2="233.3" y2="345.6" stroke="#8a8a8a" stroke-width="0.45"/>
<line x1="128.9" y1="350.1" x2="183.4" y2="356.1" stroke="#8a8a8a" stroke-width="0.45"/>
<line x1="183.4" y1="356.1" x2="233.3" y2="345.6" stroke="#8a8a8a" stroke-width="0.45"/>
<line x1="128.9" y1="350.1" x2="131.4" y2="422.8" stroke="#8a8a8a" stroke-width="0.45"/>
<line x1="233.3" y1="345.6" x2="233.3" y2="424.8" stroke="#8a8a8a" stroke-width="0.45"/>
<line x1="166.9" y1="330.6" x2="166.9" y2="444.8" stroke="#8a8a8a" stroke-width="0.45"/>
<line x1="131.4" y1="422.8" x2="166.9" y2="444.8" stroke="#8a8a8a" stroke-width="0.45"/>
<line x1="166.9" y1="444.8" x2="233.3" y2="424.8" stroke="#8a8a8a" stroke-width="0.45"/>
<line x1="183.4" y1="356.1" x2="183.4" y2="411.8" stroke="#8a8a8a" stroke-width="0.45"/>
<line x1="131.4" y1="422.8" x2="183.4" y2="411.8" stroke="#8a8a8a" stroke-width="0.45"/>
<line x1="183.4" y1="411.8" x2="233.3" y2="424.8" stroke="#8a8a8a" stroke-width="0.45"/>
<clipPath id="cpb"><rect x="10.8" y="464.6" width="106.8" height="116.2"/></clipPath>
<g clip-path="url(#cpb)"><polygon points="15.5,483.0 48.8,476.0 117.1,481.3 115.4,560.1 50.6,577.6 20.8,563.6 15.5,525.1" fill="#5a1c60" opacity="0.55" filter="url(#b3)"/></g>
<path d="M97.7 516.6h0M61.3 504.2h0M60.1 566.3h0M50.5 508.9h0M96.3 523.3h0M48.9 509.4h0M64.0 533.5h0M50.8 539.3h0M61.8 524.1h0M89.4 504.5h0M83.4 501.7h0M35.5 498.9h0M27.9 521.5h0M60.3 531.9h0M53.0 557.8h0M80.9 519.6h0M64.7 526.9h0M53.3 515.9h0M71.9 524.1h0M71.4 498.4h0M60.9 503.3h0M93.9 533.6h0M60.7 505.6h0M77.4 510.0h0M59.8 509.5h0M88.6 528.7h0M86.8 517.7h0M60.1 511.3h0M61.0 552.0h0M74.6 506.7h0M51.9 522.1h0M74.0 528.4h0M60.6 537.1h0M85.7 513.5h0M82.9 523.3h0M51.9 548.8h0M81.6 523.2h0M81.6 511.6h0M56.3 550.8h0M69.7 523.7h0M90.0 514.1h0M55.4 498.1h0M100.0 555.6h0M61.9 531.0h0M84.3 523.2h0M79.8 535.9h0M27.3 502.9h0M59.3 537.0h0M46.9 515.6h0M49.0 512.8h0M61.8 521.7h0M64.2 506.4h0M77.6 480.6h0M59.2 560.3h0M48.5 509.6h0M31.5 525.6h0M55.5 495.6h0M81.6 558.5h0M44.2 551.1h0M67.1 550.6h0M69.5 532.5h0M89.3 544.6h0M62.1 504.8h0M74.1 496.6h0M100.5 530.3h0M61.6 541.3h0M84.0 533.8h0M72.2 561.8h0M29.7 486.4h0M89.3 526.1h0M74.7 512.5h0M63.6 501.8h0M102.3 511.8h0M101.5 560.3h0M66.9 520.1h0M82.2 540.7h0M91.8 504.9h0M114.0 505.7h0M51.9 487.0h0M28.2 491.4h0M82.1 554.1h0M37.2 506.4h0M74.4 548.8h0M66.9 569.5h0M45.7 550.6h0M70.0 504.5h0M54.0 518.1h0M61.8 540.2h0M98.1 509.2h0M54.5 516.4h0M38.8 537.3h0M80.6 494.4h0M43.0 488.4h0M61.3 516.7h0M85.6 501.0h0M55.5 562.9h0M47.3 503.6h0M54.4 497.4h0M57.0 510.7h0M47.8 560.6h0M96.7 503.7h0M99.5 515.0h0M82.3 559.3h0M89.5 512.6h0M91.1 527.3h0M97.8 513.8h0M80.3 515.9h0M50.8 508.0h0M49.4 506.7h0M73.7 541.2h0M63.7 507.7h0M108.8 504.0h0M73.6 508.8h0M57.6 531.6h0M107.5 500.9h0M70.2 557.0h0M80.1 522.8h0M70.4 536.5h0M85.1 536.3h0M90.5 515.6h0M91.0 539.7h0M108.9 510.9h0M25.3 498.8h0M77.0 552.1h0M82.6 501.8h0M46.9 544.0h0M45.7 511.5h0M49.5 543.8h0M90.3 537.4h0M58.8 561.1h0M67.9 508.3h0M52.4 551.6h0M75.6 521.4h0M98.2 488.7h0M92.8 521.9h0M67.6 516.3h0M38.9 526.7h0M105.1 539.9h0M79.8 511.3h0M65.0 506.0h0M55.2 516.9h0M59.3 512.0h0M62.7 507.7h0M76.1 480.4h0M84.7 531.3h0M87.2 516.4h0M52.1 515.7h0M98.9 522.0h0M73.1 522.8h0M49.8 520.5h0M111.6 542.7h0M59.2 487.8h0M73.0 527.6h0M58.5 539.7h0M110.4 493.5h0M45.7 514.5h0M82.2 541.4h0M35.9 524.3h0M59.1 537.7h0M54.3 513.4h0M37.0 516.8h0M44.1 528.7h0M106.7 560.4h0M85.6 512.7h0M94.7 481.1h0M83.5 515.1h0M56.8 559.1h0M53.9 501.6h0M87.2 534.3h0M61.0 556.7h0M63.7 492.8h0M38.9 507.2h0M54.8 529.7h0M65.0 569.7h0M50.6 503.1h0M79.2 507.3h0M80.4 523.8h0M96.3 484.6h0M50.3 493.0h0M58.4 505.2h0M51.9 564.2h0M58.4 498.0h0M78.7 542.8h0M65.2 510.6h0M81.6 483.8h0M36.8 510.6h0M59.6 512.6h0M59.8 516.5h0M85.0 502.0h0M49.8 490.1h0M45.9 536.8h0M24.4 554.9h0M62.1 487.4h0M67.1 528.4h0M39.1 526.9h0M46.8 490.1h0M55.0 499.3h0M37.1 529.5h0M53.5 531.3h0M101.5 501.8h0M73.6 537.4h0M103.0 512.5h0M85.1 537.2h0M93.4 499.3h0M91.1 558.9h0M82.3 528.8h0M103.3 528.9h0M94.1 528.5h0M50.5 552.0h0M51.9 510.3h0M82.4 496.6h0M100.3 534.6h0M99.6 501.8h0M84.6 541.3h0M43.9 536.6h0M51.7 508.8h0M34.0 542.7h0M61.4 533.4h0M76.6 499.7h0M64.9 527.0h0M85.1 511.3h0M35.8 540.7h0M88.4 503.0h0M67.1 496.3h0M39.4 531.7h0M39.7 500.5h0M77.4 548.6h0M55.1 567.5h0M48.3 514.6h0M68.7 532.6h0M82.0 488.3h0M70.3 528.6h0M66.6 491.1h0M72.0 530.7h0M80.3 526.5h0M35.3 525.8h0M79.6 519.7h0M48.2 560.7h0M55.0 524.7h0M96.2 540.1h0M71.3 491.4h0M92.9 564.1h0M50.8 508.0h0M64.8 509.0h0M87.1 504.3h0M40.1 544.1h0M74.6 496.3h0M63.7 516.9h0M106.0 542.0h0M77.0 524.7h0M40.7 486.4h0M69.1 495.1h0M43.4 500.4h0M57.5 505.5h0M111.8 536.3h0M58.8 482.5h0M78.0 540.4h0M35.0 498.6h0M57.3 535.4h0M72.9 524.2h0M32.1 479.2h0M29.6 526.7h0M77.8 534.1h0M49.0 496.6h0M56.9 531.2h0M54.8 479.6h0M34.5 483.8h0M47.2 554.5h0M77.9 510.4h0M77.7 561.9h0M64.9 501.4h0M77.1 497.8h0M57.8 565.4h0M97.6 517.8h0M74.0 513.0h0M48.7 524.9h0M103.9 524.8h0M73.3 520.9h0M58.0 498.3h0M100.6 559.1h0M42.2 491.7h0M109.2 486.4h0M63.2 550.1h0M70.0 516.1h0M64.9 548.1h0M82.2 499.0h0M100.2 528.7h0M110.0 553.5h0M72.6 517.6h0M77.0 490.2h0M68.6 486.1h0M78.6 536.6h0M56.6 504.8h0M57.9 483.1h0M32.6 500.7h0M38.4 540.4h0M75.0 538.1h0M48.0 538.7h0M89.2 560.0h0M88.9 537.1h0M47.5 530.5h0M49.2 526.5h0M85.2 501.3h0M88.7 487.9h0M69.0 503.9h0M55.8 511.7h0M106.7 527.5h0M49.5 488.6h0M45.0 493.1h0M84.5 514.7h0M54.5 530.0h0M55.7 524.0h0M67.6 516.3h0M42.2 540.4h0M69.6 524.2h0M92.9 541.6h0M71.6 544.2h0M87.0 522.3h0M52.1 511.7h0M59.5 538.0h0M99.5 565.9h0M83.3 525.4h0M28.9 482.7h0M54.0 500.4h0M92.8 535.7h0M83.9 514.0h0M100.8 517.7h0M96.6 500.9h0M81.5 497.7h0M66.1 503.7h0M71.7 506.7h0M53.6 555.5h0M86.2 497.2h0M44.2 506.0h0M76.4 507.2h0M87.4 481.3h0M73.6 517.3h0M66.7 529.8h0M83.6 521.1h0M74.5 532.0h0M89.6 515.4h0M59.5 503.9h0M68.8 484.9h0M85.6 511.5h0M51.4 530.7h0M65.5 516.1h0M74.9 543.7h0M77.4 507.9h0M90.7 545.4h0M65.6 526.7h0M91.6 570.0h0M56.1 498.5h0M79.1 484.9h0M62.3 533.0h0M75.1 487.7h0M71.3 530.7h0M26.9 528.4h0M61.9 530.7h0M107.4 517.5h0M104.6 525.0h0M69.7 519.6h0M92.4 515.5h0M42.6 535.3h0M43.1 523.1h0M48.0 567.3h0M96.8 550.0h0M92.7 496.4h0M59.1 509.9h0M95.7 528.4h0M39.8 502.5h0M88.8 570.9h0M90.9 481.7h0M100.4 534.9h0M59.2 513.1h0M48.4 518.4h0M67.7 563.7h0M53.8 551.7h0M62.5 542.0h0M36.4 537.3h0M70.8 503.6h0M23.2 546.2h0M72.5 554.0h0M62.7 541.8h0M78.8 540.1h0M66.4 526.5h0M89.6 511.5h0M67.3 511.1h0M100.6 498.1h0M85.8 490.3h0M59.3 540.4h0M48.3 519.2h0M51.9 498.8h0M91.2 548.9h0M69.9 508.6h0M62.5 477.6h0M54.9 539.6h0M72.8 479.0h0M89.1 490.9h0M68.3 508.9h0M81.7 560.5h0M100.5 529.2h0M58.7 524.8h0M44.0 502.0h0M54.0 491.9h0M40.1 543.8h0M91.7 512.3h0M96.5 525.9h0M56.8 516.3h0M93.9 483.6h0M82.5 530.1h0M92.3 546.0h0M68.5 502.3h0M53.6 505.8h0M70.3 539.2h0M87.7 548.0h0M83.2 518.2h0M66.0 504.7h0M75.1 480.4h0M101.5 534.3h0M105.4 491.2h0M73.2 533.0h0M72.8 539.4h0M69.9 521.1h0M38.8 498.6h0M106.4 518.8h0M46.9 512.7h0M92.8 516.6h0M101.8 522.1h0M84.3 492.3h0M49.4 547.4h0M88.0 523.6h0M51.7 537.7h0M77.3 517.0h0M55.9 501.5h0M44.5 562.5h0M72.9 531.2h0M82.1 515.6h0M93.9 501.1h0M92.8 541.3h0M45.8 526.5h0M44.6 502.3h0M24.6 545.5h0M81.6 495.5h0M61.3 511.9h0M65.7 511.7h0M60.9 544.8h0M63.2 524.4h0M76.7 508.1h0M111.5 518.0h0M83.7 505.8h0M48.1 571.6h0M84.1 514.4h0M83.2 523.1h0M70.5 556.9h0M42.7 537.8h0M84.2 545.6h0M98.0 508.0h0M55.5 490.8h0M65.6 542.5h0M82.3 511.4h0M95.4 546.2h0M41.7 492.2h0M42.2 531.4h0M75.1 500.0h0M40.6 520.7h0M57.3 486.0h0M58.4 553.7h0M81.4 533.6h0M83.0 510.4h0M71.8 499.4h0M78.6 508.8h0M74.2 507.9h0M84.9 538.3h0M68.9 523.6h0M66.2 495.0h0M85.8 526.8h0M63.1 481.7h0M76.1 559.8h0M15.5 543.1h0M96.8 521.8h0M84.1 552.5h0M59.5 515.3h0M53.1 537.9h0M34.0 536.4h0M98.4 546.7h0M92.0 513.8h0M83.8 506.8h0M87.2 560.7h0M34.8 495.3h0M59.6 521.6h0M70.1 509.3h0M48.6 513.1h0M69.8 489.7h0M70.5 534.7h0M90.6 549.4h0M75.0 511.9h0M75.1 489.8h0M77.6 564.2h0M93.4 569.0h0M89.2 549.3h0M93.3 544.9h0M86.8 519.4h0M63.5 515.6h0M85.1 519.5h0M73.4 554.8h0M59.1 545.7h0M73.5 507.3h0M59.4 507.3h0M37.5 527.4h0M81.9 543.6h0M75.2 496.6h0M58.1 541.5h0M85.8 480.6h0M61.5 539.1h0M71.4 539.4h0M59.0 523.9h0M64.1 542.6h0M35.7 499.6h0M67.7 506.0h0M89.6 522.8h0M38.4 557.9h0M93.1 506.5h0M55.6 505.7h0M85.6 531.7h0M50.9 528.1h0M39.5 498.2h0M40.2 510.0h0M95.2 492.8h0M84.5 522.8h0M51.3 516.3h0M85.6 504.6h0M100.1 532.2h0M95.8 543.3h0M89.7 496.2h0M92.4 540.0h0M51.6 522.4h0M54.6 497.0h0M65.8 512.9h0M57.8 565.0h0M92.0 524.2h0M77.9 557.5h0M72.5 514.6h0M18.0 518.6h0M28.0 522.3h0M15.9 527.4h0M67.9 527.1h0M47.7 485.1h0M48.5 549.1h0M97.9 542.3h0M73.9 501.5h0M82.0 515.1h0M28.5 537.9h0M55.9 546.7h0M53.4 518.9h0M86.3 526.0h0M58.5 519.5h0M62.0 487.1h0M57.8 511.7h0M64.2 522.5h0M32.1 526.3h0M85.9 484.3h0M89.7 520.6h0M113.5 560.2h0M36.4 519.3h0M91.7 501.6h0M92.2 508.6h0M71.8 521.8h0M98.3 528.6h0M76.0 543.6h0M90.3 564.7h0M77.0 494.7h0M63.9 531.6h0M71.1 515.3h0M56.9 525.6h0M90.0 533.8h0M39.4 522.5h0M51.1 489.6h0M58.5 525.6h0M49.4 514.8h0M97.2 501.9h0M77.3 489.9h0M105.7 545.5h0M82.1 500.0h0M42.2 569.6h0M67.4 540.9h0M54.6 522.6h0M61.1 498.8h0M66.4 494.4h0M45.0 513.4h0M96.2 508.0h0M63.1 515.9h0M49.8 536.8h0M63.4 543.0h0M105.3 533.9h0M55.4 505.4h0M47.6 488.9h0M86.1 504.0h0M88.0 510.8h0M51.2 520.1h0M63.3 530.0h0M31.2 516.8h0M86.8 500.0h0M43.4 522.8h0M95.8 514.5h0M109.9 494.5h0M81.4 507.8h0M80.2 517.1h0M85.6 506.5h0M84.6 530.9h0M58.6 478.1h0M89.1 540.2h0M95.3 517.0h0M77.8 524.3h0M99.2 535.8h0M44.3 515.9h0M88.8 533.9h0M64.9 510.5h0M91.9 501.9h0M80.2 500.5h0M112.0 528.6h0M21.3 518.9h0M93.3 524.7h0M79.2 571.0h0M106.4 541.3h0M64.5 507.4h0M36.3 530.2h0M90.1 510.0h0M103.3 517.9h0M37.1 509.5h0M101.5 558.1h0M103.1 553.7h0M37.3 480.6h0M64.6 548.2h0M36.8 497.7h0M79.9 558.5h0M58.6 503.9h0M84.8 479.4h0M64.3 508.4h0M89.6 505.8h0M79.1 507.3h0M76.5 541.9h0M90.4 504.5h0M75.0 526.7h0M57.9 503.4h0M70.2 504.9h0M85.5 570.9h0M68.3 522.3h0M54.6 552.5h0M109.8 487.2h0M57.2 504.4h0M46.2 496.1h0M45.0 521.2h0M78.2 536.9h0M86.2 539.8h0M66.1 520.1h0M86.4 529.5h0M71.5 530.1h0M36.6 490.1h0M20.2 536.9h0M81.8 480.1h0M50.0 548.7h0M94.6 485.7h0M88.7 545.4h0M59.9 560.7h0M51.3 544.1h0M75.7 502.4h0M63.5 553.7h0M105.1 510.1h0M41.7 557.0h0M69.6 509.3h0M37.4 524.1h0M78.8 537.2h0M73.7 511.4h0M38.2 517.2h0M59.5 538.7h0M89.9 521.3h0M101.4 523.5h0M63.8 533.3h0M42.6 514.5h0M85.1 513.5h0M84.9 518.7h0M74.4 485.3h0M104.2 508.5h0M72.3 479.0h0M64.3 496.5h0M58.3 505.4h0M62.2 533.1h0M38.3 533.1h0M83.0 499.5h0M59.0 514.2h0M99.3 527.4h0M107.5 489.6h0M76.6 515.8h0M108.3 508.2h0M68.2 515.8h0M76.7 512.5h0M37.6 524.7h0M59.5 555.7h0M57.3 514.4h0M43.1 508.5h0M43.1 569.4h0M93.7 505.4h0M84.4 511.5h0M50.1 497.1h0M57.3 530.4h0M75.1 526.7h0M105.4 477.0h0M96.0 487.2h0M27.9 491.8h0M31.5 543.4h0M45.0 517.1h0M36.7 542.0h0M65.1 541.9h0M31.8 554.9h0M42.6 542.8h0M43.0 497.3h0M92.4 515.3h0M77.3 507.0h0M65.5 504.3h0M69.7 523.6h0M39.8 482.8h0M71.8 551.7h0M18.6 520.2h0M70.0 504.1h0M58.0 536.6h0M59.5 527.1h0M54.1 526.7h0M80.8 523.1h0M37.2 520.0h0M60.8 484.1h0M89.8 564.3h0M56.5 520.0h0M98.0 550.9h0M83.5 515.7h0M89.7 538.5h0M82.5 525.7h0M87.6 532.7h0M89.4 545.4h0M77.2 536.5h0M43.4 513.7h0M66.8 505.9h0M102.0 497.6h0M56.5 538.4h0M44.0 479.4h0M46.8 514.8h0M53.3 486.1h0M57.9 535.1h0M36.3 550.9h0M48.8 520.6h0M102.8 512.8h0M47.2 498.5h0M59.3 512.0h0M65.4 533.9h0M57.6 511.3h0M98.1 506.9h0M50.3 543.4h0M65.0 498.2h0M113.0 531.5h0M88.5 481.1h0M60.0 532.6h0M84.9 499.1h0M66.3 541.7h0M86.1 499.4h0M50.5 526.2h0M74.0 529.5h0M76.9 532.9h0M62.1 506.9h0M52.2 504.5h0M19.1 540.1h0M60.9 505.5h0M48.5 565.0h0M64.0 540.6h0M64.4 547.7h0M105.2 544.0h0M69.1 520.5h0M61.8 524.3h0M25.9 527.6h0M83.1 520.3h0M82.1 569.0h0M106.9 483.9h0M32.1 485.7h0M81.5 483.1h0M50.8 506.7h0M55.2 519.1h0M85.5 536.3h0M81.1 522.5h0M54.7 534.6h0M93.4 520.8h0M73.3 515.4h0M50.5 507.0h0M72.6 509.3h0M32.0 522.8h0M96.5 542.2h0M99.7 490.4h0M68.2 507.7h0M89.9 507.1h0M75.6 482.9h0M70.3 487.5h0M23.0 534.8h0M81.9 552.0h0M89.3 519.7h0M89.2 510.7h0M47.1 507.8h0M76.7 506.8h0M70.7 529.6h0M75.9 503.3h0M37.8 553.2h0M112.1 516.8h0M70.1 548.8h0M65.0 499.4h0M60.3 557.2h0M51.4 543.3h0M63.9 547.2h0M95.6 543.3h0M35.1 512.2h0M81.2 542.3h0M47.0 536.6h0M50.6 525.4h0M67.6 485.7h0M54.8 544.1h0M96.7 562.9h0M27.4 538.9h0M54.1 522.0h0M90.4 496.0h0M74.5 477.1h0M67.1 537.6h0M84.2 556.2h0M98.8 508.6h0M54.9 516.1h0M38.7 572.0h0M82.5 486.3h0M80.6 486.2h0M66.5 539.5h0M74.6 528.5h0M102.1 561.5h0M84.2 518.2h0M83.3 485.5h0M56.1 535.9h0M91.7 512.1h0M100.8 480.4h0M69.2 515.1h0M79.2 485.2h0M49.9 509.3h0M87.0 516.2h0M29.8 508.9h0M57.5 546.6h0M60.6 496.2h0M94.6 528.2h0M48.9 531.4h0M108.7 533.4h0M72.9 527.4h0M30.1 524.9h0M76.9 537.0h0M29.5 502.0h0M91.8 550.1h0M58.2 499.8h0M34.1 492.8h0M74.4 517.5h0M60.4 548.5h0M32.7 504.6h0M58.2 485.8h0M28.8 488.1h0M44.1 541.4h0M67.1 517.2h0M108.7 532.2h0M64.9 535.0h0M109.7 518.9h0M72.6 513.0h0M83.2 506.6h0M53.4 518.5h0M99.9 516.1h0M38.8 512.8h0M60.6 549.3h0M59.2 518.4h0M86.6 513.6h0M38.6 506.9h0M85.3 518.7h0M70.1 488.1h0M104.1 554.9h0M100.6 543.2h0M62.0 499.4h0M60.6 493.8h0M74.3 480.6h0M96.0 508.1h0M76.8 547.4h0M62.0 523.0h0M49.5 519.1h0M91.6 506.2h0M70.8 488.7h0M44.5 520.3h0M58.5 549.8h0M67.7 487.9h0M93.0 505.2h0M83.3 535.7h0M66.3 564.4h0M88.5 516.8h0M49.2 518.8h0M49.9 492.8h0M46.2 570.4h0M67.1 509.6h0M68.1 510.4h0M47.7 508.1h0M46.8 515.4h0M59.2 509.2h0M42.7 505.6h0M45.3 570.4h0M68.6 486.3h0M66.4 488.3h0M20.1 534.5h0M66.1 501.8h0M86.6 491.6h0M59.4 527.4h0M77.6 532.1h0M107.2 547.5h0M58.3 538.2h0M68.2 542.9h0M59.2 500.7h0M72.7 538.6h0M66.3 531.2h0M22.7 503.2h0M45.0 513.4h0M47.1 494.0h0M55.2 527.6h0M56.8 552.9h0M47.3 526.8h0M57.7 538.1h0M96.1 511.0h0M106.8 515.3h0M110.0 541.4h0M49.4 548.5h0M80.8 528.2h0M18.2 541.5h0M89.1 565.3h0M77.9 498.3h0M112.5 546.4h0M69.6 526.6h0M90.3 529.9h0M57.0 509.0h0M73.2 496.4h0M66.5 556.4h0M108.9 503.0h0M46.9 534.4h0M87.3 497.3h0M31.8 561.9h0M83.8 497.0h0M102.8 510.6h0M59.7 506.5h0M92.7 482.2h0M60.4 526.5h0M20.4 549.5h0M57.4 550.9h0M44.6 512.8h0M59.3 491.1h0M59.2 520.3h0M73.8 569.7h0M88.3 496.4h0M81.6 528.1h0M87.9 539.9h0M60.4 550.5h0M47.9 533.1h0M89.8 556.4h0M64.8 531.8h0M33.0 496.8h0M87.7 565.2h0M75.6 536.4h0M97.5 482.9h0M47.2 508.5h0M71.4 507.2h0M56.0 521.8h0M57.3 500.7h0M55.8 477.5h0M41.7 520.5h0M83.5 516.3h0M51.9 568.1h0M70.2 517.4h0M84.3 567.8h0M88.5 559.1h0M81.1 509.9h0M48.3 533.1h0M109.6 530.0h0M44.0 554.3h0M67.7 534.0h0M40.9 532.4h0M96.4 569.6h0M37.0 546.5h0M96.6 485.6h0M66.0 478.2h0M93.2 491.8h0M94.0 504.2h0M41.5 511.0h0M73.5 518.5h0M87.4 546.9h0M68.0 520.3h0M91.6 554.8h0M70.2 512.3h0M59.4 530.8h0M100.8 524.4h0M70.6 522.3h0M62.6 534.7h0M55.2 492.9h0M62.5 551.5h0M58.9 548.3h0M100.0 535.9h0M89.4 485.9h0M78.8 513.4h0M82.5 507.6h0M108.5 489.5h0M99.5 526.4h0M83.3 515.9h0M56.5 566.4h0M55.6 494.9h0M62.1 544.2h0M85.3 518.8h0M53.8 524.1h0M87.9 551.2h0M40.1 564.7h0M33.6 493.7h0M79.6 500.1h0M57.2 512.4h0M74.6 568.5h0M101.0 485.7h0M51.1 522.7h0M46.7 515.1h0M109.2 482.8h0M53.2 525.9h0M78.7 501.3h0M88.8 525.6h0M57.4 544.5h0M84.9 556.6h0M87.2 528.4h0M43.7 534.4h0M83.6 508.8h0M48.6 509.9h0M66.7 555.2h0M73.7 520.2h0M63.6 501.9h0M63.0 484.2h0M93.9 499.7h0M52.7 480.3h0M79.2 505.2h0M68.6 488.9h0M67.2 540.6h0M58.7 508.7h0M86.3 567.9h0M42.6 516.6h0M64.4 519.4h0M94.6 504.7h0M21.0 535.5h0M44.2 477.6h0M67.0 538.5h0M80.6 528.5h0M101.0 493.7h0M71.5 563.9h0M36.2 544.6h0M57.2 519.9h0M85.9 499.9h0M52.2 495.3h0M59.2 509.7h0M69.5 484.2h0M70.3 536.6h0M58.3 495.5h0M49.2 485.0h0M81.9 529.8h0M62.4 515.8h0M60.6 565.9h0M74.4 539.0h0M70.1 503.0h0M47.4 527.5h0M40.2 521.5h0M79.7 540.5h0M81.9 501.1h0M88.4 564.5h0M65.9 513.2h0M47.7 497.2h0M89.2 552.5h0M78.2 505.4h0M76.2 483.6h0M81.9 543.1h0M22.3 504.8h0M76.6 520.5h0M23.3 539.2h0M53.5 549.1h0M76.6 522.3h0M62.1 529.4h0M29.2 484.1h0M93.4 505.8h0M52.5 550.4h0M62.1 506.7h0M87.3 502.5h0M59.1 517.8h0M64.4 531.3h0M34.8 533.8h0M78.3 482.0h0M81.0 527.7h0M90.2 518.8h0M39.4 516.0h0M57.8 533.1h0M68.5 515.4h0M80.1 541.2h0M49.6 527.7h0M75.2 478.9h0M53.5 477.3h0M94.2 496.1h0M59.4 557.5h0M55.3 528.0h0M76.5 569.9h0M85.5 554.3h0M66.7 512.6h0M36.3 525.3h0M91.4 530.7h0M61.7 553.2h0M79.7 499.0h0M77.3 494.4h0M69.3 510.1h0M36.5 504.1h0M108.6 543.9h0M76.0 543.9h0M76.0 515.3h0M27.2 506.7h0M61.8 493.5h0M64.7 526.4h0M91.4 538.5h0M64.3 520.6h0M64.4 548.3h0M62.0 490.6h0M60.4 527.2h0M63.9 530.0h0M71.5 494.7h0M70.6 546.0h0M40.2 536.3h0M55.1 533.3h0M29.6 526.5h0M67.8 561.9h0M108.2 536.6h0M93.4 505.6h0M106.7 540.8h0M74.7 520.4h0M70.5 511.3h0M94.7 553.4h0M73.0 513.2h0M101.7 526.9h0M70.5 539.8h0M64.7 517.1h0M44.5 517.8h0M71.7 482.1h0M86.5 525.1h0M80.1 542.5h0M84.3 563.0h0M106.0 480.0h0M86.5 523.5h0M96.0 527.9h0M69.6 514.0h0M65.3 498.7h0M69.5 568.4h0M60.3 531.1h0M45.6 530.2h0M97.9 555.0h0M28.1 488.5h0M45.0 551.1h0M72.4 481.1h0M89.3 547.2h0M60.3 569.3h0M94.9 513.9h0M60.8 516.1h0M84.0 523.5h0M72.4 530.2h0M72.2 552.5h0M62.6 548.0h0M111.3 528.0h0M75.0 513.5h0M82.0 523.0h0M58.5 522.4h0M110.2 527.1h0M57.6 554.8h0M74.3 505.9h0M38.9 503.2h0M54.6 537.1h0M63.2 538.7h0M83.7 548.9h0M66.7 559.1h0M44.0 487.6h0M65.4 547.9h0M50.9 510.3h0M26.2 544.6h0M48.6 543.6h0M75.6 515.9h0M50.3 490.7h0M79.3 513.5h0M57.6 496.4h0M90.3 537.0h0M83.2 552.3h0M82.7 501.5h0M69.9 505.4h0M85.3 506.2h0M50.0 510.5h0M99.6 509.1h0M74.3 510.6h0M49.1 515.6h0M100.6 527.5h0M58.1 529.7h0M100.7 541.3h0M74.1 543.1h0M70.0 530.1h0M64.1 501.5h0M28.7 535.4h0M81.1 515.4h0M60.5 489.0h0M82.2 498.4h0M90.4 533.2h0M88.9 518.8h0M48.2 509.6h0M61.6 558.6h0M50.3 496.7h0M66.8 537.3h0M43.0 551.6h0M19.4 503.4h0M58.9 547.1h0M66.0 482.6h0M63.2 557.1h0M46.3 509.1h0M58.1 562.2h0M49.5 510.1h0M66.3 509.5h0M59.5 522.3h0M55.9 506.4h0M92.6 535.0h0M75.3 537.6h0M52.7 534.0h0M24.8 570.2h0M63.6 507.6h0M42.5 543.9h0M83.4 506.6h0M95.0 547.6h0M102.8 540.0h0M51.5 551.5h0M50.8 512.4h0M107.3 512.5h0M84.6 498.8h0M96.3 516.3h0M72.1 506.6h0M98.8 522.1h0M69.2 512.0h0M67.9 520.8h0M87.0 535.6h0M82.5 534.8h0M57.6 497.8h0M84.5 515.6h0M15.8 520.0h0M51.8 534.4h0M47.3 528.5h0M52.2 493.9h0M51.0 513.2h0M82.8 546.5h0M69.1 488.6h0M88.7 521.7h0M87.6 508.1h0M81.6 533.2h0M53.9 506.8h0M50.1 487.9h0M58.4 523.0h0M62.0 486.7h0M55.2 512.6h0M83.5 502.9h0M65.1 565.0h0M16.3 552.3h0M73.7 517.3h0M80.2 523.3h0M75.7 540.9h0M79.8 547.4h0M64.8 524.7h0M58.5 541.1h0M78.1 534.0h0M45.8 541.4h0M69.3 537.6h0M74.1 485.9h0M100.2 527.2h0M64.6 517.4h0M109.2 564.4h0M80.1 548.3h0M81.5 539.9h0M80.0 511.6h0M108.2 536.9h0M77.8 510.5h0M69.4 562.2h0M70.5 551.7h0M85.1 561.0h0M52.6 500.8h0M89.9 478.5h0M79.4 539.8h0M51.2 516.9h0M35.4 494.4h0M55.6 528.1h0M71.3 521.6h0M68.2 487.9h0M62.0 511.9h0M109.7 518.3h0M68.7 532.8h0M74.6 515.2h0M82.0 543.1h0M50.2 526.7h0M89.8 497.7h0M78.8 495.4h0M64.9 529.3h0M75.6 525.3h0M76.0 498.9h0M86.7 524.7h0M65.6 510.6h0M37.2 514.5h0M83.2 561.8h0M59.9 497.7h0M53.9 515.4h0M39.5 530.1h0M64.6 501.7h0M70.1 516.7h0M63.5 500.9h0M33.1 528.5h0M53.7 483.5h0M87.8 552.1h0M69.7 524.6h0M37.4 502.9h0M78.5 537.5h0M47.4 531.8h0M58.7 502.5h0M43.0 497.8h0M87.4 491.7h0M57.1 481.3h0M105.2 513.2h0M106.8 558.0h0M98.3 571.5h0M100.1 500.6h0M51.6 523.7h0M63.6 526.7h0M77.5 543.0h0M80.3 480.4h0M103.7 534.5h0M75.3 548.2h0M90.5 508.3h0M83.6 544.9h0M46.0 527.0h0M81.8 535.1h0M20.1 545.3h0M51.7 509.6h0M67.8 506.4h0M78.3 494.9h0M89.9 484.1h0M110.0 527.0h0M61.7 513.0h0M96.4 511.7h0M48.6 517.0h0M93.9 496.9h0M48.9 509.8h0M87.1 548.0h0M73.0 528.7h0M73.3 516.0h0M70.3 525.3h0M36.9 511.6h0M72.2 546.7h0M67.4 502.9h0M61.3 541.9h0M65.9 498.1h0M75.4 517.8h0M96.2 499.8h0M55.7 522.3h0M57.3 554.6h0M76.1 528.4h0M73.5 535.9h0M50.5 533.1h0M89.2 535.6h0M104.4 526.5h0M26.8 549.7h0M71.1 478.4h0M112.2 480.2h0M46.4 571.1h0M78.0 518.4h0M78.5 523.4h0M79.3 532.9h0M73.9 540.1h0M92.0 518.5h0M61.2 536.9h0M100.2 545.1h0M49.0 493.6h0M45.8 477.6h0M51.0 552.1h0M50.9 542.4h0M61.9 545.3h0M75.7 516.1h0M20.5 555.2h0M90.6 515.1h0M90.9 520.2h0M75.5 526.5h0M63.5 531.6h0M100.2 536.9h0M71.6 559.7h0M46.7 523.5h0M101.4 487.5h0M61.1 507.3h0M71.1 498.3h0M62.6 542.4h0M78.7 485.1h0M42.4 479.0h0M51.7 563.8h0M111.7 545.1h0M97.6 556.7h0M50.3 515.4h0M46.7 527.8h0M91.3 539.4h0M29.6 501.1h0M67.4 518.9h0M68.9 511.0h0M40.0 572.0h0M87.5 527.8h0M56.3 526.7h0M35.4 555.4h0M83.0 522.5h0M100.5 545.8h0M22.6 554.3h0M59.7 520.0h0M40.7 507.7h0M100.9 512.1h0M67.1 505.7h0M55.6 485.1h0M54.7 491.1h0M50.2 519.0h0M66.1 549.6h0M101.8 540.4h0M52.7 526.1h0M81.1 533.4h0M78.5 514.2h0M97.1 506.9h0M49.1 500.2h0M75.6 514.9h0M65.2 556.7h0M22.7 509.5h0M58.7 521.9h0M79.4 507.4h0M58.2 515.1h0M72.1 506.2h0M61.2 525.2h0M82.0 501.9h0M89.1 529.8h0M74.4 533.2h0M70.7 518.5h0M84.2 512.8h0M59.9 517.8h0M72.0 551.6h0M41.3 561.4h0M70.8 539.5h0M57.7 491.6h0M105.9 503.2h0M80.5 525.0h0M50.6 504.8h0M48.8 543.6h0M58.8 526.7h0M38.9 544.1h0M83.1 504.4h0M67.4 527.3h0M85.4 540.2h0M56.7 519.8h0M51.2 538.3h0M74.0 514.8h0M79.4 518.4h0M84.8 521.7h0M80.0 512.4h0M101.6 496.4h0M67.6 530.0h0M71.9 547.3h0M81.8 488.7h0M72.9 515.5h0M100.1 546.2h0M50.9 528.2h0M52.8 535.6h0M46.8 526.8h0M100.7 558.0h0M76.0 527.2h0M108.4 526.9h0M68.7 516.7h0M54.7 545.6h0M73.3 484.3h0M102.4 480.7h0M71.6 529.7h0M105.2 545.9h0M80.8 541.0h0M98.4 508.1h0M82.6 539.8h0M50.9 524.5h0M58.8 495.8h0M41.0 493.5h0M75.7 494.4h0M60.4 557.9h0M68.7 534.3h0M49.6 515.2h0M70.5 534.5h0M80.0 517.2h0M93.8 516.1h0M111.3 540.9h0M71.8 498.6h0M22.6 513.2h0M72.0 497.1h0M27.1 544.8h0M68.0 505.7h0M86.6 527.3h0M73.0 558.5h0M85.6 540.3h0M68.3 551.0h0M87.3 514.1h0M71.6 501.0h0M59.1 533.9h0M64.6 531.3h0M29.5 512.0h0M105.8 511.1h0M90.2 561.5h0M43.1 556.4h0M69.1 539.9h0M57.8 534.8h0M71.6 549.6h0M62.7 535.7h0M96.5 545.7h0M73.9 529.9h0M69.3 571.5h0M53.8 495.5h0M78.0 536.5h0M47.9 511.5h0M36.1 527.9h0M34.5 515.5h0M66.0 563.1h0M69.4 501.0h0M52.0 523.5h0M69.8 479.2h0M80.4 551.3h0M29.7 514.4h0M46.3 544.2h0M73.9 501.4h0M62.8 527.5h0M50.4 542.1h0M86.9 534.3h0M95.3 507.5h0M64.7 499.4h0M34.4 504.1h0M57.3 557.5h0M74.3 523.7h0M86.7 485.8h0M75.8 547.5h0M59.1 509.2h0M31.4 544.8h0M44.4 516.1h0M29.5 525.7h0M36.5 520.6h0M23.2 532.5h0M39.0 526.3h0M64.8 479.0h0M77.6 525.6h0M83.4 484.8h0M73.5 533.9h0M106.4 545.0h0M47.8 554.9h0M59.3 544.7h0M63.1 537.9h0M63.1 512.1h0M41.5 513.9h0M72.5 517.2h0M26.0 483.2h0M106.2 486.5h0M62.6 545.8h0M72.5 540.1h0M68.0 486.6h0M74.3 535.5h0M71.7 520.7h0M69.4 539.0h0M92.1 533.8h0M79.4 498.5h0M87.0 543.7h0M85.9 545.8h0M35.5 480.8h0M61.2 559.1h0M62.4 551.2h0M48.3 516.5h0M78.9 548.2h0M103.4 571.1h0M86.2 524.1h0M81.5 498.8h0M61.1 523.4h0M78.5 526.5h0M79.8 508.5h0M67.0 494.4h0M74.4 521.0h0M68.7 531.2h0M88.8 512.6h0M93.1 544.4h0M48.1 536.8h0M76.2 531.6h0M84.3 495.2h0M54.0 518.5h0M66.3 509.7h0M87.7 502.7h0M45.1 544.6h0M75.7 497.7h0M35.4 540.3h0M46.9 486.8h0M54.8 502.3h0M82.2 520.0h0M44.7 533.2h0M70.8 533.5h0M43.0 545.1h0M71.2 533.5h0M39.2 501.4h0M71.4 503.0h0M78.1 528.9h0M40.4 552.3h0M77.0 502.1h0M33.5 552.1h0M52.5 510.8h0M50.8 499.8h0M47.6 526.0h0M95.0 526.8h0M85.0 524.9h0M17.5 500.2h0M79.0 532.0h0M35.5 558.5h0M67.8 531.4h0M88.5 545.5h0M68.2 523.4h0M41.3 542.1h0M76.0 540.4h0M88.1 534.6h0M47.3 489.9h0M78.7 494.5h0M50.7 558.4h0M49.6 489.4h0M87.5 515.3h0M109.4 572.1h0M67.1 514.0h0M40.6 490.1h0M24.9 497.3h0M28.8 512.4h0M53.9 518.4h0M85.9 537.2h0M40.0 551.9h0M67.0 529.2h0M65.3 530.8h0M105.8 528.5h0M33.0 541.7h0M51.9 559.2h0M16.6 512.0h0M112.1 526.2h0M98.7 477.0h0M83.7 544.0h0M45.7 530.9h0M92.4 519.1h0M58.6 531.2h0M19.8 532.2h0M62.0 540.7h0M90.4 508.4h0M83.8 555.9h0M68.5 531.0h0M37.4 539.2h0M75.4 527.4h0M51.8 518.0h0M62.8 482.5h0M103.3 501.8h0M78.6 515.1h0M81.7 524.2h0M74.6 493.9h0M71.9 494.9h0M78.5 514.2h0M38.5 516.5h0M85.7 537.5h0M71.1 542.1h0M94.1 497.2h0M86.6 529.9h0M94.2 487.5h0M56.5 515.8h0M73.7 573.5h0M60.8 505.8h0M46.0 525.9h0M89.2 515.1h0M43.5 527.8h0M65.4 523.4h0M28.9 499.4h0M60.7 499.4h0M74.2 548.0h0M65.0 515.9h0M76.4 541.9h0M62.9 506.3h0M30.3 536.6h0M61.1 529.8h0M60.8 522.9h0M56.4 477.3h0M83.7 525.8h0M63.6 503.9h0M76.4 540.1h0M62.4 531.9h0M75.8 525.4h0M58.7 537.6h0M103.0 492.6h0M36.9 533.9h0M63.7 520.7h0M27.4 516.1h0M69.9 529.9h0M107.6 518.7h0M87.5 531.1h0M47.4 494.9h0M89.9 537.8h0M88.1 573.3h0M50.4 486.2h0M45.6 533.0h0M83.5 573.1h0M73.5 512.6h0M66.9 518.9h0M57.7 518.8h0M73.8 523.6h0M100.5 495.5h0M81.7 487.1h0M102.0 532.9h0M75.5 479.8h0M66.2 483.5h0M70.5 551.6h0M97.3 563.8h0M67.3 530.4h0M94.4 572.3h0M39.8 525.3h0M95.9 509.5h0M97.7 507.3h0M56.9 546.6h0M25.9 502.3h0M47.1 498.7h0M96.5 531.9h0M102.0 558.0h0M78.3 539.8h0M84.4 545.1h0M110.4 526.0h0M78.0 558.3h0M95.3 486.4h0M57.2 519.3h0M57.0 517.1h0M94.8 487.0h0M97.7 492.6h0M58.1 513.5h0M90.7 500.0h0M86.5 504.3h0M86.6 518.8h0M90.0 498.5h0M62.4 517.6h0M92.0 496.3h0M82.1 524.5h0M83.0 532.0h0M48.0 503.6h0M64.9 540.8h0M85.4 538.2h0M95.8 483.8h0M102.6 534.3h0M79.0 514.9h0M46.9 496.6h0M91.9 529.0h0M64.2 542.5h0M97.8 530.9h0M70.6 502.5h0M51.0 514.3h0M63.8 545.2h0M52.0 563.2h0M108.8 542.7h0M34.6 520.8h0M50.5 534.6h0M52.2 503.4h0M64.3 536.0h0M75.4 484.4h0M67.7 526.3h0M84.0 486.7h0M66.2 483.2h0M75.0 489.1h0M80.5 555.1h0M76.7 536.7h0M59.4 544.6h0M79.8 512.3h0M86.1 498.5h0M64.4 548.5h0M26.8 502.5h0M51.1 529.3h0M49.5 512.7h0M89.4 541.9h0M87.7 545.3h0M58.1 565.9h0M91.5 521.3h0M40.6 529.9h0M69.6 535.8h0M74.8 501.3h0M42.1 536.7h0M65.5 536.7h0M60.6 522.6h0M89.2 518.2h0M74.3 530.8h0M70.8 482.3h0M89.2 523.6h0M38.2 531.0h0M82.9 529.6h0M112.2 515.0h0M80.7 522.7h0M97.2 531.4h0M54.9 544.3h0M62.6 488.7h0M57.7 540.7h0M92.1 530.7h0M64.9 512.8h0M54.9 541.0h0M91.6 535.4h0M71.7 520.6h0M56.9 502.9h0M74.6 528.3h0M69.8 517.8h0M65.4 535.8h0M73.6 517.8h0M80.9 511.7h0M65.8 488.7h0M86.2 502.9h0M60.9 515.6h0M41.5 528.3h0M108.8 504.6h0M51.7 502.8h0M68.1 527.5h0M68.6 546.4h0M55.6 480.1h0M89.2 516.8h0M86.6 497.5h0M55.3 534.5h0M80.8 480.0h0M87.2 518.6h0M86.9 496.8h0M80.5 504.0h0M86.3 530.8h0M71.3 532.7h0M82.7 522.9h0M68.4 512.1h0M92.2 546.5h0M103.8 516.5h0M86.4 564.1h0M71.3 486.5h0M73.9 510.4h0M86.0 521.0h0M90.3 513.5h0M64.5 553.0h0M64.7 508.6h0M81.2 536.0h0M33.6 548.2h0M67.5 539.2h0M61.7 483.1h0M84.5 554.6h0M84.9 523.9h0M72.4 556.0h0M82.9 512.8h0M107.0 506.3h0M60.3 558.9h0M56.9 567.3h0M80.7 533.1h0M62.3 478.2h0M74.2 529.8h0M44.5 509.8h0M47.2 519.4h0M79.7 545.3h0M57.9 481.5h0M54.2 513.2h0M51.0 539.9h0M109.0 496.5h0M65.9 484.4h0M33.1 523.6h0M103.8 540.8h0M43.5 539.7h0M49.5 545.7h0M87.2 520.4h0M45.3 539.2h0M65.1 543.9h0M45.8 512.3h0M27.6 545.9h0M72.6 503.8h0M41.5 499.5h0M87.5 505.0h0M68.8 533.3h0M85.9 546.9h0M83.8 503.9h0M43.0 550.0h0M110.6 544.2h0M74.3 483.0h0M88.7 535.7h0M68.4 509.5h0M39.1 516.7h0M76.1 524.1h0M89.0 508.8h0M70.5 500.5h0M62.3 514.8h0M41.9 506.9h0M76.3 502.2h0M86.1 520.9h0M63.2 512.2h0M85.8 565.3h0M88.5 494.1h0M53.4 484.9h0M50.7 548.8h0M44.4 524.7h0M55.0 510.5h0M97.4 523.1h0M46.1 538.4h0M91.3 534.0h0M77.0 494.8h0M52.4 512.7h0M48.8 504.5h0M21.0 520.3h0M83.0 526.7h0M54.2 478.5h0M35.3 523.5h0M35.6 523.2h0M77.0 545.0h0M83.9 513.1h0M85.6 491.1h0M72.9 497.0h0M54.2 502.7h0M75.6 520.8h0M82.2 530.3h0M16.8 507.5h0M51.1 512.9h0M50.9 529.1h0M43.9 498.1h0M36.4 546.6h0M73.4 527.9h0M67.5 497.0h0M103.1 531.6h0M53.5 526.9h0M27.7 510.0h0M71.0 528.3h0M73.1 514.1h0M112.7 500.9h0M89.7 510.1h0M96.9 500.8h0M40.8 510.1h0M46.0 566.4h0M83.9 537.1h0M62.6 530.1h0M51.7 486.2h0M111.6 510.8h0M93.6 529.3h0M78.0 527.8h0M92.0 533.9h0M72.2 540.4h0M61.2 510.9h0M47.5 540.9h0M88.6 563.8h0M96.2 522.8h0M78.3 513.8h0M33.4 518.4h0M61.7 516.3h0M99.9 527.9h0M82.7 523.7h0M54.6 527.8h0M64.5 502.1h0M64.5 515.4h0M34.6 515.9h0M65.1 548.1h0M80.5 525.7h0M80.9 525.3h0M73.2 538.4h0M61.5 514.0h0M55.9 513.8h0M68.5 523.1h0M82.4 502.1h0M67.6 556.2h0M80.9 528.7h0M57.1 541.6h0M68.9 500.4h0M64.3 563.5h0M76.2 539.7h0M106.6 529.3h0M69.0 524.3h0M64.7 494.9h0M59.1 526.5h0M49.9 544.6h0M34.7 565.1h0M68.2 483.1h0M65.7 510.1h0M80.6 525.2h0M40.9 521.4h0M70.4 551.4h0M54.2 489.2h0M99.0 512.4h0M51.1 511.8h0M41.0 537.1h0M75.2 526.1h0M51.0 539.4h0M88.4 550.1h0M38.2 535.6h0M71.7 518.6h0M74.7 542.4h0M71.3 523.0h0M81.3 509.4h0M59.1 543.6h0M67.7 570.7h0M107.1 516.8h0M54.7 528.4h0M33.9 529.8h0M36.9 564.9h0M99.9 507.4h0M65.7 557.7h0M99.9 511.4h0M50.6 514.9h0M66.2 502.5h0M68.6 499.0h0M23.2 516.1h0M71.4 511.3h0M86.6 540.8h0M58.7 532.4h0M66.8 538.3h0M80.9 555.5h0M27.9 495.8h0M107.7 518.6h0M74.4 518.2h0M73.5 509.8h0M101.1 527.1h0M74.1 535.7h0M76.1 562.8h0M69.7 514.1h0M72.3 513.5h0M99.8 554.9h0M43.1 535.5h0M87.7 516.9h0M92.9 549.6h0M80.8 527.7h0M81.5 504.8h0M79.0 497.3h0M71.3 498.6h0M41.1 524.8h0M88.2 518.9h0M36.3 531.6h0M82.2 537.6h0M80.2 508.1h0M37.7 503.4h0M46.7 554.2h0M100.8 551.0h0M96.7 528.7h0M98.2 549.8h0M60.1 533.5h0M92.8 535.0h0M75.9 527.5h0M68.6 503.0h0M68.8 530.4h0M57.4 513.7h0M49.4 487.1h0M99.3 496.8h0M94.6 546.1h0M50.4 536.6h0M15.0 518.6h0M73.8 499.1h0M87.1 549.6h0M86.7 522.2h0M86.3 523.4h0M58.3 515.3h0M64.5 538.5h0M65.4 506.1h0M111.3 492.5h0M87.6 518.6h0M104.8 533.9h0M36.5 484.3h0M90.6 552.7h0M80.4 498.7h0M54.3 532.8h0M81.5 500.2h0M64.8 546.9h0M89.3 559.4h0M80.1 533.0h0M59.7 512.1h0M98.3 540.5h0M56.6 524.5h0M63.3 528.2h0M46.4 525.8h0M97.8 520.3h0M66.8 522.3h0M59.3 540.6h0M70.5 486.4h0M71.0 504.2h0M64.5 553.1h0M46.7 552.1h0M67.0 544.5h0M83.9 530.1h0M82.8 565.3h0M98.7 529.6h0M41.8 493.5h0M64.7 555.9h0M45.2 494.9h0M80.9 573.2h0M67.8 528.8h0M81.8 510.1h0M20.5 500.9h0M66.8 511.5h0M60.9 507.9h0M78.8 544.3h0M100.6 556.8h0M75.0 517.8h0M78.6 517.7h0M78.1 477.4h0M84.7 498.0h0M91.3 484.8h0M57.5 511.1h0M81.5 509.1h0M81.4 531.7h0M32.1 516.0h0M71.1 489.2h0M80.2 507.9h0M68.8 507.4h0M66.5 553.9h0M26.5 535.1h0M76.4 510.3h0M72.6 497.5h0M111.1 547.7h0M83.6 500.4h0M56.2 532.3h0M58.7 527.0h0M91.7 513.3h0M84.6 495.5h0M104.2 528.2h0M80.0 542.1h0M35.1 537.7h0M48.2 533.0h0M69.2 563.6h0M57.6 554.7h0M31.5 530.1h0M66.1 533.5h0M39.2 519.0h0M61.6 486.9h0M41.8 509.3h0M73.7 557.1h0M95.9 549.8h0M53.7 528.7h0M78.2 497.2h0M69.6 495.6h0M70.7 497.3h0M87.1 539.0h0M82.7 501.0h0M49.5 515.1h0M83.9 541.5h0M88.4 499.1h0M95.3 498.4h0M74.6 525.4h0M57.9 544.7h0M50.7 497.7h0M105.8 541.0h0M78.5 525.6h0M62.0 531.2h0M69.3 535.5h0M87.3 548.3h0M88.3 559.2h0M103.5 515.1h0M89.5 490.6h0M94.7 523.5h0M92.8 495.4h0M70.7 558.2h0M100.4 518.5h0M39.8 526.3h0M76.6 545.0h0M65.5 517.0h0M75.3 500.6h0M30.2 544.0h0M75.7 505.7h0M90.3 527.9h0M69.7 513.3h0M97.4 492.7h0M77.2 489.1h0M53.6 545.7h0M65.8 509.7h0M47.7 499.3h0M78.5 524.8h0M43.6 507.9h0M72.5 484.3h0M49.4 527.3h0M63.4 530.7h0M104.1 513.6h0M73.9 550.8h0M49.8 529.4h0M70.2 517.7h0M80.5 550.9h0M72.5 500.4h0M83.6 523.9h0M48.5 512.7h0M68.0 525.6h0M79.3 495.4h0M29.5 551.1h0M65.9 494.2h0M71.8 554.9h0M74.1 499.3h0M98.2 485.3h0M72.8 524.8h0M44.4 522.2h0M77.6 514.6h0M83.2 538.5h0M73.0 491.1h0M99.9 481.9h0M83.1 565.6h0M68.5 535.1h0M72.1 516.8h0M52.8 536.1h0M54.5 549.7h0M104.2 539.5h0M84.0 541.5h0M56.2 534.9h0M53.8 527.2h0M69.1 489.1h0M56.6 522.0h0M90.4 515.6h0M58.2 497.9h0M98.5 551.8h0M69.3 510.5h0M99.6 483.6h0M73.5 512.0h0M51.5 546.6h0M61.0 507.5h0M84.6 532.0h0M95.3 506.5h0M74.7 538.9h0M55.5 512.2h0M77.1 529.0h0M81.6 536.1h0M33.7 521.6h0M50.6 547.2h0M52.3 522.0h0M69.1 508.5h0M84.9 516.2h0M102.3 520.0h0M71.3 507.7h0M88.8 511.4h0M87.8 524.0h0M66.4 500.6h0M75.8 522.9h0M99.2 525.9h0M58.9 549.6h0M77.6 533.0h0M103.5 520.9h0M69.0 547.3h0M62.3 489.4h0M28.8 539.0h0M57.2 513.6h0M49.6 526.9h0M53.1 527.5h0M88.8 497.0h0M37.1 482.3h0M102.1 504.6h0M87.7 512.8h0M45.7 505.8h0M108.3 486.9h0M98.4 553.7h0M70.8 515.3h0M79.5 508.0h0M76.6 518.1h0M48.4 506.8h0M83.7 499.7h0M61.6 485.2h0M66.6 500.8h0M41.5 557.6h0M67.9 548.5h0M64.6 522.3h0M99.2 505.3h0M70.6 529.0h0M81.5 562.8h0M79.1 517.2h0M95.5 500.6h0M62.2 538.4h0M68.3 550.7h0M103.4 569.5h0M78.5 518.2h0M97.1 509.3h0M86.8 536.0h0M39.4 522.8h0M43.4 479.3h0M51.3 482.0h0M84.1 501.6h0M60.4 558.6h0M56.1 524.9h0M48.1 505.3h0M66.1 529.7h0M53.5 512.5h0M86.5 552.9h0M77.6 513.9h0M79.6 532.6h0M47.1 518.4h0M76.6 496.9h0M73.5 546.7h0M36.1 523.9h0M76.5 547.8h0M60.2 513.6h0M20.9 512.1h0M43.4 542.0h0M70.9 524.7h0M81.8 548.6h0M74.7 485.7h0M39.7 562.0h0M77.8 482.9h0M47.3 520.9h0M52.2 518.2h0M77.1 491.3h0M57.3 491.4h0M104.3 573.6h0M79.7 501.0h0M72.0 526.6h0M69.7 520.1h0M80.5 561.6h0M86.3 551.1h0M76.6 502.9h0M72.5 505.3h0M52.6 482.1h0M45.4 514.3h0M84.1 484.1h0M96.3 537.5h0M67.5 532.9h0M62.3 551.3h0M83.8 525.4h0M95.5 539.2h0M107.1 538.0h0M52.3 537.7h0M88.2 517.2h0M29.2 571.6h0M51.1 484.5h0M103.9 510.1h0M68.8 539.2h0M69.4 540.4h0M93.5 500.2h0M46.2 552.1h0M69.6 481.3h0M82.5 506.9h0M61.6 495.6h0M97.1 511.1h0M64.8 521.4h0M91.0 504.4h0M76.7 504.2h0M81.0 555.9h0M75.4 483.3h0M57.2 538.7h0M48.7 500.3h0M43.3 522.6h0M44.2 549.8h0M71.9 484.2h0M52.6 498.0h0M66.4 514.1h0M91.5 532.3h0M84.1 511.2h0M63.4 543.9h0M103.0 523.8h0M35.0 504.9h0M78.6 514.0h0M109.0 486.3h0M53.9 505.0h0M88.1 495.6h0M82.4 502.2h0M73.6 508.3h0M67.4 526.7h0M64.1 512.2h0M74.1 487.2h0M53.7 484.5h0M93.4 537.8h0M72.8 553.8h0M40.6 530.7h0M57.3 550.2h0M92.9 539.7h0M59.1 517.4h0M70.6 481.6h0M64.2 515.8h0M63.8 508.9h0M43.5 505.7h0M71.9 496.9h0M91.5 525.9h0M49.4 540.4h0M46.2 508.1h0M41.7 549.8h0M65.3 497.2h0M76.1 489.2h0M75.9 517.8h0M104.7 499.6h0M74.2 528.3h0M95.9 502.4h0M89.9 528.3h0M38.9 483.8h0M83.0 533.4h0M95.2 529.7h0M44.2 520.4h0M105.5 531.7h0M97.6 540.8h0M64.6 484.7h0M85.3 541.7h0M86.8 541.9h0M53.7 527.6h0M52.4 506.5h0M55.4 500.9h0M59.7 506.4h0M67.6 521.9h0M102.7 537.4h0M99.0 526.2h0M78.0 502.2h0M65.3 522.7h0M76.3 516.6h0M63.4 520.7h0M83.7 550.3h0M80.7 497.0h0M32.2 554.7h0M69.8 486.3h0M67.8 559.1h0M67.0 506.1h0M93.5 527.6h0M24.4 489.8h0M57.5 522.6h0M86.0 521.4h0M70.2 512.1h0M79.7 512.1h0M57.5 501.3h0M58.2 508.1h0M61.5 511.8h0M48.6 525.2h0M61.0 528.9h0M66.7 495.9h0M24.9 506.4h0M65.4 512.9h0M65.4 495.6h0M61.2 507.9h0M67.0 501.6h0M78.7 525.8h0M85.6 508.1h0M47.5 542.8h0M44.7 524.0h0M82.2 527.3h0M55.5 498.8h0M66.7 516.8h0M40.2 533.2h0M60.3 526.8h0M47.7 519.5h0M89.1 510.1h0M81.9 507.1h0M45.3 507.4h0M63.2 547.3h0M68.1 532.8h0M99.5 516.5h0M110.1 509.0h0M104.5 550.2h0M80.2 509.1h0M61.7 520.6h0M94.7 506.8h0M78.0 568.5h0M62.8 530.3h0M30.1 487.5h0M70.2 508.7h0M33.4 489.4h0M95.1 537.3h0M34.4 509.4h0M93.9 499.7h0M87.9 550.9h0M68.3 517.1h0M57.1 494.6h0M68.5 521.0h0M73.4 539.2h0M71.7 534.0h0M58.5 525.5h0M65.8 511.1h0M42.0 497.8h0M78.7 551.7h0M55.8 535.7h0M92.6 555.3h0M59.3 517.3h0M75.0 530.2h0M67.1 556.0h0M89.1 565.8h0M45.4 511.3h0M62.6 491.1h0M65.6 502.0h0M58.1 526.3h0M43.4 478.2h0M38.5 509.6h0M59.2 560.2h0M57.0 559.4h0M88.9 527.9h0M77.9 492.8h0M36.0 502.9h0M98.0 497.8h0M66.5 539.8h0M61.8 534.9h0M92.3 523.6h0M67.1 495.7h0M64.6 518.0h0M87.7 523.6h0M19.9 536.6h0M17.5 513.4h0M34.3 515.0h0M87.3 528.1h0M45.2 522.5h0M44.1 480.8h0M72.3 515.4h0M46.2 517.2h0M50.9 513.2h0M78.0 549.3h0M83.6 532.7h0M75.7 489.8h0M98.7 512.6h0M75.4 560.5h0M57.1 546.7h0M54.0 522.1h0M73.4 487.1h0M54.0 539.1h0M77.7 504.9h0M56.6 523.8h0M73.7 492.2h0M60.8 514.2h0M101.3 511.8h0M73.8 519.5h0M50.5 557.9h0M90.0 553.6h0M51.7 499.0h0M51.3 526.5h0M54.1 528.7h0M90.2 506.3h0M72.5 539.8h0M59.0 516.3h0M34.4 522.9h0M50.0 535.2h0M47.0 548.6h0M52.8 541.0h0M86.8 550.3h0M21.2 519.4h0M58.2 541.8h0M43.0 531.1h0M29.8 558.4h0M85.9 508.1h0M93.8 511.1h0M62.5 544.8h0M73.7 503.6h0M42.9 521.3h0M27.5 508.4h0M58.8 498.9h0M67.3 543.1h0M101.4 530.5h0M73.5 526.0h0M61.2 520.1h0M51.3 549.7h0M54.1 571.5h0M90.8 502.9h0M107.8 543.1h0M81.6 501.6h0M40.9 523.0h0M30.2 531.4h0M109.4 503.5h0M72.8 496.6h0M44.2 533.6h0M66.8 493.0h0M72.6 501.6h0M50.1 548.9h0M73.2 519.9h0M77.0 478.1h0M57.5 502.7h0M87.1 510.4h0M64.9 511.4h0M69.4 554.4h0M98.4 534.1h0M70.7 538.0h0M53.5 517.3h0M72.3 550.6h0M108.5 552.0h0M87.4 525.5h0M99.0 554.8h0M71.0 531.4h0M85.3 547.1h0M73.7 503.1h0M78.0 493.5h0M74.8 560.0h0M106.2 523.8h0M42.4 494.4h0M66.6 535.6h0M76.7 532.4h0M53.8 499.6h0M71.1 546.2h0M70.9 518.9h0M54.1 558.4h0M93.8 524.6h0M73.7 519.5h0M65.8 505.8h0M53.6 512.3h0M59.4 481.1h0M110.8 510.9h0M77.1 525.8h0M70.9 560.9h0M63.7 486.9h0M40.1 477.2h0M88.8 529.7h0M76.6 551.3h0M73.1 519.5h0M70.1 546.4h0M65.1 513.7h0M82.8 543.8h0M51.6 557.1h0M62.0 503.8h0M55.2 552.9h0M84.5 511.3h0M90.2 558.3h0M66.1 532.8h0M82.9 501.9h0M105.3 541.5h0M70.6 568.1h0M82.9 544.1h0M53.2 496.4h0M84.1 563.0h0M86.5 573.7h0M63.8 553.8h0M86.5 481.9h0" stroke="#b838c4" stroke-width="1.3" stroke-linecap="round" opacity="0.85" fill="none"/>
<path d="M69.6 517.8h0M92.7 483.3h0M68.3 488.2h0M49.2 554.3h0M67.3 531.5h0M57.8 535.2h0M61.1 559.7h0M65.3 515.3h0M52.8 537.6h0M64.8 534.7h0M75.6 515.4h0M75.1 498.4h0M67.0 481.0h0M85.0 546.7h0M51.7 508.9h0M60.3 479.7h0M79.4 531.5h0M34.7 514.8h0M25.7 565.8h0M85.3 568.0h0M59.8 529.1h0M59.7 542.2h0M45.4 524.7h0M42.6 489.1h0M62.0 509.1h0M78.4 500.7h0M86.7 533.9h0M55.6 560.6h0M55.9 529.6h0M64.1 535.3h0M97.2 542.7h0M85.9 511.8h0M57.5 527.8h0M55.3 495.6h0M56.8 562.5h0M49.8 496.8h0M77.7 531.7h0M90.3 500.7h0M49.2 541.0h0M75.6 531.2h0M66.8 505.8h0M112.4 503.7h0M59.5 518.1h0M88.5 550.0h0M54.2 503.7h0M113.3 535.7h0M20.0 525.8h0M84.9 510.2h0M60.5 478.0h0M67.8 492.7h0M103.3 509.9h0M80.6 480.6h0M97.1 537.6h0M54.8 509.5h0M59.9 527.2h0M68.5 498.0h0M75.2 546.8h0M55.8 495.0h0M82.3 556.0h0M77.7 505.9h0M103.2 521.9h0M51.5 570.2h0M64.8 496.4h0M35.1 510.0h0M62.0 496.0h0M55.8 508.7h0M82.1 506.0h0M80.9 524.2h0M71.2 499.3h0M59.4 513.3h0M82.7 500.0h0M40.6 497.4h0M56.3 525.9h0M75.7 485.9h0M106.6 518.5h0M74.7 489.0h0M60.9 501.5h0M91.9 510.6h0M78.7 539.1h0M60.1 515.4h0M97.9 530.1h0M67.3 548.1h0M61.7 496.7h0M53.3 516.9h0M70.8 540.4h0M43.2 522.8h0M64.3 547.5h0M85.1 531.7h0M70.5 567.4h0M18.9 525.1h0M63.5 565.9h0M59.4 532.7h0M82.9 515.0h0M66.9 537.5h0M80.6 520.9h0M89.5 524.5h0M51.2 504.3h0M46.8 526.5h0M44.3 496.5h0M48.1 521.4h0M79.2 535.5h0M71.7 530.9h0M64.1 532.0h0M56.8 509.5h0M94.6 508.6h0M76.3 535.8h0M56.7 481.5h0M53.3 569.9h0M52.1 545.1h0M77.2 538.3h0M79.9 504.6h0M89.9 502.9h0M87.6 554.9h0M72.2 504.9h0M55.6 506.0h0M72.4 491.0h0M68.9 529.2h0M31.9 508.2h0M93.5 530.7h0M83.1 543.6h0M77.4 531.3h0M52.7 483.5h0M96.9 525.7h0M65.1 523.5h0M49.9 523.1h0M64.7 520.2h0M46.6 485.0h0M85.0 485.9h0M48.7 547.0h0M76.8 511.1h0M49.2 500.5h0M36.3 549.8h0M94.5 502.6h0M86.1 542.3h0M91.3 488.2h0M57.9 483.3h0M62.9 526.8h0M66.3 532.3h0M55.1 492.7h0M35.2 501.7h0M100.1 511.5h0M89.5 516.2h0M79.6 506.1h0M52.7 561.6h0M53.1 545.0h0M80.3 489.7h0M81.9 511.6h0M83.3 521.3h0M70.5 510.1h0M82.3 513.7h0M82.7 497.1h0M65.2 487.5h0M65.0 541.6h0M66.9 503.5h0M99.3 517.0h0M73.2 551.1h0M73.7 510.5h0M27.2 493.8h0M68.6 513.2h0M52.1 556.3h0M53.4 521.9h0M69.5 519.4h0M60.0 532.5h0M84.3 551.0h0M76.4 485.4h0M65.6 507.4h0M57.5 531.1h0M42.1 486.5h0M77.1 531.7h0M68.2 540.0h0M99.6 482.4h0M62.7 534.3h0M49.2 500.8h0M78.4 488.1h0M95.6 512.0h0M46.7 496.1h0M57.0 518.5h0M62.0 528.6h0M68.3 550.6h0M80.9 519.8h0M46.1 495.3h0M64.4 505.8h0M91.1 526.5h0M53.7 537.1h0M111.5 491.0h0M43.9 520.4h0M87.5 553.3h0M103.1 505.9h0M37.1 537.5h0M106.4 522.4h0M98.7 525.1h0M54.0 522.5h0M25.8 528.5h0M49.7 531.5h0M59.9 530.4h0M92.0 526.5h0M54.0 508.5h0M112.7 525.1h0M85.8 498.5h0M63.3 529.9h0M45.3 512.6h0M82.9 511.1h0M62.5 518.6h0M90.3 499.9h0M73.0 480.4h0M40.4 511.3h0M58.6 522.9h0M63.8 507.6h0M69.7 539.2h0M62.4 545.0h0M47.1 551.0h0M87.0 556.2h0M72.3 519.1h0M102.1 552.6h0M46.2 479.5h0M25.9 527.1h0M90.0 512.7h0M89.3 543.1h0M92.3 533.6h0M65.3 526.8h0M85.0 526.3h0M96.2 526.0h0M89.1 516.3h0M51.8 515.3h0M54.7 489.0h0M47.0 484.3h0M83.7 515.1h0M38.5 504.3h0M92.8 517.1h0M77.7 560.9h0M84.7 509.3h0M88.4 518.1h0M73.6 525.6h0M26.2 541.8h0M53.1 527.5h0M77.8 495.0h0M66.0 520.7h0M75.4 497.7h0M66.3 495.7h0M104.1 513.0h0M78.6 549.5h0M31.9 547.2h0M98.5 480.3h0M111.5 504.1h0M82.0 495.3h0M56.7 543.7h0M75.6 566.2h0M69.1 509.9h0M53.7 480.3h0M83.8 539.7h0M98.5 542.1h0M68.2 509.7h0M43.6 535.1h0M53.8 483.8h0M60.0 487.4h0M40.2 521.8h0M78.9 518.9h0M63.4 511.9h0M77.1 496.2h0M68.7 522.4h0M111.8 550.1h0M95.2 521.3h0M47.4 505.8h0M90.1 525.6h0M42.6 501.5h0M71.8 538.3h0M96.5 481.3h0M66.3 533.1h0M97.1 533.9h0M38.9 491.6h0M57.7 542.3h0M61.1 489.9h0M90.0 539.5h0M55.9 551.8h0M96.8 530.0h0M64.9 507.4h0M97.1 504.0h0M45.3 537.8h0M92.5 534.2h0M113.2 565.2h0M91.9 500.2h0M106.2 514.2h0M90.7 501.0h0M81.6 500.3h0M41.4 557.1h0M72.7 539.8h0M92.3 545.5h0M91.1 518.2h0M93.8 523.7h0M71.4 530.2h0M80.0 514.5h0M55.7 564.4h0M83.0 488.1h0M78.3 483.3h0M77.6 543.8h0M50.1 483.9h0M62.3 570.9h0M80.7 509.2h0M67.9 528.1h0M67.5 509.9h0M77.6 503.0h0M36.4 516.2h0M88.1 540.0h0M97.7 521.7h0M72.0 528.0h0M84.1 565.5h0M87.0 520.5h0M72.0 509.8h0M48.3 523.8h0M95.2 530.8h0M76.9 551.2h0M96.2 516.4h0M57.3 534.2h0M64.4 528.3h0M69.0 519.2h0M38.6 499.1h0M75.0 499.1h0M85.1 544.7h0M101.5 504.4h0M84.6 504.3h0M32.1 537.3h0M88.8 554.6h0M54.4 550.1h0M81.7 547.2h0M72.0 542.5h0M74.0 502.1h0M60.6 528.6h0M72.6 496.3h0M59.5 515.9h0M49.3 517.1h0M74.8 538.9h0M50.6 479.6h0M68.4 539.7h0M69.7 508.4h0M112.5 563.7h0M77.3 536.7h0M36.0 510.5h0M69.4 488.9h0M76.1 504.9h0M79.4 533.0h0M45.4 489.7h0M23.3 520.2h0M74.0 532.0h0M47.2 546.2h0M73.4 573.9h0M48.2 540.8h0M73.7 511.0h0M63.8 506.2h0M86.6 541.9h0M40.1 517.2h0M83.2 502.3h0M60.3 524.7h0M70.8 485.9h0M59.5 507.7h0M87.2 557.8h0M62.1 512.6h0M78.7 503.5h0M78.1 520.2h0M36.3 502.8h0M60.3 513.4h0M76.6 502.2h0M57.3 524.8h0M90.4 484.1h0M71.9 546.6h0M62.7 528.7h0M73.6 517.6h0M29.0 510.4h0M112.2 518.8h0M60.3 515.4h0M52.9 541.8h0M52.7 566.7h0M30.9 538.7h0M81.7 541.5h0M91.8 528.5h0M67.0 523.6h0M103.5 543.0h0M73.7 539.5h0M88.7 521.5h0M92.6 522.7h0M51.1 507.7h0M90.7 551.0h0M66.8 481.7h0M65.4 521.9h0M85.2 498.7h0M86.7 508.4h0M66.6 511.1h0M43.4 534.0h0M60.8 508.9h0M92.1 511.5h0M99.3 537.8h0M69.6 522.4h0M43.3 503.5h0M55.4 550.5h0M53.3 524.2h0M87.6 547.7h0M53.1 552.1h0M66.4 507.9h0M88.8 542.9h0M77.3 501.6h0M79.1 549.1h0M39.6 519.0h0M72.3 538.4h0M46.2 572.3h0M45.6 525.0h0M45.4 523.9h0M66.5 529.8h0M64.4 549.4h0M35.5 515.3h0M93.1 501.9h0M67.3 513.5h0M68.7 543.2h0M97.9 552.9h0M36.3 550.4h0M83.0 526.9h0M77.8 491.2h0M78.2 545.5h0M57.0 523.1h0M88.6 524.0h0M48.9 545.8h0M53.2 477.9h0M44.9 528.0h0M77.6 538.8h0M90.5 482.7h0M44.2 535.1h0M70.4 513.7h0M49.5 539.3h0M22.7 511.7h0M99.6 510.2h0M66.8 486.6h0M45.5 545.8h0M78.9 541.8h0M73.6 532.9h0M90.0 498.6h0M44.2 509.8h0M22.9 519.0h0M38.9 558.7h0M77.6 508.9h0M77.5 521.4h0M61.0 518.9h0M39.7 484.4h0M41.8 522.2h0M80.2 527.3h0M68.6 542.7h0M68.9 549.8h0M59.0 518.9h0M111.8 511.2h0M56.6 552.1h0M78.1 533.0h0M86.8 527.3h0M76.1 485.0h0M58.2 542.9h0M28.4 499.3h0M61.3 540.8h0M61.2 541.0h0M99.8 509.1h0M72.4 484.8h0M50.3 505.0h0M56.6 500.4h0M75.1 503.9h0M68.3 520.0h0M47.5 482.4h0M92.2 536.1h0M76.5 494.1h0M106.4 523.4h0M78.8 567.2h0M39.6 532.6h0M87.3 495.1h0M62.4 556.3h0M64.9 503.7h0M35.1 500.7h0M57.8 524.1h0M66.4 541.9h0M96.3 516.1h0M58.3 525.8h0M66.7 534.9h0M89.8 546.1h0M49.3 551.3h0M66.8 542.8h0M67.9 505.6h0M85.8 519.0h0M71.3 524.1h0M82.4 560.8h0M83.8 523.9h0M41.1 529.9h0M64.2 493.3h0M70.9 489.4h0M106.9 535.0h0M49.7 508.1h0M65.9 516.3h0M60.6 486.3h0M37.3 528.9h0M85.5 520.2h0M77.1 512.0h0M100.6 549.8h0M49.9 532.6h0M86.6 518.9h0M96.2 539.9h0M62.2 534.2h0M64.2 485.7h0M40.0 522.3h0M91.5 523.1h0M67.5 535.3h0M73.8 525.7h0M97.4 558.8h0M46.0 490.8h0M64.3 520.0h0M76.1 495.2h0M66.3 488.7h0M84.5 550.5h0M94.6 543.1h0M58.8 508.4h0M66.1 518.4h0M47.2 532.7h0M72.0 509.6h0M74.3 550.2h0M60.3 491.5h0M43.1 541.9h0M56.6 526.8h0M89.6 547.7h0M44.2 507.4h0M55.3 478.2h0M62.9 487.5h0M91.9 548.5h0M87.5 514.0h0M53.9 538.4h0M60.7 551.2h0M57.2 489.0h0M109.5 530.1h0M73.1 539.7h0M102.3 566.2h0M51.7 477.7h0M52.7 557.5h0M96.5 518.9h0M50.0 544.7h0M40.1 505.3h0M42.9 517.0h0M55.0 533.9h0M69.0 525.6h0M36.0 536.0h0M45.0 565.4h0M56.3 492.6h0M91.9 523.8h0M70.3 507.5h0M85.7 523.3h0M74.4 511.6h0M59.4 532.2h0M77.3 541.9h0M70.3 528.1h0M70.5 522.1h0M67.2 492.9h0M78.8 532.2h0M51.6 512.8h0M72.8 535.8h0M72.7 495.4h0M33.6 507.3h0M64.4 519.0h0M108.2 487.3h0M50.0 481.9h0M39.6 544.5h0M48.4 497.3h0M105.3 517.4h0M82.5 516.3h0M93.9 531.2h0M85.9 510.6h0M47.7 501.4h0M69.5 541.3h0M64.2 535.7h0M99.9 520.2h0M59.1 510.3h0M70.0 530.7h0M47.9 523.1h0M98.7 518.2h0M78.4 507.3h0M108.1 500.0h0M42.8 513.9h0M55.7 555.5h0M87.3 515.6h0M71.9 481.9h0M82.5 532.6h0M96.4 515.6h0M47.4 505.2h0M65.6 489.7h0M47.6 487.4h0M91.8 504.0h0M41.5 529.8h0M95.0 494.7h0M63.9 512.1h0M89.0 551.3h0M43.3 523.0h0M72.0 539.8h0M103.9 503.8h0M101.5 503.1h0M101.6 526.0h0M75.9 538.3h0M47.2 516.5h0M49.0 518.8h0M74.8 509.9h0M79.6 529.3h0M67.7 516.2h0M87.2 515.0h0M46.2 513.7h0M58.4 545.7h0M87.5 490.5h0M48.3 528.4h0M44.5 511.1h0M56.0 521.1h0M31.4 519.3h0M101.0 530.4h0M59.3 534.0h0M69.4 540.0h0M50.9 495.4h0M61.0 521.0h0M97.2 550.2h0M81.6 546.8h0M55.4 532.8h0M50.6 486.9h0M90.1 535.6h0M53.4 512.8h0M73.9 561.0h0M85.1 533.5h0M68.3 563.5h0M73.8 553.9h0M35.5 497.7h0M76.1 522.3h0M75.7 495.4h0M97.3 557.0h0M65.6 531.4h0M60.7 539.7h0M55.9 511.7h0M35.3 515.0h0M33.3 495.8h0M37.4 528.9h0M75.6 530.8h0M86.7 549.6h0M38.9 569.9h0M72.6 497.4h0M58.6 507.7h0M101.2 525.6h0M44.2 502.9h0M89.5 494.1h0M70.7 532.7h0M108.7 507.0h0M53.1 563.9h0M78.7 572.3h0M91.7 526.2h0M36.9 517.5h0M40.5 488.5h0M36.5 527.5h0M90.9 496.4h0M51.1 513.7h0M38.6 547.1h0M66.4 537.1h0M62.5 506.4h0M70.6 545.7h0M51.9 500.2h0M61.8 509.6h0M53.2 529.4h0M77.2 572.5h0M75.4 521.0h0M70.8 553.1h0M63.6 506.3h0M81.4 520.8h0M89.7 525.6h0M52.6 521.9h0M66.1 520.4h0M93.3 496.3h0M85.4 561.2h0M76.2 505.6h0M108.3 491.3h0M49.7 512.0h0M100.1 550.1h0M75.8 553.4h0M79.5 516.8h0M73.1 551.8h0M68.5 493.6h0M97.7 556.7h0M59.0 531.2h0M41.6 546.7h0M40.0 499.2h0M70.2 542.7h0M82.5 501.9h0M99.7 499.1h0M57.1 559.4h0M54.9 539.0h0M63.6 507.4h0M46.2 522.1h0M96.8 512.0h0M81.3 553.1h0M95.4 538.0h0M103.7 506.3h0M96.7 527.3h0M102.3 528.7h0M61.5 556.6h0M92.9 530.1h0M77.5 507.7h0M83.0 526.9h0M85.6 495.2h0M51.1 489.6h0M27.8 519.0h0M65.3 515.6h0M74.9 488.0h0M91.0 506.5h0M27.4 513.5h0M57.8 520.3h0M31.7 544.3h0M67.2 500.6h0M84.6 532.9h0M80.6 543.6h0M98.6 567.4h0M58.4 501.4h0M41.6 523.1h0M65.9 531.5h0M71.2 508.4h0M70.2 529.1h0M53.9 514.8h0M43.0 552.4h0M95.9 515.3h0M107.3 533.9h0M89.6 508.2h0M91.4 535.3h0M54.2 530.2h0M56.5 529.2h0M70.3 537.5h0M64.5 528.4h0M18.4 543.8h0M67.3 529.7h0M28.9 503.1h0M63.9 508.6h0M38.9 542.8h0M57.8 510.7h0M85.1 570.7h0M48.8 509.3h0M28.3 485.8h0M63.0 549.0h0M73.0 513.2h0M40.2 537.9h0M58.1 526.7h0M86.8 501.7h0M45.2 514.3h0M73.3 522.8h0M71.6 522.8h0M56.7 480.7h0M46.6 538.0h0M102.9 502.9h0M73.4 537.2h0M87.5 508.2h0M93.3 531.9h0M55.7 513.5h0M52.2 540.9h0M103.1 510.1h0M35.3 520.5h0M39.8 537.2h0M91.1 527.8h0M93.0 485.9h0M30.1 485.5h0M85.7 542.4h0M60.7 560.6h0M31.9 525.2h0M90.2 548.2h0M42.3 515.8h0M41.5 529.8h0M67.8 534.8h0M81.0 535.2h0M52.6 563.0h0M52.3 514.7h0M97.7 537.2h0M97.2 538.3h0M102.2 486.4h0M71.1 490.4h0M98.9 527.1h0M73.9 521.7h0M83.5 492.4h0M47.1 569.3h0M56.8 541.0h0M63.8 504.2h0M78.2 544.6h0M76.6 521.4h0M72.7 499.7h0M52.7 533.8h0M74.7 504.3h0M59.9 521.7h0M53.8 531.4h0M44.6 542.2h0M31.8 510.1h0M51.7 547.6h0M87.6 485.7h0M61.8 502.3h0M78.8 484.9h0M70.9 500.4h0M85.8 536.3h0M51.0 496.2h0M55.1 518.0h0M107.6 522.7h0M24.6 531.0h0M49.3 521.5h0M68.9 483.5h0M55.8 523.0h0M62.2 529.3h0M96.7 528.1h0M92.7 531.1h0M81.8 540.6h0M63.6 537.4h0M87.5 564.3h0M68.7 548.1h0M101.4 505.5h0M79.3 517.0h0M35.3 532.3h0M72.9 556.5h0M80.9 522.2h0M52.5 483.6h0M58.4 537.8h0M92.8 544.1h0M73.0 491.4h0M74.6 550.5h0M83.5 500.8h0M77.0 541.9h0M62.5 525.5h0M89.1 510.5h0M93.7 519.9h0M37.5 521.6h0M64.4 531.4h0M61.9 504.0h0M26.8 525.9h0M88.0 516.8h0M90.1 506.9h0M41.9 518.3h0M89.3 504.1h0M45.3 487.1h0M60.8 511.0h0M54.9 515.3h0M65.6 539.8h0M54.4 509.4h0M94.5 498.3h0M56.5 552.0h0M94.4 504.3h0M37.2 510.0h0M45.5 530.1h0M47.8 498.5h0M96.1 483.0h0M67.3 522.5h0M104.3 538.8h0M41.7 515.4h0M51.0 566.2h0M55.7 555.9h0M36.1 543.5h0M81.3 553.5h0M88.4 518.0h0M43.7 527.6h0M24.4 544.6h0M53.8 505.1h0M94.2 496.8h0M64.8 534.8h0M50.7 511.5h0M49.4 525.0h0M90.4 521.2h0M63.2 507.0h0M67.1 509.6h0M79.5 534.8h0M58.4 513.6h0M80.7 517.0h0M63.7 486.2h0M88.0 526.5h0M61.1 555.7h0M53.9 503.8h0M62.6 517.5h0M48.6 539.4h0M60.8 524.6h0M78.3 546.5h0M69.1 507.0h0M94.2 539.3h0M76.6 509.6h0M38.7 537.6h0M100.8 534.4h0M39.5 508.3h0M100.9 513.9h0M79.7 522.6h0M107.8 504.6h0M81.1 490.1h0M49.2 490.2h0M73.3 487.1h0M71.8 504.7h0M107.6 571.9h0M50.9 558.1h0M63.9 511.1h0M34.2 538.5h0M101.2 544.8h0M57.0 557.8h0M35.7 537.5h0M86.9 519.1h0M68.6 525.6h0M64.7 563.3h0M56.8 537.0h0M37.6 544.7h0M62.3 517.6h0M67.1 515.5h0M67.7 528.7h0M57.6 518.5h0M78.1 512.6h0M71.4 489.2h0M58.8 557.0h0M61.6 507.4h0M100.6 532.3h0M70.2 538.9h0M97.8 511.8h0M48.0 502.6h0M58.2 530.5h0M33.4 531.8h0M54.4 498.9h0M57.7 546.0h0M75.6 522.9h0M84.5 506.5h0M81.6 522.5h0M59.6 478.9h0M37.1 562.9h0M40.1 528.5h0M64.5 507.4h0M70.2 535.2h0M95.4 495.9h0M94.3 556.8h0M86.4 518.3h0M42.0 544.6h0M58.2 553.8h0M101.1 536.8h0M71.0 551.9h0M55.7 522.2h0M70.8 560.2h0M49.8 529.3h0M71.1 558.3h0M71.2 516.4h0M64.1 517.6h0M54.4 492.4h0M84.8 498.1h0M79.4 509.6h0M92.2 534.0h0M86.5 531.6h0M60.2 553.3h0M58.7 519.5h0M36.8 562.5h0M43.6 500.0h0M95.4 502.7h0M77.8 534.3h0M69.6 519.9h0M61.3 527.6h0M74.0 513.4h0M65.2 520.3h0M81.1 499.4h0M106.5 507.9h0M59.3 485.6h0M54.9 496.7h0M102.1 503.6h0M36.1 498.2h0M78.9 507.6h0M100.6 488.9h0M54.1 522.5h0M95.3 543.4h0M64.4 481.0h0M37.2 505.4h0M49.3 544.3h0M33.2 516.5h0M94.7 567.6h0M83.3 547.3h0M57.9 517.4h0M59.5 512.2h0M52.3 481.4h0M98.0 553.5h0M47.7 518.5h0M71.1 522.4h0M62.7 489.1h0M78.7 528.7h0M75.4 510.8h0M41.5 500.3h0M30.2 542.3h0M31.4 515.3h0M97.3 485.7h0M68.0 554.0h0M59.4 505.3h0M61.4 529.1h0M47.4 532.1h0M31.8 552.4h0M78.8 537.3h0M94.8 526.2h0M56.0 539.1h0M84.0 543.0h0M49.9 530.4h0M65.6 521.8h0M74.8 503.8h0M74.1 519.8h0M74.8 504.8h0M73.8 519.1h0M80.0 533.5h0M49.8 526.7h0M70.5 527.7h0M101.8 506.6h0M73.4 488.2h0M68.3 480.1h0M87.5 520.3h0M102.2 557.0h0M70.8 558.2h0M65.2 521.9h0M71.8 551.5h0M76.1 494.0h0M29.4 488.3h0M37.9 492.1h0M96.3 489.6h0M90.2 494.3h0M88.1 492.4h0M82.5 488.4h0M62.2 487.5h0M41.1 481.9h0M30.9 482.8h0M70.7 495.2h0M31.6 487.6h0M83.9 482.2h0M40.2 479.9h0M38.6 493.0h0M22.1 483.3h0M91.8 490.5h0M61.3 494.3h0M112.6 491.1h0M101.4 493.9h0M36.2 480.1h0M109.0 493.4h0M36.7 491.6h0M58.3 489.2h0M89.3 481.4h0M90.5 486.9h0M74.3 490.0h0M84.5 492.5h0M102.1 481.3h0M41.0 483.2h0M69.7 483.1h0M59.0 483.4h0M49.9 484.8h0M53.3 488.9h0M45.9 492.0h0M59.8 489.7h0M44.4 489.9h0M55.3 488.1h0M63.5 487.5h0M107.8 479.8h0M87.0 493.6h0M86.4 479.7h0M46.0 484.1h0M60.8 480.2h0M60.1 480.7h0M25.1 482.0h0M60.4 483.6h0M83.4 489.4h0M85.7 483.8h0M42.4 492.2h0M21.5 490.1h0M86.7 490.7h0M45.1 482.5h0M34.8 482.7h0M113.0 492.0h0M62.0 490.9h0M37.5 493.4h0M26.5 492.3h0M40.4 479.9h0M79.0 481.0h0M27.6 485.0h0M109.4 486.7h0M92.3 485.7h0M84.9 483.3h0M48.6 493.5h0M89.8 489.5h0M104.7 485.9h0M95.8 485.1h0M103.6 480.7h0M50.7 493.4h0M105.8 484.6h0M103.2 486.7h0M74.7 481.7h0M62.9 494.4h0M64.1 485.8h0M51.6 494.4h0M44.4 490.9h0M38.5 494.4h0M56.1 482.2h0M41.0 480.5h0M22.3 488.2h0M64.3 486.1h0M42.0 490.5h0M101.3 489.8h0M46.9 491.1h0M45.2 492.3h0M63.9 482.9h0M82.0 487.0h0M20.4 485.5h0M80.7 491.2h0M32.4 494.9h0M43.7 489.6h0M62.7 484.1h0M33.7 482.4h0M39.4 485.8h0M49.1 485.8h0M29.3 486.1h0M71.2 483.0h0M29.4 487.2h0M62.4 490.2h0M69.3 487.5h0M93.3 491.9h0M113.6 490.5h0M21.3 481.3h0M52.3 480.7h0M113.3 494.2h0M45.4 490.1h0M88.3 490.9h0M93.4 494.4h0M58.4 484.2h0M109.6 493.3h0M110.3 495.1h0M76.6 492.5h0M87.9 491.9h0M71.5 481.0h0M83.5 492.6h0M110.6 482.6h0M23.1 485.8h0M55.6 489.5h0M41.9 481.5h0M19.8 487.5h0M53.0 486.2h0M56.1 488.6h0M103.4 480.9h0M47.7 491.1h0M43.8 493.8h0M60.9 492.6h0M28.8 490.6h0M61.1 492.6h0M66.6 492.1h0M31.0 493.6h0M51.8 487.5h0M28.8 484.3h0M95.7 491.9h0M71.5 488.3h0M74.4 484.9h0M96.5 487.2h0M40.4 487.8h0M105.4 485.7h0M99.3 494.2h0M35.5 486.9h0M82.7 487.0h0M85.9 480.9h0M47.7 481.5h0M24.0 490.5h0M107.9 493.9h0M47.4 487.2h0M23.5 492.2h0M77.3 482.7h0M52.2 482.9h0M58.6 491.8h0M85.1 491.7h0M92.7 487.8h0M106.1 489.6h0M78.7 487.7h0M96.6 485.4h0M49.7 482.9h0M98.7 489.4h0M55.8 487.8h0M33.3 492.9h0M54.6 486.8h0M43.8 486.4h0M72.3 494.4h0M21.6 488.1h0M71.9 484.7h0M34.1 480.8h0M96.3 492.0h0M39.9 483.5h0M63.2 480.3h0M109.0 485.5h0M23.9 486.2h0M28.7 490.6h0M27.5 490.3h0M73.5 481.7h0M90.9 491.1h0M42.3 494.5h0M48.8 488.3h0M107.0 493.7h0M45.3 493.5h0M45.6 490.5h0M88.5 480.0h0M41.6 495.3h0M34.9 494.4h0M101.1 481.6h0M60.5 486.4h0M108.6 487.5h0M77.5 479.5h0M19.9 479.8h0M24.8 495.2h0M79.6 494.3h0M50.7 494.0h0M72.9 490.4h0M74.2 494.4h0M33.6 494.0h0M84.9 482.1h0M27.4 494.4h0M33.9 492.6h0M51.8 487.7h0M103.9 492.8h0M59.4 485.1h0M51.6 483.2h0M73.5 482.6h0M29.9 486.4h0M19.3 490.9h0M105.8 491.1h0M82.9 488.0h0M61.0 488.7h0M92.7 479.9h0M72.0 486.2h0M95.9 483.5h0M32.3 489.7h0M92.1 480.8h0M93.3 485.6h0M87.0 489.6h0M93.3 487.1h0M40.8 483.0h0M89.0 484.7h0M53.7 480.1h0M49.3 494.6h0M111.6 493.2h0M93.0 487.7h0M23.5 486.6h0M48.9 493.3h0M59.5 483.7h0M101.0 484.9h0M94.3 481.5h0M70.5 489.9h0M52.0 482.2h0M57.4 490.1h0M109.1 491.0h0M54.9 487.8h0M60.6 489.0h0M63.2 483.5h0M22.2 493.2h0M41.9 486.6h0M92.7 495.1h0M76.5 481.9h0M24.3 483.2h0M43.3 483.6h0M104.8 482.3h0M74.1 493.6h0M43.2 494.6h0M103.4 487.6h0M98.4 489.9h0M93.3 487.2h0M79.6 486.6h0M30.1 491.7h0M37.6 494.9h0M71.0 485.6h0M50.6 489.6h0M50.2 489.4h0M80.4 485.6h0M74.7 487.9h0M71.8 492.7h0M94.3 480.2h0M90.7 495.0h0M64.8 481.4h0M88.3 492.0h0M80.0 494.4h0M42.0 488.0h0M113.4 483.2h0M100.5 480.9h0M87.8 482.1h0M33.5 490.7h0M64.5 491.6h0M91.5 480.0h0M69.2 491.6h0M72.4 482.9h0M111.0 492.9h0M58.7 482.9h0M52.8 493.8h0M43.9 484.0h0M73.1 490.5h0M62.7 481.7h0M48.3 494.9h0M30.5 489.5h0M46.0 487.8h0M74.4 484.1h0M36.2 490.3h0M19.8 491.2h0M60.7 489.3h0M47.6 482.4h0M32.5 486.8h0M64.8 492.1h0M22.3 488.6h0M67.3 482.1h0M91.5 486.9h0M93.7 488.7h0M69.8 483.1h0M62.4 491.4h0M45.2 484.5h0M68.9 486.6h0M107.2 486.5h0M40.1 483.4h0M87.7 480.3h0M33.8 488.4h0M34.9 491.8h0M110.9 480.8h0M93.0 484.0h0M67.2 489.3h0M49.7 489.9h0M50.7 483.0h0M113.1 479.7h0M100.4 480.2h0M100.3 490.6h0M26.4 482.6h0M50.7 482.3h0M29.9 485.1h0M39.8 493.6h0M41.9 490.5h0M96.5 481.0h0M105.0 488.2h0M23.1 480.4h0M64.6 488.5h0M104.8 494.2h0M70.2 483.1h0M62.3 494.3h0M110.6 490.0h0M72.7 495.1h0M107.7 492.6h0M60.7 479.9h0M66.0 484.3h0M42.4 488.5h0M70.6 494.8h0M53.0 490.6h0M95.7 484.8h0M61.0 481.1h0M76.7 489.5h0M29.9 495.0h0M67.6 481.2h0M69.0 492.4h0M72.2 488.0h0M40.6 485.9h0M105.8 481.0h0M33.1 483.3h0M53.8 494.4h0M69.9 483.3h0M51.6 487.6h0M79.9 484.1h0M67.7 486.9h0M36.3 481.0h0M21.3 494.8h0M64.9 485.1h0M27.0 491.0h0M60.5 486.3h0M49.8 482.6h0M88.9 485.8h0M24.0 488.3h0M45.9 494.5h0M21.0 493.3h0M34.5 486.8h0M29.3 483.9h0M93.6 491.4h0M105.9 494.7h0M112.7 493.0h0M51.1 494.6h0M49.8 492.2h0M68.4 481.0h0M66.7 495.1h0M74.5 484.2h0M87.2 490.0h0M74.9 488.8h0M43.0 485.4h0M49.7 486.6h0M113.4 480.7h0M36.7 492.4h0M74.6 487.8h0M107.8 484.1h0M55.4 482.3h0M89.2 488.6h0M62.9 486.8h0M62.4 495.1h0M74.8 486.6h0M65.2 485.1h0M41.5 493.9h0M106.5 491.2h0M89.8 488.3h0M102.8 492.3h0M61.1 495.0h0M39.2 481.3h0M76.3 492.5h0M103.7 489.8h0M98.4 492.7h0M71.7 481.8h0M85.3 479.7h0M42.9 486.7h0M41.8 489.8h0M104.7 481.3h0M37.2 481.2h0M82.3 493.9h0M43.4 484.1h0M70.8 485.5h0M27.3 483.5h0M19.4 479.9h0M53.6 487.9h0M39.5 485.0h0M28.0 493.0h0M110.6 486.4h0M64.1 491.8h0M44.7 482.4h0M100.5 485.5h0M79.4 492.4h0M68.6 480.0h0M73.9 490.0h0M59.4 489.4h0M58.9 489.8h0M93.0 493.9h0M93.4 489.1h0M24.9 488.7h0M112.8 492.6h0M52.8 481.6h0M32.8 483.3h0M20.9 487.9h0M88.9 486.7h0M59.0 483.5h0M24.4 486.0h0M37.4 491.3h0M23.4 487.1h0M52.9 493.3h0M68.0 492.7h0M25.3 489.3h0M88.8 487.8h0M26.6 491.5h0M53.4 489.0h0M102.4 484.9h0M55.3 487.4h0M42.0 490.4h0M110.4 493.2h0M45.7 490.5h0M106.2 490.5h0M43.1 483.1h0M40.2 486.9h0M46.7 493.8h0M38.9 487.2h0M29.7 483.9h0M36.5 488.4h0M82.8 493.8h0M76.3 488.5h0M103.8 480.3h0M75.4 484.7h0M20.6 492.8h0M37.0 492.9h0M84.2 482.6h0M99.4 493.7h0M97.0 487.5h0M110.8 490.6h0M85.2 487.6h0M63.4 491.6h0M71.5 485.3h0M29.0 490.7h0M95.1 491.6h0M76.6 481.8h0M50.3 491.4h0M89.4 484.0h0M58.1 483.7h0M105.4 486.4h0M48.8 490.6h0M96.0 488.3h0M70.6 483.0h0M43.0 485.5h0M66.8 489.3h0M30.0 494.1h0M101.1 490.5h0M43.2 484.4h0M43.0 481.1h0M39.8 486.0h0M25.9 484.8h0M88.6 490.8h0M34.1 480.8h0M101.7 491.0h0M42.5 495.1h0M86.6 481.9h0M70.2 486.9h0M22.3 483.0h0M86.3 493.0h0M89.7 485.5h0M85.1 484.9h0M30.0 494.0h0M109.6 492.1h0M45.8 490.2h0M97.7 493.5h0M55.2 485.1h0M49.5 485.5h0M32.6 494.8h0M27.4 490.0h0M50.8 487.1h0M107.3 491.1h0M81.1 489.4h0M70.3 484.1h0M65.6 489.0h0M46.4 485.7h0M24.7 493.5h0M28.4 495.2h0M37.3 485.8h0M27.8 486.2h0M42.4 491.1h0M26.8 489.3h0M94.9 487.5h0M97.8 479.9h0M54.8 491.8h0" stroke="#d860e4" stroke-width="1.0" stroke-linecap="round" opacity="0.9" fill="none"/>
<path d="M65.2 537.3h0M77.7 503.9h0M78.5 529.9h0M54.8 517.5h0M88.1 519.6h0M48.8 517.2h0M63.6 549.7h0M64.8 529.5h0M106.6 544.9h0M81.4 514.3h0M93.4 528.1h0M91.7 515.0h0M64.0 553.5h0M107.0 533.1h0M89.5 493.1h0M74.6 532.1h0M93.3 509.5h0M78.7 549.8h0M79.1 552.0h0M104.9 535.8h0M59.0 534.5h0M41.9 536.8h0M58.9 520.7h0M76.2 519.1h0M81.3 492.5h0M74.7 532.8h0M80.1 525.5h0M68.7 531.5h0M72.1 516.9h0M74.7 563.2h0M69.0 499.1h0M94.2 517.0h0M73.7 497.8h0M89.4 500.7h0M54.3 511.5h0M98.3 505.9h0M58.7 535.3h0M90.9 547.0h0M87.1 512.5h0M83.0 520.1h0M94.5 537.0h0M76.0 554.3h0M68.8 556.2h0M70.5 503.1h0M62.8 507.5h0M53.1 536.3h0M65.1 495.7h0M73.8 510.1h0M107.0 496.6h0M105.0 528.4h0M91.5 491.2h0M55.7 517.6h0M72.7 508.7h0M103.3 487.7h0M77.0 520.9h0M68.4 521.1h0M77.6 544.8h0M75.5 519.1h0M48.2 522.8h0M80.2 517.4h0M74.6 482.6h0M75.3 509.6h0M69.8 545.2h0M67.6 494.6h0M71.6 504.4h0M87.6 534.6h0M71.1 511.3h0M51.3 515.8h0M54.1 512.8h0M49.3 535.6h0M84.2 536.0h0M93.6 501.6h0M59.3 516.8h0M61.6 503.5h0M94.9 488.0h0M99.0 500.6h0M68.0 525.8h0M105.5 530.1h0M80.4 501.9h0M86.8 518.7h0M60.7 515.7h0M78.9 506.6h0M73.8 513.7h0M90.4 548.1h0M92.7 516.6h0M81.1 505.7h0M90.6 555.1h0M82.1 505.8h0M65.9 503.3h0M75.4 514.7h0M85.3 515.5h0M77.9 533.6h0M82.4 538.5h0M66.9 532.3h0M86.0 508.2h0M75.3 488.1h0M79.8 504.5h0M98.8 549.0h0M75.3 520.2h0M87.4 524.5h0M96.9 519.0h0M83.8 532.5h0M66.1 508.9h0M71.7 560.3h0M74.2 532.5h0M81.0 506.3h0M69.8 512.5h0M53.2 500.6h0M113.6 501.9h0M95.0 506.3h0M92.6 510.8h0M80.3 524.3h0M86.0 533.0h0M88.0 495.5h0M81.9 541.6h0M82.1 538.9h0M58.8 549.0h0M57.1 535.9h0M65.9 517.5h0M78.0 485.4h0M88.3 548.4h0M90.0 531.9h0M63.6 530.1h0M89.8 502.2h0M71.5 523.3h0M79.1 519.8h0M81.8 557.7h0M69.7 506.5h0M100.5 516.0h0M85.5 525.6h0M60.5 520.0h0M85.7 534.1h0M55.6 509.1h0M68.5 558.2h0M72.8 547.9h0M66.8 520.4h0M63.3 507.3h0M105.9 522.7h0M61.6 520.0h0M85.0 492.2h0M90.2 514.7h0M80.1 507.2h0M85.7 539.0h0M67.1 515.0h0M66.4 527.2h0M52.7 508.3h0M74.2 526.4h0M82.7 524.9h0M66.6 518.3h0M95.9 500.8h0M83.3 489.7h0M86.7 509.5h0M100.0 523.9h0M83.4 515.2h0M74.5 522.8h0M109.4 504.8h0M73.5 494.0h0M71.5 511.4h0M68.4 509.4h0M94.9 514.7h0M63.1 515.0h0M52.5 491.5h0M75.9 501.1h0M87.7 485.6h0M69.9 557.2h0M72.6 500.5h0M82.1 517.8h0M85.4 512.9h0M93.9 498.1h0M56.0 495.4h0M90.5 525.7h0M59.5 527.2h0M95.5 507.9h0M69.4 533.2h0M76.7 536.7h0M87.9 479.1h0M84.4 565.3h0M52.1 547.2h0M59.5 512.9h0M73.6 498.9h0M81.8 512.4h0M78.7 501.5h0M57.3 504.3h0M84.2 509.2h0M72.3 481.2h0M98.9 561.1h0M86.7 515.1h0M88.3 505.7h0M80.7 541.8h0M70.4 541.5h0M76.5 531.7h0M85.8 514.9h0M60.0 523.1h0M66.8 530.4h0M79.9 532.8h0M104.4 524.6h0M97.8 527.2h0M78.2 560.7h0M67.9 523.4h0M106.8 548.4h0M50.3 497.1h0M74.4 534.7h0M99.6 522.7h0M82.8 530.1h0M71.2 531.3h0M79.1 539.3h0M69.5 528.7h0M54.3 543.0h0M95.0 554.1h0M83.2 524.4h0M111.1 538.9h0M94.1 545.1h0M77.4 537.2h0M92.0 501.3h0M78.4 485.4h0M73.8 493.4h0M80.1 512.9h0M63.3 513.1h0M71.8 525.2h0M93.1 548.4h0M58.7 519.9h0M106.1 500.0h0M65.8 545.3h0M74.3 532.4h0M72.8 534.5h0M91.8 521.8h0M71.9 520.9h0M94.1 532.0h0M71.3 490.3h0M58.6 500.0h0M83.0 508.5h0M94.9 533.4h0M84.2 518.2h0M84.0 530.4h0M72.5 516.1h0M73.0 538.9h0M78.1 545.6h0M77.3 514.6h0M88.1 527.8h0M85.9 523.2h0M72.5 513.7h0M64.0 527.4h0M76.7 530.0h0M90.5 491.2h0M101.6 513.0h0M107.0 516.6h0M76.3 513.1h0M94.4 508.1h0M74.6 518.9h0M69.4 504.5h0M91.6 521.0h0M78.4 536.9h0M90.7 554.9h0M85.5 529.0h0M61.6 527.1h0M84.6 528.0h0M73.9 547.1h0M57.7 510.7h0M56.7 542.1h0M87.8 524.8h0M84.0 503.3h0M109.9 523.1h0M89.5 502.5h0M77.1 543.3h0M73.5 547.8h0M75.2 495.2h0M74.6 529.9h0M86.4 500.3h0M95.8 523.2h0M100.8 524.4h0M63.3 500.3h0M69.1 519.5h0M75.5 527.4h0M35.1 535.6h0M71.7 505.2h0M75.8 506.9h0M73.1 519.2h0M69.4 531.3h0M78.0 529.1h0M68.7 520.9h0M55.3 537.1h0M92.9 545.4h0M96.9 487.6h0M71.0 521.5h0M71.7 507.1h0M87.4 544.0h0M68.2 534.6h0M79.7 485.3h0M81.5 542.3h0M66.1 498.8h0M85.2 526.1h0M82.5 523.1h0M85.7 511.3h0M109.4 525.1h0M63.8 508.2h0M87.6 515.7h0M82.1 490.5h0M80.8 545.2h0M86.5 527.4h0M82.2 559.2h0M68.6 521.7h0M70.4 532.5h0M89.7 511.4h0M74.1 507.0h0M108.7 511.0h0M78.3 516.3h0M81.2 499.2h0M82.6 525.6h0M78.8 507.7h0M83.2 516.8h0M76.7 537.9h0M67.0 528.6h0M91.2 545.0h0M111.7 547.1h0M66.1 533.6h0M94.2 539.7h0M86.8 534.3h0M53.8 523.5h0M76.8 529.9h0M55.3 519.1h0M84.0 533.1h0M70.0 521.1h0M89.2 516.6h0M68.3 521.2h0M70.2 525.4h0M97.7 501.5h0M103.3 503.5h0M85.8 529.9h0M65.8 527.4h0M81.8 540.3h0M101.2 532.0h0M86.5 536.9h0M80.6 492.7h0M73.2 530.4h0M93.0 507.7h0M95.9 520.0h0M69.7 503.3h0M71.1 537.0h0M90.0 535.1h0M87.8 528.1h0M70.4 523.9h0M78.4 540.8h0M66.8 523.9h0M100.5 524.2h0M69.5 533.2h0M71.5 512.3h0M76.2 522.2h0M78.7 486.7h0M74.9 492.8h0M111.8 531.9h0M78.6 510.8h0M54.1 530.7h0M81.6 537.1h0M75.4 522.3h0M76.0 553.6h0M83.5 514.5h0M72.7 515.6h0M80.1 524.4h0M80.4 536.8h0M67.9 514.2h0M82.7 509.2h0M88.8 523.4h0M84.3 484.3h0M77.4 522.6h0M88.9 529.5h0M67.4 498.7h0M64.3 498.3h0M64.5 558.5h0M67.1 522.6h0M97.8 491.8h0M85.2 535.5h0M74.2 509.9h0M106.4 511.7h0M74.9 524.9h0M62.6 541.0h0M90.7 488.6h0M96.9 538.8h0M74.8 522.2h0M69.9 532.3h0M96.0 546.9h0M73.0 515.0h0M91.1 498.5h0M81.1 544.3h0M86.2 481.1h0M82.1 529.5h0M61.5 504.3h0M66.5 525.3h0M77.4 499.9h0M59.2 526.4h0M58.0 503.8h0M66.3 538.9h0M80.0 511.8h0M90.5 490.7h0M86.8 508.9h0M69.9 538.3h0M83.5 513.8h0M78.8 536.7h0M61.0 509.9h0M69.6 519.9h0M94.4 522.9h0M69.8 552.3h0M72.1 521.4h0M85.9 522.7h0M65.9 502.9h0M55.7 530.2h0M83.9 525.2h0M74.2 503.8h0M44.3 488.4h0M70.3 500.8h0M78.3 548.0h0M91.3 513.7h0M93.9 541.8h0M85.7 556.2h0M86.9 513.8h0M92.0 519.3h0M58.8 573.0h0M59.7 518.2h0M91.7 543.2h0M70.2 547.2h0M96.2 516.3h0M70.0 490.6h0M85.1 530.7h0M67.5 536.3h0M102.1 562.5h0M76.7 515.3h0M112.6 560.0h0M93.5 518.7h0M78.3 534.3h0M61.8 503.1h0M82.1 507.0h0M88.2 493.1h0M55.9 514.7h0M105.3 525.1h0M91.9 567.6h0M82.4 524.5h0M66.9 506.2h0M77.5 506.5h0M60.6 512.5h0M75.8 520.3h0M76.1 503.6h0M79.4 538.8h0M78.7 520.4h0M76.5 518.1h0M80.3 523.8h0M79.3 506.0h0M89.0 493.4h0M76.4 545.5h0M78.7 525.7h0M59.6 531.5h0M77.2 527.4h0M69.0 513.9h0M78.8 512.4h0M37.3 524.2h0M98.3 513.4h0M51.4 514.7h0M77.0 524.2h0M91.9 527.7h0M71.2 537.3h0M77.5 567.3h0M68.2 515.4h0M96.0 518.5h0M86.7 524.1h0M88.4 495.6h0M80.2 515.7h0M82.8 529.0h0M84.9 490.9h0M87.9 501.4h0M87.0 505.2h0M82.0 535.0h0M73.6 554.6h0M69.7 535.5h0M67.7 497.0h0M80.6 520.8h0M97.3 543.0h0M62.5 522.3h0M90.0 559.7h0M74.7 479.2h0M98.5 493.7h0M80.0 504.2h0M81.1 507.2h0M88.6 484.5h0M61.3 527.9h0M71.6 499.6h0M82.8 556.5h0M63.0 525.5h0M92.3 545.2h0M83.1 526.3h0M61.1 500.9h0M100.6 530.4h0M81.6 494.6h0M62.6 491.6h0M92.8 531.6h0M67.2 522.0h0M69.6 506.3h0M76.9 545.7h0M85.3 523.8h0M84.3 519.6h0M100.0 500.0h0M90.0 515.8h0M78.9 535.9h0M106.7 502.8h0M62.3 488.6h0M76.0 512.1h0M66.5 524.0h0M87.5 547.4h0M69.9 547.8h0M76.7 513.0h0M84.9 541.2h0M68.0 524.5h0M84.2 501.2h0M83.2 497.6h0M68.9 529.6h0M90.6 516.4h0M92.0 531.3h0M86.0 493.3h0M63.5 531.5h0M96.8 516.1h0M70.7 541.0h0M72.4 512.5h0M97.6 485.4h0M88.7 523.9h0M82.6 509.9h0M67.0 522.1h0M81.3 505.3h0M83.1 510.1h0M52.5 504.4h0M68.1 480.1h0M78.1 524.7h0M65.1 509.6h0M66.8 522.2h0M81.4 537.7h0M88.2 521.8h0M94.9 497.1h0M99.4 497.2h0M87.9 530.7h0M110.0 512.3h0M74.9 496.7h0M69.5 524.8h0M78.3 499.4h0M92.0 532.3h0M75.7 503.8h0M75.4 527.6h0M72.5 499.9h0M103.9 500.7h0M73.6 498.8h0M67.5 529.2h0M81.4 523.8h0M73.0 478.5h0M101.8 519.1h0M92.1 525.0h0M71.8 518.5h0M82.2 499.7h0M77.3 477.6h0M92.8 513.5h0M67.6 505.5h0M68.3 495.3h0M89.7 514.3h0M93.3 509.2h0M78.9 540.8h0M77.7 513.8h0M85.5 503.3h0M56.8 529.6h0M75.1 535.1h0M71.4 501.3h0M82.7 499.4h0M60.3 557.9h0M82.5 513.4h0M91.2 519.9h0M73.7 553.8h0M82.5 500.9h0M83.8 537.0h0M84.1 516.2h0M75.9 522.2h0M91.5 519.0h0M76.1 509.4h0M83.0 536.5h0M70.8 540.1h0M89.9 532.7h0M72.2 527.0h0M88.0 534.7h0M99.8 510.7h0M90.7 535.1h0M69.7 495.1h0M91.1 522.8h0M62.4 502.8h0M69.9 526.0h0M85.8 498.9h0M63.5 552.1h0M64.4 523.3h0M70.9 517.7h0M72.2 535.7h0M89.7 532.5h0M72.3 493.7h0M72.3 527.5h0M103.4 491.6h0M67.7 535.6h0M101.3 534.2h0M86.0 521.6h0M96.9 533.6h0M80.7 514.6h0M89.0 504.5h0M88.3 553.8h0M67.8 511.0h0M87.6 491.6h0M85.5 554.8h0M112.4 510.4h0M86.0 525.9h0M72.8 514.3h0M62.6 528.8h0M97.1 506.2h0M91.7 533.0h0M64.2 504.0h0M85.1 498.7h0M65.0 491.5h0M84.4 534.3h0M85.5 507.1h0M89.2 542.9h0M80.7 523.8h0M56.5 503.0h0M92.5 499.2h0M79.2 513.6h0M100.6 491.7h0M80.6 518.6h0M67.5 505.3h0M93.6 515.3h0M51.3 502.4h0M94.7 519.9h0M91.8 529.6h0M71.2 528.8h0M89.7 480.8h0M76.8 547.7h0M54.7 514.9h0M83.0 535.5h0M65.7 491.6h0M87.5 507.6h0M80.2 521.6h0M81.6 504.5h0M77.9 516.2h0M86.7 510.5h0M61.3 505.2h0M87.4 517.4h0M56.5 524.8h0M55.9 544.6h0M69.8 495.8h0M66.8 543.2h0M59.2 529.2h0M78.3 537.7h0M72.7 501.3h0M51.9 532.6h0M84.2 535.7h0M79.7 538.8h0M82.6 521.8h0M103.7 505.4h0M77.5 523.6h0M84.2 525.3h0M74.2 484.9h0M76.6 541.1h0M71.2 523.2h0M88.7 500.0h0M94.7 527.6h0M77.8 511.9h0M100.9 486.8h0M88.4 499.5h0M76.0 517.1h0M77.1 493.7h0M89.3 510.9h0M66.9 522.4h0M84.5 528.9h0M99.9 516.8h0M77.8 532.2h0M86.0 523.4h0M92.4 540.6h0M59.2 514.2h0M82.4 528.0h0M88.7 523.3h0M100.5 505.1h0M86.1 530.7h0M80.6 517.2h0M81.8 511.4h0M79.3 497.6h0M61.6 548.0h0M90.6 525.4h0M83.7 532.6h0M76.7 524.0h0M91.2 512.7h0M91.1 515.3h0M93.5 515.9h0M86.1 535.6h0M98.7 514.5h0M99.0 519.8h0M84.4 519.7h0M93.3 525.6h0M79.1 497.1h0M78.5 532.5h0M99.5 508.8h0M87.9 514.2h0M105.7 524.4h0M103.9 524.4h0M78.5 512.8h0M71.0 513.5h0M59.9 493.6h0M71.0 533.5h0M82.4 513.4h0M75.4 537.4h0M81.5 513.7h0M86.2 533.6h0M43.0 504.4h0M102.4 517.5h0M80.4 507.1h0M87.3 560.2h0M71.1 531.1h0M72.9 546.5h0M75.3 527.0h0M82.7 532.8h0M75.6 515.1h0M78.8 549.9h0M64.2 536.0h0M82.5 520.6h0M102.6 502.0h0M60.7 501.7h0M69.1 500.2h0M64.2 506.6h0M89.5 502.0h0M95.2 523.0h0M69.5 537.4h0M77.0 542.0h0M66.2 536.6h0M56.0 571.2h0M80.1 533.2h0M66.5 539.6h0M84.0 510.0h0M85.9 516.2h0M91.4 518.1h0M77.8 493.6h0M99.0 529.8h0M64.9 491.3h0M94.6 510.2h0M91.5 535.7h0M73.7 517.2h0M70.1 545.0h0M102.7 528.0h0M81.3 527.5h0M63.8 537.8h0M64.5 520.9h0M112.5 511.6h0M81.3 529.2h0M84.6 492.0h0M62.9 524.7h0M67.9 534.4h0M99.4 499.7h0M82.4 523.6h0M78.7 528.0h0M68.3 545.8h0M70.0 517.6h0M67.2 528.7h0M74.3 554.5h0M96.9 523.5h0M71.1 507.1h0M72.5 532.9h0M81.5 530.3h0M89.2 526.6h0M53.4 569.7h0M58.9 495.3h0M90.2 497.1h0M60.9 520.2h0M95.9 528.2h0M75.6 508.3h0M79.0 533.7h0M88.5 494.4h0M76.5 523.2h0M77.2 491.3h0M80.2 523.8h0M82.6 504.7h0M82.8 516.9h0M87.5 553.4h0M83.0 510.8h0M86.0 538.2h0M94.3 522.9h0M84.2 520.5h0M80.2 514.6h0M101.4 527.8h0M86.1 523.3h0M67.1 539.4h0M55.6 518.1h0M111.2 505.0h0M69.9 550.8h0M83.4 523.6h0M78.9 514.0h0M77.1 514.6h0M64.5 488.3h0M86.1 522.4h0M99.5 511.6h0M81.2 516.2h0M78.6 512.0h0M68.8 540.4h0M64.2 533.2h0M58.7 551.4h0M98.2 522.0h0M77.6 526.0h0M81.3 527.5h0M75.8 543.6h0M48.2 497.0h0M68.0 538.0h0M69.6 503.0h0M102.2 519.4h0M72.3 495.6h0M69.6 556.4h0M76.1 551.4h0M54.2 504.1h0M101.4 522.9h0M66.3 507.9h0M76.6 505.0h0M61.5 550.4h0M69.7 523.9h0M79.5 516.2h0M65.7 535.2h0M90.3 552.0h0M86.2 500.5h0M83.0 515.7h0M77.9 498.4h0M64.7 505.9h0M92.1 540.1h0M62.9 522.2h0M69.3 515.3h0M87.4 512.2h0M48.9 512.8h0M70.6 492.4h0M82.6 511.5h0M83.2 524.1h0M106.3 503.2h0M92.3 520.6h0M96.2 539.6h0M86.8 535.5h0M100.8 507.4h0M93.1 543.4h0M71.6 518.6h0M82.8 494.5h0M75.3 528.3h0M97.1 536.0h0M86.4 505.4h0M92.6 546.3h0M71.9 514.6h0M71.3 552.1h0M96.4 514.4h0M85.8 556.3h0M94.6 535.0h0M95.7 511.2h0M64.1 509.8h0M88.0 541.3h0M69.2 549.5h0M80.8 528.1h0M90.5 530.2h0M73.3 515.8h0M109.2 553.1h0M100.1 519.6h0M97.3 504.8h0M66.1 529.9h0M81.9 501.7h0M72.6 545.4h0M93.5 544.2h0M85.2 528.0h0M91.0 533.4h0M53.0 496.8h0M94.4 509.0h0M78.6 519.1h0M83.9 503.8h0M47.5 549.4h0M91.5 497.8h0M58.5 502.5h0M52.5 529.1h0M83.9 520.2h0M75.6 522.2h0M54.0 541.1h0M82.6 539.8h0M76.0 545.5h0M89.6 512.1h0M90.5 539.0h0M90.5 506.3h0M78.9 534.4h0M83.5 532.2h0M82.9 532.2h0M76.1 528.3h0M83.8 493.5h0M69.4 500.8h0M71.2 512.6h0M86.2 526.2h0M82.4 513.0h0M77.0 515.6h0M85.5 507.9h0M102.6 505.8h0M94.9 512.2h0M71.9 496.2h0M94.8 521.4h0M98.1 478.1h0M68.5 524.4h0M62.5 528.2h0M64.7 535.6h0M97.5 533.5h0M68.3 521.1h0M70.3 531.6h0" stroke="#ee80f4" stroke-width="0.9" stroke-linecap="round" opacity="0.9" fill="none"/>
<line x1="12.3" y1="485.6" x2="48.8" y2="465.6" stroke="#8a8a8a" stroke-width="0.45"/>
<line x1="48.8" y1="465.6" x2="115.6" y2="481.6" stroke="#8a8a8a" stroke-width="0.45"/>
<line x1="12.3" y1="485.6" x2="115.6" y2="481.6" stroke="#8a8a8a" stroke-width="0.45"/>
<line x1="12.3" y1="485.6" x2="12.3" y2="558.8" stroke="#8a8a8a" stroke-width="0.45"/>
<line x1="115.6" y1="481.6" x2="114.6" y2="559.8" stroke="#8a8a8a" stroke-width="0.45"/>
<line x1="48.8" y1="465.6" x2="48.8" y2="579.8" stroke="#8a8a8a" stroke-width="0.45"/>
<line x1="12.3" y1="558.8" x2="48.8" y2="579.8" stroke="#8a8a8a" stroke-width="0.45"/>
<line x1="48.8" y1="579.8" x2="114.6" y2="559.8" stroke="#8a8a8a" stroke-width="0.45"/>
<g stroke="#fff" stroke-width="0.7"><line x1="14.6" y1="554.9" x2="14.6" y2="542"/><line x1="14.6" y1="554.9" x2="21.5" y2="554.2"/><line x1="14.6" y1="554.9" x2="19.4" y2="559.4"/></g>
<g fill="#fff"><polygon points="14.6,540.5 13.3,543.5 15.9,543.5"/><polygon points="23,554.1 20.2,552.8 20.4,555.6"/><polygon points="20.4,560.4 18.1,559.8 19.6,557.8"/></g>
<text x="16.00" y="542.50" font-size="4.8" text-anchor="start" fill="#fff" >y</text><text x="20.00" y="550.50" font-size="4.8" text-anchor="start" fill="#fff" >x</text><text x="19.50" y="565.50" font-size="4.8" text-anchor="start" fill="#fff" >z</text>
<rect x="12.9" y="574.1" width="11" height="1.9" fill="#fff"/>
<line x1="128.9" y1="484.8" x2="166.9" y2="465.3" stroke="#8a8a8a" stroke-width="0.45"/>
<line x1="166.9" y1="465.3" x2="233.3" y2="480.3" stroke="#8a8a8a" stroke-width="0.45"/>
<line x1="128.9" y1="484.8" x2="183.4" y2="490.8" stroke="#8a8a8a" stroke-width="0.45"/>
<line x1="183.4" y1="490.8" x2="233.3" y2="480.3" stroke="#8a8a8a" stroke-width="0.45"/>
<line x1="128.9" y1="484.8" x2="131.4" y2="557.8" stroke="#8a8a8a" stroke-width="0.45"/>
<line x1="233.3" y1="480.3" x2="233.3" y2="559.8" stroke="#8a8a8a" stroke-width="0.45"/>
<line x1="166.9" y1="465.3" x2="166.9" y2="579.8" stroke="#8a8a8a" stroke-width="0.45"/>
<line x1="131.4" y1="557.8" x2="166.9" y2="579.8" stroke="#8a8a8a" stroke-width="0.45"/>
<line x1="166.9" y1="579.8" x2="233.3" y2="559.8" stroke="#8a8a8a" stroke-width="0.45"/>
<line x1="183.4" y1="490.8" x2="183.4" y2="546.8" stroke="#8a8a8a" stroke-width="0.45"/>
<line x1="131.4" y1="557.8" x2="183.4" y2="546.8" stroke="#8a8a8a" stroke-width="0.45"/>
<line x1="183.4" y1="546.8" x2="233.3" y2="559.8" stroke="#8a8a8a" stroke-width="0.45"/>
<path d="M156.5 540.2h0M154.6 531.8h0M184.0 541.6h0M176.8 510.2h0M202.0 481.4h0M168.3 529.5h0M159.3 478.2h0M168.3 531.6h0M164.4 528.1h0M191.5 541.0h0M158.5 486.3h0M150.2 523.7h0M158.3 527.8h0M181.1 514.3h0M151.2 529.1h0M186.6 555.8h0M148.5 539.7h0M199.2 481.6h0M157.3 556.1h0M173.1 503.8h0M145.8 536.5h0M186.8 509.1h0M188.8 520.6h0M174.6 511.9h0M163.7 518.3h0M163.6 553.0h0M166.0 504.1h0M184.6 517.6h0M204.3 553.6h0M146.2 559.9h0M184.5 500.0h0M167.4 509.4h0M207.1 564.2h0M199.7 507.4h0M186.5 523.1h0M178.5 511.6h0M168.9 486.6h0M144.5 544.7h0M155.0 543.9h0M160.5 516.8h0M182.8 503.6h0M172.5 510.1h0M173.1 530.0h0M185.3 492.4h0M175.8 516.7h0M146.5 526.4h0M164.5 541.9h0M179.2 524.4h0M183.3 516.2h0M182.8 488.3h0M158.2 492.5h0M165.7 503.8h0M191.6 504.2h0M170.0 484.8h0M172.3 548.7h0M163.5 549.3h0M159.1 541.5h0M180.9 521.3h0M196.3 521.3h0M190.9 518.9h0M191.1 495.7h0M170.2 511.3h0M199.2 484.7h0M193.3 528.4h0M168.3 521.3h0M170.1 498.6h0M197.5 556.2h0M186.2 553.5h0M168.6 533.9h0M154.7 530.1h0M198.8 530.5h0M179.4 529.3h0M188.5 538.0h0M185.2 490.4h0M160.4 486.7h0M190.0 507.7h0M213.1 545.6h0M203.0 510.0h0M188.7 503.7h0M187.0 544.7h0M163.5 490.1h0M212.5 508.7h0M205.8 487.8h0M193.1 522.6h0M158.0 545.6h0M167.1 530.7h0M160.4 485.4h0M161.3 540.6h0M150.6 530.6h0M171.2 525.2h0M165.1 506.6h0M192.4 539.6h0M213.0 542.8h0M192.0 487.2h0M164.7 512.1h0M145.3 533.8h0M162.6 526.7h0M162.7 522.1h0M156.4 476.5h0M173.7 526.4h0M182.4 536.5h0M163.9 489.8h0M188.1 536.6h0M173.6 560.3h0M197.8 520.7h0M173.5 499.6h0M194.5 503.3h0M163.1 514.4h0M188.2 547.8h0M173.1 529.4h0M155.5 524.8h0M167.3 499.8h0M179.1 552.6h0M196.4 550.4h0M168.1 519.9h0M177.8 513.4h0M183.5 523.5h0M143.9 542.0h0M164.7 528.5h0M162.9 538.7h0M161.2 508.8h0M179.9 511.1h0M165.6 527.7h0M181.6 482.8h0M166.7 493.2h0M181.7 503.9h0M169.2 519.8h0M178.4 511.9h0M165.1 527.9h0M168.7 551.3h0M201.8 527.7h0M162.2 527.0h0M210.2 540.8h0M168.1 492.8h0M159.0 538.3h0M174.9 502.7h0M150.2 536.8h0M165.9 513.9h0M178.7 488.1h0M167.0 502.0h0M140.1 494.1h0M166.0 507.9h0M155.6 528.4h0M174.7 552.7h0M165.6 544.9h0M146.4 509.8h0M170.7 531.4h0M171.7 502.1h0M181.7 517.3h0M150.9 512.7h0M172.0 559.0h0M192.8 528.9h0M186.7 486.6h0M185.6 505.2h0M177.0 509.2h0M155.1 481.2h0M160.7 546.3h0M178.1 519.3h0M195.9 560.0h0M158.2 499.7h0M157.6 496.7h0M182.2 560.3h0M155.4 527.4h0M184.5 490.9h0M169.2 541.5h0M165.2 497.4h0M167.2 518.6h0M161.1 520.4h0M152.3 534.7h0M146.5 518.9h0M154.0 527.3h0M175.7 529.0h0M171.6 553.6h0M169.7 540.3h0M191.4 512.2h0M181.0 526.0h0M169.9 513.3h0M154.6 493.7h0M182.8 517.2h0M181.7 518.5h0M147.3 559.6h0M176.0 553.6h0M196.7 529.8h0M166.6 498.7h0M189.7 548.2h0M198.6 510.3h0M189.8 540.4h0M169.0 530.0h0M164.3 535.2h0M198.2 500.6h0M165.3 524.6h0M210.5 514.7h0M184.2 538.2h0M184.6 540.2h0M160.2 484.6h0M161.0 494.3h0M185.6 510.1h0M155.5 502.8h0M178.8 488.5h0M180.8 511.8h0M160.6 485.7h0M180.0 525.4h0M175.4 534.0h0M171.8 521.8h0M172.9 549.9h0M164.8 505.7h0M198.2 501.7h0M189.0 517.3h0M174.3 508.1h0M197.9 507.4h0M162.6 493.4h0M209.7 508.6h0M174.9 532.4h0M153.9 480.9h0M175.4 516.3h0M210.2 511.9h0M163.3 526.9h0M191.8 516.0h0M176.0 546.0h0M196.3 504.1h0M165.5 542.9h0M176.4 502.4h0M180.4 549.7h0M173.3 512.5h0M150.9 510.0h0M193.4 550.1h0M189.5 525.4h0M193.9 544.6h0M177.7 511.2h0M177.9 504.8h0M157.4 515.5h0M157.0 533.7h0M163.7 509.4h0M179.4 481.0h0M173.2 506.8h0M161.7 543.1h0M147.7 523.8h0M185.9 548.8h0M173.1 518.5h0M165.0 501.5h0M177.8 490.4h0M187.3 500.4h0M187.3 480.9h0M194.6 523.9h0M174.7 555.0h0M174.1 483.3h0M175.7 519.2h0M163.5 541.6h0M156.5 532.1h0M171.3 530.0h0M164.6 516.6h0M167.1 526.9h0M174.3 498.7h0M149.8 535.7h0M174.0 520.1h0M166.8 523.8h0M198.2 501.9h0M182.3 515.0h0M155.1 537.9h0M181.1 533.9h0M160.1 515.7h0M152.4 500.0h0M172.5 545.8h0M170.2 495.2h0M190.7 513.5h0M174.7 513.5h0M168.8 530.6h0M188.6 505.6h0M150.7 512.8h0M184.0 542.6h0M187.9 521.0h0M169.7 488.6h0M152.2 533.7h0M166.3 522.4h0M156.7 518.3h0M198.2 528.6h0M187.8 519.9h0M183.2 517.3h0M184.0 520.1h0M158.3 522.0h0M167.1 495.4h0M162.8 526.4h0M183.6 505.8h0M163.4 518.3h0M161.1 510.4h0M177.4 543.6h0M174.6 500.2h0M162.4 552.5h0M169.7 523.3h0M178.5 489.7h0M177.7 510.2h0M166.8 529.8h0M173.0 499.7h0M173.9 541.2h0M183.1 547.5h0M154.2 517.3h0M185.1 502.8h0M196.4 522.2h0M191.3 551.5h0M178.9 517.5h0M166.1 516.3h0M169.5 537.1h0M183.0 487.3h0M174.4 553.7h0M182.0 529.4h0M148.1 539.9h0M166.3 510.5h0M185.8 522.5h0M172.4 521.3h0M177.9 523.2h0M156.2 523.7h0M166.1 533.7h0M194.1 525.8h0M202.2 519.0h0M205.3 487.8h0M194.6 524.0h0M211.2 481.8h0M196.1 536.6h0M209.4 512.3h0M202.2 495.8h0M201.2 497.6h0M196.1 518.8h0M206.3 520.5h0M198.0 498.9h0M198.2 525.7h0M197.8 499.1h0M203.7 533.9h0M205.3 519.7h0M204.0 505.0h0M201.8 532.9h0M205.8 486.6h0M190.3 493.1h0M206.4 507.4h0M195.5 539.4h0M206.3 509.7h0M211.7 528.2h0M197.3 528.9h0M200.6 511.0h0M202.3 537.7h0M209.7 506.8h0M203.9 511.4h0M206.8 490.1h0M201.8 517.3h0M203.2 493.2h0M205.7 500.2h0M191.2 509.9h0M191.4 493.0h0M191.1 517.8h0M208.4 498.9h0M190.2 535.6h0M191.6 487.8h0M205.2 482.3h0M191.8 529.6h0M201.8 530.5h0M208.8 498.7h0M202.1 514.5h0M195.2 516.4h0M198.3 538.2h0M198.9 500.2h0M191.7 525.1h0M199.4 503.1h0M199.6 520.2h0M201.9 513.5h0M210.8 512.5h0M202.2 536.9h0M209.5 534.9h0M203.0 512.2h0M203.7 495.9h0M209.1 532.2h0M192.3 519.4h0M194.9 499.3h0M201.3 520.9h0M209.2 507.3h0M211.0 511.3h0M205.3 535.2h0M197.3 495.9h0M191.5 491.6h0M198.4 520.3h0M192.6 500.1h0M207.0 538.3h0M207.7 539.2h0M211.8 522.6h0M191.2 487.0h0M206.5 521.4h0M195.2 481.7h0M205.8 514.7h0M210.9 530.6h0M197.7 495.4h0M195.8 482.3h0M193.8 501.5h0M192.2 521.0h0M211.7 537.7h0M204.8 503.2h0M207.7 533.6h0M210.3 508.5h0M193.7 488.7h0M204.0 525.0h0M201.7 517.6h0M201.0 490.6h0M207.3 528.0h0M195.0 511.8h0M201.0 497.4h0M190.9 513.3h0M208.6 484.0h0M203.3 496.8h0M195.1 526.8h0M205.5 488.7h0M204.0 485.8h0M203.2 501.8h0M196.2 502.2h0M208.3 534.1h0M210.0 501.4h0M209.1 491.3h0M206.3 501.2h0M201.4 526.8h0M193.5 523.8h0M209.8 527.0h0M195.8 531.6h0M211.7 500.8h0M196.0 481.2h0M208.5 485.6h0M198.5 514.2h0M190.3 482.8h0M191.9 488.8h0M190.9 490.0h0M209.7 496.7h0M195.8 531.3h0M210.3 494.7h0M198.9 491.9h0M203.9 508.5h0M198.9 506.3h0M205.9 522.1h0M193.8 497.5h0M192.2 537.3h0M200.2 518.7h0M203.6 502.8h0M207.5 527.6h0M200.3 516.6h0M198.6 534.5h0M198.6 521.0h0M207.2 539.6h0M198.8 509.4h0M190.7 501.4h0M216.2 540.4h0M214.7 544.7h0M215.8 537.0h0M216.9 539.7h0M212.5 544.0h0M196.7 554.6h0M212.9 541.4h0M210.9 548.5h0M206.3 548.9h0M210.9 538.8h0M224.2 535.1h0M200.6 555.0h0M205.7 553.7h0M205.0 549.7h0M199.0 558.9h0M206.6 549.6h0M216.5 540.6h0M211.6 543.2h0M202.9 550.8h0M220.3 533.6h0M216.1 539.1h0M212.7 544.6h0M209.6 543.2h0M210.5 540.4h0M213.0 537.4h0M209.8 544.3h0M206.5 542.8h0M221.6 536.5h0M206.1 550.0h0M212.8 541.4h0M207.2 549.6h0M221.1 539.3h0M198.0 551.3h0M202.0 548.5h0M208.3 553.6h0M221.8 533.5h0M193.0 556.7h0M203.0 554.0h0M201.6 556.5h0M213.0 539.9h0M199.0 557.8h0M199.1 559.9h0M196.2 556.1h0M218.7 534.8h0M207.7 542.4h0M206.1 552.7h0M199.8 554.4h0M216.8 538.0h0M219.7 535.4h0M208.0 550.8h0M204.8 551.5h0M213.6 539.8h0M215.1 535.0h0M206.7 547.2h0M216.7 533.0h0M198.2 559.9h0M198.5 552.9h0M217.3 536.3h0M201.0 556.7h0M206.1 546.7h0M210.0 551.4h0M197.8 561.0h0M198.4 558.3h0M211.8 538.2h0M221.5 535.0h0M203.9 553.5h0M197.7 554.1h0M205.3 551.2h0M202.6 548.5h0M201.4 554.0h0" stroke="#d6cc22" stroke-width="0.9" stroke-linecap="round" opacity="1" fill="none"/>
<text x="249.9" y="323.8" font-size="10.5" font-weight="bold">d</text>
<polygon points="362.0,349.8 361.9,351.1 361.7,352.4 361.4,353.7 361.0,355.0 360.4,356.3 359.7,357.5 358.9,358.8 358.0,360.0 356.9,361.1 355.7,362.3 354.5,363.4 354.5,376.4 355.7,375.3 356.9,374.1 358.0,373.0 358.9,371.8 359.7,370.5 360.4,369.3 361.0,368.0 361.4,366.7 361.7,365.4 361.9,364.1 362.0,362.8" fill="#2e86c1" stroke="#111" stroke-width="0.7" stroke-linejoin="round"/>
<polygon points="354.5,363.4 353.0,364.5 351.4,365.6 349.8,366.6 348.0,367.6 346.1,368.5 344.2,369.4 342.1,370.2 340.0,370.9 337.8,371.6 335.5,372.2 333.2,372.8 330.8,373.2 328.4,373.6 325.9,373.9 323.4,374.2 323.4,387.2 325.9,386.9 328.4,386.6 330.8,386.2 333.2,385.8 335.5,385.2 337.8,384.6 340.0,383.9 342.1,383.2 344.2,382.4 346.1,381.5 348.0,380.6 349.8,379.6 351.4,378.6 353.0,377.5 354.5,376.4" fill="#f88fab" stroke="#111" stroke-width="0.7" stroke-linejoin="round"/>
<polygon points="323.4,374.2 321.0,374.4 318.5,374.5 316.1,374.5 313.6,374.5 311.1,374.3 308.7,374.2 306.3,373.9 303.9,373.6 301.5,373.2 299.2,372.7 297.0,372.2 294.7,371.6 292.6,370.9 290.5,370.2 288.5,369.4 286.6,368.6 284.8,367.7 283.0,366.7 281.4,365.7 279.9,364.7 278.4,363.6 277.1,362.5 275.9,361.3 274.8,360.1 273.8,358.9 273.0,357.7 272.3,356.4 271.7,355.1 271.2,353.8 270.9,352.5 270.7,351.1 270.6,349.8 270.6,362.8 270.7,364.1 270.9,365.5 271.2,366.8 271.7,368.1 272.3,369.4 273.0,370.7 273.8,371.9 274.8,373.1 275.9,374.3 277.1,375.5 278.4,376.6 279.9,377.7 281.4,378.7 283.0,379.7 284.8,380.7 286.6,381.6 288.5,382.4 290.5,383.2 292.6,383.9 294.7,384.6 297.0,385.2 299.2,385.7 301.5,386.2 303.9,386.6 306.3,386.9 308.7,387.2 311.1,387.3 313.6,387.5 316.1,387.5 318.5,387.5 321.0,387.4 323.4,387.2" fill="#fbb03b" stroke="#111" stroke-width="0.7" stroke-linejoin="round"/>
<polygon points="316.3,349.8 277.8,336.5 279.1,335.4 280.6,334.4 282.1,333.4 283.8,332.4 285.5,331.5 287.3,330.7 289.2,329.9 291.2,329.2 293.3,328.5 295.4,327.8 297.5,327.3 299.7,326.8 302.0,326.3 304.3,326.0 306.6,325.7 309.0,325.4 311.4,325.2 313.8,325.1 316.2,325.1 318.6,325.1 321.0,325.2 323.4,325.4 325.7,325.6 328.1,325.9 330.4,326.3 332.6,326.7 334.9,327.2 337.0,327.8 339.1,328.4 341.2,329.1 343.2,329.8 345.1,330.6 346.9,331.5 348.6,332.3 350.3,333.3 351.9,334.3 353.3,335.3 354.7,336.4 355.9,337.5 357.1,338.6 358.1,339.8 359.0,341.0 359.8,342.2 360.5,343.5 361.0,344.7 361.5,346.0 361.8,347.3 361.9,348.6 362.0,349.9 361.9,351.2 361.7,352.5 361.4,353.8 361.0,355.1 360.4,356.3 359.7,357.6 358.9,358.8 357.9,360.0 356.9,361.2 355.7,362.3 354.5,363.4" fill="#2e86c1" stroke="#111" stroke-width="0.7" stroke-linejoin="round"/>
<polygon points="316.3,349.8 354.5,363.4 353.0,364.5 351.4,365.6 349.8,366.6 348.0,367.6 346.1,368.5 344.2,369.4 342.1,370.2 340.0,370.9 337.8,371.6 335.5,372.2 333.2,372.8 330.8,373.2 328.4,373.6 325.9,373.9 323.4,374.2" fill="#f88fab" stroke="#111" stroke-width="0.7" stroke-linejoin="round"/>
<polygon points="316.3,349.8 323.4,374.2 321.0,374.4 318.6,374.5 316.2,374.5 313.8,374.5 311.4,374.4 309.0,374.2 306.6,373.9 304.3,373.6 302.0,373.3 299.7,372.8 297.5,372.3 295.3,371.7 293.2,371.1 291.1,370.4 289.2,369.7 287.2,368.9 285.4,368.0 283.7,367.1 282.0,366.1 280.5,365.1 279.0,364.1 277.7,363.0 276.5,361.9 275.3,360.7 274.3,359.6 273.4,358.3 272.6,357.1 272.0,355.9 271.5,354.6 271.1,353.3 270.8,352.0 270.6,350.7 270.6,349.4 270.7,348.1 270.9,346.8 271.3,345.5 271.8,344.2 272.4,343.0 273.1,341.7 274.0,340.5 274.9,339.3 276.0,338.1 277.2,337.0" fill="#fbb03b" stroke="#111" stroke-width="0.7" stroke-linejoin="round"/>
<polygon points="316.3,349.8 277.2,337.0 277.8,336.5" fill="#c6e2eb" stroke="#111" stroke-width="0.7" stroke-linejoin="round"/>
<text x="321.00" y="338.20" font-size="6.7" text-anchor="middle" fill="#111" >50.22%</text>
<text x="287.10" y="356.10" font-size="6.7" text-anchor="middle" fill="#111" >36.17%</text>
<text x="332.30" y="368.00" font-size="6.7" text-anchor="middle" fill="#111" >13.23%</text>
<text x="275.20" y="337.70" font-size="6.7" text-anchor="end" fill="#111" >0.39%</text>
<text x="319.20" y="396.60" font-size="6.7" text-anchor="middle" fill="#111" >Vim<tspan font-size="4.82" dy="-2.28">+</tspan><tspan dy="2.28">/GFAP</tspan><tspan font-size="4.82" dy="-2.28">+</tspan></text>
<polygon points="362.3,429.0 362.2,430.4 362.0,431.9 361.6,433.3 361.1,434.7 360.4,436.1 359.6,437.4 358.7,438.8 357.6,440.1 356.4,441.3 355.0,442.5 355.0,454.8 356.4,453.6 357.6,452.4 358.7,451.1 359.6,449.7 360.4,448.4 361.1,447.0 361.6,445.6 362.0,444.2 362.2,442.7 362.3,441.3" fill="#2e86c1" stroke="#111" stroke-width="0.7" stroke-linejoin="round"/>
<polygon points="355.0,442.5 353.7,443.6 352.2,444.7 350.7,445.7 349.0,446.7 347.3,447.6 345.4,448.4 343.5,449.2 341.5,450.0 339.5,450.7 337.4,451.3 335.2,451.9 333.0,452.4 330.7,452.8 328.4,453.2 326.1,453.5 323.7,453.7 321.3,453.9 318.9,454.0 316.5,454.0 314.1,454.0 314.1,466.3 316.5,466.3 318.9,466.3 321.3,466.2 323.7,466.0 326.1,465.8 328.4,465.5 330.7,465.1 333.0,464.7 335.2,464.2 337.4,463.6 339.5,463.0 341.5,462.3 343.5,461.5 345.4,460.7 347.3,459.9 349.0,459.0 350.7,458.0 352.2,457.0 353.7,455.9 355.0,454.8" fill="#f88fab" stroke="#111" stroke-width="0.7" stroke-linejoin="round"/>
<polygon points="314.1,454.0 311.7,453.8 309.2,453.7 306.8,453.4 304.5,453.1 302.2,452.7 299.9,452.2 297.6,451.7 295.4,451.1 293.3,450.4 291.3,449.7 289.3,448.9 287.4,448.1 285.6,447.2 283.8,446.2 282.2,445.2 280.7,444.2 279.2,443.1 277.9,442.0 276.7,440.8 275.6,439.6 274.6,438.4 273.8,437.2 273.1,435.9 272.4,434.6 272.0,433.3 271.6,431.9 271.4,430.6 271.3,429.3 271.3,441.6 271.4,442.9 271.6,444.2 272.0,445.6 272.4,446.9 273.1,448.2 273.8,449.5 274.6,450.7 275.6,451.9 276.7,453.1 277.9,454.3 279.2,455.4 280.7,456.5 282.2,457.5 283.8,458.5 285.6,459.5 287.4,460.4 289.3,461.2 291.3,462.0 293.3,462.7 295.4,463.4 297.6,464.0 299.9,464.5 302.2,465.0 304.5,465.4 306.8,465.7 309.2,466.0 311.7,466.1 314.1,466.3" fill="#fbb03b" stroke="#111" stroke-width="0.7" stroke-linejoin="round"/>
<polygon points="271.3,429.3 271.3,429.0 271.3,441.3 271.3,441.6" fill="#c6e2eb" stroke="#111" stroke-width="0.7" stroke-linejoin="round"/>
<polygon points="316.8,429.0 271.4,427.3 271.6,425.9 272.0,424.6 272.5,423.3 273.1,422.1 273.8,420.8 274.7,419.6 275.6,418.4 276.7,417.2 277.9,416.0 279.2,414.9 280.6,413.9 282.1,412.8 283.7,411.8 285.4,410.9 287.2,410.0 289.0,409.2 291.0,408.4 293.0,407.7 295.1,407.0 297.2,406.4 299.4,405.9 301.7,405.4 304.0,405.0 306.3,404.7 308.6,404.4 311.0,404.2 313.4,404.1 315.8,404.0 318.2,404.0 320.6,404.1 323.0,404.2 325.4,404.4 327.7,404.7 330.0,405.1 332.3,405.5 334.5,406.0 336.7,406.5 338.9,407.1 340.9,407.8 342.9,408.5 344.9,409.3 346.7,410.2 348.5,411.1 350.2,412.0 351.7,413.0 353.2,414.0 354.6,415.1 355.9,416.2 357.1,417.4 358.1,418.6 359.1,419.8 359.9,421.0 360.6,422.3 361.2,423.6 361.7,424.8 362.0,426.2 362.2,427.5 362.3,428.8 362.3,430.1 362.1,431.4 361.8,432.7 361.4,434.0 360.8,435.3 360.2,436.6 359.4,437.8 358.5,439.1 357.4,440.3 356.3,441.4 355.0,442.5" fill="#2e86c1" stroke="#111" stroke-width="0.7" stroke-linejoin="round"/>
<polygon points="316.8,429.0 355.0,442.5 353.7,443.6 352.2,444.7 350.7,445.7 349.0,446.7 347.3,447.6 345.4,448.4 343.5,449.2 341.5,450.0 339.5,450.7 337.4,451.3 335.2,451.9 333.0,452.4 330.7,452.8 328.4,453.2 326.1,453.5 323.7,453.7 321.3,453.9 318.9,454.0 316.5,454.0 314.1,454.0" fill="#f88fab" stroke="#111" stroke-width="0.7" stroke-linejoin="round"/>
<polygon points="316.8,429.0 314.1,454.0 311.7,453.8 309.2,453.7 306.8,453.4 304.5,453.1 302.2,452.7 299.9,452.2 297.6,451.7 295.4,451.1 293.3,450.4 291.3,449.7 289.3,448.9 287.4,448.1 285.6,447.2 283.8,446.2 282.2,445.2 280.7,444.2 279.2,443.1 277.9,442.0 276.7,440.8 275.6,439.6 274.6,438.4 273.8,437.2 273.1,435.9 272.4,434.6 272.0,433.3 271.6,431.9 271.4,430.6 271.3,429.3" fill="#fbb03b" stroke="#111" stroke-width="0.7" stroke-linejoin="round"/>
<polygon points="316.8,429.0 271.3,429.3 271.4,427.3" fill="#c6e2eb" stroke="#111" stroke-width="0.7" stroke-linejoin="round"/>
<text x="325.30" y="418.40" font-size="6.7" text-anchor="middle" fill="#111" >58%</text>
<text x="296.40" y="440.50" font-size="6.7" text-anchor="middle" fill="#111" >23.88%</text>
<text x="328.00" y="445.70" font-size="6.7" text-anchor="middle" fill="#111" >16.84%</text>
<text x="269.80" y="429.50" font-size="6.7" text-anchor="end" fill="#111" >1.28%</text>
<text x="316.60" y="473.80" font-size="6.7" text-anchor="middle" fill="#111" >Vim<tspan font-size="4.82" dy="-2.28">−</tspan><tspan dy="2.28">/GFAP</tspan><tspan font-size="4.82" dy="-2.28">+</tspan></text>
<polygon points="362.6,504.5 362.5,505.9 362.3,507.4 361.9,508.8 361.4,510.2 360.7,511.6 359.9,513.0 359.0,514.3 357.9,515.6 356.7,516.9 355.3,518.1 355.3,530.3 356.7,529.1 357.9,527.8 359.0,526.5 359.9,525.2 360.7,523.8 361.4,522.4 361.9,521.0 362.3,519.6 362.5,518.1 362.6,516.7" fill="#2e86c1" stroke="#111" stroke-width="0.7" stroke-linejoin="round"/>
<polygon points="355.3,518.1 353.9,519.2 352.5,520.3 350.9,521.3 349.3,522.3 347.6,523.2 345.7,524.0 343.8,524.8 341.9,525.6 339.8,526.3 337.7,526.9 335.5,527.5 333.3,528.0 331.1,528.4 328.8,528.8 326.4,529.1 324.1,529.4 321.7,529.6 319.3,529.7 316.9,529.7 314.5,529.7 312.1,529.6 309.7,529.4 307.4,529.2 305.0,528.9 302.7,528.5 300.5,528.0 298.2,527.5 296.1,527.0 294.0,526.3 291.9,525.7 289.9,524.9 288.0,524.1 286.2,523.2 284.5,522.3 282.8,521.4 281.2,520.4 279.8,519.3 278.4,518.2 277.2,517.1 276.0,516.0 275.0,514.8 274.1,513.5 273.2,512.3 272.6,511.0 272.0,509.7 271.6,508.4 271.3,507.1 271.1,505.8 271.0,504.5 271.0,516.7 271.1,518.0 271.3,519.3 271.6,520.6 272.0,521.9 272.6,523.2 273.2,524.5 274.1,525.7 275.0,527.0 276.0,528.2 277.2,529.3 278.4,530.4 279.8,531.5 281.2,532.6 282.8,533.6 284.5,534.5 286.2,535.4 288.0,536.3 289.9,537.1 291.9,537.9 294.0,538.5 296.1,539.2 298.2,539.7 300.5,540.2 302.7,540.7 305.0,541.1 307.4,541.4 309.7,541.6 312.1,541.8 314.5,541.9 316.9,541.9 319.3,541.9 321.7,541.8 324.1,541.6 326.4,541.3 328.8,541.0 331.1,540.6 333.3,540.2 335.5,539.7 337.7,539.1 339.8,538.5 341.9,537.8 343.8,537.0 345.7,536.2 347.6,535.4 349.3,534.5 350.9,533.5 352.5,532.5 353.9,531.4 355.3,530.3" fill="#f88fab" stroke="#111" stroke-width="0.7" stroke-linejoin="round"/>
<polygon points="316.8,504.5 271.0,504.3 271.1,502.9 271.3,501.6 271.6,500.3 272.1,499.0 272.7,497.7 273.4,496.4 274.3,495.1 275.2,493.9 276.3,492.7 277.5,491.5 278.8,490.4 280.2,489.3 281.8,488.3 283.4,487.3 285.1,486.3 286.9,485.4 288.8,484.6 290.7,483.8 292.8,483.0 294.9,482.4 297.0,481.8 299.3,481.2 301.5,480.7 303.8,480.3 306.2,480.0 308.6,479.7 311.0,479.5 313.4,479.4 315.8,479.3 318.3,479.3 320.7,479.4 323.1,479.5 325.5,479.8 327.9,480.0 330.2,480.4 332.5,480.8 334.8,481.3 337.0,481.9 339.2,482.5 341.3,483.2 343.3,483.9 345.2,484.7 347.1,485.6 348.9,486.5" fill="#fbb03b" stroke="#111" stroke-width="0.7" stroke-linejoin="round"/>
<polygon points="316.8,504.5 348.9,486.5 350.6,487.5 352.3,488.6 353.8,489.7 355.3,490.8" fill="#c6e2eb" stroke="#111" stroke-width="0.7" stroke-linejoin="round"/>
<polygon points="316.8,504.5 355.3,490.8 356.6,492.0 357.7,493.2 358.8,494.4 359.7,495.7 360.5,497.0 361.2,498.3 361.8,499.7 362.2,501.0 362.4,502.4 362.6,503.8 362.6,505.2 362.5,506.5 362.2,507.9 361.8,509.3 361.2,510.6 360.6,511.9 359.8,513.2 358.8,514.5 357.8,515.8 356.6,517.0 355.3,518.1" fill="#2e86c1" stroke="#111" stroke-width="0.7" stroke-linejoin="round"/>
<polygon points="316.8,504.5 355.3,518.1 353.9,519.2 352.5,520.3 350.9,521.3 349.3,522.3 347.5,523.2 345.7,524.0 343.8,524.9 341.8,525.6 339.8,526.3 337.6,526.9 335.5,527.5 333.2,528.0 331.0,528.5 328.7,528.8 326.3,529.1 324.0,529.4 321.6,529.6 319.2,529.7 316.8,529.7 314.4,529.7 311.9,529.6 309.6,529.4 307.2,529.1 304.9,528.8 302.5,528.4 300.3,528.0 298.1,527.5 295.9,526.9 293.8,526.3 291.7,525.6 289.7,524.8 287.8,524.0 286.0,523.2 284.3,522.2 282.6,521.3 281.1,520.3 279.6,519.2 278.3,518.1 277.0,517.0 275.9,515.8 274.8,514.6 273.9,513.4 273.1,512.1 272.5,510.9 271.9,509.6 271.5,508.3 271.2,506.9 271.0,505.6 271.0,504.3" fill="#f88fab" stroke="#111" stroke-width="0.7" stroke-linejoin="round"/>
<text x="303.10" y="493.40" font-size="6.7" text-anchor="middle" fill="#111" >37.21%</text>
<text x="350.20" y="487.70" font-size="6.7" text-anchor="start" fill="#111" >3.51%</text>
<text x="342.60" y="507.10" font-size="6.7" text-anchor="middle" fill="#111" >18.25%</text>
<text x="303.10" y="517.20" font-size="6.7" text-anchor="middle" fill="#111" >41.02%</text>
<text x="320.20" y="550.40" font-size="6.7" text-anchor="middle" fill="#111" >Vim<tspan font-size="4.82" dy="-2.28">+</tspan><tspan dy="2.28">/GFAP</tspan><tspan font-size="4.82" dy="-2.28">−</tspan></text>
<rect x="251" y="560.8" width="8.8" height="6.2" fill="#2e86c1" stroke="#222" stroke-width="0.4"/>
<text x="263.20" y="566.70" font-size="6.85" text-anchor="start" fill="#111" >White matter</text>
<rect x="321" y="560.8" width="8.8" height="6.2" fill="#fbb03b" stroke="#222" stroke-width="0.4"/>
<text x="333.20" y="566.70" font-size="6.85" text-anchor="start" fill="#111" >Molecular layer</text>
<rect x="251" y="573" width="8.8" height="6.2" fill="#f88fab" stroke="#222" stroke-width="0.4"/>
<text x="263.20" y="578.90" font-size="6.85" text-anchor="start" fill="#111" >Granular layer</text>
<rect x="321" y="573" width="8.8" height="6.2" fill="#c6e2eb" stroke="#222" stroke-width="0.4"/>
<text x="333.20" y="578.90" font-size="6.85" text-anchor="start" fill="#111" >Purkinje layer</text>
<text x="397.8" y="323.8" font-size="11.5" font-weight="bold" font-family="Liberation Serif, serif">e</text>
<path d="M450.5,387.6 L491.74,408.19 A46.1,46.1 0 1 1 450.50,341.50 Z" fill="#d8a8e2" stroke="#111" stroke-width="0.7" stroke-linejoin="round"/>
<path d="M450.5,387.6 L450.50,341.50 A46.1,46.1 0 0 1 466.22,344.26 Z" fill="#ffff00" stroke="#111" stroke-width="0.7" stroke-linejoin="round"/>
<path d="M450.5,387.6 L466.22,344.26 A46.1,46.1 0 0 1 491.74,408.19 Z" fill="#8fd6a6" stroke="#111" stroke-width="0.7" stroke-linejoin="round"/>
<path d="M455.5,352 L455.5,333.4 L462.8,333.4" stroke="#555" stroke-width="0.5" fill="none" stroke-dasharray="1,0.7"/>
<text x="465.50" y="332.40" font-size="6.75" text-anchor="start" fill="#111" >Vim<tspan font-size="4.86" dy="-2.30">−</tspan><tspan dy="2.30">/GFAP</tspan><tspan font-size="4.86" dy="-2.30">+</tspan></text>
<text x="465.50" y="341.20" font-size="6.75" text-anchor="start" fill="#111" >543 cells, 5.54%</text>
<text x="465.00" y="366.20" font-size="6.75" text-anchor="start" fill="#111" >2,629 cells</text>
<text x="465.00" y="374.20" font-size="6.75" text-anchor="start" fill="#111" >26.83%</text>
<text x="465.00" y="386.70" font-size="6.75" text-anchor="start" fill="#111" >Vim<tspan font-size="4.86" dy="-2.30">+</tspan><tspan dy="2.30">/GFAP</tspan><tspan font-size="4.86" dy="-2.30">+</tspan></text>
<text x="409.40" y="380.50" font-size="6.75" text-anchor="start" fill="#111" >6,628 cells</text>
<text x="409.40" y="388.50" font-size="6.75" text-anchor="start" fill="#111" >67.63%</text>
<text x="423.40" y="411.90" font-size="6.75" text-anchor="start" fill="#111" >Vim<tspan font-size="4.86" dy="-2.30">+</tspan><tspan dy="2.30">/GFAP</tspan><tspan font-size="4.86" dy="-2.30">−</tspan></text>
<text x="397.6" y="457" font-size="10.5" font-weight="bold">f</text>
<line x1="430.6" y1="467.5" x2="430.6" y2="544.4" stroke="#aaa" stroke-width="0.6"/>
<line x1="430.3" y1="544.4" x2="527.8" y2="544.4" stroke="#aaa" stroke-width="0.6"/>
<line x1="428.6" y1="544.2" x2="430.6" y2="544.2" stroke="#888" stroke-width="0.5"/>
<text x="427.20" y="546.50" font-size="6.5" text-anchor="end" fill="#111" >0</text>
<line x1="428.6" y1="527.0" x2="430.6" y2="527.0" stroke="#888" stroke-width="0.5"/>
<text x="427.20" y="529.30" font-size="6.5" text-anchor="end" fill="#111" >20</text>
<line x1="428.6" y1="509.8" x2="430.6" y2="509.8" stroke="#888" stroke-width="0.5"/>
<text x="427.20" y="512.10" font-size="6.5" text-anchor="end" fill="#111" >40</text>
<line x1="428.6" y1="492.6" x2="430.6" y2="492.6" stroke="#888" stroke-width="0.5"/>
<text x="427.20" y="494.90" font-size="6.5" text-anchor="end" fill="#111" >60</text>
<line x1="428.6" y1="475.4" x2="430.6" y2="475.4" stroke="#888" stroke-width="0.5"/>
<text x="427.20" y="477.70" font-size="6.5" text-anchor="end" fill="#111" >80</text>
<polygon points="435.5,544.2 435.0,543.8 437.0,542.9 440.0,542.1 441.5,540.8 441.9,537.3 442.1,531.3 442.3,522.7 442.4,509.8 442.5,496.9 442.6,488.3 442.8,479.7 443.0,478.8 443.0,478.8 443.2,479.7 443.4,488.3 443.5,496.9 443.6,509.8 443.7,522.7 443.9,531.3 444.1,537.3 444.5,540.8 446.0,542.1 449.0,542.9 451.0,543.8 450.5,544.2" fill="#2c7cb6" stroke="#2468a0" stroke-width="0.35"/>
<path d="M443.0 519.8h0M443.6 504.5h0M442.9 543.1h0M442.9 489.3h0M443.0 478.9h0M443.4 513.3h0M443.3 502.2h0M442.5 534.2h0M442.3 509.8h0M442.2 495.6h0M442.9 494.4h0M442.8 505.4h0M443.0 487.4h0M443.1 513.1h0M442.8 497.3h0M442.0 483.8h0M442.3 514.9h0M443.6 482.9h0M443.2 535.1h0M442.8 529.8h0M443.5 503.0h0M442.9 524.3h0M442.5 521.1h0M443.0 505.8h0M442.1 499.4h0M442.5 483.3h0M444.0 500.1h0M441.8 533.3h0M443.8 484.9h0M442.0 506.8h0M442.9 489.6h0M442.7 506.5h0M443.0 488.2h0M443.2 479.3h0M443.8 517.2h0M443.5 534.1h0M442.8 487.0h0M443.8 541.1h0M442.9 497.0h0M442.9 522.4h0M444.0 511.0h0M442.0 478.7h0M442.9 504.8h0M443.2 541.9h0M443.2 504.1h0M443.5 533.8h0M444.0 523.5h0M443.3 481.3h0M443.4 513.9h0M442.7 510.0h0M442.6 507.4h0M442.5 503.5h0M443.6 515.8h0M442.8 496.9h0M443.0 480.1h0M443.4 509.9h0M442.9 516.9h0M443.0 506.1h0M443.7 502.7h0M443.1 540.1h0" stroke="#8fc0e6" stroke-width="0.7" stroke-linecap="round" opacity="0.8" fill="none"/>
<polygon points="465.1,544.2 462.6,543.3 461.2,541.6 460.4,539.0 460.4,535.6 461.0,532.2 462.0,528.7 463.2,525.3 464.6,520.1 465.6,514.1 466.2,508.1 466.6,501.2 467.0,492.6 467.3,484.0 467.6,479.7 467.6,479.7 467.9,484.0 468.2,492.6 468.6,501.2 469.0,508.1 469.6,514.1 470.6,520.1 472.0,525.3 473.2,528.7 474.2,532.2 474.8,535.6 474.8,539.0 474.0,541.6 472.6,543.3 470.1,544.2" fill="#f7f21c" stroke="#a8a420" stroke-width="0.35"/>
<path d="M468.9 535.1h0M469.4 536.8h0M469.7 530.9h0M462.8 541.3h0M469.4 527.4h0M465.1 535.2h0M468.5 537.3h0M466.2 537.4h0M466.3 533.1h0M465.6 536.4h0M470.3 541.9h0M468.3 530.9h0M465.7 538.8h0M470.6 538.6h0M464.5 535.5h0M469.6 540.7h0M465.8 537.1h0M470.9 535.5h0M471.2 539.7h0M466.0 532.2h0M471.4 535.3h0M464.9 540.4h0M467.9 539.3h0M470.7 529.3h0M464.4 538.0h0M470.7 532.3h0M470.7 536.9h0M463.9 537.8h0M470.5 538.1h0M466.1 535.8h0M466.8 535.9h0M471.8 539.9h0M462.6 527.7h0M471.4 527.0h0M466.9 527.6h0M471.9 538.8h0M470.1 529.3h0M469.2 534.2h0M465.5 537.0h0M464.9 541.2h0" stroke="#fffb9a" stroke-width="0.6" stroke-linecap="round" opacity="0.8" fill="none"/>
<line x1="467.6" y1="544" x2="467.6" y2="502.6" stroke="#222" stroke-width="0.5"/>
<line x1="467.6" y1="543.5" x2="467.6" y2="522.5" stroke="#222" stroke-width="1.2"/>
<circle cx="467.6" cy="532.5" r="0.9" fill="#fff"/>
<polygon points="484.8,544.2 485.6,543.7 488.1,542.9 490.1,541.6 490.7,539.0 490.9,533.9 491.1,522.7 491.2,505.5 491.2,488.3 491.4,475.4 491.6,468.5 491.6,468.5 491.8,475.4 492.0,488.3 492.1,505.5 492.2,522.7 492.3,533.9 492.5,539.0 493.1,541.6 495.1,542.9 497.6,543.7 498.4,544.2" fill="#c08ed4" stroke="#9a70b0" stroke-width="0.35"/>
<line x1="491.6" y1="543.5" x2="491.6" y2="530" stroke="#444" stroke-width="0.6"/>
<polygon points="508.0,544.2 508.5,543.5 511.0,542.5 512.8,540.8 513.6,538.2 514.2,533.9 514.7,527.0 515.1,518.4 515.4,509.8 515.6,501.2 516.0,495.2 516.0,495.2 516.4,501.2 516.6,509.8 516.9,518.4 517.3,527.0 517.8,533.9 518.4,538.2 519.2,540.8 521.0,542.5 523.5,543.5 524.0,544.2" fill="#78c08e" stroke="#5a9a70" stroke-width="0.35"/>
<path d="M515.4 504.3h0M515.7 541.8h0M517.0 498.7h0M515.3 500.1h0M516.8 543.4h0M515.4 507.5h0M516.3 511.5h0M516.6 518.3h0M514.4 514.0h0M517.0 527.3h0M516.0 520.6h0M517.6 505.7h0M515.7 517.8h0M516.4 504.0h0M516.7 498.8h0M517.2 504.5h0M516.0 513.2h0M515.9 501.7h0M516.6 530.8h0M516.2 518.2h0M515.2 505.9h0M516.4 543.9h0M516.4 537.9h0M516.1 540.6h0M517.6 539.8h0M515.8 519.4h0M515.7 526.8h0M516.6 512.3h0M515.4 534.6h0M515.6 527.9h0M516.7 508.9h0M516.7 525.4h0M516.4 525.7h0M516.2 514.4h0M516.2 504.7h0M515.2 513.5h0M515.3 519.7h0M516.3 509.5h0M514.9 521.4h0M516.6 532.0h0M514.8 540.5h0M515.7 523.2h0M514.5 498.1h0M516.7 525.7h0M517.1 531.1h0M515.2 521.2h0M517.0 511.5h0M517.0 500.5h0M516.3 508.0h0M514.9 516.4h0M516.8 543.8h0M516.6 537.0h0M516.0 539.5h0M515.8 539.1h0M516.4 542.8h0M515.7 502.7h0M517.1 511.0h0M517.1 503.0h0M517.0 504.8h0M515.7 542.2h0" stroke="#a8dcb8" stroke-width="0.6" stroke-linecap="round" opacity="0.8" fill="none"/>
<line x1="516" y1="543.5" x2="516" y2="530" stroke="#444" stroke-width="0.6"/>
<circle cx="443" cy="542.2" r="0.9" fill="#fff" stroke="#666" stroke-width="0.2"/>
<circle cx="491.6" cy="542.2" r="0.9" fill="#fff" stroke="#666" stroke-width="0.2"/>
<circle cx="516" cy="542.2" r="0.9" fill="#fff" stroke="#666" stroke-width="0.2"/>
<path d="M466.4,463.6 L466.4,460.3 L516.9,460.3 L516.9,463.6 M491.6,460.3 L491.6,463.6" stroke="#222" stroke-width="0.6" fill="none"/>
<text x="491.60" y="459.90" font-size="9.2" text-anchor="middle" fill="#111" >****</text>
<text transform="translate(446.4,551) rotate(-45)" font-size="6.5" text-anchor="end" fill="#111">GFAP<tspan font-size="4" dy="-2.3">+</tspan><tspan dy="2.3"> total</tspan></text>
<text transform="translate(469.6,551) rotate(-45)" font-size="6.5" text-anchor="end" fill="#111">Vim<tspan font-size="4.68" dy="-2.21">−</tspan><tspan dy="2.21">/GFAP</tspan><tspan font-size="4.68" dy="-2.21">+</tspan></text>
<text transform="translate(493,551) rotate(-45)" font-size="6.5" text-anchor="end" fill="#111">Vim<tspan font-size="4.68" dy="-2.21">+</tspan><tspan dy="2.21">/GFAP</tspan><tspan font-size="4.68" dy="-2.21">−</tspan></text>
<text transform="translate(518.2,551) rotate(-45)" font-size="6.5" text-anchor="end" fill="#111">Vim<tspan font-size="4.68" dy="-2.21">+</tspan><tspan dy="2.21">/GFAP</tspan><tspan font-size="4.68" dy="-2.21">+</tspan></text>
<text transform="translate(404.3,506.4) rotate(-90)" font-size="6.5" text-anchor="middle" fill="#111">Shortest distance</text>
<text transform="translate(412.1,506.4) rotate(-90)" font-size="6.5" text-anchor="middle" fill="#111">to vasculature (μm)</text>
<text x="527.8" y="323.8" font-size="11.5" font-weight="bold" font-family="Liberation Serif, serif">g</text>
<rect x="569.0" y="331.5" width="105.29999999999995" height="64.69999999999999" fill="none" stroke="#b0b0b0" stroke-width="0.7"/>
<rect x="574.10" y="336.32" width="4.81" height="59.88" fill="#5aaade" stroke="#2a3a48" stroke-width="0.4"/>
<rect x="578.91" y="384.00" width="4.81" height="12.20" fill="#5aaade" stroke="#2a3a48" stroke-width="0.4"/>
<rect x="583.72" y="388.21" width="4.81" height="7.99" fill="#5aaade" stroke="#2a3a48" stroke-width="0.4"/>
<rect x="588.53" y="391.61" width="4.81" height="4.59" fill="#5aaade" stroke="#2a3a48" stroke-width="0.4"/>
<rect x="593.34" y="392.61" width="4.81" height="3.59" fill="#5aaade" stroke="#2a3a48" stroke-width="0.4"/>
<rect x="598.15" y="393.61" width="4.81" height="2.59" fill="#5aaade" stroke="#2a3a48" stroke-width="0.4"/>
<rect x="602.96" y="393.87" width="4.81" height="2.33" fill="#5aaade" stroke="#2a3a48" stroke-width="0.4"/>
<rect x="607.77" y="395.23" width="4.81" height="0.97" fill="#5aaade" stroke="#2a3a48" stroke-width="0.4"/>
<rect x="612.58" y="395.81" width="4.81" height="0.39" fill="#5aaade" stroke="#2a3a48" stroke-width="0.4"/>
<rect x="617.39" y="395.94" width="4.81" height="0.26" fill="#5aaade" stroke="#2a3a48" stroke-width="0.4"/>
<rect x="622.20" y="396.04" width="4.81" height="0.16" fill="#5aaade" stroke="#2a3a48" stroke-width="0.4"/>
<rect x="627.01" y="396.07" width="4.81" height="0.13" fill="#5aaade" stroke="#2a3a48" stroke-width="0.4"/>
<rect x="631.82" y="396.10" width="4.81" height="0.10" fill="#5aaade" stroke="#2a3a48" stroke-width="0.4"/>
<rect x="636.63" y="396.14" width="4.81" height="0.06" fill="#5aaade" stroke="#2a3a48" stroke-width="0.4"/>
<rect x="641.44" y="396.14" width="4.81" height="0.06" fill="#5aaade" stroke="#2a3a48" stroke-width="0.4"/>
<rect x="646.25" y="396.17" width="4.81" height="0.03" fill="#5aaade" stroke="#2a3a48" stroke-width="0.4"/>
<rect x="651.06" y="396.17" width="4.81" height="0.03" fill="#5aaade" stroke="#2a3a48" stroke-width="0.4"/>
<rect x="655.87" y="396.17" width="4.81" height="0.03" fill="#5aaade" stroke="#2a3a48" stroke-width="0.4"/>
<rect x="660.68" y="396.17" width="4.81" height="0.03" fill="#5aaade" stroke="#2a3a48" stroke-width="0.4"/>
<rect x="665.49" y="396.17" width="4.81" height="0.03" fill="#5aaade" stroke="#2a3a48" stroke-width="0.4"/>
<line x1="566.2" y1="396.20" x2="569.0" y2="396.20" stroke="#999" stroke-width="0.5"/>
<text x="563.30" y="398.50" font-size="6.5" text-anchor="end" fill="#111" >0</text>
<line x1="566.2" y1="380.02" x2="569.0" y2="380.02" stroke="#999" stroke-width="0.5"/>
<text x="563.30" y="382.32" font-size="6.5" text-anchor="end" fill="#111" >500</text>
<line x1="566.2" y1="363.85" x2="569.0" y2="363.85" stroke="#999" stroke-width="0.5"/>
<text x="563.30" y="366.15" font-size="6.5" text-anchor="end" fill="#111" >1,000</text>
<line x1="566.2" y1="347.68" x2="569.0" y2="347.68" stroke="#999" stroke-width="0.5"/>
<text x="563.30" y="349.98" font-size="6.5" text-anchor="end" fill="#111" >1,500</text>
<line x1="566.2" y1="331.50" x2="569.0" y2="331.50" stroke="#999" stroke-width="0.5"/>
<text x="563.30" y="333.80" font-size="6.5" text-anchor="end" fill="#111" >2,000</text>
<line x1="574.10" y1="396.2" x2="574.10" y2="398.2" stroke="#999" stroke-width="0.5"/>
<text x="574.10" y="405.80" font-size="6.5" text-anchor="middle" fill="#111" >0</text>
<line x1="593.34" y1="396.2" x2="593.34" y2="398.2" stroke="#999" stroke-width="0.5"/>
<text x="593.34" y="405.80" font-size="6.5" text-anchor="middle" fill="#111" >20</text>
<line x1="612.58" y1="396.2" x2="612.58" y2="398.2" stroke="#999" stroke-width="0.5"/>
<text x="612.58" y="405.80" font-size="6.5" text-anchor="middle" fill="#111" >40</text>
<line x1="631.82" y1="396.2" x2="631.82" y2="398.2" stroke="#999" stroke-width="0.5"/>
<text x="631.82" y="405.80" font-size="6.5" text-anchor="middle" fill="#111" >60</text>
<line x1="651.06" y1="396.2" x2="651.06" y2="398.2" stroke="#999" stroke-width="0.5"/>
<text x="651.06" y="405.80" font-size="6.5" text-anchor="middle" fill="#111" >80</text>
<line x1="670.30" y1="396.2" x2="670.30" y2="398.2" stroke="#999" stroke-width="0.5"/>
<text x="670.30" y="405.80" font-size="6.5" text-anchor="middle" fill="#111" >100</text>
<text x="672.20" y="340.70" font-size="6.5" text-anchor="end" fill="#111" >Vim<tspan font-size="4.68" dy="-2.21">+</tspan><tspan dy="2.21">/GFAP</tspan><tspan font-size="4.68" dy="-2.21">+</tspan></text>
<text x="616.50" y="375.80" font-size="6.5" text-anchor="middle" fill="#111" >5.9 ± 0.2 μm</text>
<rect x="569.0" y="410.3" width="105.29999999999995" height="64.0" fill="none" stroke="#b0b0b0" stroke-width="0.7"/>
<rect x="574.10" y="416.27" width="4.81" height="58.03" fill="#5aaade" stroke="#2a3a48" stroke-width="0.4"/>
<rect x="578.91" y="430.91" width="4.81" height="43.39" fill="#5aaade" stroke="#2a3a48" stroke-width="0.4"/>
<rect x="583.72" y="438.20" width="4.81" height="36.10" fill="#5aaade" stroke="#2a3a48" stroke-width="0.4"/>
<rect x="588.53" y="441.79" width="4.81" height="32.51" fill="#5aaade" stroke="#2a3a48" stroke-width="0.4"/>
<rect x="593.34" y="448.19" width="4.81" height="26.11" fill="#5aaade" stroke="#2a3a48" stroke-width="0.4"/>
<rect x="598.15" y="459.28" width="4.81" height="15.02" fill="#5aaade" stroke="#2a3a48" stroke-width="0.4"/>
<rect x="602.96" y="461.59" width="4.81" height="12.71" fill="#5aaade" stroke="#2a3a48" stroke-width="0.4"/>
<rect x="607.77" y="466.88" width="4.81" height="7.42" fill="#5aaade" stroke="#2a3a48" stroke-width="0.4"/>
<rect x="612.58" y="468.07" width="4.81" height="6.23" fill="#5aaade" stroke="#2a3a48" stroke-width="0.4"/>
<rect x="617.39" y="465.98" width="4.81" height="8.32" fill="#5aaade" stroke="#2a3a48" stroke-width="0.4"/>
<rect x="622.20" y="471.57" width="4.81" height="2.73" fill="#5aaade" stroke="#2a3a48" stroke-width="0.4"/>
<rect x="627.01" y="471.57" width="4.81" height="2.73" fill="#5aaade" stroke="#2a3a48" stroke-width="0.4"/>
<rect x="631.82" y="471.57" width="4.81" height="2.73" fill="#5aaade" stroke="#2a3a48" stroke-width="0.4"/>
<rect x="636.63" y="473.87" width="4.81" height="0.43" fill="#5aaade" stroke="#2a3a48" stroke-width="0.4"/>
<rect x="641.44" y="473.87" width="4.81" height="0.43" fill="#5aaade" stroke="#2a3a48" stroke-width="0.4"/>
<rect x="646.25" y="473.87" width="4.81" height="0.43" fill="#5aaade" stroke="#2a3a48" stroke-width="0.4"/>
<rect x="651.06" y="474.09" width="4.81" height="0.21" fill="#5aaade" stroke="#2a3a48" stroke-width="0.4"/>
<rect x="655.87" y="474.09" width="4.81" height="0.21" fill="#5aaade" stroke="#2a3a48" stroke-width="0.4"/>
<rect x="660.68" y="474.09" width="4.81" height="0.21" fill="#5aaade" stroke="#2a3a48" stroke-width="0.4"/>
<rect x="665.49" y="474.09" width="4.81" height="0.21" fill="#5aaade" stroke="#2a3a48" stroke-width="0.4"/>
<line x1="566.2" y1="474.30" x2="569.0" y2="474.30" stroke="#999" stroke-width="0.5"/>
<text x="563.30" y="476.60" font-size="6.5" text-anchor="end" fill="#111" >0</text>
<line x1="566.2" y1="452.97" x2="569.0" y2="452.97" stroke="#999" stroke-width="0.5"/>
<text x="563.30" y="455.27" font-size="6.5" text-anchor="end" fill="#111" >50</text>
<line x1="566.2" y1="431.63" x2="569.0" y2="431.63" stroke="#999" stroke-width="0.5"/>
<text x="563.30" y="433.93" font-size="6.5" text-anchor="end" fill="#111" >100</text>
<line x1="566.2" y1="410.30" x2="569.0" y2="410.30" stroke="#999" stroke-width="0.5"/>
<text x="563.30" y="412.60" font-size="6.5" text-anchor="end" fill="#111" >150</text>
<line x1="574.10" y1="474.3" x2="574.10" y2="476.3" stroke="#999" stroke-width="0.5"/>
<text x="574.10" y="483.90" font-size="6.5" text-anchor="middle" fill="#111" >0</text>
<line x1="593.34" y1="474.3" x2="593.34" y2="476.3" stroke="#999" stroke-width="0.5"/>
<text x="593.34" y="483.90" font-size="6.5" text-anchor="middle" fill="#111" >20</text>
<line x1="612.58" y1="474.3" x2="612.58" y2="476.3" stroke="#999" stroke-width="0.5"/>
<text x="612.58" y="483.90" font-size="6.5" text-anchor="middle" fill="#111" >40</text>
<line x1="631.82" y1="474.3" x2="631.82" y2="476.3" stroke="#999" stroke-width="0.5"/>
<text x="631.82" y="483.90" font-size="6.5" text-anchor="middle" fill="#111" >60</text>
<line x1="651.06" y1="474.3" x2="651.06" y2="476.3" stroke="#999" stroke-width="0.5"/>
<text x="651.06" y="483.90" font-size="6.5" text-anchor="middle" fill="#111" >80</text>
<line x1="670.30" y1="474.3" x2="670.30" y2="476.3" stroke="#999" stroke-width="0.5"/>
<text x="670.30" y="483.90" font-size="6.5" text-anchor="middle" fill="#111" >100</text>
<text x="672.20" y="419.50" font-size="6.5" text-anchor="end" fill="#111" >Vim<tspan font-size="4.68" dy="-2.21">−</tspan><tspan dy="2.21">/GFAP</tspan><tspan font-size="4.68" dy="-2.21">+</tspan></text>
<text x="634.60" y="453.10" font-size="6.5" text-anchor="middle" fill="#111" >17.0 ± 0.6 μm</text>
<rect x="569.0" y="486.7" width="105.29999999999995" height="64.59999999999997" fill="none" stroke="#b0b0b0" stroke-width="0.7"/>
<rect x="574.10" y="491.11" width="4.81" height="60.19" fill="#5aaade" stroke="#2a3a48" stroke-width="0.4"/>
<rect x="578.91" y="539.20" width="4.81" height="12.10" fill="#5aaade" stroke="#2a3a48" stroke-width="0.4"/>
<rect x="583.72" y="540.40" width="4.81" height="10.90" fill="#5aaade" stroke="#2a3a48" stroke-width="0.4"/>
<rect x="588.53" y="542.71" width="4.81" height="8.59" fill="#5aaade" stroke="#2a3a48" stroke-width="0.4"/>
<rect x="593.34" y="545.79" width="4.81" height="5.51" fill="#5aaade" stroke="#2a3a48" stroke-width="0.4"/>
<rect x="598.15" y="548.01" width="4.81" height="3.29" fill="#5aaade" stroke="#2a3a48" stroke-width="0.4"/>
<rect x="602.96" y="548.60" width="4.81" height="2.70" fill="#5aaade" stroke="#2a3a48" stroke-width="0.4"/>
<rect x="607.77" y="549.30" width="4.81" height="2.00" fill="#5aaade" stroke="#2a3a48" stroke-width="0.4"/>
<rect x="612.58" y="550.10" width="4.81" height="1.20" fill="#5aaade" stroke="#2a3a48" stroke-width="0.4"/>
<rect x="617.39" y="550.52" width="4.81" height="0.78" fill="#5aaade" stroke="#2a3a48" stroke-width="0.4"/>
<rect x="622.20" y="550.82" width="4.81" height="0.48" fill="#5aaade" stroke="#2a3a48" stroke-width="0.4"/>
<rect x="627.01" y="550.98" width="4.81" height="0.32" fill="#5aaade" stroke="#2a3a48" stroke-width="0.4"/>
<rect x="631.82" y="551.07" width="4.81" height="0.23" fill="#5aaade" stroke="#2a3a48" stroke-width="0.4"/>
<rect x="636.63" y="551.15" width="4.81" height="0.15" fill="#5aaade" stroke="#2a3a48" stroke-width="0.4"/>
<rect x="641.44" y="551.20" width="4.81" height="0.10" fill="#5aaade" stroke="#2a3a48" stroke-width="0.4"/>
<rect x="646.25" y="551.24" width="4.81" height="0.06" fill="#5aaade" stroke="#2a3a48" stroke-width="0.4"/>
<rect x="651.06" y="551.25" width="4.81" height="0.05" fill="#5aaade" stroke="#2a3a48" stroke-width="0.4"/>
<rect x="655.87" y="551.27" width="4.81" height="0.03" fill="#5aaade" stroke="#2a3a48" stroke-width="0.4"/>
<rect x="660.68" y="551.27" width="4.81" height="0.03" fill="#5aaade" stroke="#2a3a48" stroke-width="0.4"/>
<rect x="665.49" y="551.28" width="4.81" height="0.02" fill="#5aaade" stroke="#2a3a48" stroke-width="0.4"/>
<line x1="566.2" y1="551.30" x2="569.0" y2="551.30" stroke="#999" stroke-width="0.5"/>
<text x="563.30" y="553.60" font-size="6.5" text-anchor="end" fill="#111" >0</text>
<line x1="566.2" y1="535.15" x2="569.0" y2="535.15" stroke="#999" stroke-width="0.5"/>
<text x="563.30" y="537.45" font-size="6.5" text-anchor="end" fill="#111" >1,000</text>
<line x1="566.2" y1="519.00" x2="569.0" y2="519.00" stroke="#999" stroke-width="0.5"/>
<text x="563.30" y="521.30" font-size="6.5" text-anchor="end" fill="#111" >2,000</text>
<line x1="566.2" y1="502.85" x2="569.0" y2="502.85" stroke="#999" stroke-width="0.5"/>
<text x="563.30" y="505.15" font-size="6.5" text-anchor="end" fill="#111" >3,000</text>
<line x1="566.2" y1="486.70" x2="569.0" y2="486.70" stroke="#999" stroke-width="0.5"/>
<text x="563.30" y="489.00" font-size="6.5" text-anchor="end" fill="#111" >4,000</text>
<line x1="574.10" y1="551.3" x2="574.10" y2="553.3" stroke="#999" stroke-width="0.5"/>
<text x="574.10" y="560.90" font-size="6.5" text-anchor="middle" fill="#111" >0</text>
<line x1="593.34" y1="551.3" x2="593.34" y2="553.3" stroke="#999" stroke-width="0.5"/>
<text x="593.34" y="560.90" font-size="6.5" text-anchor="middle" fill="#111" >20</text>
<line x1="612.58" y1="551.3" x2="612.58" y2="553.3" stroke="#999" stroke-width="0.5"/>
<text x="612.58" y="560.90" font-size="6.5" text-anchor="middle" fill="#111" >40</text>
<line x1="631.82" y1="551.3" x2="631.82" y2="553.3" stroke="#999" stroke-width="0.5"/>
<text x="631.82" y="560.90" font-size="6.5" text-anchor="middle" fill="#111" >60</text>
<line x1="651.06" y1="551.3" x2="651.06" y2="553.3" stroke="#999" stroke-width="0.5"/>
<text x="651.06" y="560.90" font-size="6.5" text-anchor="middle" fill="#111" >80</text>
<line x1="670.30" y1="551.3" x2="670.30" y2="553.3" stroke="#999" stroke-width="0.5"/>
<text x="670.30" y="560.90" font-size="6.5" text-anchor="middle" fill="#111" >100</text>
<text x="672.20" y="495.90" font-size="6.5" text-anchor="end" fill="#111" >Vim<tspan font-size="4.68" dy="-2.21">+</tspan><tspan dy="2.21">/GFAP</tspan><tspan font-size="4.68" dy="-2.21">−</tspan></text>
<text x="619.20" y="531.90" font-size="6.5" text-anchor="middle" fill="#111" >8.7 ± 0.2 μm</text>
<text transform="translate(545.1,447) rotate(-90)" font-size="6.5" text-anchor="middle" fill="#111">Number of cells</text>
<text x="622.00" y="572.10" font-size="6.5" text-anchor="middle" fill="#111" >Shortest distance</text>
<text x="622.00" y="579.80" font-size="6.5" text-anchor="middle" fill="#111" >to vasculature (μm)</text>
<text x="-0.9" y="604.5" font-size="10.5" font-weight="bold">h</text>
<defs><linearGradient id="jet" x1="0" y1="1" x2="0" y2="0"><stop offset="0" stop-color="#00008f"/><stop offset="0.125" stop-color="#0000ff"/><stop offset="0.375" stop-color="#00ffff"/><stop offset="0.625" stop-color="#ffff00"/><stop offset="0.875" stop-color="#ff0000"/><stop offset="1" stop-color="#800000"/></linearGradient></defs>
<rect x="27" y="622.5" width="7.8" height="94.6" fill="url(#jet)"/>
<line x1="33.6" y1="633.0" x2="34.8" y2="633.0" stroke="#333" stroke-width="0.3"/>
<line x1="33.6" y1="643.5" x2="34.8" y2="643.5" stroke="#333" stroke-width="0.3"/>
<line x1="33.6" y1="654.0" x2="34.8" y2="654.0" stroke="#333" stroke-width="0.3"/>
<line x1="33.6" y1="664.5" x2="34.8" y2="664.5" stroke="#333" stroke-width="0.3"/>
<line x1="33.6" y1="675.1" x2="34.8" y2="675.1" stroke="#333" stroke-width="0.3"/>
<line x1="33.6" y1="685.6" x2="34.8" y2="685.6" stroke="#333" stroke-width="0.3"/>
<line x1="33.6" y1="696.1" x2="34.8" y2="696.1" stroke="#333" stroke-width="0.3"/>
<line x1="33.6" y1="706.6" x2="34.8" y2="706.6" stroke="#333" stroke-width="0.3"/>
<text transform="translate(22.6,672) rotate(-90)" font-size="6.6" text-anchor="middle" fill="#111">Centrality</text>
<text x="113.30" y="607.00" font-size="6.6" text-anchor="middle" fill="#111" >All layers</text>
<text x="226.70" y="607.00" font-size="6.6" text-anchor="middle" fill="#111" >White matter</text>
<text x="361.40" y="607.00" font-size="6.6" text-anchor="middle" fill="#111" >Granular layer</text>
<text x="497.80" y="607.00" font-size="6.6" text-anchor="middle" fill="#111" >Purkinje layer</text>
<text x="611.40" y="607.00" font-size="6.6" text-anchor="middle" fill="#111" >Molecular layer</text>
<text x="13.30" y="746.90" font-size="6.6" text-anchor="start" fill="#111" >Average</text>
<text x="13.30" y="756.60" font-size="6.6" text-anchor="start" fill="#111" >clustering</text>
<text x="13.30" y="766.30" font-size="6.6" text-anchor="start" fill="#111" >coefficient</text>
<text x="13.90" y="784.00" font-size="6.6" text-anchor="start" fill="#111" >Network</text>
<text x="13.90" y="793.40" font-size="6.6" text-anchor="start" fill="#111" >diameter</text>
<text x="122.20" y="759.20" font-size="6.6" text-anchor="middle" fill="#111" >0.66</text>
<text x="121.20" y="789.80" font-size="6.6" text-anchor="middle" fill="#111" >2</text>
<text x="222.00" y="759.20" font-size="6.6" text-anchor="middle" fill="#111" >0.67</text>
<text x="221.00" y="789.80" font-size="6.6" text-anchor="middle" fill="#111" >3</text>
<text x="365.40" y="759.20" font-size="6.6" text-anchor="middle" fill="#111" >0.85</text>
<text x="364.40" y="789.80" font-size="6.6" text-anchor="middle" fill="#111" >2</text>
<text x="508.20" y="759.20" font-size="6.6" text-anchor="middle" fill="#111" >0.76</text>
<text x="507.20" y="789.80" font-size="6.6" text-anchor="middle" fill="#111" >3</text>
<text x="626.80" y="759.20" font-size="6.6" text-anchor="middle" fill="#111" >0.72</text>
<text x="625.80" y="789.80" font-size="6.6" text-anchor="middle" fill="#111" >2</text>
<path d="M123.1 629.2L146.8 629.0M123.1 629.2L109.8 640.8M123.1 629.2L126.5 651.2M123.1 629.2L154.5 651.6M123.1 629.2L106.9 665.5M123.1 629.2L147.8 673.3M123.1 629.2L123.1 681.1M146.8 629.0L109.8 640.8M146.8 629.0L126.5 651.2M146.8 629.0L154.5 651.6M146.8 629.0L106.9 665.5M146.8 629.0L147.8 673.3M146.8 629.0L123.1 681.1M109.8 640.8L126.5 651.2M109.8 640.8L154.5 651.6M109.8 640.8L106.9 665.5M109.8 640.8L147.8 673.3M109.8 640.8L123.1 681.1M126.5 651.2L154.5 651.6M126.5 651.2L106.9 665.5M126.5 651.2L147.8 673.3M126.5 651.2L123.1 681.1M154.5 651.6L106.9 665.5M154.5 651.6L147.8 673.3M154.5 651.6L123.1 681.1M106.9 665.5L147.8 673.3M106.9 665.5L123.1 681.1M147.8 673.3L123.1 681.1M72.6 636.5L123.1 629.2M72.6 636.5L126.5 651.2M72.6 636.5L109.8 640.8M72.6 636.5L53.2 685.2M53.2 685.2L106.9 665.5M53.2 685.2L75.7 726.9M75.7 726.9L123.1 681.1" stroke="#c8c8c8" stroke-width="0.4" fill="none"/>
<circle cx="123.1" cy="629.2" r="2.7" fill="#800000"/>
<circle cx="146.8" cy="629" r="2.2" fill="#d4f448"/>
<circle cx="72.6" cy="636.5" r="1.3" fill="#1e88ff"/>
<circle cx="109.8" cy="640.8" r="2.7" fill="#800000"/>
<circle cx="126.5" cy="651.2" r="2.7" fill="#800000"/>
<circle cx="154.5" cy="651.6" r="2.4" fill="#ff5a10"/>
<circle cx="106.9" cy="665.5" r="2.7" fill="#800000"/>
<circle cx="147.8" cy="673.3" r="2.2" fill="#d4f448"/>
<circle cx="123.1" cy="681.1" r="2.7" fill="#800000"/>
<circle cx="53.2" cy="685.2" r="1.0" fill="#1030f0"/>
<circle cx="75.7" cy="726.9" r="0.7" fill="#10109a"/>
<text x="131.40" y="624.70" font-size="6.5" text-anchor="middle" fill="#111" >GABBR2</text>
<text x="73.90" y="633.90" font-size="6.5" text-anchor="middle" fill="#111" >TUBB3</text>
<text x="149.60" y="630.80" font-size="6.5" text-anchor="start" fill="#111" >MBP</text>
<text x="113.50" y="643.10" font-size="6.5" text-anchor="start" fill="#111" >GS-II</text>
<text x="130.40" y="653.50" font-size="6.5" text-anchor="start" fill="#111" >ConA</text>
<text x="157.80" y="653.90" font-size="6.5" text-anchor="start" fill="#111" >WGA</text>
<text x="111.40" y="667.80" font-size="6.5" text-anchor="start" fill="#111" >GFAP</text>
<text x="150.90" y="675.40" font-size="6.5" text-anchor="start" fill="#111" >Vimentin</text>
<text x="127.20" y="683.10" font-size="6.5" text-anchor="start" fill="#111" >LEL</text>
<text x="55.60" y="687.00" font-size="6.5" text-anchor="start" fill="#111" >TO-PRO</text>
<text x="77.70" y="728.90" font-size="6.5" text-anchor="start" fill="#111" >NeuN</text>
<path d="M256.2 628.9L270.8 633.7M256.2 628.9L239.8 636.9M256.2 628.9L257.9 647.8M256.2 628.9L274.1 649.4M256.2 628.9L239.8 650.1M256.2 628.9L265.5 662.1M256.2 628.9L243.0 665.3M270.8 633.7L239.8 636.9M270.8 633.7L257.9 647.8M270.8 633.7L274.1 649.4M270.8 633.7L239.8 650.1M270.8 633.7L265.5 662.1M270.8 633.7L243.0 665.3M239.8 636.9L257.9 647.8M239.8 636.9L274.1 649.4M239.8 636.9L239.8 650.1M239.8 636.9L265.5 662.1M239.8 636.9L243.0 665.3M257.9 647.8L274.1 649.4M257.9 647.8L239.8 650.1M257.9 647.8L265.5 662.1M257.9 647.8L243.0 665.3M274.1 649.4L239.8 650.1M274.1 649.4L265.5 662.1M274.1 649.4L243.0 665.3M239.8 650.1L265.5 662.1M239.8 650.1L243.0 665.3M265.5 662.1L243.0 665.3M204.0 657.3L239.8 636.9M204.0 657.3L239.8 650.1M204.0 657.3L196.9 692.6M196.9 692.6L243.0 665.3M196.9 692.6L165.0 722.8" stroke="#c8c8c8" stroke-width="0.4" fill="none"/>
<circle cx="256.2" cy="628.9" r="2.3" fill="#ff8410"/>
<circle cx="270.8" cy="633.7" r="2.0" fill="#f4ec10"/>
<circle cx="239.8" cy="636.9" r="2.6" fill="#f01010"/>
<circle cx="257.9" cy="647.8" r="2.0" fill="#f4ec10"/>
<circle cx="274.1" cy="649.4" r="2.4" fill="#ff8410"/>
<circle cx="239.8" cy="650.1" r="2.6" fill="#f01010"/>
<circle cx="265.5" cy="662.1" r="2.3" fill="#ff8410"/>
<circle cx="243" cy="665.3" r="2.7" fill="#800000"/>
<circle cx="204" cy="657.3" r="0.8" fill="#6af0a8"/>
<circle cx="196.9" cy="692.6" r="0.8" fill="#6af0a8"/>
<circle cx="165" cy="722.8" r="0.7" fill="#10109a"/>
<text x="258.90" y="624.80" font-size="6.5" text-anchor="middle" fill="#111" >ConA</text>
<text x="273.80" y="635.80" font-size="6.5" text-anchor="start" fill="#111" >Vimentin</text>
<text x="235.00" y="638.50" font-size="6.5" text-anchor="end" fill="#111" >GS-II</text>
<text x="262.20" y="645.40" font-size="6.5" text-anchor="middle" fill="#111" >MBP</text>
<text x="276.70" y="651.30" font-size="6.5" text-anchor="start" fill="#111" >GFAP</text>
<text x="248.90" y="658.60" font-size="6.5" text-anchor="middle" fill="#111" >GABBR2</text>
<text x="202.80" y="664.20" font-size="6.5" text-anchor="start" fill="#111" >TUBB3</text>
<text x="268.70" y="664.20" font-size="6.5" text-anchor="start" fill="#111" >LEL</text>
<text x="248.00" y="674.30" font-size="6.5" text-anchor="middle" fill="#111" >WGA</text>
<text x="199.60" y="695.80" font-size="6.5" text-anchor="start" fill="#111" >TO-PRO</text>
<text x="167.90" y="725.00" font-size="6.5" text-anchor="start" fill="#111" >NeuN</text>
<path d="M329.6 658.4L360.3 661.0M329.6 658.4L304.4 664.1M329.6 658.4L321.3 678.6M329.6 658.4L342.3 679.7M329.6 658.4L370.3 682.7M329.6 658.4L317.8 701.6M329.6 658.4L343.6 706.2M360.3 661.0L304.4 664.1M360.3 661.0L321.3 678.6M360.3 661.0L342.3 679.7M360.3 661.0L370.3 682.7M360.3 661.0L317.8 701.6M360.3 661.0L343.6 706.2M304.4 664.1L321.3 678.6M304.4 664.1L342.3 679.7M304.4 664.1L370.3 682.7M304.4 664.1L317.8 701.6M304.4 664.1L343.6 706.2M321.3 678.6L342.3 679.7M321.3 678.6L370.3 682.7M321.3 678.6L317.8 701.6M321.3 678.6L343.6 706.2M342.3 679.7L370.3 682.7M342.3 679.7L317.8 701.6M342.3 679.7L343.6 706.2M370.3 682.7L317.8 701.6M370.3 682.7L343.6 706.2M317.8 701.6L343.6 706.2M339.9 630.0L395.7 622.7M395.7 622.7L429.7 635.6M395.7 622.7L370.3 682.7M429.7 635.6L360.3 661.0M339.9 630.0L304.4 664.1M339.9 630.0L329.6 658.4M339.9 630.0L360.3 661.0M339.9 630.0L342.3 679.7" stroke="#c8c8c8" stroke-width="0.4" fill="none"/>
<circle cx="339.9" cy="630" r="1.8" fill="#6af0a8"/>
<circle cx="395.7" cy="622.7" r="0.9" fill="#1030f0"/>
<circle cx="429.7" cy="635.6" r="0.8" fill="#1030f0"/>
<circle cx="329.6" cy="658.4" r="2.6" fill="#ff5a10"/>
<circle cx="360.3" cy="661" r="3.1" fill="#800000"/>
<circle cx="304.4" cy="664.1" r="2.4" fill="#f4ec10"/>
<circle cx="321.3" cy="678.6" r="2.6" fill="#ff5a10"/>
<circle cx="342.3" cy="679.7" r="2.6" fill="#ff5a10"/>
<circle cx="370.3" cy="682.7" r="2.4" fill="#f4ec10"/>
<circle cx="317.8" cy="701.6" r="1.8" fill="#6af0a8"/>
<circle cx="343.6" cy="706.2" r="1.8" fill="#6af0a8"/>
<text x="343.20" y="631.70" font-size="6.5" text-anchor="start" fill="#111" >TUBB3</text>
<text x="398.40" y="624.50" font-size="6.5" text-anchor="start" fill="#111" >TO-PRO</text>
<text x="432.30" y="637.60" font-size="6.5" text-anchor="start" fill="#111" >NeuN</text>
<text x="338.50" y="654.70" font-size="6.5" text-anchor="middle" fill="#111" >GABBR2</text>
<text x="364.60" y="663.90" font-size="6.5" text-anchor="start" fill="#111" >LEL</text>
<text x="308.10" y="666.30" font-size="6.5" text-anchor="start" fill="#111" >GS-II</text>
<text x="321.00" y="686.40" font-size="6.5" text-anchor="middle" fill="#111" >WGA</text>
<text x="345.20" y="687.50" font-size="6.5" text-anchor="middle" fill="#111" >ConA</text>
<text x="374.30" y="684.90" font-size="6.5" text-anchor="start" fill="#111" >GFAP</text>
<text x="319.00" y="709.70" font-size="6.5" text-anchor="middle" fill="#111" >MBP</text>
<text x="354.20" y="714.50" font-size="6.5" text-anchor="middle" fill="#111" >Vimentin</text>
<path d="M507.5 623.6L473.0 648.4M507.5 623.6L536.1 635.1M507.5 623.6L494.9 652.0M507.5 623.6L508.6 666.5M536.1 635.1L494.9 652.0M536.1 635.1L508.6 666.5M473.0 648.4L494.9 652.0M473.0 648.4L508.6 666.5M473.0 648.4L474.1 672.4M473.0 648.4L456.6 686.8M473.0 648.4L482.1 689.6M473.0 648.4L484.8 710.6M494.9 652.0L474.1 672.4M494.9 652.0L456.6 686.8M494.9 652.0L482.1 689.6M494.9 652.0L508.6 666.5M508.6 666.5L474.1 672.4M508.6 666.5L482.1 689.6M508.6 666.5L484.8 710.6M474.1 672.4L456.6 686.8M474.1 672.4L482.1 689.6M474.1 672.4L484.8 710.6M456.6 686.8L482.1 689.6M456.6 686.8L455.5 726.4M456.6 686.8L484.8 710.6M482.1 689.6L455.5 726.4M482.1 689.6L484.8 710.6M484.8 710.6L455.5 726.4" stroke="#c8c8c8" stroke-width="0.4" fill="none"/>
<circle cx="507.5" cy="623.6" r="1.4" fill="#1e88ff"/>
<circle cx="536.1" cy="635.1" r="1.0" fill="#1030f0"/>
<circle cx="473" cy="648.4" r="2.3" fill="#ff8410"/>
<circle cx="494.9" cy="652" r="2.6" fill="#800000"/>
<circle cx="508.6" cy="666.5" r="2.6" fill="#800000"/>
<circle cx="474.1" cy="672.4" r="2.3" fill="#ff8410"/>
<circle cx="456.6" cy="686.8" r="2.3" fill="#ff8410"/>
<circle cx="482.1" cy="689.6" r="2.6" fill="#800000"/>
<circle cx="484.8" cy="710.6" r="2.0" fill="#d4f448"/>
<circle cx="455.5" cy="726.4" r="0.8" fill="#10109a"/>
<text x="509.80" y="625.10" font-size="6.5" text-anchor="start" fill="#111" >ConA</text>
<text x="538.70" y="636.90" font-size="6.5" text-anchor="start" fill="#111" >GS-II</text>
<text x="476.30" y="645.60" font-size="6.5" text-anchor="middle" fill="#111" >WGA</text>
<text x="497.90" y="654.00" font-size="6.5" text-anchor="start" fill="#111" >GABBR2</text>
<text x="511.90" y="668.90" font-size="6.5" text-anchor="start" fill="#111" >TUBB3</text>
<text x="477.60" y="674.20" font-size="6.5" text-anchor="start" fill="#111" >Vimentin</text>
<text x="459.70" y="688.70" font-size="6.5" text-anchor="start" fill="#111" >GFAP</text>
<text x="486.50" y="692.60" font-size="6.5" text-anchor="start" fill="#111" >LEL</text>
<text x="487.70" y="712.70" font-size="6.5" text-anchor="start" fill="#111" >TO-PRO</text>
<text x="457.80" y="728.90" font-size="6.5" text-anchor="start" fill="#111" >NeuN</text>
<path d="M630.5 631.0L663.2 626.8M630.5 631.0L614.2 661.9M630.5 631.0L598.3 677.5M630.5 631.0L652.4 667.4M663.2 626.8L614.2 661.9M663.2 626.8L652.4 667.4M568.3 657.9L614.2 661.9M568.3 657.9L563.5 686.6M568.3 657.9L605.9 694.6M568.3 657.9L598.3 677.5M614.2 661.9L652.4 667.4M614.2 661.9L598.3 677.5M614.2 661.9L563.5 686.6M614.2 661.9L610.0 721.1M614.2 661.9L605.9 694.6M652.4 667.4L605.9 694.6M652.4 667.4L641.4 710.3M598.3 677.5L563.5 686.6M598.3 677.5L605.9 694.6M598.3 677.5L610.0 721.1M598.3 677.5L641.4 710.3M563.5 686.6L605.9 694.6M605.9 694.6L610.0 721.1M605.9 694.6L641.4 710.3M610.0 721.1L641.4 710.3" stroke="#c8c8c8" stroke-width="0.4" fill="none"/>
<circle cx="630.5" cy="631" r="1.4" fill="#1030f0"/>
<circle cx="663.2" cy="626.8" r="1.0" fill="#1030f0"/>
<circle cx="568.3" cy="657.9" r="1.3" fill="#1030f0"/>
<circle cx="614.2" cy="661.9" r="2.9" fill="#800000"/>
<circle cx="652.4" cy="667.4" r="1.6" fill="#20c8ff"/>
<circle cx="598.3" cy="677.5" r="2.4" fill="#ff8410"/>
<circle cx="563.5" cy="686.6" r="1.2" fill="#1030f0"/>
<circle cx="605.9" cy="694.6" r="2.4" fill="#ff8410"/>
<circle cx="641.4" cy="710.3" r="1.3" fill="#1030f0"/>
<circle cx="610" cy="721.1" r="1.3" fill="#1030f0"/>
<text x="632.00" y="628.70" font-size="6.5" text-anchor="middle" fill="#111" >ConA</text>
<text x="663.40" y="624.70" font-size="6.5" text-anchor="middle" fill="#111" >GS-II</text>
<text x="571.70" y="659.80" font-size="6.5" text-anchor="start" fill="#111" >WGA</text>
<text x="618.00" y="663.80" font-size="6.5" text-anchor="start" fill="#111" >GABBR2</text>
<text x="655.20" y="669.50" font-size="6.5" text-anchor="start" fill="#111" >TUBB3</text>
<text x="602.10" y="679.80" font-size="6.5" text-anchor="start" fill="#111" >LEL</text>
<text x="566.00" y="688.90" font-size="6.5" text-anchor="start" fill="#111" >Vimentin</text>
<text x="609.70" y="696.50" font-size="6.5" text-anchor="start" fill="#111" >GFAP</text>
<text x="644.60" y="712.60" font-size="6.5" text-anchor="start" fill="#111" >TO-PRO</text>
<text x="614.50" y="728.20" font-size="6.5" text-anchor="middle" fill="#111" >NeuN</text>
</svg></body></html>
